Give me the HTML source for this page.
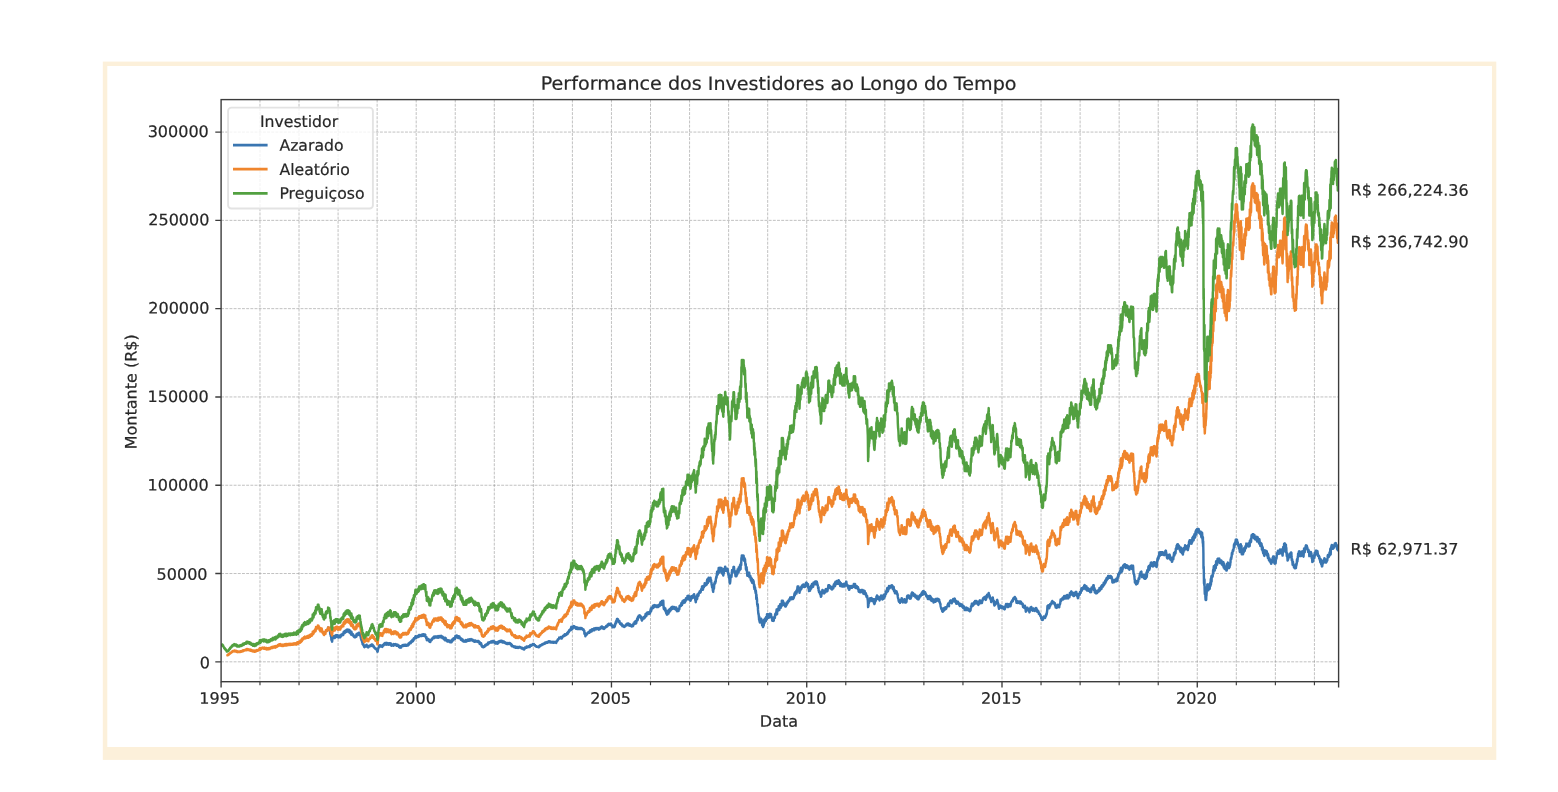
<!DOCTYPE html>
<html lang="pt-BR"><head><meta charset="utf-8"><title>Performance dos Investidores ao Longo do Tempo</title>
<style>
html,body{margin:0;padding:0;background:#ffffff;}
body{width:1558px;height:792px;position:relative;overflow:hidden;}
svg{position:absolute;left:0;top:0;}
text{font-family:"DejaVu Sans", "Liberation Sans", sans-serif;fill:#262626;stroke:#262626;stroke-width:0.2px;paint-order:stroke;}
</style></head><body>
<svg width="1558" height="792" viewBox="0 0 1558 792">
<rect x="102.8" y="61.6" width="1393.5" height="698.3" fill="#fcf0da"/>
<rect x="107.3" y="66" width="1384.65" height="681" fill="#ffffff"/>
<path d="M259.97,99.6V681.7M299.03,99.6V681.7M338.08,99.6V681.7M377.14,99.6V681.7M416.19,99.6V681.7M455.24,99.6V681.7M494.30,99.6V681.7M533.35,99.6V681.7M572.41,99.6V681.7M611.46,99.6V681.7M650.51,99.6V681.7M689.57,99.6V681.7M728.62,99.6V681.7M767.68,99.6V681.7M806.73,99.6V681.7M845.78,99.6V681.7M884.84,99.6V681.7M923.89,99.6V681.7M962.95,99.6V681.7M1002.00,99.6V681.7M1041.05,99.6V681.7M1080.11,99.6V681.7M1119.16,99.6V681.7M1158.22,99.6V681.7M1197.27,99.6V681.7M1236.32,99.6V681.7M1275.38,99.6V681.7M1314.43,99.6V681.7M221.1,661.82H1338.6M221.1,573.53H1338.6M221.1,485.24H1338.6M221.1,396.95H1338.6M221.1,308.65H1338.6M221.1,220.36H1338.6M221.1,132.07H1338.6" fill="none" stroke="#808080" stroke-width="0.79" stroke-dasharray="2.92 1.26" stroke-opacity="0.62"/>
<clipPath id="c"><rect x="221.1" y="99.6" width="1117.50" height="582.10"/></clipPath>
<g clip-path="url(#c)" fill="none" stroke-width="2.45" stroke-linejoin="round" stroke-linecap="butt">
<path d="M327.7,629.3L327.8,629.5L328.0,628.8L328.1,627.5L328.3,628.5L328.5,628.9L328.6,628.9L328.8,629.4L328.9,629.7L329.1,628.2L329.2,628.6L329.4,629.5L329.6,629.7L329.7,629.9L329.9,630.1L330.0,630.6L330.2,633.2L330.4,634.7L330.5,633.5L330.7,634.6L330.8,636.1L331.0,636.7L331.1,636.4L331.3,638.1L331.4,639.9L331.6,640.4L331.8,640.5L331.9,641.1L332.1,641.7L332.2,640.8L332.4,638.9L332.6,638.4L332.7,636.5L332.9,638.5L333.0,638.3L333.2,638.1L333.3,636.4L333.5,636.2L333.6,637.1L333.8,637.7L334.0,637.4L334.1,637.6L334.3,636.5L334.4,635.9L334.6,636.1L334.8,638.1L334.9,637.5L335.1,637.3L335.2,636.0L335.4,635.5L335.5,635.5L335.7,635.4L335.9,636.4L336.0,636.1L336.2,636.3L336.3,635.1L336.5,636.9L336.6,635.7L336.8,636.1L337.0,635.5L337.1,635.9L337.3,635.2L337.4,635.4L337.6,635.9L337.8,635.8L337.9,637.1L338.1,637.4L338.2,637.4L338.4,635.7L338.5,635.5L338.7,636.1L338.9,637.4L339.0,635.7L339.2,635.9L339.3,636.0L339.5,637.1L339.6,636.7L339.8,635.8L339.9,635.9L340.1,636.8L340.3,637.3L340.4,635.2L340.6,635.7L340.7,636.0L340.9,635.9L341.1,634.8L341.2,636.0L341.4,635.7L341.5,635.1L341.7,635.5L341.8,634.5L342.0,634.4L342.1,634.5L342.3,634.0L342.5,634.2L342.6,633.8L342.8,633.9L342.9,634.1L343.1,634.5L343.3,634.9L343.4,633.6L343.6,632.1L343.7,633.6L343.9,632.1L344.0,633.0L344.2,632.1L344.4,631.3L344.5,632.2L344.7,633.0L344.8,632.3L345.0,632.7L345.1,632.4L345.3,632.3L345.5,631.1L345.6,630.4L345.8,631.0L345.9,630.9L346.1,630.9L346.2,631.4L346.4,631.9L346.6,630.2L346.7,629.8L346.9,631.8L347.0,631.4L347.2,631.4L347.4,629.7L347.5,630.9L347.7,630.4L347.8,630.5L348.0,629.7L348.1,630.4L348.3,629.7L348.4,629.7L348.6,630.8L348.8,630.5L348.9,631.5L349.1,631.0L349.2,632.5L349.4,630.0L349.6,630.3L349.7,630.8L349.9,632.9L350.0,632.5L350.2,632.2L350.3,632.6L350.5,632.3L350.6,633.0L350.8,632.6L351.0,634.5L351.1,633.7L351.3,633.9L351.4,631.6L351.6,633.3L351.8,633.2L351.9,634.9L352.1,633.4L352.2,633.9L352.4,633.9L352.5,633.9L352.7,634.4L352.9,635.3L353.0,634.1L353.2,635.3L353.3,636.2L353.5,636.0L353.6,635.6L353.8,635.7L354.0,636.6L354.1,637.0L354.3,637.1L354.4,636.0L354.6,636.2L354.8,636.6L354.9,635.9L355.1,635.8L355.2,636.6L355.4,637.3L355.5,636.9L355.7,636.0L355.9,635.4L356.0,636.4L356.2,635.2L356.3,636.8L356.5,636.2L356.6,634.0L356.8,634.4L356.9,634.6L357.1,635.2L357.3,634.6L357.4,634.0L357.6,633.4L357.7,634.9L357.9,634.8L358.1,634.9L358.2,634.3L358.4,633.5L358.5,633.3L358.7,632.9L358.8,634.8L359.0,634.1L359.1,633.1L359.3,633.0L359.5,634.0L359.6,633.9L359.8,632.8L359.9,634.3L360.1,634.7L360.3,635.4L360.4,636.0L360.6,636.7L360.7,636.9L360.9,638.1L361.0,638.7L361.2,638.6L361.4,640.0L361.5,639.6L361.7,639.9L361.8,640.9L362.0,641.7L362.1,641.3L362.3,642.5L362.5,643.0L362.6,644.2L362.8,644.4L362.9,643.3L363.1,643.6L363.2,644.4L363.4,645.1L363.6,645.6L363.7,645.4L363.9,645.9L364.0,646.3L364.2,647.0L364.4,647.1L364.5,646.1L364.7,646.9L364.8,647.0L365.0,646.3L365.1,646.0L365.3,645.8L365.4,645.4L365.6,645.9L365.8,646.6L365.9,645.8L366.1,645.9L366.2,645.7L366.4,645.5L366.6,644.8L366.7,645.7L366.9,645.8L367.0,646.1L367.2,645.6L367.3,646.4L367.5,645.9L367.6,646.6L367.8,647.2L368.0,646.5L368.1,646.4L368.3,646.9L368.4,647.4L368.6,646.8L368.8,646.0L368.9,646.3L369.1,646.3L369.2,646.0L369.4,645.8L369.5,646.0L369.7,645.9L369.9,646.2L370.0,645.9L370.2,645.8L370.3,645.2L370.5,645.9L370.6,645.9L370.8,645.4L371.0,645.3L371.1,645.9L371.3,645.0L371.4,645.4L371.6,644.5L371.8,645.5L371.9,645.5L372.1,645.9L372.2,645.3L372.4,644.6L372.5,645.2L372.7,646.3L372.9,646.0L373.0,645.3L373.2,645.7L373.3,646.3L373.5,646.1L373.6,646.5L373.8,646.6L373.9,646.3L374.1,647.5L374.3,647.2L374.4,647.9L374.6,647.8L374.7,648.0L374.9,648.2L375.1,648.0L375.2,648.1L375.4,648.5L375.5,649.1L375.7,648.9L375.8,649.0L376.0,648.6L376.2,649.1L376.3,649.2L376.5,649.4L376.6,649.8L376.8,649.8L376.9,649.9L377.1,650.6L377.3,651.3L377.4,651.6L377.6,651.7L377.7,651.3L377.9,650.0L378.0,649.5L378.2,648.6L378.4,648.3L378.5,647.4L378.7,647.4L378.8,647.4L379.0,646.8L379.1,646.4L379.3,645.4L379.5,645.3L379.6,645.6L379.8,645.9L379.9,645.9L380.1,645.5L380.2,645.7L380.4,645.5L380.6,646.4L380.7,645.4L380.9,646.6L381.0,646.1L381.2,645.9L381.4,646.3L381.5,646.0L381.7,645.6L381.8,645.6L382.0,646.1L382.1,646.0L382.3,646.6L382.4,646.9L382.6,645.5L382.8,645.6L382.9,645.0L383.1,645.2L383.2,644.8L383.4,645.1L383.6,645.4L383.7,644.7L383.9,644.2L384.0,643.7L384.2,643.7L384.3,644.5L384.5,644.1L384.7,644.4L384.8,643.2L385.0,643.8L385.1,642.9L385.3,643.8L385.4,644.0L385.6,643.2L385.8,643.7L385.9,643.9L386.1,643.0L386.2,644.7L386.4,644.7L386.5,643.2L386.7,642.9L386.9,643.8L387.0,644.0L387.2,644.2L387.3,643.3L387.5,643.9L387.6,644.5L387.8,644.0L388.0,643.7L388.1,643.1L388.3,643.8L388.4,644.1L388.6,643.5L388.8,644.7L388.9,644.1L389.1,644.7L389.2,644.3L389.4,643.7L389.5,643.3L389.7,643.8L389.9,643.8L390.0,643.3L390.2,643.2L390.3,643.8L390.5,644.3L390.6,644.5L390.8,643.5L390.9,644.3L391.1,645.4L391.3,645.3L391.4,645.8L391.6,645.5L391.7,645.3L391.9,645.4L392.1,644.6L392.2,645.6L392.4,645.5L392.5,645.5L392.7,644.9L392.8,644.5L393.0,644.9L393.2,645.1L393.3,644.6L393.5,645.4L393.6,645.6L393.8,644.7L393.9,644.1L394.1,644.7L394.3,645.1L394.4,644.3L394.6,644.1L394.7,644.1L394.9,644.3L395.1,644.7L395.2,644.4L395.4,644.7L395.5,644.1L395.7,644.2L395.8,644.2L396.0,645.0L396.1,645.0L396.3,645.2L396.5,645.8L396.6,644.8L396.8,644.6L396.9,644.8L397.1,644.9L397.2,644.8L397.4,645.2L397.6,645.3L397.7,644.7L397.9,645.7L398.0,645.1L398.2,645.3L398.4,645.8L398.5,646.0L398.7,646.4L398.8,646.1L399.0,647.0L399.1,646.0L399.3,645.9L399.4,647.0L399.6,647.0L399.8,647.6L399.9,647.4L400.1,646.7L400.2,646.3L400.4,647.3L400.6,647.6L400.7,646.9L400.9,646.8L401.0,646.9L401.2,647.5L401.3,646.0L401.5,646.2L401.7,645.9L401.8,645.9L402.0,645.5L402.1,645.6L402.3,646.0L402.4,646.0L402.6,646.1L402.8,645.9L402.9,646.0L403.1,645.0L403.2,645.6L403.4,645.3L403.6,645.9L403.7,645.6L403.9,645.0L404.0,645.0L404.2,645.1L404.3,645.5L404.5,645.7L404.6,645.0L404.8,644.9L405.0,645.7L405.1,645.5L405.3,645.1L405.4,644.9L405.6,645.3L405.8,645.3L405.9,645.5L406.1,645.8L406.2,645.0L406.4,645.5L406.5,645.7L406.7,645.8L406.9,645.2L407.0,645.4L407.2,645.1L407.3,644.8L407.5,644.6L407.6,645.5L407.8,645.2L407.9,645.5L408.1,645.2L408.3,644.6L408.4,644.2L408.6,643.4L408.7,644.5L408.9,644.7L409.1,643.7L409.2,643.1L409.4,643.2L409.5,643.5L409.7,643.2L409.8,642.4L410.0,643.4L410.2,642.7L410.3,642.6L410.5,642.4L410.6,643.2L410.8,643.1L410.9,643.0L411.1,642.3L411.3,642.0L411.4,640.9L411.6,641.7L411.7,641.9L411.9,641.9L412.1,641.7L412.2,641.7L412.4,639.9L412.5,639.7L412.7,640.0L412.8,640.8L413.0,641.2L413.1,641.2L413.3,639.2L413.5,639.7L413.6,640.0L413.8,639.7L413.9,638.2L414.1,638.1L414.2,638.7L414.4,638.9L414.6,638.7L414.7,638.7L414.9,638.0L415.0,638.1L415.2,637.1L415.4,636.4L415.5,636.2L415.7,637.0L415.8,637.2L416.0,636.8L416.1,636.5L416.3,637.0L416.4,636.7L416.6,637.7L416.8,637.1L416.9,637.3L417.1,637.2L417.2,636.8L417.4,636.3L417.6,636.1L417.7,637.1L417.9,637.0L418.0,636.6L418.2,636.9L418.3,636.7L418.5,635.8L418.7,636.1L418.8,636.8L419.0,635.4L419.1,635.1L419.3,636.1L419.4,635.9L419.6,635.2L419.8,635.8L419.9,635.1L420.1,636.0L420.2,635.8L420.4,635.9L420.6,635.3L420.7,635.8L420.9,635.8L421.0,636.1L421.2,634.9L421.3,635.6L421.5,634.7L421.6,634.9L421.8,636.0L422.0,635.7L422.1,635.6L422.3,634.5L422.4,634.7L422.6,635.6L422.8,635.5L422.9,635.4L423.1,635.8L423.2,634.7L423.4,635.2L423.5,634.2L423.7,634.2L423.9,634.2L424.0,634.5L424.2,635.4L424.3,636.0L424.5,634.9L424.6,635.6L424.8,635.4L424.9,636.1L425.1,635.2L425.3,634.6L425.4,635.5L425.6,636.6L425.7,636.9L425.9,637.2L426.1,637.6L426.2,638.4L426.4,637.0L426.5,638.7L426.7,638.7L426.8,640.2L427.0,639.7L427.2,639.2L427.3,640.1L427.5,638.8L427.6,640.0L427.8,639.7L427.9,640.1L428.1,638.9L428.3,639.0L428.4,640.1L428.6,640.7L428.7,640.7L428.9,639.5L429.1,640.1L429.2,639.9L429.4,641.7L429.5,641.1L429.7,640.5L429.8,640.1L430.0,641.5L430.1,641.9L430.3,641.9L430.5,640.9L430.6,640.1L430.8,639.7L430.9,639.8L431.1,640.3L431.2,640.0L431.4,640.3L431.6,640.1L431.7,639.9L431.9,639.5L432.0,639.0L432.2,638.5L432.4,638.2L432.5,638.6L432.7,638.2L432.8,637.9L433.0,637.8L433.1,638.0L433.3,637.2L433.4,638.0L433.6,637.6L433.8,638.3L433.9,638.0L434.1,637.4L434.2,636.5L434.4,636.6L434.6,637.5L434.7,637.5L434.9,637.5L435.0,637.1L435.2,636.4L435.3,636.4L435.5,636.7L435.7,637.5L435.8,637.3L436.0,636.5L436.1,637.5L436.3,637.6L436.4,637.5L436.6,636.8L436.8,637.1L436.9,637.2L437.1,636.4L437.2,637.1L437.4,637.6L437.6,636.6L437.7,636.6L437.9,637.7L438.0,637.7L438.2,637.4L438.3,636.1L438.5,637.6L438.6,636.3L438.8,637.2L439.0,636.7L439.1,636.3L439.3,636.0L439.4,636.1L439.6,636.6L439.8,636.3L439.9,636.5L440.1,637.2L440.2,636.6L440.4,636.3L440.5,635.9L440.7,636.6L440.9,636.4L441.0,636.3L441.2,635.9L441.3,635.9L441.5,636.1L441.6,636.0L441.8,637.0L442.0,637.8L442.1,637.6L442.3,637.4L442.4,637.4L442.6,638.3L442.7,637.1L442.9,636.9L443.1,637.1L443.2,637.1L443.4,637.7L443.5,638.0L443.7,638.0L443.8,637.8L444.0,638.1L444.2,639.5L444.3,638.7L444.5,637.9L444.6,638.1L444.8,637.8L444.9,638.6L445.1,639.5L445.3,640.4L445.4,639.7L445.6,638.0L445.7,638.3L445.9,639.9L446.1,639.8L446.2,640.1L446.4,640.0L446.5,640.5L446.7,640.6L446.8,639.7L447.0,640.3L447.1,641.1L447.3,641.6L447.5,641.2L447.6,641.3L447.8,640.9L447.9,641.2L448.1,641.1L448.2,640.2L448.4,640.6L448.6,641.1L448.7,641.5L448.9,641.1L449.0,640.6L449.2,640.6L449.4,640.9L449.5,640.7L449.7,641.0L449.8,640.4L450.0,641.2L450.1,642.3L450.3,641.1L450.5,641.1L450.6,641.4L450.8,641.1L450.9,642.0L451.1,641.5L451.2,642.2L451.4,642.0L451.6,642.1L451.7,641.7L451.9,640.8L452.0,640.8L452.2,639.4L452.3,639.6L452.5,639.2L452.7,640.3L452.8,640.6L453.0,640.0L453.1,639.9L453.3,638.5L453.4,638.6L453.6,639.2L453.8,639.2L453.9,639.1L454.1,639.5L454.2,638.0L454.4,638.0L454.6,638.1L454.7,637.8L454.9,638.9L455.0,638.4L455.2,638.4L455.3,636.6L455.5,635.9L455.6,636.0L455.8,636.0L456.0,636.5L456.1,636.4L456.3,637.0L456.4,636.6L456.6,636.8L456.8,635.5L456.9,636.3L457.1,636.0L457.2,637.5L457.4,636.8L457.5,636.6L457.7,636.2L457.9,637.0L458.0,636.2L458.2,638.0L458.3,637.2L458.5,636.3L458.6,637.9L458.8,637.4L459.0,637.2L459.1,636.7L459.3,637.5L459.4,636.4L459.6,637.1L459.7,637.5L459.9,638.1L460.1,637.9L460.2,638.6L460.4,638.4L460.5,638.5L460.7,638.7L460.9,639.8L461.0,639.1L461.2,638.9L461.3,638.5L461.5,638.7L461.6,639.0L461.8,639.3L461.9,639.4L462.1,640.5L462.3,640.2L462.4,639.2L462.6,640.8L462.7,640.6L462.9,640.3L463.1,640.1L463.2,640.4L463.4,641.6L463.5,641.0L463.7,640.6L463.8,640.7L464.0,640.9L464.1,641.3L464.3,641.6L464.5,641.2L464.6,641.3L464.8,641.1L464.9,641.3L465.1,641.0L465.2,640.6L465.4,641.6L465.6,641.5L465.7,641.6L465.9,641.3L466.0,640.1L466.2,641.0L466.4,641.6L466.5,640.5L466.7,640.8L466.8,640.0L467.0,640.0L467.1,640.5L467.3,640.8L467.5,640.3L467.6,639.8L467.8,640.3L467.9,640.5L468.1,640.5L468.2,640.8L468.4,639.6L468.6,639.5L468.7,640.3L468.9,640.8L469.0,640.5L469.2,639.4L469.4,639.4L469.5,639.9L469.7,639.3L469.8,640.0L470.0,640.6L470.1,640.5L470.3,640.5L470.4,640.3L470.6,639.4L470.8,639.9L470.9,640.1L471.1,639.4L471.2,639.1L471.4,639.4L471.6,639.9L471.7,640.0L471.9,639.5L472.0,639.6L472.2,639.7L472.3,640.3L472.5,640.0L472.6,640.6L472.8,640.0L473.0,640.5L473.1,640.9L473.3,640.7L473.4,640.1L473.6,641.0L473.8,640.9L473.9,641.4L474.1,641.6L474.2,640.5L474.4,641.5L474.5,641.2L474.7,641.4L474.9,641.3L475.0,641.8L475.2,641.4L475.3,640.5L475.5,641.2L475.6,641.2L475.8,641.6L476.0,641.6L476.1,641.6L476.3,641.6L476.4,641.5L476.6,641.4L476.7,641.5L476.9,641.1L477.1,641.7L477.2,641.7L477.4,641.2L477.5,641.0L477.7,641.6L477.9,641.6L478.0,642.0L478.2,641.5L478.3,641.6L478.5,641.0L478.6,642.1L478.8,641.3L478.9,641.6L479.1,642.3L479.3,642.5L479.4,642.6L479.6,643.8L479.7,642.1L479.9,642.7L480.1,643.1L480.2,643.4L480.4,644.2L480.5,643.7L480.7,644.2L480.8,643.7L481.0,643.8L481.1,643.1L481.3,644.4L481.5,644.4L481.6,645.7L481.8,646.2L481.9,646.2L482.1,645.9L482.2,646.9L482.4,646.4L482.6,646.6L482.7,646.3L482.9,647.1L483.0,646.7L483.2,646.4L483.4,646.8L483.5,647.2L483.7,646.9L483.8,646.4L484.0,646.3L484.1,646.6L484.3,646.8L484.5,646.4L484.6,645.9L484.8,646.5L484.9,646.0L485.1,645.7L485.2,645.0L485.4,644.9L485.6,645.3L485.7,645.5L485.9,645.4L486.0,645.3L486.2,645.5L486.4,645.0L486.5,644.5L486.7,645.0L486.8,644.5L487.0,644.5L487.1,644.3L487.3,643.6L487.4,643.6L487.6,644.2L487.8,644.5L487.9,643.9L488.1,643.0L488.2,642.5L488.4,642.9L488.6,643.7L488.7,643.3L488.9,642.8L489.0,643.4L489.2,642.8L489.3,642.8L489.5,643.1L489.6,642.3L489.8,642.3L490.0,642.6L490.1,642.3L490.3,642.6L490.4,642.2L490.6,642.1L490.8,642.3L490.9,641.5L491.1,641.5L491.2,641.6L491.4,641.8L491.5,642.1L491.7,642.0L491.9,642.6L492.0,642.0L492.2,641.5L492.3,641.1L492.5,642.0L492.6,642.2L492.8,641.6L493.0,641.2L493.1,641.0L493.3,642.3L493.4,641.4L493.6,641.4L493.8,641.1L493.9,642.3L494.1,642.5L494.2,641.8L494.4,641.7L494.5,642.4L494.7,642.9L494.9,642.0L495.0,642.0L495.2,642.5L495.3,642.6L495.5,643.5L495.6,642.4L495.8,642.0L495.9,642.3L496.1,643.6L496.3,643.4L496.4,642.8L496.6,642.8L496.7,642.7L496.9,642.9L497.1,642.7L497.2,643.5L497.4,643.6L497.5,643.1L497.7,643.6L497.8,642.1L498.0,642.7L498.1,643.4L498.3,642.9L498.5,641.5L498.6,641.8L498.8,642.4L498.9,642.2L499.1,641.7L499.3,641.3L499.4,641.8L499.6,641.1L499.7,641.3L499.9,641.7L500.0,642.1L500.2,641.8L500.4,641.6L500.5,641.2L500.7,640.7L500.8,640.7L501.0,641.7L501.1,641.6L501.3,641.1L501.5,641.5L501.6,640.8L501.8,641.4L501.9,641.7L502.1,640.9L502.2,641.6L502.4,642.5L502.6,641.4L502.7,641.6L502.9,641.4L503.0,641.8L503.2,642.0L503.4,642.4L503.5,642.0L503.7,641.5L503.8,642.2L504.0,641.7L504.1,642.2L504.3,642.7L504.4,642.3L504.6,642.4L504.8,642.3L504.9,642.2L505.1,642.6L505.2,642.4L505.4,643.3L505.6,642.6L505.7,643.1L505.9,642.9L506.0,643.4L506.2,643.0L506.3,643.2L506.5,643.8L506.6,643.5L506.8,643.6L507.0,644.0L507.1,643.0L507.3,643.0L507.4,643.9L507.6,643.5L507.8,644.0L507.9,643.7L508.1,643.3L508.2,643.5L508.4,643.8L508.5,643.4L508.7,643.2L508.9,643.5L509.0,643.0L509.2,643.8L509.3,643.2L509.5,643.9L509.6,643.1L509.8,643.0L510.0,643.6L510.1,643.4L510.3,643.3L510.4,643.7L510.6,644.3L510.8,644.5L510.9,644.6L511.1,644.6L511.2,644.9L511.4,645.7L511.5,645.2L511.7,644.6L511.9,645.3L512.0,646.3L512.2,646.1L512.3,646.0L512.5,645.8L512.6,646.0L512.8,646.1L513.0,646.0L513.1,646.4L513.3,646.2L513.4,646.5L513.6,646.2L513.7,646.2L513.9,646.4L514.0,647.2L514.2,646.5L514.4,646.7L514.5,646.6L514.7,646.7L514.8,647.0L515.0,646.9L515.1,646.4L515.3,647.3L515.5,647.8L515.6,647.7L515.8,647.3L515.9,647.6L516.1,647.4L516.3,647.8L516.4,647.7L516.6,647.4L516.7,647.1L516.9,647.5L517.0,647.0L517.2,647.3L517.4,647.1L517.5,647.2L517.7,647.2L517.8,647.9L518.0,647.5L518.1,647.3L518.3,647.4L518.5,647.9L518.6,647.6L518.8,647.4L518.9,647.2L519.1,646.9L519.2,647.2L519.4,647.1L519.6,647.0L519.7,647.4L519.9,647.6L520.0,647.6L520.2,647.1L520.4,647.3L520.5,647.4L520.7,647.5L520.8,647.3L521.0,647.5L521.1,647.6L521.3,647.9L521.5,648.1L521.6,648.6L521.8,648.5L521.9,647.9L522.1,647.8L522.2,648.1L522.4,648.4L522.5,648.1L522.7,648.3L522.9,648.9L523.0,649.0L523.2,649.1L523.3,648.6L523.5,648.8L523.6,648.6L523.8,649.1L524.0,649.1L524.1,649.6L524.3,648.9L524.4,648.8L524.6,648.8L524.8,648.2L524.9,647.5L525.1,647.7L525.2,647.5L525.4,647.8L525.5,647.7L525.7,647.2L525.9,647.6L526.0,647.4L526.2,647.5L526.3,647.8L526.5,647.6L526.6,646.5L526.8,647.4L527.0,647.1L527.1,647.1L527.3,646.8L527.4,647.0L527.6,646.8L527.8,647.2L527.9,647.1L528.1,646.8L528.2,646.6L528.4,646.5L528.5,646.5L528.7,647.1L528.9,646.8L529.0,646.8L529.2,647.0L529.3,646.1L529.5,646.0L529.6,646.5L529.8,647.1L530.0,646.2L530.1,645.6L530.3,645.0L530.4,646.1L530.6,646.0L530.7,645.4L530.9,645.6L531.0,645.8L531.2,645.6L531.4,645.6L531.5,645.5L531.7,645.3L531.8,645.5L532.0,645.3L532.2,644.6L532.3,644.8L532.5,645.1L532.6,644.7L532.8,644.3L532.9,644.0L533.1,644.2L533.3,644.5L533.4,644.3L533.6,644.6L533.7,644.2L533.9,644.1L534.0,644.5L534.2,644.7L534.4,645.3L534.5,645.1L534.7,645.6L534.8,644.9L535.0,644.9L535.1,645.5L535.3,645.8L535.5,645.7L535.6,646.2L535.8,646.2L535.9,646.3L536.1,646.2L536.2,646.2L536.4,646.7L536.6,646.3L536.7,646.4L536.9,646.6L537.0,646.8L537.2,646.7L537.4,646.7L537.5,646.9L537.7,647.0L537.8,646.9L538.0,647.0L538.1,647.0L538.3,647.2L538.5,647.0L538.6,646.7L538.8,646.3L538.9,646.9L539.1,647.1L539.2,646.7L539.4,646.3L539.5,646.3L539.7,645.6L539.9,646.2L540.0,645.8L540.2,646.0L540.3,645.6L540.5,645.9L540.7,645.5L540.8,645.2L541.0,645.1L541.1,645.2L541.3,645.0L541.4,644.8L541.6,645.1L541.8,645.1L541.9,644.8L542.1,645.0L542.2,644.2L542.4,644.0L542.5,643.9L542.7,644.0L542.9,644.2L543.0,644.1L543.2,644.2L543.3,644.0L543.5,644.3L543.6,643.9L543.8,643.5L544.0,643.5L544.1,643.4L544.3,643.8L544.4,643.2L544.6,643.4L544.8,642.7L544.9,643.2L545.1,642.8L545.2,643.3L545.4,643.4L545.5,643.2L545.7,642.5L545.9,642.4L546.0,642.5L546.2,642.5L546.3,642.4L546.5,642.6L546.6,642.3L546.8,642.5L547.0,642.3L547.1,641.9L547.3,642.3L547.4,642.3L547.6,642.7L547.7,642.0L547.9,642.4L548.0,641.9L548.2,641.7L548.4,641.6L548.5,642.3L548.7,642.0L548.8,641.2L549.0,641.5L549.2,642.1L549.3,641.9L549.5,642.1L549.6,641.5L549.8,641.8L549.9,641.8L550.1,642.3L550.3,641.6L550.4,642.0L550.6,642.5L550.7,642.5L550.9,642.4L551.0,641.6L551.2,642.2L551.4,642.3L551.5,642.6L551.7,641.9L551.8,642.2L552.0,642.0L552.1,642.0L552.3,642.1L552.5,642.0L552.6,642.3L552.8,642.4L552.9,642.0L553.1,642.7L553.2,642.4L553.4,641.8L553.6,641.9L553.7,642.2L553.9,642.4L554.0,642.6L554.2,642.2L554.4,642.1L554.5,642.0L554.7,642.2L554.8,642.3L555.0,642.5L555.1,642.1L555.3,642.6L555.5,642.4L555.6,642.0L555.8,641.9L555.9,642.7L556.1,642.9L556.2,642.9L556.4,642.3L556.5,641.2L556.7,641.2L556.9,641.0L557.0,641.2L557.2,641.1L557.3,640.4L557.5,639.9L557.7,640.5L557.8,639.5L558.0,640.0L558.1,639.8L558.3,638.9L558.4,639.1L558.6,639.1L558.8,638.8L558.9,638.9L559.1,638.7L559.2,637.6L559.4,638.2L559.5,638.4L559.7,638.2L559.9,637.9L560.0,637.8L560.2,638.1L560.3,637.9L560.5,637.8L560.6,638.1L560.8,637.1L561.0,638.3L561.1,637.7L561.3,637.4L561.4,637.6L561.6,637.9L561.8,638.5L561.9,638.0L562.1,637.5L562.2,637.2L562.4,637.5L562.5,636.4L562.7,636.4L562.9,636.1L563.0,635.9L563.2,635.8L563.3,636.4L563.5,636.2L563.6,635.6L563.8,635.3L564.0,635.9L564.1,635.7L564.3,636.0L564.4,636.0L564.6,634.5L564.7,634.3L564.9,634.3L565.1,634.8L565.2,634.7L565.4,635.4L565.5,635.1L565.7,634.9L565.8,634.8L566.0,635.1L566.2,634.8L566.3,634.0L566.5,634.3L566.6,634.5L566.8,634.4L566.9,633.9L567.1,633.0L567.3,633.2L567.4,633.4L567.6,634.0L567.7,632.4L567.9,632.4L568.0,632.6L568.2,631.7L568.4,631.8L568.5,632.0L568.7,632.4L568.8,631.8L569.0,631.6L569.1,630.2L569.3,631.2L569.5,630.6L569.6,630.2L569.8,630.6L569.9,630.5L570.1,629.5L570.2,629.9L570.4,629.2L570.6,629.7L570.7,630.2L570.9,630.1L571.0,628.2L571.2,627.3L571.4,626.8L571.5,627.4L571.7,627.5L571.8,627.4L572.0,629.2L572.1,628.6L572.3,628.6L572.5,628.5L572.6,628.7L572.8,628.0L572.9,627.7L573.1,627.3L573.2,627.5L573.4,626.1L573.6,626.5L573.7,627.2L573.9,627.6L574.0,627.6L574.2,626.1L574.3,626.1L574.5,627.0L574.7,627.4L574.8,627.3L575.0,627.7L575.1,627.8L575.3,627.5L575.4,627.5L575.6,628.3L575.8,628.6L575.9,627.2L576.1,628.5L576.2,628.6L576.4,628.0L576.5,628.1L576.7,628.0L576.9,627.6L577.0,628.3L577.2,629.0L577.3,629.1L577.5,629.1L577.6,627.8L577.8,628.0L578.0,627.9L578.1,628.9L578.3,628.5L578.4,628.5L578.6,628.4L578.8,629.0L578.9,628.5L579.1,628.8L579.2,628.5L579.4,629.1L579.5,628.8L579.7,628.0L579.9,628.3L580.0,628.7L580.2,628.2L580.3,628.1L580.5,628.6L580.6,629.1L580.8,628.6L581.0,628.8L581.1,627.9L581.3,628.5L581.4,628.7L581.6,628.5L581.7,628.2L581.9,628.8L582.1,628.5L582.2,628.8L582.4,629.4L582.5,629.5L582.7,629.2L582.8,629.0L583.0,629.8L583.2,630.0L583.3,630.1L583.5,629.4L583.6,629.8L583.8,630.1L584.0,630.9L584.1,630.9L584.3,630.8L584.4,633.8L584.6,633.2L584.7,632.7L584.9,633.6L585.0,633.1L585.2,633.8L585.4,636.3L585.5,635.6L585.7,635.2L585.8,635.1L586.0,635.0L586.1,634.8L586.3,634.7L586.5,634.8L586.6,634.7L586.8,634.2L586.9,633.5L587.1,633.3L587.2,633.5L587.4,633.6L587.6,633.5L587.7,633.0L587.9,632.4L588.0,632.4L588.2,632.9L588.4,633.0L588.5,632.2L588.7,632.3L588.8,632.4L589.0,632.2L589.1,632.2L589.3,631.8L589.5,632.7L589.6,631.5L589.8,630.8L589.9,630.5L590.1,630.9L590.2,631.4L590.4,631.7L590.6,631.5L590.7,630.4L590.9,630.3L591.0,630.0L591.2,631.1L591.3,630.5L591.5,631.6L591.7,630.9L591.8,630.9L592.0,629.2L592.1,629.2L592.3,629.1L592.5,629.1L592.6,630.4L592.8,630.5L592.9,630.1L593.1,629.7L593.2,630.3L593.4,629.7L593.5,630.2L593.7,629.6L593.9,628.6L594.0,629.8L594.2,630.0L594.3,630.3L594.5,629.6L594.6,628.4L594.8,628.3L595.0,629.0L595.1,628.6L595.3,629.3L595.4,629.0L595.6,629.3L595.8,628.7L595.9,628.7L596.1,628.1L596.2,628.3L596.4,628.6L596.5,628.7L596.7,629.1L596.9,628.2L597.0,628.0L597.2,628.8L597.3,628.9L597.5,628.7L597.6,629.0L597.8,628.9L598.0,628.7L598.1,628.0L598.3,628.4L598.4,628.8L598.6,628.8L598.7,629.2L598.9,629.7L599.1,629.0L599.2,629.2L599.4,629.2L599.5,629.3L599.7,628.8L599.8,629.0L600.0,628.7L600.2,628.2L600.3,627.6L600.5,627.9L600.6,628.4L600.8,628.0L601.0,627.2L601.1,627.6L601.3,627.3L601.4,627.5L601.6,626.5L601.7,626.5L601.9,626.5L602.0,626.5L602.2,627.8L602.4,627.8L602.5,628.4L602.7,626.9L602.8,627.3L603.0,627.8L603.1,627.2L603.3,628.1L603.5,627.9L603.6,627.7L603.8,628.8L603.9,628.9L604.1,628.9L604.2,628.2L604.4,627.7L604.6,628.4L604.7,627.7L604.9,627.9L605.0,627.4L605.2,627.0L605.4,627.5L605.5,627.4L605.7,627.3L605.8,626.6L606.0,626.2L606.1,625.9L606.3,627.0L606.5,626.9L606.6,626.8L606.8,626.1L606.9,626.0L607.1,626.5L607.2,626.3L607.4,625.1L607.6,626.1L607.7,624.5L607.9,624.3L608.0,625.0L608.2,625.0L608.3,624.9L608.5,624.2L608.7,623.8L608.8,624.2L609.0,624.6L609.1,623.9L609.3,624.0L609.5,624.0L609.6,624.8L609.8,625.0L609.9,624.3L610.1,623.6L610.2,623.6L610.4,624.3L610.5,624.7L610.7,624.2L610.9,623.7L611.0,624.6L611.2,624.1L611.3,624.3L611.5,625.1L611.6,625.7L611.8,625.1L612.0,625.8L612.1,625.6L612.3,625.4L612.4,626.1L612.6,627.2L612.8,626.9L612.9,627.0L613.1,626.4L613.2,627.0L613.4,626.9L613.5,626.6L613.7,626.0L613.9,626.5L614.0,627.2L614.2,626.4L614.3,625.5L614.5,625.8L614.6,626.7L614.8,626.7L615.0,624.9L615.1,624.0L615.3,624.8L615.4,624.0L615.6,623.3L615.7,622.2L615.9,622.5L616.1,623.3L616.2,621.5L616.4,620.6L616.5,621.0L616.7,621.9L616.9,620.7L617.0,618.9L617.2,620.2L617.3,619.9L617.5,620.2L617.6,618.9L617.8,619.5L618.0,619.4L618.1,619.9L618.3,620.4L618.4,620.8L618.6,621.0L618.7,621.2L618.9,622.1L619.0,621.6L619.2,621.0L619.4,621.0L619.5,621.4L619.7,622.8L619.8,623.4L620.0,623.5L620.1,623.9L620.3,624.0L620.5,623.2L620.6,623.7L620.8,623.5L620.9,623.8L621.1,623.7L621.2,624.0L621.4,624.9L621.6,624.6L621.7,623.8L621.9,624.5L622.0,624.9L622.2,625.2L622.4,626.2L622.5,625.5L622.7,625.1L622.8,625.9L623.0,625.8L623.1,625.4L623.3,626.0L623.5,625.7L623.6,625.8L623.8,626.1L623.9,625.9L624.1,626.1L624.2,627.0L624.4,626.9L624.6,626.5L624.7,625.9L624.9,626.4L625.0,625.7L625.2,626.1L625.4,626.1L625.5,626.2L625.7,625.9L625.8,625.0L626.0,624.7L626.1,625.3L626.3,624.4L626.5,624.0L626.6,624.1L626.8,625.0L626.9,624.6L627.1,624.1L627.2,624.1L627.4,623.8L627.5,623.6L627.7,624.3L627.9,624.4L628.0,624.7L628.2,625.2L628.3,624.1L628.5,623.5L628.6,625.4L628.8,624.9L629.0,624.5L629.1,624.5L629.3,624.3L629.4,624.5L629.6,625.2L629.8,625.7L629.9,624.2L630.1,625.4L630.2,625.8L630.4,625.3L630.5,624.6L630.7,625.8L630.9,625.9L631.0,625.8L631.2,625.3L631.3,625.5L631.5,626.4L631.6,626.4L631.8,625.7L632.0,625.3L632.1,625.3L632.3,625.7L632.4,625.2L632.6,624.9L632.7,626.2L632.9,625.3L633.1,625.6L633.2,625.8L633.4,625.0L633.5,623.6L633.7,624.5L633.9,623.4L634.0,623.3L634.2,623.3L634.3,623.6L634.5,622.7L634.6,622.0L634.8,622.7L635.0,623.5L635.1,623.7L635.3,623.1L635.4,621.3L635.6,622.1L635.7,622.3L635.9,621.7L636.0,622.9L636.2,623.4L636.4,622.0L636.5,621.2L636.7,621.1L636.8,620.6L637.0,619.2L637.1,619.2L637.3,618.4L637.5,619.1L637.6,620.2L637.8,619.4L637.9,617.3L638.1,617.0L638.2,616.7L638.4,617.3L638.6,617.3L638.7,615.8L638.9,616.1L639.0,616.8L639.2,616.4L639.4,615.8L639.5,615.5L639.7,615.4L639.8,616.6L640.0,617.0L640.1,615.7L640.3,617.0L640.5,617.6L640.6,617.2L640.8,617.3L640.9,616.5L641.1,618.3L641.2,618.0L641.4,618.9L641.6,619.2L641.7,620.0L641.9,620.2L642.0,620.5L642.2,619.1L642.4,618.4L642.5,618.0L642.7,619.1L642.8,619.1L643.0,618.5L643.1,618.9L643.3,618.4L643.5,618.5L643.6,617.7L643.8,616.9L643.9,617.6L644.1,618.4L644.2,618.5L644.4,617.7L644.5,617.0L644.7,616.3L644.9,616.2L645.0,616.9L645.2,617.3L645.3,615.5L645.5,614.9L645.6,613.9L645.8,615.6L646.0,614.4L646.1,615.3L646.3,616.1L646.4,615.0L646.6,614.2L646.8,613.7L646.9,612.7L647.1,613.5L647.2,613.2L647.4,614.2L647.5,613.9L647.7,613.8L647.9,614.1L648.0,612.5L648.2,612.8L648.3,612.3L648.5,612.5L648.6,612.3L648.8,612.8L649.0,614.0L649.1,613.0L649.3,612.9L649.4,613.5L649.6,612.8L649.8,613.5L649.9,612.8L650.1,612.7L650.2,611.2L650.4,612.5L650.5,609.8L650.7,609.6L650.9,608.4L651.0,608.3L651.2,610.9L651.3,610.5L651.5,608.6L651.6,607.7L651.8,609.0L652.0,608.8L652.1,607.6L652.3,607.3L652.4,608.6L652.6,606.5L652.7,607.5L652.9,606.7L653.0,605.7L653.2,607.0L653.4,607.9L653.5,606.5L653.7,606.8L653.8,606.2L654.0,606.3L654.1,605.2L654.3,605.0L654.5,606.1L654.6,606.5L654.8,606.6L654.9,605.8L655.1,605.4L655.2,605.7L655.4,606.1L655.6,606.2L655.7,605.9L655.9,606.0L656.0,606.3L656.2,605.4L656.4,605.8L656.5,606.4L656.7,607.0L656.8,606.2L657.0,607.0L657.1,606.4L657.3,606.4L657.5,605.5L657.6,606.9L657.8,606.0L657.9,605.6L658.1,607.0L658.2,606.5L658.4,606.3L658.6,605.0L658.7,605.7L658.9,604.8L659.0,605.3L659.2,606.2L659.4,606.1L659.5,605.1L659.7,604.3L659.8,604.6L660.0,604.9L660.1,605.6L660.3,602.5L660.5,602.8L660.6,603.8L660.8,602.0L660.9,604.4L661.1,604.1L661.2,603.3L661.4,603.4L661.5,604.7L661.7,603.9L661.9,603.4L662.0,601.0L662.2,603.0L662.3,602.3L662.5,601.1L662.6,602.3L662.8,602.7L663.0,601.5L663.1,600.8L663.3,600.8L663.4,603.9L663.6,607.0L663.8,608.6L663.9,609.1L664.1,608.0L664.2,607.5L664.4,608.1L664.5,608.4L664.7,609.2L664.9,610.0L665.0,610.5L665.2,608.8L665.3,608.5L665.5,609.8L665.6,610.8L665.8,610.1L666.0,612.4L666.1,612.5L666.3,613.4L666.4,611.9L666.6,611.9L666.8,613.4L666.9,614.7L667.1,614.6L667.2,613.9L667.4,614.4L667.5,612.6L667.7,612.8L667.9,612.4L668.0,610.8L668.2,610.5L668.3,612.2L668.5,613.5L668.6,612.6L668.8,611.1L669.0,610.4L669.1,610.3L669.3,609.7L669.4,610.3L669.6,611.8L669.7,609.1L669.9,609.3L670.0,609.7L670.2,609.5L670.4,609.7L670.5,608.5L670.7,610.5L670.8,608.7L671.0,607.9L671.1,608.4L671.3,608.3L671.5,607.8L671.6,607.1L671.8,607.0L671.9,607.4L672.1,607.2L672.3,609.0L672.4,607.0L672.6,608.9L672.7,607.0L672.9,608.3L673.0,608.4L673.2,608.5L673.4,608.1L673.5,607.9L673.7,607.0L673.8,607.0L674.0,607.0L674.1,608.0L674.3,608.3L674.5,608.4L674.6,608.9L674.8,608.2L674.9,608.4L675.1,608.0L675.2,607.5L675.4,608.0L675.6,608.8L675.7,608.3L675.9,609.7L676.0,608.7L676.2,607.5L676.4,610.2L676.5,610.4L676.7,609.2L676.8,609.9L677.0,608.8L677.1,611.3L677.3,610.1L677.5,610.7L677.6,609.8L677.8,610.4L677.9,610.8L678.1,610.5L678.2,610.5L678.4,611.1L678.5,611.1L678.7,608.8L678.9,609.0L679.0,609.2L679.2,608.5L679.3,609.5L679.5,607.4L679.6,605.9L679.8,606.4L680.0,605.9L680.1,605.6L680.3,606.3L680.4,605.8L680.6,605.6L680.8,604.9L680.9,606.1L681.1,604.4L681.2,604.2L681.4,603.1L681.5,603.9L681.7,604.6L681.9,605.1L682.0,604.1L682.2,603.8L682.3,602.3L682.5,601.3L682.6,602.4L682.8,602.7L683.0,603.1L683.1,602.8L683.3,601.7L683.4,600.5L683.6,601.0L683.8,603.0L683.9,602.0L684.1,601.0L684.2,601.6L684.4,600.3L684.5,600.6L684.7,600.0L684.9,600.3L685.0,602.5L685.2,600.0L685.3,600.4L685.5,599.8L685.6,601.1L685.8,599.7L686.0,598.2L686.1,598.4L686.3,599.3L686.4,598.6L686.6,599.5L686.7,599.2L686.9,599.5L687.0,598.6L687.2,597.5L687.4,597.3L687.5,595.9L687.7,596.8L687.8,598.2L688.0,597.1L688.1,595.9L688.3,598.0L688.5,597.9L688.6,596.1L688.8,595.9L688.9,596.3L689.1,598.8L689.3,599.7L689.4,597.9L689.6,598.5L689.7,599.5L689.9,599.0L690.0,597.9L690.2,599.2L690.4,600.8L690.5,600.8L690.7,599.6L690.8,600.1L691.0,599.0L691.1,598.5L691.3,596.2L691.5,598.3L691.6,598.0L691.8,598.4L691.9,598.3L692.1,597.4L692.2,596.6L692.4,597.5L692.6,597.1L692.7,597.9L692.9,595.4L693.0,595.5L693.2,597.5L693.4,596.9L693.5,595.8L693.7,594.7L693.8,595.9L694.0,595.0L694.1,594.2L694.3,595.6L694.5,595.8L694.6,597.0L694.8,597.2L694.9,597.3L695.1,598.2L695.2,599.3L695.4,600.5L695.5,599.8L695.7,602.2L695.9,601.7L696.0,599.6L696.2,600.1L696.3,598.4L696.5,598.1L696.7,597.9L696.8,598.3L697.0,595.8L697.1,599.1L697.3,597.8L697.4,594.6L697.6,595.5L697.8,595.5L697.9,596.2L698.1,595.5L698.2,595.7L698.4,595.0L698.5,595.7L698.7,593.6L698.9,592.9L699.0,593.0L699.2,593.1L699.3,593.0L699.5,592.0L699.6,591.6L699.8,591.3L700.0,592.1L700.1,592.7L700.3,591.0L700.4,591.0L700.6,592.2L700.8,591.0L700.9,590.7L701.1,589.5L701.2,589.2L701.4,589.0L701.5,589.4L701.7,589.5L701.9,588.8L702.0,586.6L702.2,588.8L702.3,588.4L702.5,587.8L702.6,588.2L702.8,589.8L703.0,587.0L703.1,589.2L703.3,585.9L703.4,587.1L703.6,586.0L703.7,586.6L703.9,587.2L704.0,585.9L704.2,586.4L704.4,586.2L704.5,586.1L704.7,583.2L704.8,584.4L705.0,584.0L705.2,585.8L705.3,584.1L705.5,583.7L705.6,583.8L705.8,584.9L705.9,585.2L706.1,584.7L706.3,583.5L706.4,583.8L706.6,583.9L706.7,584.6L706.9,581.7L707.0,580.5L707.2,579.7L707.4,579.2L707.5,582.2L707.7,582.2L707.8,583.1L708.0,579.4L708.1,582.4L708.3,578.6L708.5,578.4L708.6,577.8L708.8,580.4L708.9,580.3L709.1,581.2L709.2,579.6L709.4,578.3L709.6,579.7L709.7,578.5L709.9,579.2L710.0,578.7L710.2,577.7L710.4,577.7L710.5,577.7L710.7,580.1L710.8,581.5L711.0,580.6L711.1,580.2L711.3,581.9L711.5,582.8L711.6,584.4L711.8,585.3L711.9,585.4L712.1,587.5L712.2,585.1L712.4,585.0L712.5,587.1L712.7,588.4L712.9,590.9L713.0,589.5L713.2,591.9L713.3,590.2L713.5,589.5L713.7,588.8L713.8,589.1L714.0,588.2L714.1,586.1L714.3,583.5L714.4,584.3L714.6,583.9L714.8,582.5L714.9,581.9L715.1,583.5L715.2,583.0L715.4,582.7L715.5,580.9L715.7,581.9L715.9,578.7L716.0,578.9L716.2,577.1L716.3,578.1L716.5,577.6L716.6,577.1L716.8,574.7L717.0,574.1L717.1,571.7L717.3,572.2L717.4,573.8L717.6,574.4L717.8,574.5L717.9,572.5L718.1,571.4L718.2,573.4L718.4,571.4L718.5,570.4L718.7,567.9L718.9,570.4L719.0,570.2L719.2,569.8L719.3,572.5L719.5,570.2L719.6,569.8L719.8,568.9L720.0,567.7L720.1,567.7L720.3,569.3L720.4,568.8L720.6,570.3L720.7,569.8L720.9,571.2L721.0,570.0L721.2,568.9L721.4,569.1L721.5,567.9L721.7,572.0L721.8,572.2L722.0,573.2L722.2,573.0L722.3,573.8L722.5,572.3L722.6,573.0L722.8,573.1L722.9,573.4L723.1,574.8L723.3,575.5L723.4,573.5L723.6,573.8L723.7,573.9L723.9,569.0L724.0,568.7L724.2,568.7L724.4,569.7L724.5,570.9L724.7,568.9L724.8,568.6L725.0,570.1L725.1,566.8L725.3,566.8L725.5,568.7L725.6,567.9L725.8,568.7L725.9,568.9L726.1,569.5L726.2,571.1L726.4,570.0L726.6,570.2L726.7,569.8L726.9,570.6L727.0,570.5L727.2,571.3L727.4,571.3L727.5,568.7L727.7,570.5L727.8,569.9L728.0,572.2L728.1,573.4L728.3,574.2L728.5,575.2L728.6,573.5L728.8,577.0L728.9,577.7L729.1,575.6L729.2,577.0L729.4,579.4L729.6,580.4L729.7,581.6L729.9,583.5L730.0,583.3L730.2,581.8L730.3,581.2L730.5,577.2L730.7,575.8L730.8,575.6L731.0,575.8L731.1,576.7L731.3,575.1L731.4,577.1L731.6,575.8L731.8,573.2L731.9,572.5L732.1,570.1L732.2,572.0L732.4,570.7L732.5,571.8L732.7,570.0L732.9,569.6L733.0,571.3L733.2,569.2L733.3,569.5L733.5,566.9L733.6,566.9L733.8,568.5L734.0,566.9L734.1,568.0L734.3,570.5L734.4,572.2L734.6,571.9L734.8,572.7L734.9,573.4L735.1,573.7L735.2,571.4L735.4,574.5L735.5,576.3L735.7,574.2L735.9,574.6L736.0,571.5L736.2,576.3L736.3,576.3L736.5,574.4L736.6,576.0L736.8,572.9L737.0,572.7L737.1,573.2L737.3,574.4L737.4,572.1L737.6,571.4L737.7,569.2L737.9,570.0L738.1,571.6L738.2,572.4L738.4,572.3L738.5,572.5L738.7,570.9L738.8,567.2L739.0,568.6L739.2,569.7L739.3,569.2L739.5,570.4L739.6,568.2L739.8,567.8L739.9,565.9L740.1,564.9L740.3,566.4L740.4,567.2L740.6,569.2L740.7,565.7L740.9,563.2L741.0,562.8L741.2,565.1L741.4,558.0L741.5,559.3L741.7,558.0L741.8,555.6L742.0,558.6L742.1,559.4L742.3,558.0L742.5,555.6L742.6,559.1L742.8,557.1L742.9,557.0L743.1,555.6L743.2,559.2L743.4,557.9L743.6,555.6L743.7,559.7L743.9,557.3L744.0,560.6L744.2,558.3L744.4,558.2L744.5,558.2L744.7,558.8L744.8,559.9L745.0,559.1L745.1,560.5L745.3,563.6L745.5,565.3L745.6,563.7L745.8,564.8L745.9,569.2L746.1,567.3L746.2,567.2L746.4,570.3L746.6,567.1L746.7,569.2L746.9,569.7L747.0,572.1L747.2,573.0L747.3,575.8L747.5,572.6L747.7,574.8L747.8,575.0L748.0,574.3L748.1,575.5L748.3,575.8L748.5,574.9L748.6,572.6L748.8,572.6L748.9,573.5L749.1,574.4L749.2,572.8L749.4,577.1L749.5,575.0L749.7,575.4L749.9,577.0L750.0,575.9L750.2,576.8L750.3,577.6L750.5,576.2L750.6,578.5L750.8,580.1L751.0,578.0L751.1,578.9L751.3,579.6L751.4,581.5L751.6,580.3L751.8,578.4L751.9,580.2L752.1,580.9L752.2,582.9L752.4,579.7L752.5,580.0L752.7,581.3L752.9,582.4L753.0,579.9L753.2,582.2L753.3,580.8L753.5,581.3L753.6,581.1L753.8,584.4L754.0,584.5L754.1,587.2L754.3,584.8L754.4,588.9L754.6,586.3L754.7,586.9L754.9,589.2L755.1,587.7L755.2,589.3L755.4,591.6L755.5,592.0L755.7,593.2L755.8,590.5L756.0,592.1L756.2,596.0L756.3,598.9L756.5,594.8L756.6,597.8L756.8,597.5L757.0,599.6L757.1,602.9L757.3,604.8L757.4,603.9L757.6,606.3L757.7,604.2L757.9,606.2L758.0,609.9L758.2,612.0L758.4,614.1L758.5,613.5L758.7,614.9L758.8,616.1L759.0,618.1L759.1,620.0L759.3,616.6L759.5,620.7L759.6,621.8L759.8,621.9L759.9,622.4L760.1,618.7L760.2,620.4L760.4,620.1L760.6,619.3L760.7,620.8L760.9,622.4L761.0,620.2L761.2,618.7L761.4,619.6L761.5,623.0L761.7,620.6L761.8,620.5L762.0,622.0L762.1,625.3L762.3,625.2L762.5,625.3L762.6,625.3L762.8,625.5L762.9,626.7L763.1,627.0L763.2,623.7L763.4,620.6L763.6,624.3L763.7,625.8L763.9,620.0L764.0,621.0L764.2,623.6L764.3,623.3L764.5,622.8L764.7,620.2L764.8,618.7L765.0,620.8L765.1,620.0L765.3,620.4L765.5,619.3L765.6,620.9L765.8,621.1L765.9,618.1L766.1,617.1L766.2,618.1L766.4,618.9L766.5,619.5L766.7,618.6L766.9,619.2L767.0,614.3L767.2,614.3L767.3,614.3L767.5,615.9L767.6,614.3L767.8,614.3L768.0,614.2L768.1,614.6L768.3,616.8L768.4,617.5L768.6,614.9L768.8,615.4L768.9,617.7L769.1,617.0L769.2,617.1L769.4,615.1L769.5,614.4L769.7,613.8L769.9,613.7L770.0,614.7L770.2,614.4L770.3,616.4L770.5,614.5L770.6,615.2L770.8,614.4L771.0,614.0L771.1,615.1L771.3,616.6L771.4,617.8L771.6,617.1L771.7,616.9L771.9,618.6L772.1,619.0L772.2,620.7L772.4,620.0L772.5,620.1L772.7,619.1L772.8,618.5L773.0,619.5L773.2,620.9L773.3,621.0L773.5,618.8L773.6,620.7L773.8,620.4L774.0,617.3L774.1,617.8L774.3,617.9L774.4,617.8L774.6,617.4L774.7,617.4L774.9,617.9L775.0,615.5L775.2,614.0L775.4,613.8L775.5,614.2L775.7,615.2L775.8,614.2L776.0,612.6L776.1,614.7L776.3,614.3L776.5,611.2L776.6,609.5L776.8,611.4L776.9,611.0L777.1,614.3L777.2,611.6L777.4,611.3L777.6,609.0L777.7,609.4L777.9,610.0L778.0,610.7L778.2,608.7L778.4,609.5L778.5,609.6L778.7,606.2L778.8,606.6L779.0,608.0L779.1,609.3L779.3,610.1L779.5,606.5L779.6,606.0L779.8,606.7L779.9,606.3L780.1,604.3L780.2,606.1L780.4,606.8L780.6,607.8L780.7,607.9L780.9,605.2L781.0,606.4L781.2,606.5L781.4,606.2L781.5,604.9L781.7,604.8L781.8,600.8L782.0,601.8L782.1,601.8L782.3,603.2L782.5,605.4L782.6,602.8L782.8,600.7L782.9,600.8L783.1,601.4L783.2,601.8L783.4,602.9L783.5,603.9L783.7,603.7L783.9,603.5L784.0,603.4L784.2,603.3L784.3,605.0L784.5,605.1L784.6,604.8L784.8,604.6L785.0,605.8L785.1,606.4L785.3,605.3L785.4,605.0L785.6,606.6L785.8,606.4L785.9,604.8L786.1,604.3L786.2,604.8L786.4,604.7L786.5,605.2L786.7,602.4L786.9,603.7L787.0,603.5L787.2,603.8L787.3,603.3L787.5,603.1L787.6,601.6L787.8,601.2L788.0,602.5L788.1,601.7L788.3,601.3L788.4,600.6L788.6,600.8L788.7,600.4L788.9,601.0L789.1,600.5L789.2,601.0L789.4,599.6L789.5,599.1L789.7,599.4L789.9,599.1L790.0,599.1L790.2,597.5L790.3,599.3L790.5,598.8L790.6,599.4L790.8,599.0L791.0,598.1L791.1,598.5L791.3,597.8L791.4,599.3L791.6,597.8L791.7,597.3L791.9,597.3L792.0,598.5L792.2,599.0L792.4,598.2L792.5,597.5L792.7,598.6L792.8,598.3L793.0,599.1L793.1,598.8L793.3,598.6L793.5,597.2L793.6,598.3L793.8,596.9L793.9,597.4L794.1,595.8L794.2,595.6L794.4,594.3L794.6,593.2L794.7,593.3L794.9,595.3L795.0,593.8L795.2,593.6L795.4,592.0L795.5,592.2L795.7,593.0L795.8,593.5L796.0,592.7L796.1,591.2L796.3,591.8L796.5,593.6L796.6,591.6L796.8,592.2L796.9,589.9L797.1,589.9L797.2,589.7L797.4,587.9L797.6,586.4L797.7,587.3L797.9,587.4L798.0,587.2L798.2,586.4L798.4,586.4L798.5,588.5L798.7,589.0L798.8,590.0L799.0,588.6L799.1,588.9L799.3,591.4L799.5,592.8L799.6,592.1L799.8,590.4L799.9,589.7L800.1,588.0L800.2,589.6L800.4,590.3L800.5,589.7L800.7,587.9L800.9,587.4L801.0,587.3L801.2,586.8L801.3,586.7L801.5,586.7L801.6,588.7L801.8,586.5L802.0,585.6L802.1,586.8L802.3,586.9L802.4,585.6L802.6,585.2L802.8,584.8L802.9,585.6L803.1,585.4L803.2,585.5L803.4,584.4L803.5,585.3L803.7,586.0L803.9,586.1L804.0,586.9L804.2,585.9L804.3,586.6L804.5,587.0L804.6,585.1L804.8,586.0L805.0,585.2L805.1,586.7L805.3,586.4L805.4,586.4L805.6,585.4L805.8,585.7L805.9,583.0L806.1,583.7L806.2,583.4L806.4,582.6L806.5,583.2L806.7,583.0L806.9,584.0L807.0,583.1L807.2,584.6L807.3,584.2L807.5,585.7L807.6,584.6L807.8,584.5L808.0,584.1L808.1,587.2L808.3,587.6L808.4,587.0L808.6,589.0L808.7,587.1L808.9,587.8L809.0,591.1L809.2,590.5L809.4,589.5L809.5,590.7L809.7,590.5L809.8,590.6L810.0,590.7L810.1,590.1L810.3,589.6L810.5,586.9L810.6,588.7L810.8,586.8L810.9,585.8L811.1,585.7L811.2,588.7L811.4,587.1L811.6,587.0L811.7,586.3L811.9,584.7L812.0,584.0L812.2,585.5L812.4,587.1L812.5,586.0L812.7,586.2L812.8,585.4L813.0,584.2L813.1,586.8L813.3,585.0L813.5,583.7L813.6,582.6L813.8,583.8L813.9,584.0L814.1,583.8L814.2,583.7L814.4,584.4L814.6,583.1L814.7,583.9L814.9,582.2L815.0,583.7L815.2,581.5L815.4,581.5L815.5,583.8L815.7,584.2L815.8,582.7L816.0,582.1L816.1,582.2L816.3,581.4L816.5,582.6L816.6,581.5L816.8,581.7L816.9,582.9L817.1,583.8L817.2,582.9L817.4,584.3L817.5,585.4L817.7,585.0L817.9,586.3L818.0,586.6L818.2,588.6L818.3,587.2L818.5,587.0L818.6,590.4L818.8,590.8L819.0,592.1L819.1,591.5L819.3,592.0L819.4,591.1L819.6,591.4L819.8,593.5L819.9,593.7L820.1,593.5L820.2,594.2L820.4,594.6L820.5,594.4L820.7,594.6L820.9,596.8L821.0,595.3L821.2,596.2L821.3,596.1L821.5,593.3L821.6,592.2L821.8,592.3L822.0,593.4L822.1,593.2L822.3,590.7L822.4,589.9L822.6,590.0L822.8,591.2L822.9,592.5L823.1,593.1L823.2,591.9L823.4,591.0L823.5,591.5L823.7,592.1L823.9,592.5L824.0,593.5L824.2,593.5L824.3,591.8L824.5,591.0L824.6,590.4L824.8,590.8L825.0,590.6L825.1,592.5L825.3,592.4L825.4,592.1L825.6,589.9L825.7,589.2L825.9,589.1L826.0,589.7L826.2,590.2L826.4,589.9L826.5,590.4L826.7,590.1L826.8,589.3L827.0,590.4L827.1,590.5L827.3,591.2L827.5,591.0L827.6,590.4L827.8,588.3L827.9,588.2L828.1,588.2L828.3,586.0L828.4,585.2L828.6,585.2L828.7,585.2L828.9,585.5L829.0,586.1L829.2,585.2L829.4,587.2L829.5,587.3L829.7,587.1L829.8,586.8L830.0,587.2L830.1,588.2L830.3,588.1L830.5,586.5L830.6,586.8L830.8,586.6L830.9,587.8L831.1,588.1L831.2,588.2L831.4,588.8L831.6,589.3L831.7,588.5L831.9,589.6L832.0,589.2L832.2,589.4L832.4,587.6L832.5,587.2L832.7,587.1L832.8,586.9L833.0,587.5L833.1,587.3L833.3,588.4L833.5,585.8L833.6,586.0L833.8,584.6L833.9,586.3L834.1,585.3L834.2,585.8L834.4,583.9L834.5,583.5L834.7,585.1L834.9,585.0L835.0,586.3L835.2,582.4L835.3,583.0L835.5,581.7L835.6,582.7L835.8,582.3L836.0,584.3L836.1,583.0L836.3,582.6L836.4,581.4L836.6,583.7L836.8,582.6L836.9,581.0L837.1,582.4L837.2,583.4L837.4,581.8L837.5,583.1L837.7,583.3L837.9,581.0L838.0,583.0L838.2,582.2L838.3,583.8L838.5,581.5L838.6,580.3L838.8,580.3L839.0,580.9L839.1,583.6L839.3,582.2L839.4,581.7L839.6,583.5L839.8,581.9L839.9,584.0L840.1,585.6L840.2,586.0L840.4,585.5L840.5,584.8L840.7,584.4L840.9,585.2L841.0,583.2L841.2,586.0L841.3,585.8L841.5,584.4L841.6,584.3L841.8,584.9L842.0,584.3L842.1,585.9L842.3,586.5L842.4,585.1L842.6,585.0L842.7,584.4L842.9,585.5L843.0,586.5L843.2,586.5L843.4,586.2L843.5,584.7L843.7,583.9L843.8,586.3L844.0,585.2L844.1,583.7L844.3,583.8L844.5,585.4L844.6,586.5L844.8,584.8L844.9,584.3L845.1,584.7L845.3,585.0L845.4,583.5L845.6,583.5L845.7,583.8L845.9,584.7L846.0,583.0L846.2,581.8L846.4,581.8L846.5,583.6L846.7,583.9L846.8,584.0L847.0,585.7L847.1,584.8L847.3,586.2L847.5,585.1L847.6,585.2L847.8,585.5L847.9,586.5L848.1,587.1L848.2,586.4L848.4,588.6L848.6,588.4L848.7,588.8L848.9,587.6L849.0,589.1L849.2,589.8L849.4,589.5L849.5,587.8L849.7,586.8L849.8,587.5L850.0,586.1L850.1,586.9L850.3,587.6L850.5,587.8L850.6,588.0L850.8,587.7L850.9,586.6L851.1,587.6L851.2,586.0L851.4,586.5L851.5,587.7L851.7,587.2L851.9,587.6L852.0,587.8L852.2,586.6L852.3,586.5L852.5,586.0L852.7,585.7L852.8,585.8L853.0,586.7L853.1,586.4L853.3,586.2L853.4,585.6L853.6,586.0L853.8,584.0L853.9,586.6L854.1,586.8L854.2,587.0L854.4,585.0L854.5,585.9L854.7,584.6L854.9,584.7L855.0,584.0L855.2,584.4L855.3,586.0L855.5,587.8L855.6,587.9L855.8,587.0L856.0,586.3L856.1,586.8L856.3,588.0L856.4,586.9L856.6,586.5L856.8,587.1L856.9,586.2L857.1,587.2L857.2,588.0L857.4,587.3L857.5,588.0L857.7,587.0L857.9,589.2L858.0,587.2L858.2,588.8L858.3,588.8L858.5,589.2L858.6,591.2L858.8,591.6L859.0,589.6L859.1,589.5L859.3,591.0L859.4,591.1L859.6,590.8L859.7,590.3L859.9,590.7L860.0,592.3L860.2,592.1L860.4,591.5L860.5,591.2L860.7,590.6L860.8,592.3L861.0,592.2L861.2,590.2L861.3,589.9L861.5,590.0L861.6,591.4L861.8,590.6L861.9,591.6L862.1,591.4L862.3,591.7L862.4,591.2L862.6,589.9L862.7,591.7L862.9,591.1L863.0,592.0L863.2,592.9L863.4,593.6L863.5,593.1L863.7,592.1L863.8,593.7L864.0,593.9L864.1,590.8L864.3,590.8L864.5,590.8L864.6,590.9L864.8,592.9L864.9,591.9L865.1,594.2L865.2,594.2L865.4,593.1L865.6,593.8L865.7,594.2L865.9,593.2L866.0,594.6L866.2,595.8L866.4,595.5L866.5,596.9L866.7,596.0L866.8,596.5L867.0,595.7L867.1,596.0L867.3,597.4L867.5,598.1L867.6,599.0L867.8,600.1L867.9,601.8L868.1,607.1L868.2,606.2L868.4,606.1L868.5,604.1L868.7,602.9L868.9,603.2L869.0,602.0L869.2,602.4L869.3,601.8L869.5,601.6L869.7,600.5L869.8,600.2L870.0,598.7L870.1,598.3L870.3,599.4L870.4,598.3L870.6,598.9L870.8,599.0L870.9,598.8L871.1,600.3L871.2,599.5L871.4,598.6L871.5,597.9L871.7,600.8L871.9,600.5L872.0,601.0L872.2,600.2L872.3,600.8L872.5,601.0L872.6,599.2L872.8,600.0L873.0,600.0L873.1,599.9L873.3,599.2L873.4,600.0L873.6,601.2L873.8,602.2L873.9,602.7L874.1,603.2L874.2,603.8L874.4,603.7L874.5,604.1L874.7,603.2L874.9,602.3L875.0,602.2L875.2,599.1L875.3,600.3L875.5,601.1L875.6,601.0L875.8,600.7L876.0,600.5L876.1,599.2L876.3,598.9L876.4,596.7L876.6,596.6L876.7,596.4L876.9,597.1L877.0,595.4L877.2,597.5L877.4,597.9L877.5,597.4L877.7,596.2L877.8,597.9L878.0,598.8L878.2,598.0L878.3,597.4L878.5,598.9L878.6,598.8L878.8,599.0L878.9,599.0L879.1,598.8L879.3,599.5L879.4,600.0L879.6,600.4L879.7,598.5L879.9,598.5L880.0,598.3L880.2,596.7L880.4,598.6L880.5,597.5L880.7,597.1L880.8,597.7L881.0,597.1L881.1,595.5L881.3,595.9L881.5,595.7L881.6,596.9L881.8,595.8L881.9,597.2L882.1,597.0L882.2,598.3L882.4,599.5L882.6,599.3L882.7,598.8L882.9,598.9L883.0,596.9L883.2,597.2L883.4,598.9L883.5,597.9L883.7,596.5L883.8,594.7L884.0,595.3L884.1,596.8L884.3,597.9L884.5,597.6L884.6,596.2L884.8,595.6L884.9,596.1L885.1,596.1L885.2,594.8L885.4,594.3L885.6,592.7L885.7,591.5L885.9,593.4L886.0,593.8L886.2,591.2L886.3,591.8L886.5,591.9L886.7,590.9L886.8,592.3L887.0,589.9L887.1,589.0L887.3,587.9L887.4,590.7L887.6,589.3L887.8,590.6L887.9,591.4L888.1,589.1L888.2,587.8L888.4,589.9L888.5,588.8L888.7,587.9L888.9,587.1L889.0,586.0L889.2,586.9L889.3,587.1L889.5,588.2L889.6,587.7L889.8,586.2L890.0,587.1L890.1,587.4L890.3,587.6L890.4,586.8L890.6,586.1L890.8,586.0L890.9,585.7L891.1,586.3L891.2,587.0L891.4,586.1L891.5,587.2L891.7,587.4L891.9,585.3L892.0,587.1L892.2,586.4L892.3,585.8L892.5,586.8L892.6,587.8L892.8,589.0L893.0,588.6L893.1,587.8L893.3,589.5L893.4,588.5L893.6,587.8L893.7,587.0L893.9,590.0L894.1,591.3L894.2,590.5L894.4,589.7L894.5,590.0L894.7,591.3L894.8,591.8L895.0,593.3L895.2,593.3L895.3,591.9L895.5,592.0L895.6,591.7L895.8,591.5L895.9,593.1L896.1,593.3L896.3,591.5L896.4,592.6L896.6,591.5L896.7,592.6L896.9,592.3L897.0,593.5L897.2,594.2L897.4,594.6L897.5,594.0L897.7,595.3L897.8,596.7L898.0,597.7L898.1,598.2L898.3,598.6L898.5,599.5L898.6,600.4L898.8,601.3L898.9,601.5L899.1,601.8L899.2,601.5L899.4,601.3L899.6,600.3L899.7,601.5L899.9,602.3L900.0,602.9L900.2,602.5L900.4,601.6L900.5,600.9L900.7,600.9L900.8,601.1L901.0,601.4L901.1,601.4L901.3,600.5L901.5,598.8L901.6,598.3L901.8,598.3L901.9,599.6L902.1,600.3L902.2,600.6L902.4,600.1L902.6,601.1L902.7,601.6L902.9,602.0L903.0,602.4L903.2,601.4L903.3,600.5L903.5,600.2L903.7,601.1L903.8,601.7L904.0,601.9L904.1,600.4L904.3,599.3L904.5,600.0L904.6,599.3L904.8,599.9L904.9,601.6L905.1,602.5L905.2,601.7L905.4,601.2L905.5,601.9L905.7,601.9L905.9,601.5L906.0,601.5L906.2,602.4L906.3,602.1L906.5,601.6L906.6,599.7L906.8,599.0L907.0,598.7L907.1,596.1L907.3,596.1L907.4,595.7L907.6,596.7L907.8,596.6L907.9,595.8L908.1,595.8L908.2,595.8L908.4,597.5L908.5,595.6L908.7,595.6L908.9,596.4L909.0,595.8L909.2,597.2L909.3,596.8L909.5,598.1L909.6,598.4L909.8,598.3L910.0,598.7L910.1,598.1L910.3,598.1L910.4,597.6L910.6,597.4L910.7,598.5L910.9,597.3L911.1,597.5L911.2,596.8L911.4,594.5L911.5,593.6L911.7,593.1L911.8,593.0L912.0,592.4L912.2,593.2L912.3,593.3L912.5,593.8L912.6,593.3L912.8,594.2L913.0,592.9L913.1,593.1L913.3,594.1L913.4,594.3L913.6,595.8L913.7,595.8L913.9,595.0L914.0,594.5L914.2,596.0L914.4,596.1L914.5,595.9L914.7,596.0L914.8,594.5L915.0,595.8L915.1,596.3L915.3,596.6L915.5,597.0L915.6,597.3L915.8,597.0L915.9,597.0L916.1,596.8L916.2,596.8L916.4,597.9L916.6,597.1L916.7,595.8L916.9,596.7L917.0,597.8L917.2,598.9L917.4,597.7L917.5,597.3L917.7,596.8L917.8,599.1L918.0,599.3L918.1,599.1L918.3,598.9L918.5,598.6L918.6,599.4L918.8,596.9L918.9,596.4L919.1,596.1L919.2,598.3L919.4,596.8L919.6,597.2L919.7,596.7L919.9,595.2L920.0,596.7L920.2,595.8L920.3,596.6L920.5,595.9L920.7,596.2L920.8,595.4L921.0,594.2L921.1,594.1L921.3,594.5L921.5,594.8L921.6,594.9L921.8,592.7L921.9,593.9L922.1,592.3L922.2,592.2L922.4,593.1L922.5,594.8L922.7,592.1L922.9,591.2L923.0,591.3L923.2,591.2L923.3,593.1L923.5,593.8L923.6,594.0L923.8,591.3L924.0,591.4L924.1,592.2L924.3,594.0L924.4,592.8L924.6,594.0L924.8,593.2L924.9,593.0L925.1,592.2L925.2,592.5L925.4,593.5L925.5,593.8L925.7,593.5L925.9,594.3L926.0,594.7L926.2,595.3L926.3,596.4L926.5,596.1L926.6,595.8L926.8,595.4L927.0,595.9L927.1,596.3L927.3,596.1L927.4,597.5L927.6,597.7L927.7,598.6L927.9,599.1L928.1,598.7L928.2,599.1L928.4,596.3L928.5,596.5L928.7,598.2L928.8,599.0L929.0,597.8L929.2,596.4L929.3,596.0L929.5,596.0L929.6,597.5L929.8,598.3L930.0,597.5L930.1,596.0L930.3,596.8L930.4,596.9L930.6,596.6L930.7,598.3L930.9,600.5L931.0,599.6L931.2,597.7L931.4,598.7L931.5,598.5L931.7,599.6L931.8,599.8L932.0,601.0L932.1,600.5L932.3,600.6L932.5,599.0L932.6,599.2L932.8,599.0L932.9,601.2L933.1,599.7L933.2,600.3L933.4,600.6L933.6,602.5L933.7,602.2L933.9,601.9L934.0,601.8L934.2,601.7L934.4,601.6L934.5,600.9L934.7,600.4L934.8,599.4L935.0,599.4L935.1,599.8L935.3,599.8L935.5,601.8L935.6,601.6L935.8,600.8L935.9,599.1L936.1,599.6L936.2,599.0L936.4,600.7L936.6,600.9L936.7,599.6L936.9,599.7L937.0,600.6L937.2,600.6L937.4,598.7L937.5,598.7L937.7,598.7L937.8,599.3L938.0,600.6L938.1,599.7L938.3,598.9L938.5,598.9L938.6,599.6L938.8,601.0L938.9,600.3L939.1,600.0L939.2,599.6L939.4,602.1L939.5,602.1L939.7,602.3L939.9,602.3L940.0,603.7L940.2,603.5L940.3,603.6L940.5,604.5L940.6,605.9L940.8,606.8L941.0,607.4L941.1,607.9L941.3,608.5L941.4,609.1L941.6,608.0L941.8,609.1L941.9,609.8L942.1,610.7L942.2,611.0L942.4,610.5L942.5,610.6L942.7,611.8L942.9,610.4L943.0,610.4L943.2,610.6L943.3,610.2L943.5,611.1L943.6,610.7L943.8,609.8L944.0,608.5L944.1,608.1L944.3,609.1L944.4,608.9L944.6,609.9L944.7,607.8L944.9,608.6L945.1,607.6L945.2,608.5L945.4,608.0L945.5,607.3L945.7,607.4L945.9,609.0L946.0,608.8L946.2,608.8L946.3,608.3L946.5,607.7L946.6,607.0L946.8,606.9L947.0,606.7L947.1,606.6L947.3,606.1L947.4,606.0L947.6,605.6L947.7,604.8L947.9,604.5L948.0,604.8L948.2,603.5L948.4,604.6L948.5,605.9L948.7,604.5L948.8,605.5L949.0,606.3L949.1,604.0L949.3,603.0L949.5,603.1L949.6,602.1L949.8,602.1L949.9,602.7L950.1,601.0L950.2,600.8L950.4,601.1L950.6,600.5L950.7,600.6L950.9,600.7L951.0,600.6L951.2,600.4L951.4,600.4L951.5,601.8L951.7,602.3L951.8,603.3L952.0,602.5L952.1,601.4L952.3,602.1L952.5,600.6L952.6,601.8L952.8,600.7L952.9,601.0L953.1,600.6L953.2,599.1L953.4,599.4L953.6,599.0L953.7,601.3L953.9,601.2L954.0,601.2L954.2,598.6L954.4,598.6L954.5,598.6L954.7,599.9L954.8,598.6L955.0,600.0L955.1,600.5L955.3,602.0L955.5,602.1L955.6,601.2L955.8,600.6L955.9,600.8L956.1,602.1L956.2,603.7L956.4,603.8L956.5,603.8L956.7,602.4L956.9,602.8L957.0,602.5L957.2,603.2L957.3,602.4L957.5,603.5L957.6,603.1L957.8,602.4L958.0,601.6L958.1,603.5L958.3,603.7L958.4,603.8L958.6,603.2L958.8,603.4L958.9,604.3L959.1,604.6L959.2,603.7L959.4,605.4L959.5,604.7L959.7,605.9L959.9,603.7L960.0,604.6L960.2,605.9L960.3,605.4L960.5,604.2L960.6,604.2L960.8,604.5L961.0,604.6L961.1,605.2L961.3,605.7L961.4,604.5L961.6,605.4L961.7,605.3L961.9,606.5L962.1,605.8L962.2,604.6L962.4,605.3L962.5,606.0L962.7,605.6L962.9,606.5L963.0,607.8L963.2,607.7L963.3,607.0L963.5,606.6L963.6,606.1L963.8,607.9L964.0,608.0L964.1,606.7L964.3,607.7L964.4,608.6L964.6,609.4L964.7,610.0L964.9,608.4L965.0,608.5L965.2,609.5L965.4,609.4L965.5,609.0L965.7,608.5L965.8,608.1L966.0,607.7L966.1,608.8L966.3,610.0L966.5,608.7L966.6,607.6L966.8,609.2L966.9,608.9L967.1,609.0L967.2,609.8L967.4,609.9L967.6,609.8L967.7,609.5L967.9,609.3L968.0,608.5L968.2,609.5L968.4,609.1L968.5,609.4L968.7,610.0L968.8,610.4L969.0,609.8L969.1,610.8L969.3,610.4L969.5,610.5L969.6,610.9L969.8,611.2L969.9,610.7L970.1,609.7L970.2,610.1L970.4,610.5L970.6,610.0L970.7,608.4L970.9,607.5L971.0,606.6L971.2,607.6L971.4,606.7L971.5,605.6L971.7,605.0L971.8,603.8L972.0,605.1L972.1,604.9L972.3,603.8L972.5,605.3L972.6,605.8L972.8,605.6L972.9,605.5L973.1,604.2L973.2,605.3L973.4,605.0L973.5,604.9L973.7,603.2L973.9,604.4L974.0,603.5L974.2,602.9L974.3,602.0L974.5,602.9L974.6,604.1L974.8,603.5L975.0,601.9L975.1,600.9L975.3,602.8L975.4,602.9L975.6,601.8L975.8,603.0L975.9,602.7L976.1,601.4L976.2,600.9L976.4,601.9L976.5,601.9L976.7,601.3L976.9,601.9L977.0,602.3L977.2,601.9L977.3,602.4L977.5,604.0L977.6,602.8L977.8,602.8L978.0,602.0L978.1,602.3L978.3,604.6L978.4,604.9L978.6,604.4L978.8,604.0L978.9,602.7L979.1,603.1L979.2,601.8L979.4,602.9L979.5,601.8L979.7,600.5L979.9,601.7L980.0,600.5L980.2,602.4L980.3,603.2L980.5,602.6L980.6,602.8L980.8,602.1L981.0,602.1L981.1,603.0L981.3,600.9L981.4,602.3L981.6,600.7L981.7,603.0L981.9,603.0L982.0,602.3L982.2,601.8L982.4,600.6L982.5,600.6L982.7,599.9L982.8,599.7L983.0,598.5L983.1,598.3L983.3,598.6L983.5,598.0L983.6,598.2L983.8,599.2L983.9,597.6L984.1,597.7L984.3,597.2L984.4,599.1L984.6,597.5L984.7,598.6L984.9,597.8L985.0,597.3L985.2,597.3L985.4,597.0L985.5,596.4L985.7,599.3L985.8,599.9L986.0,599.2L986.1,598.8L986.3,598.6L986.5,598.0L986.6,596.3L986.8,597.4L986.9,596.1L987.1,594.7L987.2,596.0L987.4,595.2L987.6,594.5L987.7,594.6L987.9,595.3L988.0,594.4L988.2,595.6L988.4,593.8L988.5,594.0L988.7,592.9L988.8,594.0L989.0,594.9L989.1,596.0L989.3,595.7L989.5,597.6L989.6,595.3L989.8,597.4L989.9,598.4L990.1,597.7L990.2,597.3L990.4,598.2L990.5,599.0L990.7,599.2L990.9,600.0L991.0,600.3L991.2,602.1L991.3,601.7L991.5,600.3L991.6,599.1L991.8,600.7L992.0,599.9L992.1,600.2L992.3,599.6L992.4,599.0L992.6,598.2L992.8,597.5L992.9,599.6L993.1,599.1L993.2,599.8L993.4,601.3L993.5,601.2L993.7,601.1L993.9,600.9L994.0,603.9L994.2,604.4L994.3,605.2L994.5,605.5L994.6,605.0L994.8,605.2L995.0,604.6L995.1,604.3L995.3,604.0L995.4,604.0L995.6,604.3L995.8,602.3L995.9,602.9L996.1,602.6L996.2,601.9L996.4,602.2L996.5,603.1L996.7,601.5L996.9,600.9L997.0,600.1L997.2,599.9L997.3,600.4L997.5,600.8L997.6,601.6L997.8,603.1L998.0,603.2L998.1,603.6L998.3,603.5L998.4,605.5L998.6,607.2L998.7,607.2L998.9,607.9L999.0,608.8L999.2,607.7L999.4,607.2L999.5,606.6L999.7,607.5L999.8,607.3L1000.0,606.6L1000.1,605.9L1000.3,605.8L1000.5,606.1L1000.6,605.6L1000.8,605.7L1000.9,607.2L1001.1,607.7L1001.3,607.5L1001.4,606.1L1001.6,606.1L1001.7,607.7L1001.9,608.1L1002.0,607.1L1002.2,606.4L1002.4,606.4L1002.5,606.4L1002.7,607.9L1002.8,606.9L1003.0,608.0L1003.1,608.3L1003.3,606.9L1003.5,608.5L1003.6,608.0L1003.8,607.3L1003.9,608.3L1004.1,609.1L1004.2,609.2L1004.4,608.9L1004.6,608.6L1004.7,609.4L1004.9,608.9L1005.0,608.2L1005.2,607.6L1005.4,606.4L1005.5,605.8L1005.7,605.0L1005.8,605.8L1006.0,604.6L1006.1,603.9L1006.3,604.5L1006.5,604.4L1006.6,605.1L1006.8,604.2L1006.9,605.5L1007.1,604.5L1007.2,604.5L1007.4,603.9L1007.5,606.4L1007.7,607.1L1007.9,606.0L1008.0,607.1L1008.2,606.9L1008.3,607.0L1008.5,606.4L1008.6,606.5L1008.8,606.0L1009.0,605.9L1009.1,605.5L1009.3,604.0L1009.4,604.4L1009.6,604.7L1009.8,604.5L1009.9,604.2L1010.1,605.8L1010.2,606.2L1010.4,606.2L1010.5,606.2L1010.7,605.0L1010.9,604.6L1011.0,603.8L1011.2,602.8L1011.3,601.8L1011.5,602.1L1011.6,601.9L1011.8,601.9L1012.0,601.3L1012.1,600.6L1012.3,600.3L1012.4,600.4L1012.6,601.0L1012.8,601.1L1012.9,599.8L1013.1,599.4L1013.2,599.0L1013.4,598.3L1013.5,599.3L1013.7,598.7L1013.9,598.4L1014.0,597.7L1014.2,598.8L1014.3,597.9L1014.5,597.6L1014.6,597.6L1014.8,597.0L1015.0,597.3L1015.1,597.6L1015.3,599.2L1015.4,598.6L1015.6,598.2L1015.7,599.0L1015.9,599.2L1016.0,598.6L1016.2,600.8L1016.4,601.5L1016.5,602.8L1016.7,602.2L1016.8,601.4L1017.0,600.8L1017.2,602.9L1017.3,602.4L1017.5,602.4L1017.6,602.9L1017.8,602.6L1017.9,601.9L1018.1,602.5L1018.3,602.0L1018.4,602.3L1018.6,601.4L1018.7,601.7L1018.9,602.9L1019.0,602.9L1019.2,603.0L1019.4,603.0L1019.5,603.2L1019.7,602.0L1019.8,601.4L1020.0,602.4L1020.1,603.5L1020.3,602.0L1020.5,603.2L1020.6,602.2L1020.8,601.6L1020.9,601.8L1021.1,602.3L1021.2,602.6L1021.4,603.4L1021.6,603.9L1021.7,604.0L1021.9,603.2L1022.0,603.7L1022.2,603.8L1022.4,604.5L1022.5,604.5L1022.7,603.7L1022.8,606.0L1023.0,606.0L1023.1,607.1L1023.3,606.7L1023.5,606.8L1023.6,606.1L1023.8,607.5L1023.9,605.6L1024.1,607.8L1024.2,607.1L1024.4,606.5L1024.5,606.8L1024.7,606.2L1024.9,605.7L1025.0,606.6L1025.2,606.8L1025.3,608.5L1025.5,609.1L1025.7,610.5L1025.8,611.7L1026.0,611.3L1026.1,610.1L1026.3,610.2L1026.4,609.6L1026.6,609.3L1026.8,608.4L1026.9,608.9L1027.1,607.7L1027.2,608.7L1027.4,607.8L1027.5,608.3L1027.7,609.4L1027.9,609.0L1028.0,609.7L1028.2,608.7L1028.3,609.7L1028.5,609.8L1028.7,611.0L1028.8,610.4L1029.0,610.3L1029.1,610.0L1029.3,611.6L1029.4,612.4L1029.6,611.8L1029.8,610.7L1029.9,609.1L1030.1,608.5L1030.2,609.3L1030.4,608.5L1030.5,607.8L1030.7,607.3L1030.8,607.9L1031.0,608.1L1031.2,607.4L1031.3,607.0L1031.5,608.1L1031.6,608.8L1031.8,608.3L1032.0,608.8L1032.1,610.3L1032.3,610.1L1032.4,610.4L1032.6,610.6L1032.7,610.8L1032.9,608.7L1033.0,608.6L1033.2,608.9L1033.4,609.5L1033.5,608.5L1033.7,609.1L1033.8,608.9L1034.0,609.1L1034.2,609.1L1034.3,608.8L1034.5,610.4L1034.6,610.0L1034.8,611.0L1034.9,610.7L1035.1,609.0L1035.3,609.3L1035.4,609.1L1035.6,609.2L1035.7,608.8L1035.9,608.8L1036.0,607.9L1036.2,608.5L1036.4,608.5L1036.5,608.3L1036.7,610.0L1036.8,610.2L1037.0,610.6L1037.2,609.9L1037.3,611.9L1037.5,610.9L1037.6,610.4L1037.8,611.0L1037.9,611.5L1038.1,611.9L1038.2,611.3L1038.4,611.2L1038.6,612.5L1038.7,613.0L1038.9,614.0L1039.0,614.0L1039.2,613.3L1039.3,613.6L1039.5,613.7L1039.7,614.3L1039.8,613.9L1040.0,614.8L1040.1,614.9L1040.3,615.9L1040.5,616.4L1040.6,616.2L1040.8,615.6L1040.9,616.1L1041.1,616.7L1041.2,618.5L1041.4,618.5L1041.5,618.3L1041.7,618.3L1041.9,619.2L1042.0,619.9L1042.2,619.4L1042.3,619.5L1042.5,619.8L1042.7,620.0L1042.8,619.8L1043.0,619.7L1043.1,618.5L1043.3,618.2L1043.4,618.1L1043.6,617.0L1043.8,616.4L1043.9,617.1L1044.1,617.1L1044.2,617.7L1044.4,617.4L1044.5,617.5L1044.7,617.2L1044.9,617.0L1045.0,618.0L1045.2,616.8L1045.3,617.7L1045.5,616.2L1045.7,616.2L1045.8,616.1L1046.0,614.4L1046.1,615.6L1046.3,614.8L1046.4,614.0L1046.6,614.5L1046.8,613.4L1046.9,612.8L1047.1,611.0L1047.2,610.9L1047.4,607.0L1047.5,606.0L1047.7,607.1L1047.8,607.5L1048.0,607.0L1048.2,606.9L1048.3,605.3L1048.5,606.6L1048.6,606.5L1048.8,606.6L1049.0,607.5L1049.1,607.1L1049.3,608.2L1049.4,607.5L1049.6,606.6L1049.7,606.8L1049.9,606.4L1050.1,606.3L1050.2,604.1L1050.4,604.8L1050.5,604.3L1050.7,604.0L1050.8,603.7L1051.0,603.5L1051.2,603.5L1051.3,604.4L1051.5,603.0L1051.6,602.2L1051.8,602.0L1051.9,602.9L1052.1,602.3L1052.3,601.0L1052.4,602.5L1052.6,601.7L1052.7,602.6L1052.9,602.4L1053.0,602.0L1053.2,603.1L1053.4,602.8L1053.5,602.6L1053.7,603.1L1053.8,602.2L1054.0,602.7L1054.2,603.4L1054.3,603.3L1054.5,604.2L1054.6,603.4L1054.8,603.8L1054.9,603.3L1055.1,604.1L1055.2,605.9L1055.4,604.9L1055.6,606.9L1055.7,607.6L1055.9,606.6L1056.0,607.6L1056.2,607.2L1056.3,607.6L1056.5,606.7L1056.7,607.9L1056.8,607.2L1057.0,607.6L1057.1,606.1L1057.3,605.2L1057.5,605.4L1057.6,605.3L1057.8,604.9L1057.9,605.3L1058.1,606.1L1058.2,605.6L1058.4,605.5L1058.6,606.1L1058.7,606.7L1058.9,605.3L1059.0,607.0L1059.2,607.3L1059.3,606.3L1059.5,604.6L1059.7,604.6L1059.8,604.6L1060.0,604.2L1060.1,603.5L1060.3,602.9L1060.4,601.5L1060.6,599.5L1060.8,600.6L1060.9,600.8L1061.1,600.9L1061.2,599.2L1061.4,599.2L1061.5,599.9L1061.7,599.4L1061.9,598.7L1062.0,598.8L1062.2,599.3L1062.3,599.6L1062.5,598.5L1062.7,597.7L1062.8,597.9L1063.0,597.5L1063.1,598.9L1063.3,599.4L1063.4,598.6L1063.6,598.2L1063.8,599.0L1063.9,597.6L1064.1,596.7L1064.2,596.0L1064.4,596.9L1064.5,596.3L1064.7,597.6L1064.8,597.8L1065.0,598.3L1065.2,596.5L1065.3,596.9L1065.5,597.5L1065.6,598.5L1065.8,597.6L1066.0,598.5L1066.1,595.8L1066.3,595.5L1066.4,597.0L1066.6,597.5L1066.7,596.5L1066.9,595.8L1067.1,596.0L1067.2,594.9L1067.4,596.0L1067.5,596.0L1067.7,598.3L1067.8,598.2L1068.0,597.8L1068.2,598.4L1068.3,596.8L1068.5,597.6L1068.6,595.8L1068.8,595.6L1069.0,595.8L1069.1,595.7L1069.3,596.5L1069.4,597.2L1069.6,596.1L1069.7,594.8L1069.9,593.0L1070.0,593.9L1070.2,593.6L1070.4,595.0L1070.5,593.2L1070.7,593.9L1070.8,592.8L1071.0,592.9L1071.2,591.5L1071.3,593.4L1071.5,591.6L1071.6,592.3L1071.8,593.8L1071.9,594.6L1072.1,593.5L1072.2,592.5L1072.4,592.5L1072.6,593.8L1072.7,594.3L1072.9,592.8L1073.0,593.5L1073.2,594.8L1073.3,596.0L1073.5,594.8L1073.7,594.4L1073.8,593.9L1074.0,595.0L1074.1,595.1L1074.3,595.9L1074.5,594.4L1074.6,594.6L1074.8,593.1L1074.9,594.4L1075.1,594.7L1075.2,593.6L1075.4,592.7L1075.6,591.9L1075.7,591.9L1075.9,593.8L1076.0,592.8L1076.2,593.9L1076.3,592.0L1076.5,593.8L1076.7,595.2L1076.8,595.2L1077.0,593.7L1077.1,593.9L1077.3,596.6L1077.5,595.2L1077.6,596.7L1077.8,598.2L1077.9,598.2L1078.1,598.2L1078.2,597.2L1078.4,596.8L1078.5,596.3L1078.7,593.9L1078.9,594.6L1079.0,595.1L1079.2,595.0L1079.3,594.6L1079.5,594.0L1079.7,594.7L1079.8,593.7L1080.0,591.9L1080.1,592.4L1080.3,592.6L1080.4,593.1L1080.6,593.0L1080.8,592.4L1080.9,591.7L1081.1,590.9L1081.2,590.6L1081.4,588.3L1081.5,590.7L1081.7,590.9L1081.8,589.4L1082.0,590.4L1082.2,589.1L1082.3,589.3L1082.5,588.4L1082.6,588.7L1082.8,588.5L1083.0,588.9L1083.1,588.4L1083.3,588.3L1083.4,587.0L1083.6,586.8L1083.7,588.5L1083.9,587.8L1084.1,586.3L1084.2,586.0L1084.4,585.3L1084.5,586.1L1084.7,585.7L1084.8,585.1L1085.0,585.6L1085.2,585.6L1085.3,588.3L1085.5,589.3L1085.6,586.0L1085.8,589.0L1086.0,589.3L1086.1,589.4L1086.3,588.3L1086.4,586.3L1086.6,588.5L1086.7,588.6L1086.9,588.3L1087.0,590.5L1087.2,590.5L1087.4,590.4L1087.5,588.3L1087.7,587.8L1087.8,590.5L1088.0,590.2L1088.2,590.7L1088.3,589.9L1088.5,590.6L1088.6,588.8L1088.8,588.8L1088.9,589.0L1089.1,589.8L1089.2,589.5L1089.4,591.2L1089.6,590.5L1089.7,590.2L1089.9,590.5L1090.0,591.7L1090.2,592.1L1090.3,591.0L1090.5,591.2L1090.7,590.3L1090.8,589.5L1091.0,591.7L1091.1,592.1L1091.3,590.0L1091.5,588.5L1091.6,587.4L1091.8,587.8L1091.9,587.9L1092.1,589.3L1092.2,587.9L1092.4,588.0L1092.6,586.8L1092.7,587.1L1092.9,587.1L1093.0,587.7L1093.2,587.1L1093.3,585.3L1093.5,585.3L1093.7,585.3L1093.8,588.1L1094.0,590.2L1094.1,589.5L1094.3,588.2L1094.5,588.2L1094.6,589.5L1094.8,592.3L1094.9,591.2L1095.1,590.0L1095.2,592.8L1095.4,592.1L1095.5,591.7L1095.7,590.8L1095.9,592.4L1096.0,592.5L1096.2,593.4L1096.3,591.9L1096.5,592.3L1096.7,592.8L1096.8,592.6L1097.0,592.4L1097.1,593.1L1097.3,591.2L1097.4,592.3L1097.6,591.6L1097.8,590.6L1097.9,591.9L1098.1,590.9L1098.2,590.4L1098.4,590.8L1098.5,591.2L1098.7,589.8L1098.8,590.3L1099.0,590.4L1099.2,590.4L1099.3,591.2L1099.5,587.9L1099.6,588.9L1099.8,590.5L1100.0,590.3L1100.1,589.7L1100.3,588.3L1100.4,587.7L1100.6,588.7L1100.7,588.2L1100.9,588.6L1101.1,586.7L1101.2,586.3L1101.4,586.6L1101.5,589.0L1101.7,586.8L1101.8,586.4L1102.0,585.2L1102.2,585.3L1102.3,586.3L1102.5,586.4L1102.6,586.0L1102.8,584.9L1103.0,584.7L1103.1,586.5L1103.3,585.3L1103.4,584.2L1103.6,584.3L1103.7,582.8L1103.9,585.1L1104.0,584.3L1104.2,582.4L1104.4,582.5L1104.5,584.4L1104.7,582.2L1104.8,582.5L1105.0,582.1L1105.2,580.8L1105.3,580.5L1105.5,580.2L1105.6,582.7L1105.8,580.8L1105.9,581.1L1106.1,579.3L1106.2,580.9L1106.4,580.0L1106.6,579.2L1106.7,577.9L1106.9,580.0L1107.0,577.7L1107.2,578.0L1107.4,579.3L1107.5,577.5L1107.7,577.5L1107.8,577.3L1108.0,578.8L1108.1,576.0L1108.3,576.1L1108.5,576.4L1108.6,577.3L1108.8,576.0L1108.9,576.0L1109.1,576.8L1109.2,577.1L1109.4,577.1L1109.6,577.8L1109.7,577.2L1109.9,577.8L1110.0,576.6L1110.2,576.0L1110.3,576.0L1110.5,576.2L1110.7,577.4L1110.8,576.9L1111.0,576.1L1111.1,578.2L1111.3,578.1L1111.5,577.4L1111.6,576.9L1111.8,578.6L1111.9,578.0L1112.1,578.7L1112.2,579.1L1112.4,582.5L1112.5,582.5L1112.7,580.3L1112.9,581.0L1113.0,581.0L1113.2,582.4L1113.3,581.5L1113.5,582.0L1113.7,582.0L1113.8,581.1L1114.0,582.2L1114.1,580.2L1114.3,581.4L1114.4,581.3L1114.6,580.4L1114.8,581.0L1114.9,581.1L1115.1,579.8L1115.2,579.9L1115.4,580.4L1115.5,580.1L1115.7,581.4L1115.9,581.4L1116.0,581.5L1116.2,581.4L1116.3,578.7L1116.5,580.1L1116.6,579.4L1116.8,580.6L1117.0,579.6L1117.1,578.9L1117.3,579.8L1117.4,580.9L1117.6,578.9L1117.7,576.7L1117.9,577.5L1118.1,577.1L1118.2,574.5L1118.4,575.0L1118.5,576.3L1118.7,573.8L1118.8,574.1L1119.0,574.9L1119.2,574.3L1119.3,572.4L1119.5,572.4L1119.6,572.6L1119.8,573.3L1120.0,571.3L1120.1,570.9L1120.3,570.9L1120.4,571.4L1120.6,570.5L1120.7,568.1L1120.9,567.9L1121.0,568.0L1121.2,567.7L1121.4,572.2L1121.5,571.9L1121.7,570.3L1121.8,571.1L1122.0,571.4L1122.2,570.6L1122.3,569.6L1122.5,569.4L1122.6,569.3L1122.8,567.0L1122.9,566.5L1123.1,567.3L1123.2,565.6L1123.4,566.0L1123.6,567.1L1123.7,566.3L1123.9,566.6L1124.0,566.6L1124.2,564.7L1124.4,564.4L1124.5,564.8L1124.7,565.9L1124.8,564.5L1125.0,564.4L1125.1,565.6L1125.3,565.7L1125.5,565.9L1125.6,567.8L1125.8,568.0L1125.9,567.8L1126.1,565.9L1126.2,566.3L1126.4,566.8L1126.6,566.2L1126.7,565.3L1126.9,566.6L1127.0,566.9L1127.2,565.4L1127.3,566.9L1127.5,567.0L1127.7,568.1L1127.8,566.7L1128.0,568.3L1128.1,568.4L1128.3,568.4L1128.5,566.8L1128.6,567.1L1128.8,566.5L1128.9,566.6L1129.1,567.5L1129.2,568.8L1129.4,569.7L1129.5,569.7L1129.7,568.0L1129.9,568.9L1130.0,567.8L1130.2,566.7L1130.3,567.0L1130.5,568.1L1130.7,566.9L1130.8,566.4L1131.0,565.6L1131.1,565.6L1131.3,566.0L1131.4,566.0L1131.6,565.6L1131.8,566.6L1131.9,568.9L1132.1,566.7L1132.2,565.7L1132.4,566.2L1132.5,566.5L1132.7,566.1L1132.9,565.9L1133.0,565.7L1133.2,567.5L1133.3,570.3L1133.5,572.3L1133.6,573.9L1133.8,573.9L1134.0,574.1L1134.1,574.1L1134.3,576.3L1134.4,576.9L1134.6,579.3L1134.8,579.6L1134.9,582.4L1135.1,582.0L1135.2,582.0L1135.4,580.6L1135.5,580.6L1135.7,580.9L1135.8,583.1L1136.0,584.0L1136.2,584.4L1136.3,584.4L1136.5,582.4L1136.6,583.0L1136.8,583.4L1137.0,582.6L1137.1,582.8L1137.3,583.8L1137.4,583.0L1137.6,582.6L1137.7,580.7L1137.9,582.8L1138.0,580.8L1138.2,581.6L1138.4,579.9L1138.5,579.9L1138.7,578.1L1138.8,578.1L1139.0,578.6L1139.2,578.8L1139.3,578.9L1139.5,577.5L1139.6,575.6L1139.8,575.1L1139.9,573.6L1140.1,573.5L1140.3,574.1L1140.4,574.4L1140.6,573.2L1140.7,572.1L1140.9,573.0L1141.0,572.6L1141.2,571.9L1141.4,571.5L1141.5,574.7L1141.7,575.0L1141.8,574.9L1142.0,574.6L1142.1,577.1L1142.3,576.5L1142.5,576.0L1142.6,575.7L1142.8,575.0L1142.9,576.0L1143.1,575.0L1143.2,576.0L1143.4,575.8L1143.6,576.1L1143.7,576.0L1143.9,576.2L1144.0,578.3L1144.2,576.8L1144.3,574.7L1144.5,576.7L1144.7,578.4L1144.8,578.7L1145.0,576.7L1145.1,578.8L1145.3,578.8L1145.5,577.4L1145.6,576.6L1145.8,577.7L1145.9,578.3L1146.1,578.0L1146.2,575.9L1146.4,574.4L1146.5,572.6L1146.7,577.0L1146.9,575.7L1147.0,574.4L1147.2,570.2L1147.3,571.2L1147.5,572.5L1147.7,571.5L1147.8,570.3L1148.0,571.9L1148.1,570.5L1148.3,569.1L1148.4,566.8L1148.6,567.3L1148.8,569.4L1148.9,566.0L1149.1,568.3L1149.2,567.0L1149.4,569.8L1149.5,569.1L1149.7,568.5L1149.9,567.0L1150.0,565.6L1150.2,565.9L1150.3,564.9L1150.5,566.5L1150.6,564.8L1150.8,562.8L1151.0,563.7L1151.1,564.3L1151.3,564.2L1151.4,563.0L1151.6,563.4L1151.8,562.6L1151.9,563.2L1152.1,564.5L1152.2,565.4L1152.4,563.8L1152.5,565.9L1152.7,566.3L1152.8,565.2L1153.0,566.5L1153.2,566.3L1153.3,565.5L1153.5,565.8L1153.6,563.8L1153.8,562.2L1154.0,565.3L1154.1,563.8L1154.3,563.8L1154.4,563.9L1154.6,563.6L1154.7,562.2L1154.9,563.3L1155.0,565.5L1155.2,563.5L1155.4,563.6L1155.5,564.4L1155.7,564.7L1155.8,563.0L1156.0,562.9L1156.2,563.4L1156.3,566.5L1156.5,567.0L1156.6,567.0L1156.8,565.2L1156.9,564.1L1157.1,562.3L1157.3,560.4L1157.4,559.5L1157.6,558.5L1157.7,558.2L1157.9,560.0L1158.0,558.3L1158.2,557.3L1158.4,556.9L1158.5,558.8L1158.7,557.8L1158.8,555.4L1159.0,554.9L1159.2,555.3L1159.3,552.5L1159.5,553.8L1159.6,556.2L1159.8,554.7L1159.9,555.2L1160.1,553.5L1160.2,553.7L1160.4,552.2L1160.6,553.7L1160.7,554.0L1160.9,554.9L1161.0,554.1L1161.2,552.2L1161.3,552.2L1161.5,552.2L1161.7,553.8L1161.8,554.0L1162.0,554.4L1162.1,554.3L1162.3,554.6L1162.5,552.6L1162.6,552.2L1162.8,553.9L1162.9,553.3L1163.1,553.3L1163.2,553.8L1163.4,552.9L1163.5,553.0L1163.7,553.8L1163.9,555.1L1164.0,554.9L1164.2,555.1L1164.3,553.9L1164.5,555.0L1164.7,552.7L1164.8,552.4L1165.0,553.0L1165.1,553.5L1165.3,551.8L1165.4,550.9L1165.6,553.7L1165.8,553.0L1165.9,550.6L1166.1,552.8L1166.2,552.7L1166.4,553.2L1166.5,555.0L1166.7,555.8L1166.9,557.2L1167.0,557.5L1167.2,558.1L1167.3,557.9L1167.5,556.4L1167.7,558.6L1167.8,557.5L1168.0,557.6L1168.1,555.7L1168.3,556.6L1168.4,554.9L1168.6,557.8L1168.8,555.8L1168.9,556.1L1169.1,554.8L1169.2,555.9L1169.4,555.0L1169.5,556.0L1169.7,554.8L1169.8,555.9L1170.0,555.8L1170.2,557.6L1170.3,559.6L1170.5,557.7L1170.6,559.8L1170.8,558.5L1171.0,559.0L1171.1,558.8L1171.3,559.1L1171.4,558.9L1171.6,560.1L1171.7,560.6L1171.9,561.7L1172.0,561.8L1172.2,561.8L1172.4,558.5L1172.5,557.5L1172.7,558.0L1172.8,559.8L1173.0,558.4L1173.2,558.0L1173.3,559.3L1173.5,556.8L1173.6,556.1L1173.8,555.3L1173.9,553.9L1174.1,552.8L1174.3,553.8L1174.4,555.6L1174.6,554.4L1174.7,552.9L1174.9,552.4L1175.0,551.9L1175.2,552.7L1175.4,552.8L1175.5,553.5L1175.7,550.5L1175.8,548.7L1176.0,548.6L1176.2,547.9L1176.3,548.6L1176.5,549.1L1176.6,545.8L1176.8,549.1L1176.9,548.1L1177.1,548.6L1177.2,544.6L1177.4,546.4L1177.6,546.2L1177.7,544.3L1177.9,544.3L1178.0,546.1L1178.2,546.5L1178.3,547.9L1178.5,547.7L1178.7,548.1L1178.8,547.1L1179.0,545.6L1179.1,546.9L1179.3,546.7L1179.5,549.2L1179.6,549.5L1179.8,547.7L1179.9,547.9L1180.1,548.1L1180.2,548.5L1180.4,551.7L1180.5,547.7L1180.7,552.0L1180.9,548.2L1181.0,547.6L1181.2,548.7L1181.3,552.2L1181.5,552.2L1181.7,550.7L1181.8,550.5L1182.0,551.9L1182.1,553.3L1182.3,552.1L1182.4,552.9L1182.6,553.0L1182.8,552.7L1182.9,554.6L1183.1,551.3L1183.2,551.6L1183.4,552.3L1183.5,548.8L1183.7,547.9L1183.9,550.3L1184.0,550.1L1184.2,550.5L1184.3,550.2L1184.5,548.3L1184.7,549.4L1184.8,548.4L1185.0,549.5L1185.1,545.2L1185.3,545.8L1185.4,546.7L1185.6,548.0L1185.8,547.6L1185.9,547.1L1186.1,547.1L1186.2,546.4L1186.4,546.4L1186.5,546.5L1186.7,546.2L1186.8,549.1L1187.0,549.0L1187.2,548.0L1187.3,547.0L1187.5,548.6L1187.6,549.4L1187.8,550.1L1188.0,545.5L1188.1,549.2L1188.3,547.3L1188.4,544.9L1188.6,545.0L1188.7,547.0L1188.9,544.4L1189.0,542.1L1189.2,543.7L1189.4,542.0L1189.5,540.4L1189.7,543.9L1189.8,540.4L1190.0,541.2L1190.2,540.4L1190.3,541.0L1190.5,541.5L1190.6,543.2L1190.8,542.9L1190.9,540.8L1191.1,542.9L1191.3,543.5L1191.4,541.8L1191.6,543.7L1191.7,540.1L1191.9,541.2L1192.0,540.2L1192.2,542.3L1192.4,537.7L1192.5,539.5L1192.7,540.7L1192.8,540.9L1193.0,538.6L1193.2,536.5L1193.3,537.6L1193.5,539.2L1193.6,540.4L1193.8,538.6L1193.9,538.2L1194.1,535.5L1194.2,536.7L1194.4,534.2L1194.6,534.3L1194.7,538.0L1194.9,534.8L1195.0,537.4L1195.2,537.2L1195.3,535.5L1195.5,531.9L1195.7,533.5L1195.8,531.7L1196.0,530.3L1196.1,531.7L1196.3,534.5L1196.5,533.0L1196.6,532.8L1196.8,531.2L1196.9,529.2L1197.1,530.1L1197.2,530.0L1197.4,530.4L1197.5,529.8L1197.7,530.1L1197.9,532.1L1198.0,529.0L1198.2,531.0L1198.3,529.6L1198.5,529.3L1198.7,529.0L1198.8,530.5L1199.0,530.2L1199.1,531.2L1199.3,533.0L1199.4,531.9L1199.6,531.8L1199.8,532.8L1199.9,531.5L1200.1,533.6L1200.2,533.2L1200.4,534.2L1200.5,532.7L1200.7,531.8L1200.9,533.9L1201.0,533.3L1201.2,534.5L1201.3,536.9L1201.5,537.2L1201.7,536.1L1201.8,534.4L1202.0,533.9L1202.1,532.7L1202.3,536.0L1202.4,538.2L1202.6,539.5L1202.8,543.2L1202.9,537.1L1203.1,546.5L1203.2,541.3L1203.4,553.0L1203.5,568.5L1203.7,566.6L1203.8,571.5L1204.0,583.5L1204.2,581.7L1204.3,585.2L1204.5,579.4L1204.6,588.6L1204.8,593.9L1205.0,593.1L1205.1,594.5L1205.3,593.2L1205.4,597.0L1205.6,599.9L1205.7,599.9L1205.9,599.9L1206.1,599.9L1206.2,599.5L1206.4,592.0L1206.5,595.8L1206.7,591.6L1206.8,587.3L1207.0,589.9L1207.2,587.4L1207.3,584.5L1207.5,584.5L1207.6,585.4L1207.8,584.6L1207.9,587.7L1208.1,588.8L1208.3,590.3L1208.4,588.9L1208.6,588.1L1208.7,584.5L1208.9,585.0L1209.0,588.9L1209.2,587.4L1209.4,588.8L1209.5,585.9L1209.7,588.9L1209.8,585.4L1210.0,586.8L1210.2,583.0L1210.3,583.4L1210.5,585.9L1210.6,582.4L1210.8,579.1L1210.9,584.7L1211.1,581.6L1211.2,578.5L1211.4,576.2L1211.6,581.5L1211.7,575.7L1211.9,575.5L1212.0,577.5L1212.2,576.8L1212.3,575.8L1212.5,576.8L1212.7,576.3L1212.8,574.0L1213.0,573.5L1213.1,570.1L1213.3,573.6L1213.5,570.9L1213.6,568.3L1213.8,566.3L1213.9,570.6L1214.1,567.0L1214.2,567.5L1214.4,567.6L1214.6,567.2L1214.7,570.6L1214.9,566.0L1215.0,567.5L1215.2,564.9L1215.3,564.8L1215.5,568.2L1215.7,567.1L1215.8,568.2L1216.0,564.4L1216.1,561.2L1216.3,563.8L1216.4,562.7L1216.6,561.8L1216.8,560.9L1216.9,563.7L1217.1,564.7L1217.2,561.7L1217.4,562.2L1217.5,559.0L1217.7,562.0L1217.9,558.8L1218.0,561.4L1218.2,558.8L1218.3,558.9L1218.5,562.3L1218.7,561.8L1218.8,562.0L1219.0,561.7L1219.1,558.8L1219.3,560.7L1219.4,558.8L1219.6,560.5L1219.8,561.9L1219.9,563.1L1220.1,561.3L1220.2,561.3L1220.4,560.8L1220.5,563.1L1220.7,562.1L1220.8,562.8L1221.0,561.3L1221.2,560.4L1221.3,560.5L1221.5,563.0L1221.6,561.0L1221.8,564.4L1222.0,564.4L1222.1,564.7L1222.3,562.6L1222.4,561.6L1222.6,562.6L1222.7,562.2L1222.9,565.6L1223.1,565.5L1223.2,563.8L1223.4,562.3L1223.5,562.8L1223.7,567.4L1223.8,565.4L1224.0,563.8L1224.2,564.9L1224.3,565.9L1224.5,565.8L1224.6,568.7L1224.8,566.2L1225.0,566.3L1225.1,568.3L1225.3,568.3L1225.4,567.6L1225.6,569.6L1225.7,568.9L1225.9,569.3L1226.0,568.7L1226.2,567.6L1226.4,567.8L1226.5,570.6L1226.7,570.6L1226.8,569.1L1227.0,563.9L1227.2,566.2L1227.3,566.9L1227.5,566.7L1227.6,565.2L1227.8,563.1L1227.9,562.6L1228.1,564.5L1228.2,565.4L1228.4,564.6L1228.6,565.0L1228.7,565.4L1228.9,568.2L1229.0,568.1L1229.2,567.0L1229.3,566.5L1229.5,567.3L1229.7,566.7L1229.8,564.4L1230.0,563.4L1230.1,565.5L1230.3,563.0L1230.5,562.4L1230.6,559.5L1230.8,559.1L1230.9,558.5L1231.1,557.4L1231.2,559.0L1231.4,557.5L1231.6,556.9L1231.7,555.3L1231.9,552.9L1232.0,554.4L1232.2,553.7L1232.3,554.4L1232.5,552.3L1232.7,551.0L1232.8,550.6L1233.0,549.9L1233.1,550.0L1233.3,550.7L1233.5,549.4L1233.6,548.7L1233.8,547.7L1233.9,545.7L1234.1,544.2L1234.2,545.2L1234.4,547.2L1234.5,544.8L1234.7,544.7L1234.9,542.9L1235.0,542.5L1235.2,543.3L1235.3,544.6L1235.5,543.2L1235.7,539.8L1235.8,541.3L1236.0,541.6L1236.1,539.8L1236.3,539.8L1236.4,541.8L1236.6,541.6L1236.8,540.4L1236.9,539.8L1237.1,540.3L1237.2,543.8L1237.4,543.3L1237.5,541.8L1237.7,543.1L1237.8,543.6L1238.0,543.5L1238.2,544.5L1238.3,545.8L1238.5,544.6L1238.6,546.8L1238.8,546.4L1239.0,548.5L1239.1,548.5L1239.3,548.6L1239.4,549.2L1239.6,549.0L1239.7,551.0L1239.9,551.9L1240.1,551.9L1240.2,550.6L1240.4,549.3L1240.5,545.3L1240.7,545.2L1240.8,544.3L1241.0,545.8L1241.2,545.8L1241.3,545.8L1241.5,545.9L1241.6,551.8L1241.8,554.3L1242.0,552.9L1242.1,552.8L1242.3,549.2L1242.4,549.9L1242.6,549.5L1242.7,552.1L1242.9,552.1L1243.0,554.3L1243.2,552.4L1243.4,552.9L1243.5,552.2L1243.7,552.5L1243.8,550.3L1244.0,550.2L1244.2,550.8L1244.3,548.0L1244.5,547.7L1244.6,549.1L1244.8,550.8L1244.9,549.3L1245.1,548.8L1245.2,549.1L1245.4,546.3L1245.6,547.2L1245.7,546.8L1245.9,547.0L1246.0,548.0L1246.2,546.0L1246.3,543.6L1246.5,544.1L1246.7,545.4L1246.8,546.2L1247.0,544.0L1247.1,545.1L1247.3,543.9L1247.5,543.6L1247.6,543.6L1247.8,543.6L1247.9,544.7L1248.1,544.7L1248.2,546.0L1248.4,544.6L1248.6,544.6L1248.7,546.6L1248.9,545.2L1249.0,543.3L1249.2,543.7L1249.3,544.8L1249.5,546.2L1249.7,546.0L1249.8,541.1L1250.0,542.7L1250.1,541.5L1250.3,542.8L1250.5,541.0L1250.6,539.3L1250.8,539.2L1250.9,542.0L1251.1,541.5L1251.2,538.8L1251.4,538.0L1251.5,535.8L1251.7,535.0L1251.9,536.7L1252.0,535.2L1252.2,534.7L1252.3,535.3L1252.5,535.5L1252.7,534.2L1252.8,534.7L1253.0,534.9L1253.1,534.2L1253.3,537.3L1253.4,536.8L1253.6,537.7L1253.8,537.2L1253.9,537.7L1254.1,538.1L1254.2,535.8L1254.4,534.9L1254.5,535.5L1254.7,538.3L1254.8,539.2L1255.0,538.0L1255.2,537.4L1255.3,538.5L1255.5,539.5L1255.6,537.9L1255.8,538.2L1256.0,537.6L1256.1,537.0L1256.3,537.8L1256.4,538.0L1256.6,536.8L1256.7,538.1L1256.9,539.8L1257.1,541.5L1257.2,541.2L1257.4,540.5L1257.5,537.2L1257.7,537.2L1257.8,541.2L1258.0,539.2L1258.2,541.2L1258.3,538.6L1258.5,541.0L1258.6,542.0L1258.8,541.6L1259.0,541.7L1259.1,543.6L1259.3,540.9L1259.4,539.3L1259.6,540.8L1259.7,542.1L1259.9,543.3L1260.0,543.5L1260.2,544.5L1260.4,546.1L1260.5,543.3L1260.7,543.7L1260.8,543.0L1261.0,545.4L1261.2,545.4L1261.3,545.4L1261.5,543.6L1261.6,545.4L1261.8,545.2L1261.9,549.5L1262.1,548.3L1262.2,546.3L1262.4,547.0L1262.6,550.9L1262.7,547.4L1262.9,549.4L1263.0,552.0L1263.2,553.4L1263.3,550.7L1263.5,551.1L1263.7,550.0L1263.8,551.3L1264.0,552.4L1264.1,555.4L1264.3,555.9L1264.5,555.0L1264.6,554.0L1264.8,553.1L1264.9,553.9L1265.1,550.4L1265.2,551.6L1265.4,554.1L1265.6,553.4L1265.7,552.2L1265.9,550.9L1266.0,552.4L1266.2,552.3L1266.3,552.5L1266.5,550.9L1266.7,551.5L1266.8,552.1L1267.0,553.1L1267.1,555.5L1267.3,553.7L1267.5,554.6L1267.6,553.5L1267.8,553.6L1267.9,558.0L1268.1,555.6L1268.2,554.8L1268.4,556.4L1268.5,557.7L1268.7,557.7L1268.9,559.9L1269.0,560.1L1269.2,558.8L1269.3,559.0L1269.5,558.4L1269.7,561.5L1269.8,561.4L1270.0,561.5L1270.1,560.6L1270.3,560.0L1270.4,559.6L1270.6,562.5L1270.8,562.5L1270.9,563.0L1271.1,563.8L1271.2,563.8L1271.4,563.8L1271.5,561.8L1271.7,561.6L1271.9,560.7L1272.0,561.9L1272.2,560.9L1272.3,561.6L1272.5,560.5L1272.6,558.1L1272.8,558.8L1273.0,558.6L1273.1,556.5L1273.3,558.0L1273.4,557.1L1273.6,559.7L1273.7,558.6L1273.9,556.5L1274.1,558.5L1274.2,559.8L1274.4,562.9L1274.5,563.4L1274.7,563.6L1274.8,561.0L1275.0,562.3L1275.2,561.9L1275.3,562.1L1275.5,563.0L1275.6,563.4L1275.8,560.7L1276.0,559.0L1276.1,557.9L1276.3,557.6L1276.4,558.8L1276.6,557.6L1276.7,556.2L1276.9,554.1L1277.0,553.6L1277.2,553.0L1277.4,552.5L1277.5,553.8L1277.7,551.8L1277.8,551.8L1278.0,550.8L1278.2,553.0L1278.3,553.5L1278.5,553.0L1278.6,553.6L1278.8,552.5L1278.9,554.0L1279.1,552.0L1279.2,550.7L1279.4,551.1L1279.6,552.5L1279.7,553.0L1279.9,552.1L1280.0,549.6L1280.2,550.6L1280.4,550.8L1280.5,551.0L1280.7,550.1L1280.8,549.6L1281.0,553.4L1281.1,549.9L1281.3,549.9L1281.5,549.6L1281.6,551.7L1281.8,552.8L1281.9,553.8L1282.1,552.7L1282.2,553.0L1282.4,554.8L1282.6,555.6L1282.7,554.0L1282.9,552.0L1283.0,549.9L1283.2,547.1L1283.3,549.0L1283.5,550.6L1283.7,550.6L1283.8,549.3L1284.0,548.0L1284.1,543.7L1284.3,545.0L1284.5,544.4L1284.6,543.6L1284.8,543.4L1284.9,547.2L1285.1,545.1L1285.2,546.5L1285.4,550.6L1285.5,551.9L1285.7,545.1L1285.9,544.6L1286.0,548.6L1286.2,549.4L1286.3,547.7L1286.5,552.8L1286.7,554.6L1286.8,556.3L1287.0,553.1L1287.1,553.6L1287.3,555.2L1287.4,557.4L1287.6,560.6L1287.8,559.2L1287.9,558.9L1288.1,559.7L1288.2,558.9L1288.4,558.5L1288.5,557.3L1288.7,557.8L1288.9,556.8L1289.0,555.6L1289.2,556.2L1289.3,555.9L1289.5,555.2L1289.6,555.3L1289.8,553.8L1290.0,555.6L1290.1,554.4L1290.3,554.6L1290.4,557.0L1290.6,554.9L1290.8,552.6L1290.9,552.5L1291.1,553.3L1291.2,552.5L1291.4,552.9L1291.5,556.7L1291.7,559.0L1291.8,560.3L1292.0,559.5L1292.2,559.4L1292.3,561.5L1292.5,562.7L1292.6,564.7L1292.8,564.4L1293.0,561.8L1293.1,563.4L1293.3,563.6L1293.4,564.8L1293.6,565.9L1293.7,565.1L1293.9,565.8L1294.0,567.3L1294.2,567.6L1294.4,567.2L1294.5,565.7L1294.7,565.5L1294.8,568.3L1295.0,567.7L1295.2,565.4L1295.3,567.6L1295.5,568.0L1295.6,568.1L1295.8,567.0L1295.9,568.1L1296.1,566.0L1296.2,564.0L1296.4,565.2L1296.6,564.0L1296.7,563.9L1296.9,561.2L1297.0,559.3L1297.2,560.8L1297.4,561.5L1297.5,560.0L1297.7,559.1L1297.8,556.5L1298.0,557.6L1298.1,553.8L1298.3,555.2L1298.5,554.5L1298.6,554.2L1298.8,552.6L1298.9,551.6L1299.1,551.9L1299.2,551.4L1299.4,552.3L1299.6,551.4L1299.7,551.4L1299.9,554.0L1300.0,555.9L1300.2,553.4L1300.3,552.9L1300.5,555.4L1300.7,556.0L1300.8,556.0L1301.0,553.5L1301.1,552.2L1301.3,556.0L1301.5,555.8L1301.6,554.8L1301.8,554.9L1301.9,552.7L1302.1,551.6L1302.2,551.4L1302.4,553.3L1302.5,554.3L1302.7,554.2L1302.9,551.9L1303.0,552.9L1303.2,552.8L1303.3,554.1L1303.5,556.7L1303.7,554.1L1303.8,552.3L1304.0,550.1L1304.1,548.4L1304.3,548.4L1304.4,549.8L1304.6,550.6L1304.8,552.3L1304.9,550.2L1305.1,548.6L1305.2,548.5L1305.4,549.0L1305.5,547.5L1305.7,546.0L1305.9,545.6L1306.0,545.4L1306.2,545.7L1306.3,545.4L1306.5,546.5L1306.6,547.1L1306.8,545.6L1307.0,547.8L1307.1,546.9L1307.3,547.5L1307.4,548.7L1307.6,549.6L1307.8,549.4L1307.9,550.7L1308.1,550.5L1308.2,552.1L1308.4,549.6L1308.5,551.2L1308.7,550.2L1308.8,552.5L1309.0,552.6L1309.2,552.9L1309.3,556.1L1309.5,555.8L1309.6,556.1L1309.8,553.6L1310.0,555.6L1310.1,556.1L1310.3,556.1L1310.4,552.9L1310.6,552.0L1310.7,552.0L1310.9,552.0L1311.0,552.4L1311.2,553.2L1311.4,553.3L1311.5,554.8L1311.7,556.5L1311.8,558.2L1312.0,558.7L1312.2,558.6L1312.3,562.0L1312.5,561.8L1312.6,560.5L1312.8,559.8L1312.9,559.8L1313.1,561.4L1313.3,559.9L1313.4,556.6L1313.6,558.5L1313.7,557.3L1313.9,555.8L1314.0,555.3L1314.2,557.7L1314.4,557.9L1314.5,556.7L1314.7,552.9L1314.8,553.4L1315.0,555.3L1315.1,555.5L1315.3,554.4L1315.5,553.4L1315.6,550.7L1315.8,553.3L1315.9,554.5L1316.1,552.6L1316.2,552.3L1316.4,550.7L1316.6,550.7L1316.7,553.5L1316.9,552.5L1317.0,554.3L1317.2,552.0L1317.3,552.8L1317.5,551.3L1317.7,553.4L1317.8,553.6L1318.0,555.1L1318.1,556.0L1318.3,555.3L1318.5,556.4L1318.6,555.8L1318.8,555.6L1318.9,556.3L1319.1,556.8L1319.2,558.7L1319.4,556.8L1319.5,557.7L1319.7,558.4L1319.9,558.8L1320.0,560.6L1320.2,559.8L1320.3,562.1L1320.5,560.9L1320.7,561.5L1320.8,559.5L1321.0,559.5L1321.1,563.6L1321.3,564.4L1321.4,563.0L1321.6,562.1L1321.8,564.5L1321.9,566.4L1322.1,565.7L1322.2,566.4L1322.4,564.9L1322.5,563.2L1322.7,563.4L1322.9,562.0L1323.0,560.8L1323.2,561.2L1323.3,563.1L1323.5,562.7L1323.7,561.1L1323.8,560.9L1324.0,559.5L1324.1,559.6L1324.3,558.9L1324.4,558.2L1324.6,558.5L1324.8,560.4L1324.9,560.5L1325.1,560.2L1325.2,562.1L1325.4,562.2L1325.5,561.8L1325.7,560.4L1325.8,562.5L1326.0,562.7L1326.2,560.7L1326.3,560.2L1326.5,559.5L1326.6,562.0L1326.8,559.7L1327.0,559.7L1327.1,560.8L1327.3,560.4L1327.4,558.8L1327.6,557.9L1327.7,555.8L1327.9,555.1L1328.0,556.9L1328.2,556.7L1328.4,556.9L1328.5,555.7L1328.7,557.0L1328.8,556.4L1329.0,556.6L1329.2,556.1L1329.3,555.4L1329.5,552.5L1329.6,554.0L1329.8,555.1L1329.9,553.1L1330.1,552.9L1330.3,548.9L1330.4,550.7L1330.6,552.4L1330.7,554.5L1330.9,548.3L1331.0,547.5L1331.2,548.2L1331.4,546.9L1331.5,545.7L1331.7,545.6L1331.8,544.9L1332.0,547.6L1332.2,545.3L1332.3,548.7L1332.5,547.9L1332.6,545.2L1332.8,547.9L1332.9,546.6L1333.1,548.8L1333.2,546.4L1333.4,545.5L1333.6,547.4L1333.7,547.9L1333.9,547.7L1334.0,546.8L1334.2,547.1L1334.3,545.8L1334.5,546.0L1334.7,545.4L1334.8,543.6L1335.0,545.3L1335.1,543.4L1335.3,544.0L1335.5,545.4L1335.6,546.0L1335.8,544.4L1335.9,543.1L1336.1,545.3L1336.2,546.2L1336.4,545.9L1336.5,545.2L1336.7,545.8L1336.9,545.2L1337.0,548.2L1337.2,549.2L1337.3,547.9L1337.5,546.9L1337.7,549.0L1337.8,550.3L1338.0,550.3L1338.1,549.0L1338.3,549.8L1338.4,549.9L1338.6,550.1" stroke="#3a76b1"/>
<path d="M226.9,654.9L227.1,655.3L227.2,655.1L227.4,655.1L227.6,654.9L227.7,655.0L227.9,655.1L228.0,654.6L228.2,654.9L228.3,654.6L228.5,654.8L228.7,654.7L228.8,654.1L229.0,654.0L229.1,654.1L229.3,654.2L229.4,653.6L229.6,653.7L229.8,653.4L229.9,653.7L230.1,653.5L230.2,652.9L230.4,653.2L230.5,652.8L230.7,652.9L230.9,652.6L231.0,652.7L231.2,652.8L231.3,652.4L231.5,652.1L231.7,651.9L231.8,651.8L232.0,652.1L232.1,651.5L232.3,652.0L232.4,652.0L232.6,651.6L232.8,651.4L232.9,651.1L233.1,651.3L233.2,651.4L233.4,651.2L233.5,651.1L233.7,651.2L233.8,651.0L234.0,651.1L234.2,650.9L234.3,650.5L234.5,651.0L234.6,651.1L234.8,651.4L234.9,651.1L235.1,651.0L235.3,651.0L235.4,650.9L235.6,651.2L235.7,651.1L235.9,651.2L236.1,650.8L236.2,651.5L236.4,651.0L236.5,651.4L236.7,651.9L236.8,651.9L237.0,651.9L237.2,652.1L237.3,651.2L237.5,651.6L237.6,651.8L237.8,652.0L237.9,651.5L238.1,651.9L238.3,652.0L238.4,651.8L238.6,651.7L238.7,652.0L238.9,651.7L239.1,651.7L239.2,652.0L239.4,651.7L239.5,652.1L239.7,651.5L239.8,651.5L240.0,651.5L240.2,651.3L240.3,651.5L240.5,651.5L240.6,651.9L240.8,651.2L240.9,651.5L241.1,651.2L241.2,651.8L241.4,651.3L241.6,651.5L241.7,651.2L241.9,651.2L242.0,651.6L242.2,651.1L242.3,651.0L242.5,650.6L242.7,650.7L242.8,650.8L243.0,651.2L243.1,650.4L243.3,650.8L243.4,650.3L243.6,650.3L243.8,650.9L243.9,650.9L244.1,650.4L244.2,650.4L244.4,650.1L244.6,650.0L244.7,650.4L244.9,650.1L245.0,650.1L245.2,650.1L245.3,650.0L245.5,649.9L245.7,650.2L245.8,650.3L246.0,649.5L246.1,649.7L246.3,650.3L246.4,650.3L246.6,649.1L246.8,649.3L246.9,649.7L247.1,649.7L247.2,650.0L247.4,649.4L247.6,649.4L247.7,649.1L247.9,649.6L248.0,649.2L248.2,649.3L248.3,649.4L248.5,649.5L248.7,650.0L248.8,649.4L249.0,649.8L249.1,649.4L249.3,649.8L249.4,649.7L249.6,650.4L249.8,649.9L249.9,649.8L250.1,650.2L250.2,650.3L250.4,650.3L250.5,649.6L250.7,649.7L250.8,650.2L251.0,650.8L251.2,650.5L251.3,650.1L251.5,650.6L251.6,651.0L251.8,650.7L251.9,650.5L252.1,650.5L252.3,651.0L252.4,650.5L252.6,651.2L252.7,651.1L252.9,651.6L253.1,651.4L253.2,650.7L253.4,650.5L253.5,651.0L253.7,651.4L253.8,651.4L254.0,651.5L254.2,651.3L254.3,650.8L254.5,651.1L254.6,651.8L254.8,651.6L254.9,650.9L255.1,650.9L255.3,650.5L255.4,650.8L255.6,651.0L255.7,650.7L255.9,650.8L256.1,651.4L256.2,650.7L256.4,650.9L256.5,650.3L256.7,650.1L256.8,650.5L257.0,650.4L257.1,650.8L257.3,650.4L257.5,650.7L257.6,650.5L257.8,650.6L257.9,649.9L258.1,650.3L258.2,650.2L258.4,650.0L258.6,649.5L258.7,650.1L258.9,650.2L259.0,649.8L259.2,649.5L259.4,649.5L259.5,649.5L259.7,648.8L259.8,648.1L260.0,648.9L260.1,648.9L260.3,648.8L260.4,649.7L260.6,649.5L260.8,648.8L260.9,648.0L261.1,648.7L261.2,649.0L261.4,648.8L261.6,648.2L261.7,648.3L261.9,648.1L262.0,648.5L262.2,648.3L262.3,647.8L262.5,647.9L262.7,648.1L262.8,648.1L263.0,648.2L263.1,647.6L263.3,648.1L263.4,648.2L263.6,648.4L263.8,648.8L263.9,648.3L264.1,647.7L264.2,648.0L264.4,648.2L264.6,647.6L264.7,648.4L264.9,648.4L265.0,648.2L265.2,648.0L265.3,648.7L265.5,649.0L265.6,648.7L265.8,648.2L266.0,648.4L266.1,648.5L266.3,648.0L266.4,648.4L266.6,648.6L266.8,649.4L266.9,649.0L267.1,648.9L267.2,648.6L267.4,648.4L267.5,648.6L267.7,649.0L267.9,648.8L268.0,649.4L268.2,648.7L268.3,648.3L268.5,648.1L268.6,648.5L268.8,649.0L268.9,649.2L269.1,648.5L269.3,648.4L269.4,648.1L269.6,648.2L269.7,648.6L269.9,648.9L270.1,648.6L270.2,648.2L270.4,648.3L270.5,648.0L270.7,647.5L270.8,648.0L271.0,648.2L271.2,648.2L271.3,647.6L271.5,648.2L271.6,647.9L271.8,647.1L271.9,647.5L272.1,647.8L272.3,647.7L272.4,647.6L272.6,648.1L272.7,647.6L272.9,646.9L273.1,646.6L273.2,646.7L273.4,647.5L273.5,646.7L273.7,647.4L273.8,647.4L274.0,647.0L274.1,647.6L274.3,647.1L274.5,646.9L274.6,646.9L274.8,646.9L274.9,646.2L275.1,646.2L275.2,646.9L275.4,647.3L275.6,647.6L275.7,646.4L275.9,645.9L276.0,646.3L276.2,647.0L276.4,646.5L276.5,646.9L276.7,646.8L276.8,646.7L277.0,646.0L277.1,646.4L277.3,646.0L277.5,646.4L277.6,646.2L277.8,646.3L277.9,645.0L278.1,645.0L278.2,645.0L278.4,645.3L278.6,645.1L278.7,645.8L278.9,645.8L279.0,645.6L279.2,644.2L279.3,644.2L279.5,645.1L279.7,645.2L279.8,645.5L280.0,645.5L280.1,644.2L280.3,644.0L280.4,644.5L280.6,645.3L280.8,645.3L280.9,645.1L281.1,645.5L281.2,645.1L281.4,645.9L281.6,645.4L281.7,644.8L281.9,644.8L282.0,645.3L282.2,645.1L282.3,644.6L282.5,645.5L282.6,645.0L282.8,645.4L283.0,646.0L283.1,645.0L283.3,645.1L283.4,644.9L283.6,644.7L283.8,645.2L283.9,645.7L284.1,645.5L284.2,645.1L284.4,645.4L284.5,644.5L284.7,644.2L284.9,644.9L285.0,645.5L285.2,645.4L285.3,644.4L285.5,645.5L285.6,645.2L285.8,645.0L286.0,644.0L286.1,644.8L286.3,644.7L286.4,645.6L286.6,644.7L286.7,644.7L286.9,644.2L287.1,644.3L287.2,644.1L287.4,645.3L287.5,644.8L287.7,644.6L287.8,644.8L288.0,644.2L288.2,644.1L288.3,644.5L288.5,645.0L288.6,644.8L288.8,644.5L288.9,643.9L289.1,644.2L289.3,644.6L289.4,644.4L289.6,644.9L289.7,644.8L289.9,643.8L290.1,644.3L290.2,644.5L290.4,644.6L290.5,644.9L290.7,644.7L290.8,644.7L291.0,643.9L291.1,644.5L291.3,644.4L291.5,644.3L291.6,644.5L291.8,644.4L291.9,644.6L292.1,643.8L292.2,644.0L292.4,644.5L292.6,644.4L292.7,644.7L292.9,643.7L293.0,644.2L293.2,644.1L293.4,644.1L293.5,643.6L293.7,644.6L293.8,644.7L294.0,644.6L294.1,643.3L294.3,643.8L294.5,644.2L294.6,644.2L294.8,644.3L294.9,643.9L295.1,644.1L295.2,644.3L295.4,643.7L295.6,644.2L295.7,643.2L295.9,643.6L296.0,644.2L296.2,644.7L296.4,643.9L296.5,643.7L296.7,643.7L296.8,643.6L297.0,643.8L297.1,643.6L297.3,642.2L297.4,643.1L297.6,643.3L297.8,644.0L297.9,644.1L298.1,643.1L298.2,642.0L298.4,642.4L298.6,642.6L298.7,642.9L298.9,641.7L299.0,643.1L299.2,642.2L299.3,642.3L299.5,641.4L299.6,641.9L299.8,641.5L300.0,642.3L300.1,642.7L300.3,641.7L300.4,641.3L300.6,640.6L300.8,640.5L300.9,641.6L301.1,642.0L301.2,640.8L301.4,640.9L301.5,639.5L301.7,640.6L301.9,641.1L302.0,640.6L302.2,640.1L302.3,638.4L302.5,638.7L302.6,639.6L302.8,638.9L303.0,639.4L303.1,638.6L303.3,638.7L303.4,639.4L303.6,638.9L303.7,637.7L303.9,637.3L304.1,638.0L304.2,637.3L304.4,638.2L304.5,638.2L304.7,638.1L304.9,637.6L305.0,636.6L305.2,637.6L305.3,637.8L305.5,636.9L305.6,637.1L305.8,637.5L305.9,638.4L306.1,638.1L306.3,637.3L306.4,636.8L306.6,636.9L306.7,637.2L306.9,637.7L307.1,636.9L307.2,637.2L307.4,636.0L307.5,637.8L307.7,636.8L307.8,636.8L308.0,636.9L308.1,636.4L308.3,636.2L308.5,637.7L308.6,637.1L308.8,636.3L308.9,636.6L309.1,635.5L309.2,636.3L309.4,636.9L309.6,635.6L309.7,635.0L309.9,635.3L310.0,636.9L310.2,636.0L310.4,635.0L310.5,635.0L310.7,634.6L310.8,635.7L311.0,634.7L311.1,634.5L311.3,635.0L311.5,634.3L311.6,634.9L311.8,634.8L311.9,635.7L312.1,634.2L312.2,634.5L312.4,634.9L312.6,633.6L312.7,631.8L312.9,632.2L313.0,631.9L313.2,633.8L313.4,633.6L313.5,633.7L313.7,632.5L313.8,632.5L314.0,630.8L314.1,631.9L314.3,632.2L314.4,631.2L314.6,630.9L314.8,630.2L314.9,630.4L315.1,630.6L315.2,629.3L315.4,629.9L315.6,631.2L315.7,629.8L315.9,629.6L316.0,627.1L316.2,629.5L316.3,628.5L316.5,627.4L316.6,628.3L316.8,628.8L317.0,628.4L317.1,627.4L317.3,627.0L317.4,626.9L317.6,627.2L317.8,625.6L317.9,627.7L318.1,628.3L318.2,628.2L318.4,627.1L318.5,625.6L318.7,626.7L318.9,626.9L319.0,628.1L319.2,627.1L319.3,628.8L319.5,629.0L319.6,630.1L319.8,629.1L320.0,630.6L320.1,630.2L320.3,631.4L320.4,628.9L320.6,629.1L320.7,628.2L320.9,629.5L321.1,629.2L321.2,629.1L321.4,629.1L321.5,628.4L321.7,628.4L321.9,630.2L322.0,629.9L322.2,631.0L322.3,632.4L322.5,631.7L322.6,631.7L322.8,631.8L322.9,633.4L323.1,632.9L323.3,633.3L323.4,632.0L323.6,633.6L323.7,634.7L323.9,634.2L324.1,635.0L324.2,634.4L324.4,633.8L324.5,633.8L324.7,633.5L324.8,633.9L325.0,632.3L325.1,633.1L325.3,633.6L325.5,633.8L325.6,631.5L325.8,630.5L325.9,631.8L326.1,631.2L326.2,629.9L326.4,631.0L326.6,630.4L326.7,631.1L326.9,629.8L327.0,629.6L327.2,630.1L327.4,630.9L327.5,629.7L327.7,629.3L327.8,629.5L328.0,628.8L328.1,627.4L328.3,628.4L328.5,628.8L328.6,628.6L328.8,629.0L328.9,629.3L329.1,627.7L329.2,628.0L329.4,628.6L329.6,628.2L329.7,627.8L329.9,627.4L330.0,627.4L330.2,629.7L330.4,630.9L330.5,629.0L330.7,629.8L330.8,631.1L331.0,631.3L331.1,630.5L331.3,632.1L331.4,634.0L331.6,634.2L331.8,634.0L331.9,634.7L332.1,635.4L332.2,634.2L332.4,631.7L332.6,631.1L332.7,628.6L332.9,631.1L333.0,630.9L333.2,630.7L333.3,628.5L333.5,628.2L333.6,629.4L333.8,630.2L334.0,629.7L334.1,630.0L334.3,628.6L334.4,627.8L334.6,628.0L334.8,630.6L334.9,629.9L335.1,629.6L335.2,628.0L335.4,627.2L335.5,627.2L335.7,627.1L335.9,628.4L336.0,628.1L336.2,628.3L336.3,626.7L336.5,629.0L336.6,627.5L336.8,628.0L337.0,627.3L337.1,627.7L337.3,626.8L337.4,627.1L337.6,627.8L337.8,627.6L337.9,629.4L338.1,629.7L338.2,629.6L338.4,627.5L338.5,627.2L338.7,628.0L338.9,629.6L339.0,627.4L339.2,627.7L339.3,627.9L339.5,629.3L339.6,628.8L339.8,627.6L339.9,627.7L340.1,628.9L340.3,629.5L340.4,626.8L340.6,627.5L340.7,627.8L340.9,627.6L341.1,626.2L341.2,627.8L341.4,627.4L341.5,626.7L341.7,627.1L341.8,625.8L342.0,625.6L342.1,625.8L342.3,625.2L342.5,625.4L342.6,624.8L342.8,625.0L342.9,625.3L343.1,625.7L343.3,626.3L343.4,624.7L343.6,622.6L343.7,624.6L343.9,622.7L344.0,623.8L344.2,622.6L344.4,621.5L344.5,622.7L344.7,623.8L344.8,622.9L345.0,623.4L345.1,623.0L345.3,622.9L345.5,621.3L345.6,620.3L345.8,621.1L345.9,621.0L346.1,620.9L346.2,621.6L346.4,622.3L346.6,620.0L346.7,619.5L346.9,622.2L347.0,621.7L347.2,621.7L347.4,619.4L347.5,621.0L347.7,620.3L347.8,620.4L348.0,619.4L348.1,620.3L348.3,619.4L348.4,619.4L348.6,620.8L348.8,620.4L348.9,621.7L349.1,621.0L349.2,623.0L349.4,619.8L349.6,620.2L349.7,620.8L349.9,623.6L350.0,623.0L350.2,622.6L350.3,623.1L350.5,622.8L350.6,623.7L350.8,623.2L351.0,625.7L351.1,624.6L351.3,624.9L351.4,621.9L351.6,624.0L351.8,624.0L351.9,626.1L352.1,624.2L352.2,624.9L352.4,624.9L352.5,624.8L352.7,625.5L352.9,626.6L353.0,625.0L353.2,626.7L353.3,627.9L353.5,627.6L353.6,627.0L353.8,627.2L354.0,628.4L354.1,628.9L354.3,629.1L354.4,627.6L354.6,627.9L354.8,628.4L354.9,627.5L355.1,627.4L355.2,628.4L355.4,629.3L355.5,628.7L355.7,627.5L355.9,626.8L356.0,628.1L356.2,626.5L356.3,628.6L356.5,627.9L356.6,624.9L356.8,625.4L356.9,625.7L357.1,626.5L357.3,625.8L357.4,624.9L357.6,624.0L357.7,626.1L357.9,626.0L358.1,626.1L358.2,625.3L358.4,624.3L358.5,624.0L358.7,623.5L358.8,625.9L359.0,625.0L359.1,623.7L359.3,623.6L359.5,624.8L359.6,624.8L359.8,623.3L359.9,625.2L360.1,625.8L360.3,626.7L360.4,627.6L360.6,628.4L360.7,628.7L360.9,630.3L361.0,631.1L361.2,631.0L361.4,632.9L361.5,632.3L361.7,632.8L361.8,634.0L362.0,635.0L362.1,634.5L362.3,636.1L362.5,636.9L362.6,638.4L362.8,638.6L362.9,637.2L363.1,637.7L363.2,638.7L363.4,639.6L363.6,640.3L363.7,639.9L363.9,640.6L364.0,641.1L364.2,641.9L364.4,642.1L364.5,640.7L364.7,641.8L364.8,641.8L365.0,640.8L365.1,640.4L365.3,640.1L365.4,639.4L365.6,640.0L365.8,641.0L365.9,639.9L366.1,639.9L366.2,639.5L366.4,639.2L366.6,638.2L366.7,639.4L366.9,639.5L367.0,639.9L367.2,639.2L367.3,640.1L367.5,639.4L367.6,640.4L367.8,641.1L368.0,640.1L368.1,640.0L368.3,640.6L368.4,641.3L368.6,640.4L368.8,639.2L368.9,639.4L369.1,639.4L369.2,638.9L369.4,638.5L369.5,638.7L369.7,638.5L369.9,639.0L370.0,638.4L370.2,638.2L370.3,637.2L370.5,638.2L370.6,638.1L370.8,637.3L371.0,637.0L371.1,637.8L371.3,636.4L371.4,637.0L371.6,635.6L371.8,636.9L371.9,636.9L372.1,637.4L372.2,636.5L372.4,635.2L372.5,636.1L372.7,637.7L372.9,637.2L373.0,635.9L373.2,636.4L373.3,637.3L373.5,636.8L373.6,637.5L373.8,637.6L373.9,637.0L374.1,638.9L374.3,638.3L374.4,639.2L374.6,639.0L374.7,639.2L374.9,639.5L375.1,639.0L375.2,639.2L375.4,639.9L375.5,640.8L375.7,640.3L375.8,640.4L376.0,639.6L376.2,640.4L376.3,640.5L376.5,640.8L376.6,641.3L376.8,641.3L376.9,641.4L377.1,642.6L377.3,643.7L377.4,644.1L377.6,644.3L377.7,643.6L377.9,641.3L378.0,640.3L378.2,638.9L378.4,638.4L378.5,636.8L378.7,636.7L378.8,636.8L379.0,635.7L379.1,635.0L379.3,633.3L379.5,633.1L379.6,633.6L379.8,634.2L379.9,634.2L380.1,633.5L380.2,633.8L380.4,633.5L380.6,635.1L380.7,633.3L380.9,635.5L381.0,634.5L381.2,634.2L381.4,634.9L381.5,634.4L381.7,633.7L381.8,633.7L382.0,634.5L382.1,634.4L382.3,635.5L382.4,635.9L382.6,633.5L382.8,633.7L382.9,632.7L383.1,633.0L383.2,632.4L383.4,632.9L383.6,633.4L383.7,632.2L383.9,631.2L384.0,630.5L384.2,630.5L384.3,631.8L384.5,631.1L384.7,631.6L384.8,629.5L385.0,630.7L385.1,629.0L385.3,630.6L385.4,631.0L385.6,629.7L385.8,630.4L385.9,630.9L386.1,629.3L386.2,632.2L386.4,632.2L386.5,629.7L386.7,629.1L386.9,630.6L387.0,631.0L387.2,631.4L387.3,629.8L387.5,630.8L387.6,631.9L387.8,631.1L388.0,630.5L388.1,629.5L388.3,630.7L388.4,631.2L388.6,630.2L388.8,632.3L388.9,631.2L389.1,632.3L389.2,631.7L389.4,630.5L389.5,630.0L389.7,630.7L389.9,630.7L390.0,629.9L390.2,629.8L390.3,630.8L390.5,631.6L390.6,632.0L390.8,630.3L390.9,631.7L391.1,633.6L391.3,633.4L391.4,634.2L391.6,633.8L391.7,633.4L391.9,633.5L392.1,632.3L392.2,633.9L392.4,633.7L392.5,633.8L392.7,632.7L392.8,632.1L393.0,632.8L393.2,633.1L393.3,632.3L393.5,633.6L393.6,634.0L393.8,632.4L393.9,631.4L394.1,632.5L394.3,633.2L394.4,631.7L394.6,631.4L394.7,631.4L394.9,631.8L395.1,632.4L395.2,632.0L395.4,632.5L395.5,631.5L395.7,631.7L395.8,631.6L396.0,633.0L396.1,633.0L396.3,633.3L396.5,634.4L396.6,632.7L396.8,632.4L396.9,632.7L397.1,632.9L397.2,632.7L397.4,633.4L397.6,633.5L397.7,632.6L397.9,634.3L398.0,633.2L398.2,633.6L398.4,634.4L398.5,634.8L398.7,635.5L398.8,635.0L399.0,636.5L399.1,634.8L399.3,634.6L399.4,636.5L399.6,636.6L399.8,637.5L399.9,637.2L400.1,636.0L400.2,635.3L400.4,637.0L400.6,637.5L400.7,636.3L400.9,636.1L401.0,636.3L401.2,637.3L401.3,634.8L401.5,635.1L401.7,634.6L401.8,634.6L402.0,634.0L402.1,634.1L402.3,634.8L402.4,634.8L402.6,635.0L402.8,634.6L402.9,634.9L403.1,633.1L403.2,634.1L403.4,633.6L403.6,634.6L403.7,634.2L403.9,633.0L404.0,633.1L404.2,633.4L404.3,633.9L404.5,634.4L404.6,633.1L404.8,633.0L405.0,634.3L405.1,634.0L405.3,633.4L405.4,632.9L405.6,633.6L405.8,633.6L405.9,634.0L406.1,634.4L406.2,633.1L406.4,634.0L406.5,634.3L406.7,634.4L406.9,633.4L407.0,633.8L407.2,633.3L407.3,632.7L407.5,632.5L407.6,633.9L407.8,633.5L407.9,634.0L408.1,633.5L408.3,632.4L408.4,631.7L408.6,630.4L408.7,632.2L408.9,632.6L409.1,630.8L409.2,629.9L409.4,630.0L409.5,630.5L409.7,630.0L409.8,628.6L410.0,630.4L410.2,629.1L410.3,629.1L410.5,628.7L410.6,630.0L410.8,629.8L410.9,629.6L411.1,628.5L411.3,628.1L411.4,626.0L411.6,627.4L411.7,627.9L411.9,627.9L412.1,627.4L412.2,627.4L412.4,624.4L412.5,624.0L412.7,624.5L412.8,625.9L413.0,626.5L413.1,626.6L413.3,623.1L413.5,624.1L413.6,624.6L413.8,624.1L413.9,621.5L414.1,621.4L414.2,622.3L414.4,622.6L414.6,622.3L414.7,622.3L414.9,621.2L415.0,621.3L415.2,619.6L415.4,618.5L415.5,618.1L415.7,619.4L415.8,619.8L416.0,619.1L416.1,618.7L416.3,619.4L416.4,618.9L416.6,620.6L416.8,619.6L416.9,620.0L417.1,619.8L417.2,619.1L417.4,618.2L417.6,617.9L417.7,619.6L417.9,619.5L418.0,618.8L418.2,619.3L418.3,619.0L418.5,617.4L418.7,618.0L418.8,619.0L419.0,616.7L419.1,616.2L419.3,617.9L419.4,617.5L419.6,616.3L419.8,617.3L419.9,616.2L420.1,617.8L420.2,617.3L420.4,617.6L420.6,616.5L420.7,617.3L420.9,617.4L421.0,617.8L421.2,615.8L421.3,617.1L421.5,615.6L421.6,615.8L421.8,617.7L422.0,617.2L422.1,617.0L422.3,615.2L422.4,615.5L422.6,617.0L422.8,616.8L422.9,616.7L423.1,617.4L423.2,615.5L423.4,616.3L423.5,614.7L423.7,614.7L423.9,614.7L424.0,615.2L424.2,616.8L424.3,617.8L424.5,615.9L424.6,617.0L424.8,616.7L424.9,617.9L425.1,616.4L425.3,615.4L425.4,616.9L425.6,618.7L425.7,619.3L425.9,619.7L426.1,620.5L426.2,621.8L426.4,619.3L426.5,622.3L426.7,622.3L426.8,624.9L427.0,624.0L427.2,623.1L427.3,624.7L427.5,622.4L427.6,624.6L427.8,624.0L427.9,624.6L428.1,622.6L428.3,622.8L428.4,624.8L428.6,625.8L428.7,625.8L428.9,623.6L429.1,624.7L429.2,624.4L429.4,627.4L429.5,626.5L429.7,625.4L429.8,624.7L430.0,627.1L430.1,627.7L430.3,627.7L430.5,626.0L430.6,624.6L430.8,624.1L430.9,624.3L431.1,625.0L431.2,624.5L431.4,625.0L431.6,624.7L431.7,624.3L431.9,623.7L432.0,622.8L432.2,622.0L432.4,621.4L432.5,622.2L432.7,621.4L432.8,620.9L433.0,620.7L433.1,621.1L433.3,619.8L433.4,621.2L433.6,620.5L433.8,621.6L433.9,621.0L434.1,620.0L434.2,618.6L434.4,618.7L434.6,620.3L434.7,620.2L434.9,620.2L435.0,619.7L435.2,618.4L435.3,618.4L435.5,618.8L435.7,620.3L435.8,620.0L436.0,618.6L436.1,620.3L436.3,620.4L436.4,620.3L436.6,619.0L436.8,619.6L436.9,619.7L437.1,618.4L437.2,619.5L437.4,620.5L437.6,618.8L437.7,618.6L437.9,620.7L438.0,620.7L438.2,620.0L438.3,617.8L438.5,620.4L438.6,618.2L438.8,619.7L439.0,618.9L439.1,618.2L439.3,617.7L439.4,618.0L439.6,618.8L439.8,618.1L439.9,618.5L440.1,619.7L440.2,618.7L440.4,618.2L440.5,617.5L440.7,618.7L440.9,618.3L441.0,618.2L441.2,617.5L441.3,617.5L441.5,617.9L441.6,617.7L441.8,619.4L442.0,620.7L442.1,620.4L442.3,620.0L442.4,620.0L442.6,621.7L442.7,619.6L442.9,619.2L443.1,619.6L443.2,619.6L443.4,620.6L443.5,621.1L443.7,621.0L443.8,620.8L444.0,621.4L444.2,623.7L444.3,622.3L444.5,620.9L444.6,621.4L444.8,620.8L444.9,622.1L445.1,623.7L445.3,625.1L445.4,624.1L445.6,621.1L445.7,621.6L445.9,624.3L446.1,624.2L446.2,624.7L446.4,624.4L446.5,625.3L446.7,625.6L446.8,624.0L447.0,625.1L447.1,626.4L447.3,627.2L447.5,626.6L447.6,626.7L447.8,626.0L447.9,626.6L448.1,626.4L448.2,624.9L448.4,625.6L448.6,626.4L448.7,627.1L448.9,626.4L449.0,625.6L449.2,625.6L449.4,626.1L449.5,625.8L449.7,626.2L449.8,625.2L450.0,626.7L450.1,628.4L450.3,626.4L450.5,626.5L450.6,626.9L450.8,626.5L450.9,628.0L451.1,627.1L451.2,628.3L451.4,628.0L451.6,628.0L451.7,627.4L451.9,625.9L452.0,625.9L452.2,623.5L452.3,623.8L452.5,623.2L452.7,625.0L452.8,625.6L453.0,624.5L453.1,624.3L453.3,622.0L453.4,622.1L453.6,623.2L453.8,623.1L453.9,623.0L454.1,623.6L454.2,621.2L454.4,621.1L454.6,621.2L454.7,620.8L454.9,622.6L455.0,621.8L455.2,621.8L455.3,618.7L455.5,617.5L455.6,617.7L455.8,617.6L456.0,618.4L456.1,618.4L456.3,619.4L456.4,618.7L456.6,619.1L456.8,616.9L456.9,618.2L457.1,617.7L457.2,620.1L457.4,619.0L457.5,618.6L457.7,618.1L457.9,619.4L458.0,618.0L458.2,621.0L458.3,619.7L458.5,618.2L458.6,621.0L458.8,620.1L459.0,619.7L459.1,618.8L459.3,620.2L459.4,618.4L459.6,619.5L459.7,620.2L459.9,621.2L460.1,620.8L460.2,622.1L460.4,621.8L460.5,621.9L460.7,622.4L460.9,624.1L461.0,623.0L461.2,622.6L461.3,621.9L461.5,622.2L461.6,622.8L461.8,623.3L461.9,623.4L462.1,625.3L462.3,624.9L462.4,623.1L462.6,625.9L462.7,625.6L462.9,625.1L463.1,624.6L463.2,625.2L463.4,627.2L463.5,626.3L463.7,625.5L463.8,625.7L464.0,626.1L464.1,626.7L464.3,627.2L464.5,626.5L464.6,626.7L464.8,626.4L464.9,626.7L465.1,626.3L465.2,625.5L465.4,627.2L465.6,627.0L465.7,627.2L465.9,626.7L466.0,624.6L466.2,626.1L466.4,627.2L466.5,625.4L466.7,625.9L466.8,624.4L467.0,624.5L467.1,625.3L467.3,625.9L467.5,625.0L467.6,624.2L467.8,625.0L467.9,625.3L468.1,625.4L468.2,625.9L468.4,623.9L468.6,623.7L468.7,625.0L468.9,625.8L469.0,625.4L469.2,623.5L469.4,623.4L469.5,624.4L469.7,623.3L469.8,624.5L470.0,625.5L470.1,625.4L470.3,625.3L470.4,625.0L470.6,623.4L470.8,624.4L470.9,624.6L471.1,623.4L471.2,622.9L471.4,623.4L471.6,624.3L471.7,624.5L471.9,623.7L472.0,623.8L472.2,624.0L472.3,624.9L472.5,624.6L472.6,625.5L472.8,624.6L473.0,625.4L473.1,626.1L473.3,625.7L473.4,624.7L473.6,626.1L473.8,626.0L473.9,626.9L474.1,627.2L474.2,625.4L474.4,627.0L474.5,626.5L474.7,626.9L474.9,626.7L475.0,627.6L475.2,626.9L475.3,625.3L475.5,626.5L475.6,626.5L475.8,627.2L476.0,627.2L476.1,627.2L476.3,627.2L476.4,627.0L476.6,626.9L476.7,627.0L476.9,626.3L477.1,627.4L477.2,627.4L477.4,626.6L477.5,626.2L477.7,627.3L477.9,627.1L478.0,627.8L478.2,627.0L478.3,627.1L478.5,626.2L478.6,628.0L478.8,626.6L478.9,627.2L479.1,628.4L479.3,628.8L479.4,629.0L479.6,631.0L479.7,628.0L479.9,629.2L480.1,629.8L480.2,630.4L480.4,631.6L480.5,630.8L480.7,631.6L480.8,630.8L481.0,630.9L481.1,629.8L481.3,631.9L481.5,632.0L481.6,634.2L481.8,635.0L481.9,635.0L482.1,634.6L482.2,636.3L482.4,635.4L482.6,635.8L482.7,635.2L482.9,636.6L483.0,635.9L483.2,635.4L483.4,636.0L483.5,636.8L483.7,636.2L483.8,635.4L484.0,635.2L484.1,635.8L484.3,636.1L484.5,635.5L484.6,634.5L484.8,635.7L484.9,634.8L485.1,634.2L485.2,633.1L485.4,632.8L485.6,633.5L485.7,633.8L485.9,633.6L486.0,633.5L486.2,633.8L486.4,633.0L486.5,632.2L486.7,632.9L486.8,632.1L487.0,632.1L487.1,631.9L487.3,630.7L487.4,630.7L487.6,631.7L487.8,632.1L487.9,631.1L488.1,629.7L488.2,628.8L488.4,629.5L488.6,630.8L488.7,630.0L488.9,629.2L489.0,630.3L489.2,629.2L489.3,629.2L489.5,629.8L489.6,628.5L489.8,628.5L490.0,628.8L490.1,628.5L490.3,628.9L490.4,628.3L490.6,628.0L490.8,628.4L490.9,627.0L491.1,627.1L491.2,627.3L491.4,627.6L491.5,628.1L491.7,627.8L491.9,629.0L492.0,627.9L492.2,627.1L492.3,626.4L492.5,627.9L492.6,628.3L492.8,627.1L493.0,626.5L493.1,626.2L493.3,628.3L493.4,626.9L493.6,626.9L493.8,626.4L493.9,628.4L494.1,628.6L494.2,627.5L494.4,627.3L494.5,628.6L494.7,629.4L494.9,627.8L495.0,627.9L495.2,628.6L495.3,628.8L495.5,630.5L495.6,628.6L495.8,627.8L495.9,628.4L496.1,630.6L496.3,630.2L496.4,629.2L496.6,629.2L496.7,629.1L496.9,629.4L497.1,629.1L497.2,630.5L497.4,630.6L497.5,629.8L497.7,630.6L497.8,628.0L498.0,629.1L498.1,630.3L498.3,629.5L498.5,626.9L498.6,627.6L498.8,628.6L498.9,628.2L499.1,627.3L499.3,626.7L499.4,627.5L499.6,626.3L499.7,626.6L499.9,627.4L500.0,628.0L500.2,627.5L500.4,627.2L500.5,626.6L500.7,625.7L500.8,625.7L501.0,627.4L501.1,627.3L501.3,626.3L501.5,627.0L501.6,625.8L501.8,626.8L501.9,627.4L502.1,625.9L502.2,627.2L502.4,628.7L502.6,626.9L502.7,627.1L502.9,626.8L503.0,627.5L503.2,627.9L503.4,628.5L503.5,627.8L503.7,627.1L503.8,628.2L504.0,627.3L504.1,628.2L504.3,629.1L504.4,628.4L504.6,628.5L504.8,628.5L504.9,628.2L505.1,628.8L505.2,628.5L505.4,630.0L505.6,629.0L505.7,629.7L505.9,629.4L506.0,630.3L506.2,629.5L506.3,630.0L506.5,630.9L506.6,630.4L506.8,630.7L507.0,631.3L507.1,629.5L507.3,629.5L507.4,631.0L507.6,630.4L507.8,631.3L507.9,630.8L508.1,630.1L508.2,630.4L508.4,631.0L508.5,630.3L508.7,630.0L508.9,630.4L509.0,629.7L509.2,630.9L509.3,629.9L509.5,631.1L509.6,629.7L509.8,629.5L510.0,630.6L510.1,630.3L510.3,630.1L510.4,630.8L510.6,631.9L510.8,632.1L510.9,632.3L511.1,632.4L511.2,632.9L511.4,634.2L511.5,633.3L511.7,632.4L511.9,633.5L512.0,635.2L512.2,634.8L512.3,634.8L512.5,634.4L512.6,634.7L512.8,635.0L513.0,634.6L513.1,635.4L513.3,635.1L513.4,635.6L513.6,635.0L513.7,635.1L513.9,635.4L514.0,636.7L514.2,635.6L514.4,636.0L514.5,635.7L514.7,635.9L514.8,636.4L515.0,636.3L515.1,635.3L515.3,637.0L515.5,637.8L515.6,637.7L515.8,637.0L515.9,637.5L516.1,637.2L516.3,637.9L516.4,637.6L516.6,637.2L516.7,636.6L516.9,637.3L517.0,636.5L517.2,636.9L517.4,636.7L517.5,636.8L517.7,636.8L517.8,638.0L518.0,637.2L518.1,636.9L518.3,637.2L518.5,637.9L518.6,637.4L518.8,637.1L518.9,636.7L519.1,636.2L519.2,636.9L519.4,636.6L519.6,636.4L519.7,637.0L519.9,637.5L520.0,637.5L520.2,636.6L520.4,636.9L520.5,637.1L520.7,637.3L520.8,636.9L521.0,637.2L521.1,637.4L521.3,638.0L521.5,638.3L521.6,639.1L521.8,638.9L521.9,638.0L522.1,637.8L522.2,638.4L522.4,638.8L522.5,638.4L522.7,638.7L522.9,639.6L523.0,639.8L523.2,640.0L523.3,639.2L523.5,639.5L523.6,639.2L523.8,640.0L524.0,640.0L524.1,640.8L524.3,639.7L524.4,639.6L524.6,639.5L524.8,638.4L524.9,637.4L525.1,637.6L525.2,637.4L525.4,637.7L525.5,637.6L525.7,636.8L525.9,637.4L526.0,637.1L526.2,637.2L526.3,637.8L526.5,637.4L526.6,635.6L526.8,637.1L527.0,636.5L527.1,636.6L527.3,636.0L527.4,636.4L527.6,636.1L527.8,636.8L527.9,636.5L528.1,636.0L528.2,635.8L528.4,635.5L528.5,635.5L528.7,636.5L528.9,636.0L529.0,636.1L529.2,636.3L529.3,634.9L529.5,634.8L529.6,635.5L529.8,636.6L530.0,635.1L530.1,634.1L530.3,633.1L530.4,634.9L530.6,634.8L530.7,633.7L530.9,634.0L531.0,634.4L531.2,634.0L531.4,634.1L531.5,633.8L531.7,633.4L531.8,633.8L532.0,633.4L532.2,632.4L532.3,632.7L532.5,633.1L532.6,632.4L532.8,631.8L532.9,631.3L533.1,631.6L533.3,632.1L533.4,631.8L533.6,632.3L533.7,631.7L533.9,631.4L534.0,632.0L534.2,632.5L534.4,633.5L534.5,633.2L534.7,633.9L534.8,632.8L535.0,632.9L535.1,633.8L535.3,634.3L535.5,634.1L535.6,635.1L535.8,635.1L535.9,635.2L536.1,635.1L536.2,635.1L536.4,636.0L536.6,635.1L536.7,635.3L536.9,635.8L537.0,636.1L537.2,635.9L537.4,635.9L537.5,636.3L537.7,636.5L537.8,636.3L538.0,636.5L538.1,636.4L538.3,636.8L538.5,636.3L538.6,635.9L538.8,635.2L538.9,636.2L539.1,636.6L539.2,635.9L539.4,635.2L539.5,635.2L539.7,634.0L539.9,635.0L540.0,634.4L540.2,634.7L540.3,634.0L540.5,634.6L540.7,633.9L540.8,633.4L541.0,633.1L541.1,633.3L541.3,633.0L541.4,632.7L541.6,633.2L541.8,633.1L541.9,632.6L542.1,633.0L542.2,631.6L542.4,631.3L542.5,631.1L542.7,631.2L542.9,631.6L543.0,631.4L543.2,631.5L543.3,631.2L543.5,631.8L543.6,631.1L543.8,630.4L544.0,630.4L544.1,630.2L544.3,630.9L544.4,629.9L544.6,630.2L544.8,629.1L544.9,629.9L545.1,629.2L545.2,630.1L545.4,630.3L545.5,629.9L545.7,628.8L545.9,628.4L546.0,628.6L546.2,628.7L546.3,628.5L546.5,628.8L546.6,628.3L546.8,628.7L547.0,628.3L547.1,627.7L547.3,628.3L547.4,628.3L547.6,629.0L547.7,627.8L547.9,628.5L548.0,627.7L548.2,627.3L548.4,627.2L548.5,628.4L548.7,627.9L548.8,626.5L549.0,627.0L549.2,628.0L549.3,627.7L549.5,628.0L549.6,627.0L549.8,627.4L549.9,627.4L550.1,628.3L550.3,627.1L550.4,627.8L550.6,628.6L550.7,628.7L550.9,628.5L551.0,627.2L551.2,628.1L551.4,628.3L551.5,628.9L551.7,627.7L551.8,628.1L552.0,627.7L552.1,627.8L552.3,628.0L552.5,627.8L552.6,628.3L552.8,628.5L552.9,627.8L553.1,629.1L553.2,628.5L553.4,627.5L553.6,627.6L553.7,628.2L553.9,628.5L554.0,628.8L554.2,628.2L554.4,628.0L554.5,627.8L554.7,628.1L554.8,628.3L555.0,628.7L555.1,628.0L555.3,628.9L555.5,628.5L555.6,627.8L555.8,627.6L555.9,629.0L556.1,629.3L556.2,629.4L556.4,628.3L556.5,626.4L556.7,626.5L556.9,626.2L557.0,626.4L557.2,626.2L557.3,625.1L557.5,624.2L557.7,625.2L557.8,623.5L558.0,624.4L558.1,624.0L558.3,622.5L558.4,622.9L558.6,622.9L558.8,622.4L558.9,622.5L559.1,622.2L559.2,620.3L559.4,621.3L559.5,621.6L559.7,621.3L559.9,620.7L560.0,620.6L560.2,621.1L560.3,620.7L560.5,620.6L560.6,621.1L560.8,619.5L561.0,621.5L561.1,620.5L561.3,620.0L561.4,620.3L561.6,620.7L561.8,621.8L561.9,620.9L562.1,620.2L562.2,619.6L562.4,620.0L562.5,618.1L562.7,618.1L562.9,617.7L563.0,617.3L563.2,617.2L563.3,618.1L563.5,617.9L563.6,616.8L563.8,616.3L564.0,617.3L564.1,616.9L564.3,617.5L564.4,617.5L564.6,614.8L564.7,614.6L564.9,614.6L565.1,615.5L565.2,615.2L565.4,616.5L565.5,615.9L565.7,615.6L565.8,615.4L566.0,616.0L566.2,615.4L566.3,614.1L566.5,614.6L566.6,614.8L566.8,614.7L566.9,613.9L567.1,612.4L567.3,612.6L567.4,613.0L567.6,614.1L567.7,611.3L567.9,611.3L568.0,611.6L568.2,610.1L568.4,610.2L568.5,610.6L568.7,611.3L568.8,610.2L569.0,610.0L569.1,607.6L569.3,609.2L569.5,608.2L569.6,607.6L569.8,608.2L569.9,608.1L570.1,606.2L570.2,607.0L570.4,605.8L570.6,606.8L570.7,607.6L570.9,607.3L571.0,604.1L571.2,602.5L571.4,601.7L571.5,602.7L571.7,602.9L571.8,602.8L572.0,605.8L572.1,604.8L572.3,604.8L572.5,604.6L572.6,605.0L572.8,603.8L572.9,603.3L573.1,602.5L573.2,602.9L573.4,600.5L573.6,601.2L573.7,602.4L573.9,603.1L574.0,603.0L574.2,600.5L574.3,600.5L574.5,602.0L574.7,602.7L574.8,602.6L575.0,603.3L575.1,603.4L575.3,603.0L575.4,602.9L575.6,604.2L575.8,604.8L575.9,602.4L576.1,604.5L576.2,604.8L576.4,603.8L576.5,603.9L576.7,603.8L576.9,603.0L577.0,604.2L577.2,605.5L577.3,605.6L577.5,605.6L577.6,603.5L577.8,603.8L578.0,603.5L578.1,605.3L578.3,604.6L578.4,604.6L578.6,604.4L578.8,605.5L578.9,604.6L579.1,605.0L579.2,604.7L579.4,605.6L579.5,605.2L579.7,603.8L579.9,604.2L580.0,604.9L580.2,604.1L580.3,604.0L580.5,604.7L580.6,605.6L580.8,604.9L581.0,605.1L581.1,603.6L581.3,604.5L581.4,605.0L581.6,604.6L581.7,604.1L581.9,605.1L582.1,604.6L582.2,605.0L582.4,606.0L582.5,606.3L582.7,605.7L582.8,605.4L583.0,606.8L583.2,607.2L583.3,607.4L583.5,606.1L583.6,606.9L583.8,607.3L584.0,608.7L584.1,608.7L584.3,608.5L584.4,613.6L584.6,612.7L584.7,611.7L584.9,613.4L585.0,612.6L585.2,613.6L585.4,618.1L585.5,616.8L585.7,616.1L585.8,615.9L586.0,615.7L586.1,615.4L586.3,615.2L586.5,615.4L586.6,615.3L586.8,614.4L586.9,613.2L587.1,612.8L587.2,613.1L587.4,613.3L587.6,613.2L587.7,612.2L587.9,611.2L588.0,611.3L588.2,612.2L588.4,612.3L588.5,610.9L588.7,611.1L588.8,611.3L589.0,610.9L589.1,611.0L589.3,610.2L589.5,611.7L589.6,609.8L589.8,608.6L589.9,608.1L590.1,608.6L590.2,609.6L590.4,610.1L590.6,609.8L590.7,607.8L590.9,607.7L591.0,607.2L591.2,609.1L591.3,608.1L591.5,610.0L591.7,608.7L591.8,608.6L592.0,605.8L592.1,605.7L592.3,605.6L592.5,605.6L592.6,607.9L592.8,608.0L592.9,607.4L593.1,606.6L593.2,607.6L593.4,606.6L593.5,607.4L593.7,606.5L593.9,604.7L594.0,606.8L594.2,607.2L594.3,607.6L594.5,606.5L594.6,604.4L594.8,604.2L595.0,605.5L595.1,604.8L595.3,605.9L595.4,605.4L595.6,606.0L595.8,605.0L595.9,605.0L596.1,603.9L596.2,604.2L596.4,604.7L596.5,604.8L596.7,605.6L596.9,604.1L597.0,603.7L597.2,605.0L597.3,605.2L597.5,605.0L597.6,605.4L597.8,605.3L598.0,604.9L598.1,603.7L598.3,604.4L598.4,605.1L598.6,605.0L598.7,605.8L598.9,606.6L599.1,605.4L599.2,605.9L599.4,605.8L599.5,605.9L599.7,605.0L599.8,605.4L600.0,604.9L600.2,604.1L600.3,603.0L600.5,603.6L600.6,604.3L600.8,603.7L601.0,602.3L601.1,603.0L601.3,602.5L601.4,602.9L601.6,601.1L601.7,601.1L601.9,601.1L602.0,601.1L602.2,603.4L602.4,603.3L602.5,604.4L602.7,601.9L602.8,602.6L603.0,603.3L603.1,602.3L603.3,603.9L603.5,603.5L603.6,603.1L603.8,605.0L603.9,605.2L604.1,605.3L604.2,604.0L604.4,603.2L604.6,604.3L604.7,603.2L604.9,603.6L605.0,602.6L605.2,602.0L605.4,602.9L605.5,602.6L605.7,602.5L605.8,601.3L606.0,600.5L606.1,600.0L606.3,602.0L606.5,601.7L606.6,601.6L606.8,600.4L606.9,600.2L607.1,601.1L607.2,600.8L607.4,598.7L607.6,600.4L607.7,597.6L607.9,597.3L608.0,598.6L608.2,598.5L608.3,598.4L608.5,597.2L608.7,596.5L608.8,597.2L609.0,597.8L609.1,596.6L609.3,596.9L609.5,596.9L609.6,598.1L609.8,598.5L609.9,597.4L610.1,596.1L610.2,596.2L610.4,597.4L610.5,598.0L610.7,597.1L610.9,596.3L611.0,597.9L611.2,597.0L611.3,597.3L611.5,598.6L611.6,599.7L611.8,598.6L612.0,599.9L612.1,599.6L612.3,599.1L612.4,600.4L612.6,602.4L612.8,601.8L612.9,602.0L613.1,600.9L613.2,602.0L613.4,601.7L613.5,601.3L613.7,600.2L613.9,601.1L614.0,602.3L614.2,600.9L614.3,599.4L614.5,599.8L614.6,601.5L614.8,601.4L615.0,598.3L615.1,596.9L615.3,598.2L615.4,596.8L615.6,595.6L615.7,593.6L615.9,594.2L616.1,595.6L616.2,592.5L616.4,591.0L616.5,591.6L616.7,593.2L616.9,591.2L617.0,588.0L617.2,590.3L617.3,589.7L617.5,590.3L617.6,588.0L617.8,589.0L618.0,588.9L618.1,589.8L618.3,590.5L618.4,591.2L618.6,591.7L618.7,591.9L618.9,593.5L619.0,592.6L619.2,591.7L619.4,591.7L619.5,592.4L619.7,594.7L619.8,595.7L620.0,595.9L620.1,596.7L620.3,596.7L620.5,595.5L620.6,596.3L620.8,595.8L620.9,596.4L621.1,596.3L621.2,596.9L621.4,598.3L621.6,597.9L621.7,596.4L621.9,597.6L622.0,598.4L622.2,598.9L622.4,600.5L622.5,599.4L622.7,598.6L622.8,600.0L623.0,599.9L623.1,599.2L623.3,600.1L623.5,599.8L623.6,599.9L623.8,600.3L623.9,600.0L624.1,600.4L624.2,602.0L624.4,601.8L624.6,601.1L624.7,600.0L624.9,601.0L625.0,599.6L625.2,600.4L625.4,600.4L625.5,600.5L625.7,600.0L625.8,598.5L626.0,597.9L626.1,598.9L626.3,597.4L626.5,596.7L626.6,596.9L626.8,598.4L626.9,597.9L627.1,597.0L627.2,596.9L627.4,596.5L627.5,596.2L627.7,597.2L627.9,597.4L628.0,598.0L628.2,598.8L628.3,596.9L628.5,595.9L628.6,599.1L628.8,598.3L629.0,597.6L629.1,597.6L629.3,597.3L629.4,597.5L629.6,598.8L629.8,599.8L629.9,597.1L630.1,599.2L630.2,599.9L630.4,599.0L630.5,597.8L630.7,599.8L630.9,600.0L631.0,599.8L631.2,599.1L631.3,599.4L631.5,600.9L631.6,600.9L631.8,599.6L632.0,599.0L632.1,599.1L632.3,599.6L632.4,598.8L632.6,598.3L632.7,600.6L632.9,599.1L633.1,599.5L633.2,599.8L633.4,598.5L633.5,596.1L633.7,597.5L633.9,595.7L634.0,595.5L634.2,595.5L634.3,596.1L634.5,594.6L634.6,593.4L634.8,594.5L635.0,595.9L635.1,596.3L635.3,595.2L635.4,592.0L635.6,593.5L635.7,593.8L635.9,592.8L636.0,594.9L636.2,595.7L636.4,593.2L636.5,592.0L636.7,591.7L636.8,590.9L637.0,588.6L637.1,588.5L637.3,587.2L637.5,588.3L637.6,590.1L637.8,588.8L637.9,585.2L638.1,584.6L638.2,584.1L638.4,585.3L638.6,585.2L638.7,582.7L638.9,583.2L639.0,584.3L639.2,583.7L639.4,582.6L639.5,582.1L639.7,581.9L639.8,583.9L640.0,584.8L640.1,582.4L640.3,584.7L640.5,585.7L640.6,585.0L640.8,585.2L640.9,583.9L641.1,587.0L641.2,586.4L641.4,588.0L641.6,588.4L641.7,589.9L641.9,590.3L642.0,590.7L642.2,588.4L642.4,587.0L642.5,586.3L642.7,588.3L642.8,588.4L643.0,587.3L643.1,587.9L643.3,587.1L643.5,587.3L643.6,585.9L643.8,584.5L643.9,585.8L644.1,587.1L644.2,587.3L644.4,585.8L644.5,584.7L644.7,583.4L644.9,583.3L645.0,584.6L645.2,585.3L645.3,582.1L645.5,581.0L645.6,579.3L645.8,582.3L646.0,580.1L646.1,581.7L646.3,583.2L646.4,581.2L646.6,579.9L646.8,579.1L646.9,577.3L647.1,578.6L647.2,578.1L647.4,579.9L647.5,579.4L647.7,579.1L647.9,579.6L648.0,576.9L648.2,577.5L648.3,576.6L648.5,576.9L648.6,576.6L648.8,577.5L649.0,579.6L649.1,577.8L649.3,577.7L649.4,578.6L649.6,577.5L649.8,578.6L649.9,577.5L650.1,577.3L650.2,574.6L650.4,576.9L650.5,572.2L650.7,571.9L650.9,569.9L651.0,569.7L651.2,574.1L651.3,573.4L651.5,570.3L651.6,568.7L651.8,570.9L652.0,570.6L652.1,568.6L652.3,568.0L652.4,570.2L652.6,566.7L652.7,568.4L652.9,567.0L653.0,565.2L653.2,567.4L653.4,569.0L653.5,566.6L653.7,567.1L653.8,566.1L654.0,566.2L654.1,564.4L654.3,564.0L654.5,565.9L654.6,566.5L654.8,566.7L654.9,565.4L655.1,564.6L655.2,565.1L655.4,565.9L655.6,566.1L655.7,565.5L655.9,565.7L656.0,566.3L656.2,564.7L656.4,565.3L656.5,566.4L656.7,567.4L656.8,566.0L657.0,567.5L657.1,566.3L657.3,566.3L657.5,564.8L657.6,567.2L657.8,565.6L657.9,565.1L658.1,567.4L658.2,566.5L658.4,566.2L658.6,564.0L658.7,565.2L658.9,563.6L659.0,564.5L659.2,566.0L659.4,565.9L659.5,564.2L659.7,562.8L659.8,563.3L660.0,563.9L660.1,565.0L660.3,559.8L660.5,560.1L660.6,561.9L660.8,558.8L660.9,562.9L661.1,562.4L661.2,561.0L661.4,561.3L661.5,563.5L661.7,562.1L661.9,561.1L662.0,557.0L662.2,560.5L662.3,559.3L662.5,557.4L662.6,559.3L662.8,560.0L663.0,557.9L663.1,556.7L663.3,556.7L663.4,562.0L663.6,567.5L663.8,570.1L663.9,571.0L664.1,569.1L664.2,568.2L664.4,569.3L664.5,569.9L664.7,571.3L664.9,572.5L665.0,573.4L665.2,570.5L665.3,569.9L665.5,572.2L665.6,573.9L665.8,572.7L666.0,576.8L666.1,576.9L666.3,578.4L666.4,575.8L666.6,575.8L666.8,578.4L666.9,580.7L667.1,580.5L667.2,579.3L667.4,580.2L667.5,577.0L667.7,577.5L667.9,576.7L668.0,573.9L668.2,573.5L668.3,576.4L668.5,578.7L668.6,577.1L668.8,574.5L669.0,573.3L669.1,573.1L669.3,572.0L669.4,573.1L669.6,575.6L669.7,571.0L669.9,571.3L670.0,572.0L670.2,571.7L670.4,572.1L670.5,569.9L670.7,573.3L670.8,570.4L671.0,569.0L671.1,569.7L671.3,569.6L671.5,568.8L671.6,567.6L671.8,567.4L671.9,568.1L672.1,567.8L672.3,570.9L672.4,567.4L672.6,570.6L672.7,567.4L672.9,569.6L673.0,569.8L673.2,570.0L673.4,569.3L673.5,569.0L673.7,567.4L673.8,567.4L674.0,567.4L674.1,569.0L674.3,569.5L674.5,569.8L674.6,570.6L674.8,569.4L674.9,569.7L675.1,569.2L675.2,568.3L675.4,569.2L675.6,570.5L675.7,569.6L675.9,572.1L676.0,570.2L676.2,568.2L676.4,572.9L676.5,573.1L676.7,571.1L676.8,572.3L677.0,570.4L677.1,574.8L677.3,572.8L677.5,573.7L677.6,572.1L677.8,573.2L677.9,573.8L678.1,573.5L678.2,573.4L678.4,574.4L678.5,574.4L678.7,570.5L678.9,570.8L679.0,571.1L679.2,569.9L679.3,571.7L679.5,568.1L679.6,565.5L679.8,566.3L680.0,565.5L680.1,565.0L680.3,566.1L680.4,565.3L680.6,564.9L680.8,563.7L680.9,565.9L681.1,563.0L681.2,562.6L681.4,560.7L681.5,562.0L681.7,563.2L681.9,564.0L682.0,562.4L682.2,561.9L682.3,559.3L682.5,557.5L682.6,559.5L682.8,559.9L683.0,560.6L683.1,560.1L683.3,558.2L683.4,556.1L683.6,556.9L683.8,560.5L683.9,558.8L684.1,557.0L684.2,558.0L684.4,555.8L684.5,556.4L684.7,555.3L684.9,555.7L685.0,559.6L685.2,555.3L685.3,555.9L685.5,555.0L685.6,557.1L685.8,554.8L686.0,552.2L686.1,552.5L686.3,554.0L686.4,552.9L686.6,554.3L686.7,554.0L686.9,554.4L687.0,552.9L687.2,551.0L687.4,550.6L687.5,548.1L687.7,549.8L687.8,552.1L688.0,550.2L688.1,548.3L688.3,551.8L688.5,551.6L688.6,548.6L688.8,548.1L688.9,548.8L689.1,553.2L689.3,554.8L689.4,551.7L689.6,552.7L689.7,554.4L689.9,553.5L690.0,551.6L690.2,554.0L690.4,556.7L690.5,556.7L690.7,554.5L690.8,555.5L691.0,553.5L691.1,552.6L691.3,548.8L691.5,552.4L691.6,551.9L691.8,552.6L691.9,552.3L692.1,550.8L692.2,549.5L692.4,550.9L692.6,550.3L692.7,551.6L692.9,547.4L693.0,547.5L693.2,551.0L693.4,549.9L693.5,548.0L693.7,546.0L693.8,548.2L694.0,546.6L694.1,545.3L694.3,547.6L694.5,548.0L694.6,550.1L694.8,550.4L694.9,550.6L695.1,552.1L695.2,554.0L695.4,556.0L695.5,555.0L695.7,559.0L695.9,558.2L696.0,554.5L696.2,555.4L696.3,552.5L696.5,552.0L696.7,551.6L696.8,552.3L697.0,548.0L697.1,553.8L697.3,551.5L697.4,546.0L697.6,547.4L697.8,547.4L697.9,548.8L698.1,547.5L698.2,547.8L698.4,546.6L698.5,547.9L698.7,544.1L698.9,542.9L699.0,543.2L699.2,543.3L699.3,543.1L699.5,541.5L699.6,540.8L699.8,540.3L700.0,541.6L700.1,542.7L700.3,539.7L700.4,539.6L700.6,541.8L700.8,539.6L700.9,539.2L701.1,537.1L701.2,536.7L701.4,536.3L701.5,536.9L701.7,537.0L701.9,536.0L702.0,532.1L702.2,535.9L702.3,535.2L702.5,534.2L702.6,534.9L702.8,537.6L703.0,532.9L703.1,536.6L703.3,530.9L703.4,533.0L703.6,531.1L703.7,532.1L703.9,533.2L704.0,530.9L704.2,531.7L704.4,531.4L704.5,531.2L704.7,526.2L704.8,528.4L705.0,527.7L705.2,530.6L705.3,527.9L705.5,527.1L705.6,527.3L705.8,529.1L705.9,529.7L706.1,528.8L706.3,526.7L706.4,527.2L706.6,527.4L706.7,528.6L706.9,523.6L707.0,521.6L707.2,520.2L707.4,519.3L707.5,524.5L707.7,524.5L707.8,526.1L708.0,519.6L708.1,524.8L708.3,518.4L708.5,517.9L708.6,517.0L708.8,521.5L708.9,521.3L709.1,522.8L709.2,520.0L709.4,517.8L709.6,520.2L709.7,518.1L709.9,519.3L710.0,518.5L710.2,516.8L710.4,516.7L710.5,516.7L710.7,520.9L710.8,523.2L711.0,521.7L711.1,521.0L711.3,524.0L711.5,525.4L711.6,528.3L711.8,529.9L711.9,530.0L712.1,533.7L712.2,529.4L712.4,529.3L712.5,533.0L712.7,535.1L712.9,539.4L713.0,537.0L713.2,541.3L713.3,538.2L713.5,537.0L713.7,535.9L713.8,536.3L714.0,534.8L714.1,531.3L714.3,526.6L714.4,528.0L714.6,527.4L714.8,525.0L714.9,523.9L715.1,526.8L715.2,525.9L715.4,525.3L715.5,522.1L715.7,523.9L715.9,518.5L716.0,518.8L716.2,515.6L716.3,517.4L716.5,516.5L716.6,515.8L716.8,511.5L717.0,510.4L717.1,506.4L717.3,507.2L717.4,509.9L717.6,510.9L717.8,511.3L717.9,507.6L718.1,505.9L718.2,509.3L718.4,505.9L718.5,504.1L718.7,499.8L718.9,504.1L719.0,503.8L719.2,503.1L719.3,507.6L719.5,503.7L719.6,503.1L719.8,501.4L720.0,499.4L720.1,499.4L720.3,502.1L720.4,501.3L720.6,503.9L720.7,503.1L720.9,505.5L721.0,503.4L721.2,501.5L721.4,501.8L721.5,499.8L721.7,506.7L721.8,507.2L722.0,508.8L722.2,508.6L722.3,509.9L722.5,507.4L722.6,508.6L722.8,508.7L722.9,509.2L723.1,511.7L723.3,512.8L723.4,509.5L723.6,509.9L723.7,510.1L723.9,501.6L724.0,501.2L724.2,501.1L724.4,502.9L724.5,504.9L724.7,501.4L724.8,501.0L725.0,503.6L725.1,497.9L725.3,497.8L725.5,501.1L725.6,499.7L725.8,501.1L725.9,501.5L726.1,502.6L726.2,505.3L726.4,503.3L726.6,503.7L726.7,503.0L726.9,504.4L727.0,504.3L727.2,505.6L727.4,505.6L727.5,501.1L727.7,504.2L727.8,503.2L728.0,507.2L728.1,509.2L728.3,510.7L728.5,512.3L728.6,509.4L728.8,515.5L728.9,516.6L729.1,513.0L729.2,515.4L729.4,519.6L729.6,521.4L729.7,523.4L729.9,526.7L730.0,526.4L730.2,523.6L730.3,522.7L730.5,515.7L730.7,513.4L730.8,513.1L731.0,513.3L731.1,514.9L731.3,512.1L731.4,515.6L731.6,513.3L731.8,508.9L731.9,507.6L732.1,503.6L732.2,506.8L732.4,504.6L732.5,506.5L732.7,503.4L732.9,502.7L733.0,505.6L733.2,501.9L733.3,502.5L733.5,498.0L733.6,498.0L733.8,500.7L734.0,498.0L734.1,499.9L734.3,504.2L734.4,507.1L734.6,506.7L734.8,508.0L734.9,509.2L735.1,509.7L735.2,505.6L735.4,511.2L735.5,514.2L735.7,510.5L735.9,511.2L736.0,505.8L736.2,514.1L736.3,514.2L736.5,510.9L736.6,513.6L736.8,508.4L737.0,507.9L737.1,508.9L737.3,510.9L737.4,506.9L737.6,505.7L737.7,501.9L737.9,503.3L738.1,506.0L738.2,507.4L738.4,507.3L738.5,507.6L738.7,504.9L738.8,498.5L739.0,501.0L739.2,502.8L739.3,502.0L739.5,503.9L739.6,500.2L739.8,499.6L739.9,496.2L740.1,494.5L740.3,497.1L740.4,498.5L740.6,501.8L740.7,495.9L740.9,491.6L741.0,490.8L741.2,494.8L741.4,482.5L741.5,484.8L741.7,482.6L741.8,478.4L742.0,483.7L742.1,485.1L742.3,482.5L742.5,478.4L742.6,484.5L742.8,481.0L742.9,480.8L743.1,478.3L743.2,484.6L743.4,482.3L743.6,478.3L743.7,485.4L743.9,481.2L744.0,486.8L744.2,482.8L744.4,482.7L744.5,482.8L744.7,483.6L744.8,485.6L745.0,484.2L745.1,486.6L745.3,492.0L745.5,494.9L745.6,492.0L745.8,493.9L745.9,501.6L746.1,498.2L746.2,497.9L746.4,503.4L746.6,497.8L746.7,501.4L746.9,502.2L747.0,506.4L747.2,507.9L747.3,512.8L747.5,507.2L747.7,511.0L747.8,511.4L748.0,510.1L748.1,512.2L748.3,512.7L748.5,511.1L748.6,507.2L748.8,507.1L748.9,508.6L749.1,510.1L749.2,507.3L749.4,514.9L749.5,511.1L749.7,511.8L749.9,514.6L750.0,512.6L750.2,514.1L750.3,515.6L750.5,513.1L750.6,517.1L750.8,519.8L751.0,516.2L751.1,517.7L751.3,518.9L751.4,522.1L751.6,520.1L751.8,516.7L751.9,520.0L752.1,521.1L752.2,524.5L752.4,519.0L752.5,519.5L752.7,521.7L752.9,523.6L753.0,519.3L753.2,523.2L753.3,520.7L753.5,521.6L753.6,521.2L753.8,527.0L754.0,527.1L754.1,531.8L754.3,527.7L754.4,534.8L754.6,530.2L754.7,531.3L754.9,535.3L755.1,532.6L755.2,535.3L755.4,539.3L755.5,540.0L755.7,542.1L755.8,537.3L756.0,540.2L756.2,547.0L756.3,552.0L756.5,544.9L756.6,549.8L756.8,548.9L757.0,552.3L757.1,557.8L757.3,560.7L757.4,558.8L757.6,562.7L757.7,558.7L757.9,562.0L758.0,568.2L758.2,571.7L758.4,575.3L758.5,573.9L758.7,576.0L758.8,578.0L759.0,581.5L759.1,584.7L759.3,578.0L759.5,585.4L759.6,587.3L759.8,586.9L759.9,587.3L760.1,579.5L760.2,581.8L760.4,580.5L760.6,578.1L760.7,580.3L760.9,582.7L761.0,577.5L761.2,573.5L761.4,574.5L761.5,580.7L761.7,574.7L761.8,573.5L762.0,575.9L762.1,582.2L762.3,581.1L762.5,580.7L762.6,579.8L762.8,579.8L762.9,582.6L763.1,583.4L763.2,575.9L763.4,569.0L763.6,577.4L763.7,580.9L763.9,568.0L764.0,570.3L764.2,576.1L764.3,575.6L764.5,574.7L764.7,568.9L764.8,565.6L765.0,570.4L765.1,568.6L765.3,569.8L765.5,567.4L765.6,570.9L765.8,571.5L765.9,564.9L766.1,562.7L766.2,565.1L766.4,567.0L766.5,568.5L766.7,566.4L766.9,567.9L767.0,557.2L767.2,557.3L767.3,557.4L767.5,560.9L767.6,557.5L767.8,557.6L768.0,557.7L768.1,558.7L768.3,563.6L768.4,565.1L768.6,559.6L768.8,560.8L768.9,565.8L769.1,564.5L769.2,564.8L769.4,560.4L769.5,559.0L769.7,557.9L769.9,557.7L770.0,560.1L770.2,559.5L770.3,563.9L770.5,559.9L770.6,561.4L770.8,559.8L771.0,559.1L771.1,561.4L771.3,564.7L771.4,567.2L771.6,565.8L771.7,565.3L771.9,569.0L772.1,569.8L772.2,573.6L772.4,572.2L772.5,572.2L772.7,570.1L772.8,568.8L773.0,571.0L773.2,574.0L773.3,574.2L773.5,569.5L773.6,573.5L773.8,572.9L774.0,566.2L774.1,567.4L774.3,567.6L774.4,567.4L774.6,566.4L774.7,566.5L774.9,567.6L775.0,562.5L775.2,559.1L775.4,558.8L775.5,559.6L775.7,561.7L775.8,559.6L776.0,556.2L776.1,560.7L776.3,559.8L776.5,553.1L776.6,549.6L776.8,553.5L776.9,552.8L777.1,559.8L777.2,554.1L777.4,553.5L777.6,548.3L777.7,549.2L777.9,550.6L778.0,552.1L778.2,547.8L778.4,549.6L778.5,549.7L778.7,542.5L778.8,543.4L779.0,546.3L779.1,549.1L779.3,550.9L779.5,543.2L779.6,542.0L779.8,543.5L779.9,542.6L780.1,538.3L780.2,542.1L780.4,543.7L780.6,545.8L780.7,546.1L780.9,540.2L781.0,542.9L781.2,543.0L781.4,542.4L781.5,539.5L781.7,539.3L781.8,530.7L782.0,532.9L782.1,532.9L782.3,536.0L782.5,540.6L782.6,535.2L782.8,530.6L782.9,530.9L783.1,532.1L783.2,532.9L783.4,535.4L783.5,537.5L783.7,537.1L783.9,536.7L784.0,536.4L784.2,536.2L784.3,539.8L784.5,540.0L784.6,539.4L784.8,538.9L785.0,541.6L785.1,542.8L785.3,540.5L785.4,539.9L785.6,543.2L785.8,542.8L785.9,539.3L786.1,538.3L786.2,539.5L786.4,539.2L786.5,540.2L786.7,534.3L786.9,537.1L787.0,536.5L787.2,537.3L787.3,536.2L787.5,535.8L787.6,532.6L787.8,531.7L788.0,534.5L788.1,532.7L788.3,531.9L788.4,530.3L788.6,530.9L788.7,529.9L788.9,531.2L789.1,530.1L789.2,531.2L789.4,528.1L789.5,527.1L789.7,527.8L789.9,527.2L790.0,527.2L790.2,523.6L790.3,527.5L790.5,526.5L790.6,527.8L790.8,526.9L791.0,525.0L791.1,525.9L791.3,524.4L791.4,527.6L791.6,524.3L791.7,523.3L791.9,523.3L792.0,526.0L792.2,527.0L792.4,525.1L792.5,523.7L792.7,526.1L792.8,525.3L793.0,527.1L793.1,526.5L793.3,526.0L793.5,523.0L793.6,525.4L793.8,522.3L793.9,523.6L794.1,519.9L794.2,519.7L794.4,516.8L794.6,514.5L794.7,514.6L794.9,518.9L795.0,515.8L795.2,515.3L795.4,511.9L795.5,512.3L795.7,514.0L795.8,515.0L796.0,513.3L796.1,510.2L796.3,511.5L796.5,515.4L796.6,511.0L796.8,512.4L796.9,507.3L797.1,507.4L797.2,506.9L797.4,503.1L797.6,499.8L797.7,501.7L797.9,502.0L798.0,501.6L798.2,499.8L798.4,499.8L798.5,504.4L798.7,505.5L798.8,507.5L799.0,504.6L799.1,505.1L799.3,510.5L799.5,513.5L799.6,512.0L799.8,508.4L799.9,506.9L800.1,503.3L800.2,506.7L800.4,508.2L800.5,507.0L800.7,503.1L800.9,501.9L801.0,501.9L801.2,500.8L801.3,500.5L801.5,500.4L801.6,504.7L801.8,500.0L802.0,498.1L802.1,500.6L802.3,500.8L802.4,498.1L802.6,497.2L802.8,496.4L802.9,498.2L803.1,497.8L803.2,497.8L803.4,495.4L803.5,497.4L803.7,499.1L803.9,499.3L804.0,500.8L804.2,498.6L804.3,500.3L804.5,501.1L804.6,496.9L804.8,499.0L805.0,497.2L805.1,500.4L805.3,499.8L805.4,499.8L805.6,497.6L805.8,498.4L805.9,492.6L806.1,494.0L806.2,493.4L806.4,491.7L806.5,493.0L806.7,492.5L806.9,494.7L807.0,492.8L807.2,495.9L807.3,495.2L807.5,498.4L807.6,496.0L807.8,495.7L808.0,495.0L808.1,501.6L808.3,502.3L808.4,501.1L808.6,505.3L808.7,501.3L808.9,502.7L809.0,509.9L809.2,508.6L809.4,506.5L809.5,509.0L809.7,508.6L809.8,508.8L810.0,509.1L810.1,507.7L810.3,506.7L810.5,500.9L810.6,504.7L810.8,500.6L810.9,498.5L811.1,498.2L811.2,504.8L811.4,501.4L811.6,501.2L811.7,499.6L811.9,496.2L812.0,494.6L812.2,497.8L812.4,501.3L812.5,498.8L812.7,499.4L812.8,497.6L813.0,495.2L813.1,500.7L813.3,496.8L813.5,494.1L813.6,491.7L813.8,494.2L813.9,494.6L814.1,494.1L814.2,494.0L814.4,495.5L814.6,492.7L814.7,494.3L814.9,490.9L815.0,493.9L815.2,489.1L815.4,489.1L815.5,494.2L815.7,495.1L815.8,491.8L816.0,490.5L816.1,490.8L816.3,489.1L816.5,491.7L816.6,489.1L816.8,489.6L816.9,492.2L817.1,494.3L817.2,492.2L817.4,495.3L817.5,497.7L817.7,496.7L817.9,499.6L818.0,500.3L818.2,504.5L818.3,501.4L818.5,501.1L818.6,508.3L818.8,509.1L819.0,512.0L819.1,510.7L819.3,511.8L819.4,509.9L819.6,510.4L819.8,514.9L819.9,515.4L820.1,515.0L820.2,516.5L820.4,517.4L820.5,517.0L820.7,517.4L820.9,522.2L821.0,518.9L821.2,520.9L821.3,520.6L821.5,514.6L821.6,512.1L821.8,512.4L822.0,514.9L822.1,514.3L822.3,509.0L822.4,507.2L822.6,507.5L822.8,510.1L822.9,513.0L823.1,514.2L823.2,511.6L823.4,509.6L823.5,510.8L823.7,512.1L823.9,512.9L824.0,514.9L824.2,514.9L824.3,511.4L824.5,509.7L824.6,508.3L824.8,509.2L825.0,508.9L825.1,512.9L825.3,512.6L825.4,512.0L825.6,507.2L825.7,505.8L825.9,505.5L826.0,506.8L826.2,508.0L826.4,507.3L826.5,508.4L826.7,507.7L826.8,506.0L827.0,508.3L827.1,508.5L827.3,510.2L827.5,509.7L827.6,508.4L827.8,503.8L827.9,503.6L828.1,503.6L828.3,498.9L828.4,497.2L828.6,497.1L828.7,497.1L828.9,497.9L829.0,499.2L829.2,497.1L829.4,501.5L829.5,501.6L829.7,501.4L829.8,500.6L830.0,501.5L830.1,503.5L830.3,503.5L830.5,500.0L830.6,500.6L830.8,500.1L830.9,502.6L831.1,503.4L831.2,503.6L831.4,504.8L831.6,505.9L831.7,504.2L831.9,506.7L832.0,505.8L832.2,506.1L832.4,502.2L832.5,501.4L832.7,501.3L832.8,500.9L833.0,502.1L833.1,501.6L833.3,504.0L833.5,498.5L833.6,498.8L833.8,495.9L833.9,499.5L834.1,497.4L834.2,498.4L834.4,494.3L834.5,493.6L834.7,496.9L834.9,496.7L835.0,499.4L835.2,491.1L835.3,492.4L835.5,489.6L835.6,491.7L835.8,490.9L836.0,495.1L836.1,492.4L836.3,491.5L836.4,489.0L836.6,493.9L836.8,491.6L836.9,488.2L837.1,491.0L837.2,493.4L837.4,489.9L837.5,492.7L837.7,493.0L837.9,488.1L838.0,492.4L838.2,490.6L838.3,494.1L838.5,489.2L838.6,486.5L838.8,486.5L839.0,487.9L839.1,493.6L839.3,490.7L839.4,489.7L839.6,493.5L839.8,490.0L839.9,494.4L840.1,498.0L840.2,498.8L840.4,497.7L840.5,496.3L840.7,495.4L840.9,497.2L841.0,492.9L841.2,498.8L841.3,498.4L841.5,495.3L841.6,495.1L841.8,496.5L842.0,495.1L842.1,498.5L842.3,499.9L842.4,496.9L842.6,496.7L842.7,495.4L842.9,497.9L843.0,499.8L843.2,499.9L843.4,499.2L843.5,496.1L843.7,494.2L843.8,499.4L844.0,497.1L844.1,493.8L844.3,494.0L844.5,497.6L844.6,499.9L844.8,496.1L844.9,495.2L845.1,496.1L845.3,496.7L845.4,493.4L845.6,493.3L845.7,494.0L845.9,495.9L846.0,492.5L846.2,489.8L846.4,489.8L846.5,493.7L846.7,494.3L846.8,494.6L847.0,498.2L847.1,496.1L847.3,499.2L847.5,496.9L847.6,497.0L847.8,497.6L847.9,499.9L848.1,501.2L848.2,499.6L848.4,504.4L848.6,503.9L848.7,504.8L848.9,502.3L849.0,505.4L849.2,507.0L849.4,506.3L849.5,502.6L849.7,500.5L849.8,501.9L850.0,498.9L850.1,500.6L850.3,502.2L850.5,502.6L850.6,503.0L850.8,502.5L850.9,500.1L851.1,502.4L851.2,498.9L851.4,499.9L851.5,502.5L851.7,501.3L851.9,502.3L852.0,502.7L852.2,500.1L852.3,499.9L852.5,498.9L852.7,498.1L852.8,498.3L853.0,500.2L853.1,499.7L853.3,499.2L853.4,497.9L853.6,498.7L853.8,494.5L853.9,500.1L854.1,500.5L854.2,501.1L854.4,496.8L854.5,498.5L854.7,495.7L854.9,496.1L855.0,494.5L855.2,495.2L855.3,498.7L855.5,502.7L855.6,502.8L855.8,500.9L856.0,499.5L856.1,500.5L856.3,503.2L856.4,500.7L856.6,499.8L856.8,501.1L856.9,499.3L857.1,501.4L857.2,503.0L857.4,501.6L857.5,503.1L857.7,500.9L857.9,505.6L858.0,501.4L858.2,504.7L858.3,504.8L858.5,505.6L858.6,509.9L858.8,510.8L859.0,506.5L859.1,506.2L859.3,509.4L859.4,509.8L859.6,509.1L859.7,507.9L859.9,508.8L860.0,512.3L860.2,511.9L860.4,510.7L860.5,509.9L860.7,508.8L860.8,512.3L861.0,512.2L861.2,507.9L861.3,507.1L861.5,507.4L861.6,510.4L861.8,508.7L861.9,510.9L862.1,510.4L862.3,511.1L862.4,509.9L862.6,507.1L862.7,511.1L862.9,509.6L863.0,511.8L863.2,513.6L863.4,515.1L863.5,514.0L863.7,512.0L863.8,515.3L864.0,515.7L864.1,509.1L864.3,509.1L864.5,509.0L864.6,509.3L864.8,513.6L864.9,511.4L865.1,516.5L865.2,516.3L865.4,514.0L865.6,515.5L865.7,516.4L865.9,514.1L866.0,517.2L866.2,519.7L866.4,519.2L866.5,522.3L866.7,520.3L866.8,521.3L867.0,519.7L867.1,520.1L867.3,523.2L867.5,524.7L867.6,526.6L867.8,529.0L867.9,532.8L868.1,544.1L868.2,542.3L868.4,541.9L868.5,537.6L868.7,535.2L868.9,535.8L869.0,533.1L869.2,534.0L869.3,532.8L869.5,532.3L869.7,529.8L869.8,529.2L870.0,526.0L870.1,525.1L870.3,527.5L870.4,525.2L870.6,526.5L870.8,526.8L870.9,526.2L871.1,529.6L871.2,527.7L871.4,525.8L871.5,524.3L871.7,530.6L871.9,529.9L872.0,530.9L872.2,529.2L872.3,530.6L872.5,530.9L872.6,527.1L872.8,528.7L873.0,528.9L873.1,528.7L873.3,527.1L873.4,528.9L873.6,531.5L873.8,533.5L873.9,534.7L874.1,535.8L874.2,537.0L874.4,536.8L874.5,537.7L874.7,535.7L874.9,533.7L875.0,533.6L875.2,526.9L875.3,529.5L875.5,531.3L875.6,531.0L875.8,530.4L876.0,529.9L876.1,527.0L876.3,526.5L876.4,521.8L876.6,521.6L876.7,521.0L876.9,522.6L877.0,518.9L877.2,523.4L877.4,524.2L877.5,523.1L877.7,520.6L877.8,524.4L878.0,526.3L878.2,524.6L878.3,523.1L878.5,526.5L878.6,526.2L878.8,526.6L878.9,526.6L879.1,526.3L879.3,527.8L879.4,528.8L879.6,529.7L879.7,525.5L879.9,525.6L880.0,525.1L880.2,521.7L880.4,525.8L880.5,523.5L880.7,522.7L880.8,523.9L881.0,522.6L881.1,519.2L881.3,519.9L881.5,519.5L881.6,522.0L881.8,519.7L881.9,522.9L882.1,522.5L882.2,525.2L882.4,527.6L882.6,527.4L882.7,526.2L882.9,526.5L883.0,522.2L883.2,522.7L883.4,526.4L883.5,524.2L883.7,521.2L883.8,517.4L884.0,518.7L884.1,522.0L884.3,524.2L884.5,523.8L884.6,520.6L884.8,519.3L884.9,520.4L885.1,520.5L885.2,517.7L885.4,516.5L885.6,513.0L885.7,510.5L885.9,514.5L886.0,515.5L886.2,509.9L886.3,511.1L886.5,511.3L886.7,509.2L886.8,512.1L887.0,506.9L887.1,505.1L887.3,502.8L887.4,508.8L887.6,505.8L887.8,508.6L887.9,510.3L888.1,505.4L888.2,502.5L888.4,507.0L888.5,504.7L888.7,502.6L888.9,501.1L889.0,498.6L889.2,500.5L889.3,501.1L889.5,503.4L889.6,502.4L889.8,499.2L890.0,501.1L890.1,501.6L890.3,502.1L890.4,500.5L890.6,499.0L890.8,498.8L890.9,498.1L891.1,499.3L891.2,500.9L891.4,499.0L891.5,501.2L891.7,501.6L891.9,497.1L892.0,501.1L892.2,499.4L892.3,498.3L892.5,500.3L892.6,502.5L892.8,505.1L893.0,504.3L893.1,502.6L893.3,506.1L893.4,504.0L893.6,502.4L893.7,500.7L893.9,507.2L894.1,510.0L894.2,508.4L894.4,506.7L894.5,507.3L894.7,510.1L894.8,511.1L895.0,514.3L895.2,514.3L895.3,511.4L895.5,511.5L895.6,510.9L895.8,510.5L895.9,514.0L896.1,514.3L896.3,510.4L896.4,512.8L896.6,510.4L896.7,512.9L896.9,512.1L897.0,514.9L897.2,516.3L897.4,517.2L897.5,515.9L897.7,518.7L897.8,521.7L898.0,523.9L898.1,524.9L898.3,525.8L898.5,527.6L898.6,529.6L898.8,531.6L898.9,531.9L899.1,532.6L899.2,531.9L899.4,531.6L899.6,529.4L899.7,531.9L899.9,533.7L900.0,535.1L900.2,534.1L900.4,532.1L900.5,530.6L900.7,530.7L900.8,531.2L901.0,531.7L901.1,531.8L901.3,529.7L901.5,526.2L901.6,525.1L901.8,525.1L901.9,528.0L902.1,529.5L902.2,530.0L902.4,529.0L902.6,531.2L902.7,532.3L902.9,533.0L903.0,533.8L903.2,531.7L903.3,529.8L903.5,529.3L903.7,531.0L903.8,532.5L904.0,532.8L904.1,529.6L904.3,527.3L904.5,528.8L904.6,527.3L904.8,528.6L904.9,532.1L905.1,534.2L905.2,532.3L905.4,531.4L905.5,532.8L905.7,532.7L905.9,532.0L906.0,532.0L906.2,534.0L906.3,533.4L906.5,532.2L906.6,528.1L906.8,526.5L907.0,525.9L907.1,520.3L907.3,520.4L907.4,519.6L907.6,521.7L907.8,521.4L907.9,519.7L908.1,519.8L908.2,519.6L908.4,523.4L908.5,519.2L908.7,519.3L908.9,521.0L909.0,519.8L909.2,522.8L909.3,521.8L909.5,524.6L909.6,525.2L909.8,525.0L910.0,526.0L910.1,524.6L910.3,524.5L910.4,523.6L910.6,523.1L910.7,525.6L910.9,522.9L911.1,523.3L911.2,521.7L911.4,517.0L911.5,515.0L911.7,513.8L911.8,513.6L912.0,512.5L912.2,514.2L912.3,514.3L912.5,515.3L912.6,514.4L912.8,516.2L913.0,513.5L913.1,513.8L913.3,516.0L913.4,516.5L913.6,519.6L913.7,519.7L913.9,517.9L914.0,516.9L914.2,520.0L914.4,520.4L914.5,519.9L914.7,520.1L914.8,516.9L915.0,519.7L915.1,520.8L915.3,521.5L915.5,522.3L915.6,522.9L915.8,522.4L915.9,522.1L916.1,521.8L916.2,521.8L916.4,524.2L916.6,522.4L916.7,519.7L916.9,521.7L917.0,523.9L917.2,526.3L917.4,523.8L917.5,522.9L917.7,521.8L917.8,526.7L918.0,527.3L918.1,526.7L918.3,526.3L918.5,525.8L918.6,527.4L918.8,522.0L918.9,520.9L919.1,520.4L919.2,525.1L919.4,521.9L919.6,522.8L919.7,521.7L919.9,518.4L920.0,521.6L920.2,519.6L920.3,521.5L920.5,520.0L920.7,520.6L920.8,518.8L921.0,516.2L921.1,516.0L921.3,517.0L921.5,517.5L921.6,517.6L921.8,513.0L921.9,515.6L922.1,512.1L922.2,511.8L922.4,513.8L922.5,517.5L922.7,511.6L922.9,509.8L923.0,510.0L923.2,509.8L923.3,513.7L923.5,515.4L923.6,515.7L923.8,510.0L924.0,510.2L924.1,512.0L924.3,515.7L924.4,513.2L924.6,515.7L924.8,514.2L924.9,513.7L925.1,511.9L925.2,512.5L925.4,514.6L925.5,515.3L925.7,514.6L925.9,516.3L926.0,517.3L926.2,518.6L926.3,521.0L926.5,520.2L926.6,519.5L926.8,518.7L927.0,519.9L927.1,520.6L927.3,520.3L927.4,523.3L927.6,523.7L927.7,525.6L927.9,526.8L928.1,525.9L928.2,526.8L928.4,520.6L928.5,521.1L928.7,524.9L928.8,526.6L929.0,523.8L929.2,521.0L929.3,520.1L929.5,520.1L929.6,523.3L929.8,525.0L930.0,523.3L930.1,520.1L930.3,521.8L930.4,522.0L930.6,521.4L930.7,525.0L930.9,529.6L931.0,527.8L931.2,523.7L931.4,525.9L931.5,525.5L931.7,527.8L931.8,528.1L932.0,530.8L932.1,529.6L932.3,530.0L932.5,526.6L932.6,526.9L932.8,526.6L932.9,531.3L933.1,528.0L933.2,529.3L933.4,529.9L933.6,534.0L933.7,533.4L933.9,532.8L934.0,532.5L934.2,532.3L934.4,532.0L934.5,530.6L934.7,529.6L934.8,527.4L935.0,527.4L935.1,528.2L935.3,528.2L935.5,532.4L935.6,532.2L935.8,530.5L935.9,526.8L936.1,527.8L936.2,526.6L936.4,530.2L936.6,530.7L936.7,527.8L936.9,528.0L937.0,529.9L937.2,529.9L937.4,525.9L937.5,525.9L937.7,525.9L937.8,527.1L938.0,529.9L938.1,527.9L938.3,526.4L938.5,526.3L938.6,527.8L938.8,530.8L938.9,529.4L939.1,528.8L939.2,527.8L939.4,533.1L939.5,533.1L939.7,533.6L939.9,533.6L940.0,536.6L940.2,536.3L940.3,536.5L940.5,538.3L940.6,541.4L940.8,543.2L941.0,544.5L941.1,545.7L941.3,546.9L941.4,548.2L941.6,545.8L941.8,548.4L941.9,549.6L942.1,551.7L942.2,552.4L942.4,551.3L942.5,551.5L942.7,554.0L942.9,551.1L943.0,551.0L943.2,551.5L943.3,550.7L943.5,552.5L943.6,551.6L943.8,549.8L944.0,547.0L944.1,546.0L944.3,548.2L944.4,547.7L944.6,550.0L944.7,545.5L944.9,547.1L945.1,545.1L945.2,546.9L945.4,545.9L945.5,544.3L945.7,544.5L945.9,547.9L946.0,547.5L946.2,547.5L946.3,546.6L946.5,545.2L946.6,543.8L946.8,543.4L947.0,543.0L947.1,542.8L947.3,541.7L947.4,541.5L947.6,540.7L947.7,539.1L947.9,538.3L948.0,538.9L948.2,536.1L948.4,538.5L948.5,541.3L948.7,538.3L948.8,540.4L949.0,542.2L949.1,537.3L949.3,535.1L949.5,535.3L949.6,533.1L949.8,533.2L949.9,534.4L950.1,530.8L950.2,530.3L950.4,531.0L950.6,529.6L950.7,530.0L950.9,530.0L951.0,529.8L951.2,529.4L951.4,529.4L951.5,532.5L951.7,533.7L951.8,535.8L952.0,534.1L952.1,531.7L952.3,533.1L952.5,530.0L952.6,532.4L952.8,530.2L952.9,530.7L953.1,529.9L953.2,526.7L953.4,527.4L953.6,526.5L953.7,531.5L953.9,531.2L954.0,531.2L954.2,525.6L954.4,525.6L954.5,525.6L954.7,528.3L954.8,525.6L955.0,528.7L955.1,529.8L955.3,532.9L955.5,533.2L955.6,531.1L955.8,530.0L955.9,530.4L956.1,533.0L956.2,536.6L956.4,536.8L956.5,536.8L956.7,533.7L956.9,534.6L957.0,533.9L957.2,535.5L957.3,533.7L957.5,536.0L957.6,535.3L957.8,533.7L958.0,532.0L958.1,536.2L958.3,536.6L958.4,536.8L958.6,535.5L958.8,535.9L958.9,537.8L959.1,538.5L959.2,536.5L959.4,540.1L959.5,538.7L959.7,541.3L959.9,536.6L960.0,538.5L960.2,541.3L960.3,540.3L960.5,537.6L960.6,537.6L960.8,538.2L961.0,538.4L961.1,539.9L961.3,540.9L961.4,538.4L961.6,540.2L961.7,540.0L961.9,542.5L962.1,541.1L962.2,538.5L962.4,540.0L962.5,541.6L962.7,540.6L962.9,542.6L963.0,545.4L963.2,545.3L963.3,543.6L963.5,542.8L963.6,541.7L963.8,545.5L964.0,545.9L964.1,543.0L964.3,545.1L964.4,547.0L964.6,548.9L964.7,550.0L964.9,546.8L965.0,546.8L965.2,549.0L965.4,548.9L965.5,548.0L965.7,546.9L965.8,546.0L966.0,545.1L966.1,547.6L966.3,550.2L966.5,547.4L966.6,545.0L966.8,548.3L966.9,547.8L967.1,548.1L967.2,549.7L967.4,549.9L967.6,549.6L967.7,549.0L967.9,548.5L968.0,547.0L968.2,549.0L968.4,548.2L968.5,548.8L968.7,550.0L968.8,551.0L969.0,549.6L969.1,551.9L969.3,550.9L969.5,551.2L969.6,552.1L969.8,552.7L969.9,551.6L970.1,549.5L970.2,550.3L970.4,551.2L970.6,550.1L970.7,546.6L970.9,544.8L971.0,542.9L971.2,544.9L971.4,543.0L971.5,540.6L971.7,539.2L971.8,536.8L972.0,539.5L972.1,539.0L972.3,536.8L972.5,540.0L972.6,540.9L972.8,540.6L972.9,540.4L973.1,537.7L973.2,540.0L973.4,539.4L973.5,539.1L973.7,535.4L973.9,538.0L974.0,536.1L974.2,534.7L974.3,532.8L974.5,534.9L974.6,537.4L974.8,536.1L975.0,532.5L975.1,530.5L975.3,534.6L975.4,534.9L975.6,532.5L975.8,535.1L975.9,534.3L976.1,531.5L976.2,530.5L976.4,532.6L976.5,532.7L976.7,531.3L976.9,532.6L977.0,533.5L977.2,532.5L977.3,533.6L977.5,537.1L977.6,534.6L977.8,534.6L978.0,532.8L978.1,533.4L978.3,538.5L978.4,539.1L978.6,538.0L978.8,537.2L978.9,534.4L979.1,535.1L979.2,532.4L979.4,534.8L979.5,532.4L979.7,529.6L979.9,532.2L980.0,529.6L980.2,533.8L980.3,535.5L980.5,534.1L980.6,534.5L980.8,533.1L981.0,533.2L981.1,535.0L981.3,530.4L981.4,533.5L981.6,530.1L981.7,535.0L981.9,535.0L982.0,533.6L982.2,532.5L982.4,529.8L982.5,529.9L982.7,528.4L982.8,528.0L983.0,525.4L983.1,524.9L983.3,525.6L983.5,524.1L983.6,524.7L983.8,526.8L983.9,523.4L984.1,523.5L984.3,522.6L984.4,526.6L984.6,523.2L984.7,525.4L984.9,523.9L985.0,522.6L985.2,522.6L985.4,522.2L985.5,520.8L985.7,527.1L985.8,528.3L986.0,526.7L986.1,526.0L986.3,525.5L986.5,524.1L986.6,520.5L986.8,522.9L986.9,520.1L987.1,517.2L987.2,520.0L987.4,518.2L987.6,516.7L987.7,516.8L987.9,518.3L988.0,516.4L988.2,519.1L988.4,515.2L988.5,515.5L988.7,513.1L988.8,515.7L989.0,517.6L989.1,520.0L989.3,519.2L989.5,523.4L989.6,518.4L989.8,522.9L989.9,525.1L990.1,523.6L990.2,522.6L990.4,524.7L990.5,526.3L990.7,526.8L990.9,528.5L991.0,529.2L991.2,533.1L991.3,532.2L991.5,529.2L991.6,526.5L991.8,530.0L992.0,528.3L992.1,528.9L992.3,527.7L992.4,526.2L992.6,524.7L992.8,523.1L992.9,527.7L993.1,526.6L993.2,528.0L993.4,531.3L993.5,531.0L993.7,530.8L993.9,530.4L994.0,536.8L994.2,538.1L994.3,539.8L994.5,540.3L994.6,539.3L994.8,539.6L995.0,538.4L995.1,537.7L995.3,537.2L995.4,537.2L995.6,537.8L995.8,533.5L995.9,534.7L996.1,534.1L996.2,532.6L996.4,533.3L996.5,535.1L996.7,531.7L996.9,530.4L997.0,528.7L997.2,528.3L997.3,529.2L997.5,530.3L997.6,531.9L997.8,535.1L998.0,535.3L998.1,536.4L998.3,536.1L998.4,540.4L998.6,543.9L998.7,544.1L998.9,545.5L999.0,547.4L999.2,545.1L999.4,544.1L999.5,542.7L999.7,544.7L999.8,544.2L1000.0,542.7L1000.1,541.2L1000.3,540.9L1000.5,541.7L1000.6,540.6L1000.8,540.7L1000.9,544.0L1001.1,545.0L1001.3,544.8L1001.4,541.7L1001.6,541.5L1001.7,545.1L1001.9,546.0L1002.0,543.7L1002.2,542.3L1002.4,542.3L1002.5,542.3L1002.7,545.6L1002.8,543.3L1003.0,545.6L1003.1,546.4L1003.3,543.3L1003.5,546.9L1003.6,545.8L1003.8,544.3L1003.9,546.3L1004.1,548.1L1004.2,548.4L1004.4,547.6L1004.6,547.1L1004.7,548.7L1004.9,547.7L1005.0,546.1L1005.2,544.8L1005.4,542.2L1005.5,540.9L1005.7,539.2L1005.8,541.0L1006.0,538.5L1006.1,536.8L1006.3,538.2L1006.5,537.9L1006.6,539.4L1006.8,537.5L1006.9,540.2L1007.1,538.0L1007.2,538.2L1007.4,536.8L1007.5,542.3L1007.7,543.8L1007.9,541.4L1008.0,543.8L1008.2,543.4L1008.3,543.6L1008.5,542.2L1008.6,542.4L1008.8,541.4L1009.0,541.1L1009.1,540.4L1009.3,537.1L1009.4,538.0L1009.6,538.5L1009.8,538.1L1009.9,537.5L1010.1,540.9L1010.2,541.7L1010.4,541.8L1010.5,541.8L1010.7,539.1L1010.9,538.5L1011.0,536.6L1011.2,534.4L1011.3,532.3L1011.5,533.0L1011.6,532.5L1011.8,532.6L1012.0,531.2L1012.1,529.8L1012.3,529.0L1012.4,529.2L1012.6,530.6L1012.8,530.8L1012.9,528.1L1013.1,527.1L1013.2,526.2L1013.4,524.7L1013.5,526.9L1013.7,525.7L1013.9,525.0L1014.0,523.6L1014.2,525.8L1014.3,523.8L1014.5,523.3L1014.6,523.2L1014.8,521.9L1015.0,522.6L1015.1,523.3L1015.3,526.7L1015.4,525.5L1015.6,524.6L1015.7,526.3L1015.9,526.7L1016.0,525.4L1016.2,530.1L1016.4,531.7L1016.5,534.4L1016.7,533.1L1016.8,531.4L1017.0,530.2L1017.2,534.6L1017.3,533.6L1017.5,533.7L1017.6,534.7L1017.8,534.1L1017.9,532.6L1018.1,533.9L1018.3,532.7L1018.4,533.4L1018.6,531.4L1018.7,532.2L1018.9,534.6L1019.0,534.7L1019.2,534.9L1019.4,535.0L1019.5,535.3L1019.7,532.8L1019.8,531.5L1020.0,533.6L1020.1,536.0L1020.3,532.6L1020.5,535.3L1020.6,533.2L1020.8,531.9L1020.9,532.4L1021.1,533.3L1021.2,534.0L1021.4,535.7L1021.6,536.8L1021.7,537.0L1021.9,535.3L1022.0,536.3L1022.2,536.5L1022.4,538.1L1022.5,538.2L1022.7,536.4L1022.8,541.5L1023.0,541.4L1023.1,543.8L1023.3,542.8L1023.5,543.1L1023.6,541.5L1023.8,544.7L1023.9,540.6L1024.1,545.2L1024.2,543.7L1024.4,542.4L1024.5,543.0L1024.7,541.7L1024.9,540.8L1025.0,542.6L1025.2,543.2L1025.3,546.7L1025.5,548.0L1025.7,551.0L1025.8,553.6L1026.0,552.8L1026.1,550.3L1026.3,550.4L1026.4,549.0L1026.6,548.5L1026.8,546.6L1026.9,547.5L1027.1,545.1L1027.2,547.1L1027.4,545.2L1027.5,546.2L1027.7,548.6L1027.9,547.9L1028.0,549.3L1028.2,547.1L1028.3,549.2L1028.5,549.5L1028.7,552.2L1028.8,550.8L1029.0,550.6L1029.1,549.9L1029.3,553.4L1029.4,555.1L1029.6,553.9L1029.8,551.5L1029.9,548.0L1030.1,546.7L1030.2,548.5L1030.4,546.7L1030.5,545.1L1030.7,544.1L1030.8,545.5L1031.0,545.8L1031.2,544.4L1031.3,543.5L1031.5,545.9L1031.6,547.4L1031.8,546.4L1032.0,547.4L1032.1,550.6L1032.3,550.3L1032.4,550.8L1032.6,551.2L1032.7,551.7L1032.9,547.2L1033.0,546.9L1033.2,547.5L1033.4,549.0L1033.5,546.7L1033.7,548.1L1033.8,547.6L1034.0,548.1L1034.2,548.0L1034.3,547.5L1034.5,550.8L1034.6,550.0L1034.8,552.1L1034.9,551.5L1035.1,547.9L1035.3,548.5L1035.4,548.1L1035.6,548.1L1035.7,547.2L1035.9,547.4L1036.0,545.4L1036.2,546.7L1036.4,546.7L1036.5,546.4L1036.7,549.9L1036.8,550.4L1037.0,551.3L1037.2,549.7L1037.3,554.0L1037.5,551.9L1037.6,550.8L1037.8,552.1L1037.9,553.2L1038.1,554.1L1038.2,552.7L1038.4,552.5L1038.6,555.2L1038.7,556.3L1038.9,558.5L1039.0,558.6L1039.2,557.2L1039.3,557.7L1039.5,557.9L1039.7,559.2L1039.8,558.4L1040.0,560.4L1040.1,560.6L1040.3,562.6L1040.5,563.7L1040.6,563.4L1040.8,562.0L1040.9,563.1L1041.1,564.5L1041.2,568.2L1041.4,568.3L1041.5,567.8L1041.7,567.8L1041.9,569.9L1042.0,571.4L1042.2,570.2L1042.3,570.4L1042.5,571.0L1042.7,571.6L1042.8,571.1L1043.0,570.9L1043.1,568.4L1043.3,567.6L1043.4,567.4L1043.6,565.0L1043.8,563.9L1043.9,565.3L1044.1,565.4L1044.2,566.6L1044.4,566.0L1044.5,566.1L1044.7,565.4L1044.9,564.9L1045.0,567.1L1045.2,564.6L1045.3,566.5L1045.5,563.3L1045.7,563.4L1045.8,563.2L1046.0,559.5L1046.1,562.0L1046.3,560.2L1046.4,558.7L1046.6,559.5L1046.8,557.3L1046.9,556.0L1047.1,552.1L1047.2,552.0L1047.4,543.4L1047.5,541.3L1047.7,543.6L1047.8,544.5L1048.0,543.4L1048.2,543.1L1048.3,539.8L1048.5,542.6L1048.6,542.3L1048.8,542.5L1049.0,544.6L1049.1,543.7L1049.3,546.0L1049.4,544.4L1049.6,542.6L1049.7,543.1L1049.9,542.2L1050.1,541.9L1050.2,537.1L1050.4,538.7L1050.5,537.6L1050.7,537.1L1050.8,536.4L1051.0,535.9L1051.2,536.0L1051.3,537.8L1051.5,534.8L1051.6,533.0L1051.8,532.6L1051.9,534.5L1052.1,533.3L1052.3,530.6L1052.4,533.8L1052.6,532.0L1052.7,534.0L1052.9,533.4L1053.0,532.7L1053.2,535.0L1053.4,534.3L1053.5,534.0L1053.7,534.9L1053.8,533.2L1054.0,534.2L1054.2,535.6L1054.3,535.5L1054.5,537.4L1054.6,535.7L1054.8,536.6L1054.9,535.5L1055.1,537.3L1055.2,541.1L1055.4,538.9L1055.6,543.1L1055.7,544.8L1055.9,542.5L1056.0,544.8L1056.2,543.8L1056.3,544.6L1056.5,542.8L1056.7,545.4L1056.8,544.0L1057.0,544.8L1057.1,541.4L1057.3,539.5L1057.5,540.0L1057.6,539.7L1057.8,538.9L1057.9,539.7L1058.1,541.4L1058.2,540.5L1058.4,540.3L1058.6,541.6L1058.7,542.8L1058.9,539.8L1059.0,543.4L1059.2,544.0L1059.3,541.9L1059.5,538.2L1059.7,538.1L1059.8,538.4L1060.0,537.4L1060.1,536.0L1060.3,534.5L1060.4,531.6L1060.6,527.1L1060.8,529.5L1060.9,530.1L1061.1,530.1L1061.2,526.6L1061.4,526.6L1061.5,528.0L1061.7,527.1L1061.9,525.6L1062.0,525.7L1062.2,526.9L1062.3,527.5L1062.5,525.2L1062.7,523.4L1062.8,523.8L1063.0,522.9L1063.1,525.9L1063.3,526.9L1063.4,525.3L1063.6,524.3L1063.8,526.0L1063.9,523.1L1064.1,521.1L1064.2,519.7L1064.4,521.7L1064.5,520.4L1064.7,523.2L1064.8,523.5L1065.0,524.7L1065.2,520.6L1065.3,521.6L1065.5,522.9L1065.6,525.1L1065.8,523.2L1066.0,525.1L1066.1,519.1L1066.3,518.5L1066.4,521.9L1066.6,522.9L1066.7,520.7L1066.9,519.3L1067.1,519.6L1067.2,517.3L1067.4,519.7L1067.5,519.7L1067.7,524.7L1067.8,524.4L1068.0,523.5L1068.2,524.7L1068.3,521.3L1068.5,523.2L1068.6,519.1L1068.8,518.9L1069.0,519.2L1069.1,519.0L1069.3,520.8L1069.4,522.2L1069.6,519.9L1069.7,517.1L1069.9,513.1L1070.0,515.1L1070.2,514.4L1070.4,517.5L1070.5,513.6L1070.7,515.1L1070.8,512.8L1071.0,512.9L1071.2,509.8L1071.3,514.0L1071.5,510.2L1071.6,511.6L1071.8,514.9L1071.9,516.6L1072.1,514.2L1072.2,512.0L1072.4,512.0L1072.6,514.8L1072.7,515.9L1072.9,512.8L1073.0,514.2L1073.2,517.0L1073.3,519.6L1073.5,517.1L1073.7,516.2L1073.8,515.0L1074.0,517.4L1074.1,517.7L1074.3,519.3L1074.5,516.2L1074.6,516.7L1074.8,513.4L1074.9,516.1L1075.1,516.8L1075.2,514.4L1075.4,512.5L1075.6,510.9L1075.7,510.9L1075.9,514.8L1076.0,512.7L1076.2,515.0L1076.3,510.9L1076.5,514.8L1076.7,517.9L1076.8,518.0L1077.0,514.6L1077.1,515.0L1077.3,521.0L1077.5,517.8L1077.6,521.1L1077.8,524.4L1077.9,524.4L1078.1,524.4L1078.2,522.1L1078.4,521.2L1078.5,520.4L1078.7,515.1L1078.9,516.6L1079.0,517.8L1079.2,517.4L1079.3,516.6L1079.5,515.2L1079.7,516.8L1079.8,514.7L1080.0,510.6L1080.1,511.8L1080.3,512.3L1080.4,513.2L1080.6,513.1L1080.8,511.8L1080.9,510.4L1081.1,508.6L1081.2,507.9L1081.4,502.9L1081.5,508.1L1081.7,508.5L1081.8,505.3L1082.0,507.5L1082.2,504.8L1082.3,505.1L1082.5,503.2L1082.6,503.9L1082.8,503.4L1083.0,504.3L1083.1,503.1L1083.3,503.0L1083.4,500.1L1083.6,499.6L1083.7,503.4L1083.9,501.8L1084.1,498.6L1084.2,498.0L1084.4,496.4L1084.5,498.3L1084.7,497.4L1084.8,496.1L1085.0,497.2L1085.2,497.1L1085.3,503.0L1085.5,505.2L1085.6,498.0L1085.8,504.4L1086.0,505.0L1086.1,505.3L1086.3,503.0L1086.4,498.6L1086.6,503.5L1086.7,503.6L1086.9,503.0L1087.0,507.6L1087.2,507.6L1087.4,507.5L1087.5,503.0L1087.7,501.9L1087.8,507.6L1088.0,507.1L1088.2,508.1L1088.3,506.5L1088.5,508.0L1088.6,503.9L1088.8,503.9L1088.9,504.3L1089.1,506.1L1089.2,505.5L1089.4,509.1L1089.6,507.8L1089.7,507.1L1089.9,507.7L1090.0,510.3L1090.2,511.2L1090.3,508.6L1090.5,509.1L1090.7,507.2L1090.8,505.4L1091.0,510.2L1091.1,511.2L1091.3,506.7L1091.5,503.4L1091.6,501.0L1091.8,501.7L1091.9,502.0L1092.1,505.2L1092.2,502.0L1092.4,502.4L1092.6,499.6L1092.7,500.4L1092.9,500.4L1093.0,501.6L1093.2,500.4L1093.3,496.4L1093.5,496.4L1093.7,496.4L1093.8,502.4L1094.0,507.0L1094.1,505.5L1094.3,502.8L1094.5,502.8L1094.6,505.6L1094.8,511.6L1094.9,509.2L1095.1,506.7L1095.2,512.6L1095.4,511.1L1095.5,510.2L1095.7,508.2L1095.9,511.9L1096.0,512.1L1096.2,514.0L1096.3,510.7L1096.5,511.5L1096.7,512.6L1096.8,512.3L1097.0,511.7L1097.1,513.3L1097.3,509.2L1097.4,511.5L1097.6,510.1L1097.8,507.9L1097.9,510.7L1098.1,508.6L1098.2,507.4L1098.4,508.3L1098.5,509.3L1098.7,506.1L1098.8,507.3L1099.0,507.5L1099.2,507.5L1099.3,509.2L1099.5,502.0L1099.6,504.2L1099.8,507.7L1100.0,507.3L1100.1,505.8L1100.3,502.9L1100.4,501.6L1100.6,503.7L1100.7,502.7L1100.9,503.6L1101.1,499.4L1101.2,498.6L1101.4,499.3L1101.5,504.4L1101.7,499.8L1101.8,498.8L1102.0,496.2L1102.2,496.5L1102.3,498.6L1102.5,498.8L1102.6,497.8L1102.8,495.6L1103.0,495.2L1103.1,499.0L1103.3,496.5L1103.4,494.0L1103.6,494.3L1103.7,490.9L1103.9,495.9L1104.0,494.2L1104.2,490.1L1104.4,490.3L1104.5,494.4L1104.7,489.8L1104.8,490.3L1105.0,489.6L1105.2,486.7L1105.3,486.0L1105.5,485.4L1105.6,490.8L1105.8,486.6L1105.9,487.3L1106.1,483.5L1106.2,486.9L1106.4,484.9L1106.6,483.2L1106.7,480.4L1106.9,485.1L1107.0,480.0L1107.2,480.5L1107.4,483.4L1107.5,479.6L1107.7,479.5L1107.8,479.1L1108.0,482.4L1108.1,476.3L1108.3,476.4L1108.5,477.1L1108.6,479.1L1108.8,476.3L1108.9,476.3L1109.1,478.0L1109.2,478.6L1109.4,478.6L1109.6,480.2L1109.7,478.8L1109.9,480.2L1110.0,477.5L1110.2,476.3L1110.3,476.3L1110.5,476.6L1110.7,479.4L1110.8,478.1L1111.0,476.4L1111.1,481.1L1111.3,480.8L1111.5,479.2L1111.6,478.1L1111.8,481.9L1111.9,480.5L1112.1,482.1L1112.2,483.1L1112.4,490.3L1112.5,490.2L1112.7,485.6L1112.9,487.1L1113.0,487.1L1113.2,490.0L1113.3,488.2L1113.5,489.2L1113.7,489.2L1113.8,487.2L1114.0,489.7L1114.1,485.4L1114.3,487.8L1114.4,487.7L1114.6,485.7L1114.8,487.1L1114.9,487.3L1115.1,484.5L1115.2,484.6L1115.4,485.8L1115.5,485.1L1115.7,487.9L1115.9,488.0L1116.0,488.1L1116.2,488.0L1116.3,482.1L1116.5,485.1L1116.6,483.7L1116.8,486.2L1117.0,484.0L1117.1,482.4L1117.3,484.4L1117.4,486.9L1117.6,482.6L1117.7,477.7L1117.9,479.5L1118.1,478.6L1118.2,473.0L1118.4,474.1L1118.5,476.9L1118.7,471.5L1118.8,472.2L1119.0,473.9L1119.2,472.6L1119.3,468.4L1119.5,468.5L1119.6,468.8L1119.8,470.5L1120.0,466.1L1120.1,465.1L1120.3,465.1L1120.4,466.2L1120.6,464.4L1120.7,459.1L1120.9,458.6L1121.0,458.9L1121.2,458.2L1121.4,468.1L1121.5,467.4L1121.7,463.9L1121.8,465.7L1122.0,466.2L1122.2,464.6L1122.3,462.4L1122.5,461.9L1122.6,461.8L1122.8,456.8L1122.9,455.7L1123.1,457.3L1123.2,453.7L1123.4,454.6L1123.6,457.0L1123.7,455.3L1123.9,455.9L1124.0,455.9L1124.2,451.9L1124.4,451.1L1124.5,452.1L1124.7,454.4L1124.8,451.3L1125.0,451.1L1125.1,453.7L1125.3,454.0L1125.5,454.4L1125.6,458.4L1125.8,458.8L1125.9,458.5L1126.1,454.3L1126.2,455.3L1126.4,456.3L1126.6,455.0L1126.7,453.1L1126.9,456.0L1127.0,456.4L1127.2,453.4L1127.3,456.6L1127.5,456.6L1127.7,459.2L1127.8,456.0L1128.0,459.5L1128.1,459.8L1128.3,459.7L1128.5,456.2L1128.6,457.0L1128.8,455.6L1128.9,455.8L1129.1,457.9L1129.2,460.7L1129.4,462.6L1129.5,462.7L1129.7,458.9L1129.9,460.8L1130.0,458.4L1130.2,456.0L1130.3,456.7L1130.5,459.1L1130.7,456.4L1130.8,455.5L1131.0,453.7L1131.1,453.6L1131.3,454.6L1131.4,454.5L1131.6,453.8L1131.8,455.8L1131.9,460.7L1132.1,456.0L1132.2,453.8L1132.4,455.1L1132.5,455.6L1132.7,454.8L1132.9,454.3L1133.0,453.9L1133.2,457.7L1133.3,463.9L1133.5,468.1L1133.6,471.7L1133.8,471.6L1134.0,472.1L1134.1,472.1L1134.3,476.9L1134.4,478.2L1134.6,483.4L1134.8,484.0L1134.9,489.9L1135.1,489.1L1135.2,489.2L1135.4,486.1L1135.5,486.2L1135.7,486.8L1135.8,491.4L1136.0,493.6L1136.2,494.4L1136.3,494.4L1136.5,489.9L1136.6,491.2L1136.8,492.2L1137.0,490.4L1137.1,491.0L1137.3,493.1L1137.4,491.4L1137.6,490.4L1137.7,486.2L1137.9,490.8L1138.0,486.6L1138.2,488.2L1138.4,484.7L1138.5,484.6L1138.7,480.7L1138.8,480.7L1139.0,481.8L1139.2,482.1L1139.3,482.4L1139.5,479.3L1139.6,475.3L1139.8,474.3L1139.9,471.0L1140.1,470.8L1140.3,472.1L1140.4,472.7L1140.6,470.1L1140.7,467.6L1140.9,469.7L1141.0,468.9L1141.2,467.3L1141.4,466.4L1141.5,473.4L1141.7,474.0L1141.8,473.7L1142.0,473.1L1142.1,478.6L1142.3,477.3L1142.5,476.2L1142.6,475.5L1142.8,474.0L1142.9,476.2L1143.1,473.9L1143.2,476.2L1143.4,475.7L1143.6,476.3L1143.7,476.2L1143.9,476.6L1144.0,481.1L1144.2,477.9L1144.3,473.3L1144.5,477.7L1144.7,481.3L1144.8,481.9L1145.0,477.6L1145.1,482.1L1145.3,482.2L1145.5,479.1L1145.6,477.5L1145.8,479.9L1145.9,481.1L1146.1,480.4L1146.2,476.0L1146.4,472.6L1146.5,468.9L1146.7,478.2L1146.9,475.4L1147.0,472.7L1147.2,463.6L1147.3,465.7L1147.5,468.5L1147.7,466.5L1147.8,463.8L1148.0,467.3L1148.1,464.2L1148.3,461.2L1148.4,456.2L1148.6,457.2L1148.8,461.8L1148.9,454.4L1149.1,459.5L1149.2,456.7L1149.4,462.7L1149.5,461.2L1149.7,459.9L1149.9,456.6L1150.0,453.7L1150.2,454.2L1150.3,452.0L1150.5,455.5L1150.6,452.0L1150.8,447.6L1151.0,449.4L1151.1,450.8L1151.3,450.5L1151.4,447.9L1151.6,448.9L1151.8,447.2L1151.9,448.4L1152.1,451.3L1152.2,453.1L1152.4,449.8L1152.5,454.3L1152.7,455.1L1152.8,452.7L1153.0,455.6L1153.2,455.1L1153.3,453.4L1153.5,454.0L1153.6,449.7L1153.8,446.2L1154.0,452.9L1154.1,449.6L1154.3,449.6L1154.4,449.9L1154.6,449.3L1154.7,446.1L1154.9,448.5L1155.0,453.4L1155.2,449.1L1155.4,449.3L1155.5,450.9L1155.7,451.6L1155.8,448.0L1156.0,447.8L1156.2,448.8L1156.3,455.4L1156.5,456.5L1156.6,456.5L1156.8,452.7L1156.9,450.3L1157.1,446.5L1157.3,442.3L1157.4,440.3L1157.6,438.2L1157.7,437.6L1157.9,441.6L1158.0,437.8L1158.2,435.6L1158.4,434.7L1158.5,438.9L1158.7,436.7L1158.8,431.5L1159.0,430.4L1159.2,431.3L1159.3,425.3L1159.5,428.0L1159.6,433.2L1159.8,430.1L1159.9,431.0L1160.1,427.4L1160.2,427.9L1160.4,424.6L1160.6,427.9L1160.7,428.3L1160.9,430.5L1161.0,428.6L1161.2,424.6L1161.3,424.6L1161.5,424.6L1161.7,427.9L1161.8,428.5L1162.0,429.3L1162.1,429.1L1162.3,429.8L1162.5,425.4L1162.6,424.6L1162.8,428.2L1162.9,426.9L1163.1,426.9L1163.2,427.9L1163.4,426.1L1163.5,426.4L1163.7,428.0L1163.9,430.9L1164.0,430.3L1164.2,430.9L1164.3,428.2L1164.5,430.5L1164.7,425.7L1164.8,424.9L1165.0,426.2L1165.1,427.4L1165.3,423.6L1165.4,421.7L1165.6,427.7L1165.8,426.3L1165.9,421.0L1166.1,425.9L1166.2,425.7L1166.4,426.7L1166.5,430.5L1166.7,432.3L1166.9,435.3L1167.0,435.9L1167.2,437.2L1167.3,436.8L1167.5,433.7L1167.7,438.5L1167.8,435.9L1168.0,436.2L1168.1,432.0L1168.3,434.0L1168.4,430.4L1168.6,436.6L1168.8,432.3L1168.9,433.0L1169.1,430.1L1169.2,432.5L1169.4,430.7L1169.5,432.8L1169.7,430.1L1169.8,432.5L1170.0,432.3L1170.2,436.2L1170.3,440.6L1170.5,436.5L1170.6,440.9L1170.8,438.3L1171.0,439.3L1171.1,438.7L1171.3,439.5L1171.4,438.9L1171.6,441.6L1171.7,442.8L1171.9,445.0L1172.0,445.2L1172.2,445.2L1172.4,438.2L1172.5,435.9L1172.7,437.1L1172.8,440.9L1173.0,438.0L1173.2,437.0L1173.3,439.8L1173.5,434.4L1173.6,433.0L1173.8,431.1L1173.9,428.1L1174.1,425.8L1174.3,427.9L1174.4,431.8L1174.6,429.2L1174.7,425.9L1174.9,424.9L1175.0,423.8L1175.2,425.6L1175.4,425.7L1175.5,427.3L1175.7,420.8L1175.8,416.9L1176.0,416.6L1176.2,415.2L1176.3,416.7L1176.5,417.8L1176.6,410.6L1176.8,417.7L1176.9,415.7L1177.1,416.7L1177.2,408.1L1177.4,411.8L1177.6,411.5L1177.7,407.3L1177.9,407.3L1178.0,411.4L1178.2,412.2L1178.3,415.1L1178.5,414.8L1178.7,415.6L1178.8,413.3L1179.0,410.1L1179.1,413.0L1179.3,412.6L1179.5,418.0L1179.6,418.7L1179.8,414.7L1179.9,415.1L1180.1,415.6L1180.2,416.4L1180.4,423.3L1180.5,414.7L1180.7,424.1L1180.9,415.8L1181.0,414.5L1181.2,416.8L1181.3,424.5L1181.5,424.4L1181.7,421.1L1181.8,420.9L1182.0,423.8L1182.1,426.8L1182.3,424.3L1182.4,425.9L1182.6,426.3L1182.8,425.5L1182.9,429.7L1183.1,422.6L1183.2,423.2L1183.4,424.8L1183.5,417.1L1183.7,415.1L1183.9,420.3L1184.0,419.9L1184.2,420.8L1184.3,420.1L1184.5,415.9L1184.7,418.3L1184.8,416.2L1185.0,418.5L1185.1,409.3L1185.3,410.6L1185.4,412.5L1185.6,415.2L1185.8,414.6L1185.9,413.4L1186.1,413.4L1186.2,411.9L1186.4,411.9L1186.5,412.1L1186.7,411.5L1186.8,417.7L1187.0,417.4L1187.2,415.3L1187.3,413.1L1187.5,416.5L1187.6,418.3L1187.8,419.8L1188.0,409.9L1188.1,418.0L1188.3,413.7L1188.4,408.6L1188.6,408.7L1188.7,413.2L1188.9,407.4L1189.0,402.5L1189.2,406.0L1189.4,402.3L1189.5,398.9L1189.7,406.4L1189.8,398.9L1190.0,400.5L1190.2,398.9L1190.3,400.2L1190.5,401.3L1190.6,404.8L1190.8,404.2L1190.9,399.6L1191.1,404.2L1191.3,405.5L1191.4,401.8L1191.6,405.9L1191.7,398.1L1191.9,400.5L1192.0,398.5L1192.2,402.9L1192.4,393.1L1192.5,396.9L1192.7,399.5L1192.8,399.9L1193.0,394.9L1193.2,390.4L1193.3,392.9L1193.5,396.4L1193.6,398.8L1193.8,395.0L1193.9,394.1L1194.1,388.2L1194.2,390.8L1194.4,385.5L1194.6,385.7L1194.7,393.6L1194.9,386.7L1195.0,392.4L1195.2,392.0L1195.3,388.2L1195.5,380.4L1195.7,384.0L1195.8,379.9L1196.0,376.9L1196.1,380.1L1196.3,385.9L1196.5,382.9L1196.6,382.3L1196.8,378.9L1196.9,374.5L1197.1,376.6L1197.2,376.3L1197.4,377.1L1197.5,375.8L1197.7,376.6L1197.9,380.9L1198.0,374.1L1198.2,378.4L1198.3,375.3L1198.5,374.8L1198.7,374.1L1198.8,374.6L1199.0,375.3L1199.1,377.4L1199.3,380.0L1199.4,380.1L1199.6,381.0L1199.8,382.9L1199.9,382.6L1200.1,385.2L1200.2,385.8L1200.4,387.2L1200.5,386.1L1200.7,385.5L1200.9,387.5L1201.0,387.0L1201.2,388.2L1201.3,390.6L1201.5,391.7L1201.7,391.6L1201.8,391.5L1202.0,393.6L1202.1,394.3L1202.3,399.1L1202.4,402.9L1202.6,402.2L1202.8,401.8L1202.9,393.8L1203.1,400.8L1203.2,393.7L1203.4,402.8L1203.5,416.8L1203.7,413.1L1203.8,416.4L1204.0,427.0L1204.2,421.7L1204.3,425.0L1204.5,416.9L1204.6,427.9L1204.8,433.4L1205.0,429.3L1205.1,427.5L1205.3,422.2L1205.4,424.3L1205.6,425.6L1205.7,422.7L1205.9,420.2L1206.1,418.5L1206.2,416.8L1206.4,404.8L1206.5,409.4L1206.7,402.0L1206.8,394.2L1207.0,396.9L1207.2,392.4L1207.3,387.2L1207.5,386.4L1207.6,386.9L1207.8,385.0L1207.9,388.0L1208.1,388.5L1208.3,389.3L1208.4,388.7L1208.6,386.0L1208.7,372.2L1208.9,374.0L1209.0,388.7L1209.2,383.3L1209.4,388.6L1209.5,377.7L1209.7,388.8L1209.8,375.5L1210.0,380.8L1210.2,366.6L1210.3,368.3L1210.5,377.7L1210.6,364.4L1210.8,352.2L1210.9,373.2L1211.1,361.3L1211.2,349.8L1211.4,341.3L1211.6,361.0L1211.7,339.3L1211.9,338.8L1212.0,346.0L1212.2,343.4L1212.3,339.9L1212.5,343.4L1212.7,341.5L1212.8,333.2L1213.0,331.2L1213.1,318.4L1213.3,331.3L1213.5,321.4L1213.6,311.7L1213.8,304.2L1213.9,320.4L1214.1,306.9L1214.2,308.5L1214.4,309.0L1214.6,307.4L1214.7,320.3L1214.9,302.8L1215.0,308.6L1215.2,298.8L1215.3,298.3L1215.5,311.2L1215.7,307.3L1215.8,311.2L1216.0,296.9L1216.1,285.2L1216.3,294.8L1216.4,290.7L1216.6,287.1L1216.8,283.8L1216.9,294.2L1217.1,298.1L1217.2,286.9L1217.4,288.6L1217.5,276.9L1217.7,288.1L1217.9,275.9L1218.0,285.7L1218.2,275.9L1218.3,276.3L1218.5,289.2L1218.7,287.3L1218.8,287.9L1219.0,286.7L1219.1,275.9L1219.3,283.2L1219.4,275.9L1219.6,282.3L1219.8,287.5L1219.9,291.9L1220.1,285.4L1220.2,285.4L1220.4,283.4L1220.5,292.1L1220.7,288.3L1220.8,291.1L1221.0,285.3L1221.2,281.9L1221.3,282.5L1221.5,291.6L1221.6,284.2L1221.8,296.9L1222.0,296.9L1222.1,298.0L1222.3,290.1L1222.4,286.6L1222.6,290.2L1222.7,288.6L1222.9,301.5L1223.1,301.1L1223.2,294.5L1223.4,289.0L1223.5,290.8L1223.7,308.0L1223.8,300.7L1224.0,294.5L1224.2,298.8L1224.3,302.3L1224.5,302.2L1224.6,313.0L1224.8,303.7L1225.0,304.1L1225.1,311.5L1225.3,311.4L1225.4,308.9L1225.6,316.2L1225.7,313.7L1225.9,315.3L1226.0,313.0L1226.2,308.8L1226.4,309.5L1226.5,320.2L1226.7,320.2L1226.8,314.6L1227.0,295.0L1227.2,303.8L1227.3,306.1L1227.5,305.6L1227.6,300.0L1227.8,291.8L1227.9,290.0L1228.1,297.2L1228.2,300.7L1228.4,297.7L1228.6,299.0L1228.7,300.7L1228.9,311.1L1229.0,310.8L1229.2,306.7L1229.3,304.9L1229.5,307.6L1229.7,305.4L1229.8,296.8L1230.0,293.1L1230.1,301.0L1230.3,291.7L1230.5,289.4L1230.6,278.6L1230.8,276.9L1230.9,274.8L1231.1,270.5L1231.2,276.8L1231.4,271.0L1231.6,268.8L1231.7,262.7L1231.9,253.6L1232.0,259.3L1232.2,256.8L1232.3,259.3L1232.5,251.3L1232.7,246.5L1232.8,245.3L1233.0,242.6L1233.1,242.8L1233.3,245.6L1233.5,240.5L1233.6,238.0L1233.8,234.2L1233.9,226.7L1234.1,221.3L1234.2,224.9L1234.4,232.4L1234.5,223.3L1234.7,223.1L1234.9,216.3L1235.0,214.6L1235.2,217.7L1235.3,222.5L1235.5,217.5L1235.7,204.5L1235.8,210.3L1236.0,211.3L1236.1,204.5L1236.3,204.5L1236.4,212.0L1236.6,211.3L1236.8,206.7L1236.9,204.5L1237.1,206.6L1237.2,219.7L1237.4,217.6L1237.5,211.9L1237.7,217.1L1237.8,218.9L1238.0,218.5L1238.2,222.0L1238.3,227.0L1238.5,222.7L1238.6,230.8L1238.8,229.4L1239.0,237.3L1239.1,237.2L1239.3,237.5L1239.4,239.8L1239.6,239.1L1239.7,246.6L1239.9,249.9L1240.1,249.9L1240.2,245.1L1240.4,240.3L1240.5,225.2L1240.7,224.9L1240.8,221.3L1241.0,227.2L1241.2,227.0L1241.3,227.2L1241.5,227.2L1241.6,249.6L1241.8,258.9L1242.0,253.5L1242.1,253.2L1242.3,239.7L1242.4,242.2L1242.6,240.7L1242.7,250.6L1242.9,250.6L1243.0,259.0L1243.2,251.5L1243.4,253.4L1243.5,250.9L1243.7,252.1L1243.8,243.8L1244.0,243.4L1244.2,245.9L1244.3,235.4L1244.5,233.9L1244.6,239.3L1244.8,245.5L1244.9,240.0L1245.1,238.0L1245.2,239.4L1245.4,228.7L1245.6,232.3L1245.7,230.5L1245.9,231.6L1246.0,235.4L1246.2,227.7L1246.3,218.7L1246.5,220.6L1246.7,225.5L1246.8,228.3L1247.0,220.1L1247.1,224.4L1247.3,219.6L1247.5,218.5L1247.6,218.5L1247.8,218.5L1247.9,222.7L1248.1,222.7L1248.2,227.8L1248.4,222.6L1248.6,222.3L1248.7,229.9L1248.9,224.7L1249.0,217.6L1249.2,219.1L1249.3,223.0L1249.5,228.5L1249.7,227.7L1249.8,209.4L1250.0,215.3L1250.1,210.8L1250.3,215.7L1250.5,209.0L1250.6,202.4L1250.8,202.2L1250.9,212.7L1251.1,210.9L1251.2,200.8L1251.4,197.8L1251.5,189.2L1251.7,186.3L1251.9,192.8L1252.0,187.0L1252.2,185.1L1252.3,187.4L1252.5,188.4L1252.7,183.5L1252.8,185.2L1253.0,186.0L1253.1,183.5L1253.3,195.0L1253.4,193.1L1253.6,196.6L1253.8,194.6L1253.9,196.3L1254.1,198.0L1254.2,189.2L1254.4,185.9L1254.5,188.3L1254.7,198.6L1254.8,202.0L1255.0,197.5L1255.2,195.5L1255.3,199.4L1255.5,203.1L1255.6,197.2L1255.8,198.5L1256.0,196.0L1256.1,193.9L1256.3,196.6L1256.4,197.6L1256.6,193.1L1256.7,198.0L1256.9,204.2L1257.1,210.5L1257.2,209.4L1257.4,206.8L1257.5,194.5L1257.7,194.6L1257.8,209.6L1258.0,202.1L1258.2,209.6L1258.3,199.8L1258.5,208.7L1258.6,212.6L1258.8,210.9L1259.0,211.3L1259.1,218.5L1259.3,208.3L1259.4,202.3L1259.6,208.0L1259.7,213.1L1259.9,217.3L1260.0,217.9L1260.2,221.7L1260.4,227.9L1260.5,217.4L1260.7,218.9L1260.8,216.2L1261.0,225.4L1261.2,225.1L1261.3,225.2L1261.5,218.4L1261.6,225.2L1261.8,224.4L1261.9,240.6L1262.1,236.2L1262.2,228.6L1262.4,231.4L1262.6,245.8L1262.7,232.7L1262.9,240.3L1263.0,250.1L1263.2,255.3L1263.3,245.1L1263.5,246.6L1263.7,242.5L1263.8,247.2L1264.0,251.3L1264.1,262.6L1264.3,264.5L1264.5,261.2L1264.6,257.6L1264.8,254.3L1264.9,257.1L1265.1,244.0L1265.2,248.3L1265.4,257.9L1265.6,255.3L1265.7,250.7L1265.9,245.8L1266.0,251.4L1266.2,251.1L1266.3,251.9L1266.5,245.9L1266.7,248.1L1266.8,250.2L1267.0,254.0L1267.1,263.0L1267.3,256.4L1267.5,259.7L1267.6,255.4L1267.8,256.1L1267.9,272.6L1268.1,263.3L1268.2,260.3L1268.4,266.2L1268.5,271.1L1268.7,271.2L1268.9,279.4L1269.0,280.1L1269.2,275.5L1269.3,276.3L1269.5,273.9L1269.7,285.7L1269.8,285.1L1270.0,285.6L1270.1,282.0L1270.3,279.9L1270.4,278.5L1270.6,289.1L1270.8,289.4L1270.9,291.0L1271.1,294.2L1271.2,294.3L1271.4,294.3L1271.5,286.6L1271.7,286.0L1271.9,282.6L1272.0,286.9L1272.2,283.2L1272.3,285.7L1272.5,281.8L1272.6,272.7L1272.8,275.5L1273.0,274.8L1273.1,266.7L1273.3,272.4L1273.4,269.2L1273.6,278.6L1273.7,274.7L1273.9,266.7L1274.1,274.1L1274.2,279.2L1274.4,290.8L1274.5,292.4L1274.7,293.2L1274.8,283.4L1275.0,288.4L1275.2,287.1L1275.3,287.5L1275.5,291.0L1275.6,292.5L1275.8,282.5L1276.0,276.3L1276.1,272.1L1276.3,270.8L1276.4,275.2L1276.6,270.9L1276.7,265.6L1276.9,257.7L1277.0,255.8L1277.2,253.5L1277.4,251.6L1277.5,256.4L1277.7,249.1L1277.8,248.9L1278.0,245.1L1278.2,253.6L1278.3,255.3L1278.5,253.7L1278.6,255.9L1278.8,251.5L1278.9,257.3L1279.1,249.7L1279.2,244.8L1279.4,246.4L1279.6,251.4L1279.7,253.3L1279.9,250.2L1280.0,240.8L1280.2,244.3L1280.4,245.3L1280.5,245.9L1280.7,242.5L1280.8,240.8L1281.0,254.9L1281.1,242.0L1281.3,242.0L1281.5,240.9L1281.6,248.5L1281.8,252.6L1281.9,256.6L1282.1,252.3L1282.2,253.4L1282.4,260.2L1282.6,263.4L1282.7,257.2L1282.9,249.6L1283.0,241.7L1283.2,231.5L1283.3,238.5L1283.5,244.6L1283.7,244.4L1283.8,239.8L1284.0,234.6L1284.1,218.4L1284.3,223.4L1284.5,221.2L1284.6,218.2L1284.8,217.5L1284.9,231.9L1285.1,223.9L1285.2,229.2L1285.4,244.3L1285.5,249.3L1285.7,223.9L1285.9,221.8L1286.0,236.9L1286.2,239.8L1286.3,233.6L1286.5,252.5L1286.7,259.3L1286.8,265.9L1287.0,253.6L1287.1,255.6L1287.3,261.8L1287.4,270.1L1287.6,282.1L1287.8,276.6L1287.9,275.6L1288.1,278.6L1288.2,275.6L1288.4,274.1L1288.5,269.5L1288.7,271.4L1288.9,267.5L1289.0,263.0L1289.2,265.6L1289.3,264.4L1289.5,261.7L1289.6,262.0L1289.8,256.2L1290.0,263.1L1290.1,258.7L1290.3,259.3L1290.4,268.5L1290.6,260.4L1290.8,251.9L1290.9,251.5L1291.1,254.6L1291.2,251.5L1291.4,253.0L1291.5,267.1L1291.7,275.9L1291.8,280.8L1292.0,277.6L1292.2,277.2L1292.3,285.1L1292.5,289.8L1292.6,297.2L1292.8,296.0L1293.0,286.5L1293.1,292.5L1293.3,293.2L1293.4,297.6L1293.6,301.8L1293.7,298.9L1293.9,301.2L1294.0,307.1L1294.2,308.3L1294.4,306.5L1294.5,301.1L1294.7,300.3L1294.8,310.7L1295.0,308.4L1295.2,299.7L1295.3,308.3L1295.5,309.5L1295.6,310.2L1295.8,305.7L1295.9,309.9L1296.1,302.0L1296.2,294.5L1296.4,299.1L1296.6,294.8L1296.7,294.3L1296.9,284.0L1297.0,277.1L1297.2,282.7L1297.4,285.1L1297.5,279.6L1297.7,276.1L1297.8,266.4L1298.0,270.4L1298.1,256.2L1298.3,261.6L1298.5,258.9L1298.6,257.6L1298.8,251.7L1298.9,247.9L1299.1,249.1L1299.2,247.3L1299.4,250.5L1299.6,247.1L1299.7,247.1L1299.9,257.1L1300.0,264.1L1300.2,254.8L1300.3,253.0L1300.5,262.1L1300.7,264.7L1300.8,264.6L1301.0,255.0L1301.1,250.1L1301.3,264.7L1301.5,263.6L1301.6,260.1L1301.8,260.5L1301.9,252.2L1302.1,248.1L1302.2,247.1L1302.4,254.4L1302.5,258.2L1302.7,257.9L1302.9,248.9L1303.0,252.7L1303.2,252.6L1303.3,257.3L1303.5,267.0L1303.7,257.3L1303.8,250.6L1304.0,242.5L1304.1,236.0L1304.3,235.8L1304.4,241.1L1304.6,244.0L1304.8,250.6L1304.9,242.9L1305.1,236.6L1305.2,236.4L1305.4,238.2L1305.5,232.4L1305.7,226.7L1305.9,225.3L1306.0,224.6L1306.2,225.7L1306.3,224.6L1306.5,228.6L1306.6,231.0L1306.8,225.3L1307.0,233.6L1307.1,230.1L1307.3,232.4L1307.4,236.9L1307.6,240.3L1307.8,239.5L1307.9,244.5L1308.1,243.9L1308.2,249.7L1308.4,240.2L1308.5,246.4L1308.7,242.8L1308.8,251.3L1309.0,251.6L1309.2,252.6L1309.3,264.9L1309.5,263.5L1309.6,264.9L1309.8,255.3L1310.0,263.0L1310.1,264.9L1310.3,264.9L1310.4,252.6L1310.6,249.5L1310.7,249.5L1310.9,249.5L1311.0,250.8L1311.2,253.9L1311.4,254.2L1311.5,260.0L1311.7,266.2L1311.8,272.6L1312.0,274.4L1312.2,274.3L1312.3,286.7L1312.5,286.1L1312.6,281.4L1312.8,278.8L1312.9,278.5L1313.1,284.8L1313.3,279.1L1313.4,266.5L1313.6,273.6L1313.7,269.2L1313.9,263.7L1314.0,261.7L1314.2,270.8L1314.4,271.5L1314.5,267.1L1314.7,252.8L1314.8,254.4L1315.0,261.6L1315.1,262.4L1315.3,258.2L1315.5,254.7L1315.6,244.4L1315.8,254.0L1315.9,258.8L1316.1,251.7L1316.2,250.5L1316.4,244.4L1316.6,244.4L1316.7,254.8L1316.9,251.3L1317.0,258.1L1317.2,249.5L1317.3,252.4L1317.5,246.5L1317.7,254.6L1317.8,255.4L1318.0,260.8L1318.1,264.4L1318.3,261.8L1318.5,265.7L1318.6,263.4L1318.8,262.6L1318.9,265.4L1319.1,267.1L1319.2,274.4L1319.4,267.2L1319.5,270.6L1319.7,273.4L1319.9,274.8L1320.0,281.6L1320.2,278.6L1320.3,287.0L1320.5,282.7L1320.7,285.0L1320.8,277.4L1321.0,277.3L1321.1,292.8L1321.3,295.9L1321.4,290.5L1321.6,287.0L1321.8,296.1L1321.9,303.2L1322.1,300.6L1322.2,303.2L1322.4,297.5L1322.5,291.4L1322.7,292.1L1322.9,286.7L1323.0,282.4L1323.2,283.8L1323.3,290.9L1323.5,289.4L1323.7,283.6L1323.8,282.8L1324.0,277.3L1324.1,277.8L1324.3,275.0L1324.4,272.5L1324.6,273.7L1324.8,280.6L1324.9,281.1L1325.1,280.0L1325.2,287.0L1325.4,287.4L1325.5,286.1L1325.7,280.8L1325.8,288.7L1326.0,289.6L1326.2,281.8L1326.3,280.1L1326.5,277.2L1326.6,286.7L1326.8,278.2L1327.0,278.2L1327.1,282.3L1327.3,280.7L1327.4,274.7L1327.6,271.5L1327.7,263.3L1327.9,261.0L1328.0,267.4L1328.2,266.7L1328.4,267.6L1328.5,263.0L1328.7,267.8L1328.8,265.5L1329.0,266.4L1329.2,264.4L1329.3,261.9L1329.5,251.2L1329.6,256.7L1329.8,260.8L1329.9,253.2L1330.1,252.5L1330.3,237.5L1330.4,244.4L1330.6,250.6L1330.7,258.6L1330.9,235.3L1331.0,232.4L1331.2,234.8L1331.4,230.0L1331.5,225.5L1331.7,224.9L1331.8,222.5L1332.0,232.5L1332.2,224.0L1332.3,236.6L1332.5,233.7L1332.6,223.4L1332.8,233.5L1332.9,228.7L1333.1,237.0L1333.2,228.2L1333.4,224.7L1333.6,231.7L1333.7,233.6L1333.9,232.8L1334.0,229.3L1334.2,230.8L1334.3,225.8L1334.5,226.5L1334.7,224.4L1334.8,217.5L1335.0,223.7L1335.1,216.7L1335.3,218.8L1335.5,224.2L1335.6,226.4L1335.8,220.5L1335.9,215.6L1336.1,223.9L1336.2,227.2L1336.4,226.2L1336.5,223.4L1336.7,225.9L1336.9,223.5L1337.0,234.9L1337.2,238.4L1337.3,233.4L1337.5,229.7L1337.7,237.8L1337.8,242.7L1338.0,242.7L1338.1,237.6L1338.3,240.7L1338.4,241.2L1338.6,241.8" stroke="#ef852d"/>
<path d="M221.1,644.4L221.3,644.5L221.4,644.6L221.6,645.1L221.7,645.1L221.9,645.4L222.0,645.2L222.2,644.4L222.4,645.6L222.5,645.7L222.7,645.4L222.8,645.2L223.0,645.3L223.2,646.6L223.3,646.6L223.5,646.4L223.6,646.5L223.8,647.0L223.9,647.1L224.1,647.4L224.2,648.1L224.4,648.5L224.6,648.7L224.7,648.2L224.9,648.5L225.0,648.4L225.2,649.4L225.3,649.4L225.5,649.4L225.7,649.3L225.8,650.0L226.0,650.1L226.1,650.5L226.3,650.7L226.4,650.6L226.6,650.9L226.8,651.5L226.9,651.0L227.1,651.5L227.2,651.3L227.4,651.2L227.6,651.0L227.7,651.1L227.9,651.2L228.0,650.5L228.2,650.9L228.3,650.5L228.5,650.7L228.7,650.6L228.8,649.7L229.0,649.4L229.1,649.7L229.3,649.8L229.4,648.9L229.6,649.0L229.8,648.5L229.9,649.0L230.1,648.7L230.2,647.7L230.4,648.3L230.5,647.6L230.7,647.8L230.9,647.2L231.0,647.4L231.2,647.5L231.3,647.0L231.5,646.5L231.7,646.1L231.8,646.0L232.0,646.5L232.1,645.5L232.3,646.4L232.4,646.3L232.6,645.8L232.8,645.4L232.9,645.0L233.1,645.2L233.2,645.5L233.4,645.1L233.5,644.9L233.7,645.1L233.8,644.8L234.0,645.0L234.2,644.6L234.3,644.1L234.5,644.9L234.6,645.0L234.8,645.4L234.9,645.0L235.1,644.7L235.3,644.9L235.4,644.6L235.6,645.1L235.7,645.0L235.9,645.2L236.1,644.5L236.2,645.6L236.4,644.8L236.5,645.3L236.7,646.2L236.8,646.2L237.0,646.2L237.2,646.5L237.3,645.2L237.5,645.7L237.6,646.0L237.8,646.4L237.9,645.6L238.1,646.1L238.3,646.3L238.4,646.1L238.6,645.9L238.7,646.4L238.9,645.9L239.1,645.9L239.2,646.3L239.4,645.8L239.5,646.5L239.7,645.6L239.8,645.6L240.0,645.6L240.2,645.2L240.3,645.5L240.5,645.6L240.6,646.1L240.8,645.2L240.9,645.6L241.1,645.0L241.2,646.0L241.4,645.2L241.6,645.5L241.7,645.1L241.9,645.1L242.0,645.7L242.2,645.0L242.3,644.7L242.5,644.2L242.7,644.3L242.8,644.5L243.0,645.1L243.1,643.8L243.3,644.4L243.4,643.6L243.6,643.7L243.8,644.7L243.9,644.7L244.1,643.8L244.2,643.8L244.4,643.4L244.6,643.2L244.7,643.8L244.9,643.4L245.0,643.4L245.2,643.3L245.3,643.2L245.5,643.0L245.7,643.5L245.8,643.7L246.0,642.5L246.1,642.7L246.3,643.6L246.4,643.7L246.6,641.7L246.8,642.1L246.9,642.8L247.1,642.7L247.2,643.2L247.4,642.3L247.6,642.2L247.7,641.7L247.9,642.5L248.0,642.0L248.2,642.1L248.3,642.3L248.5,642.4L248.7,643.2L248.8,642.2L249.0,642.8L249.1,642.2L249.3,642.9L249.4,642.8L249.6,643.9L249.8,643.1L249.9,642.9L250.1,643.5L250.2,643.7L250.4,643.7L250.5,642.6L250.7,642.8L250.8,643.6L251.0,644.4L251.2,644.1L251.3,643.4L251.5,644.1L251.6,644.7L251.8,644.4L251.9,643.9L252.1,643.9L252.3,644.8L252.4,644.0L252.6,645.1L252.7,644.9L252.9,645.7L253.1,645.4L253.2,644.3L253.4,644.0L253.5,644.7L253.7,645.3L253.8,645.5L254.0,645.5L254.2,645.2L254.3,644.5L254.5,644.9L254.6,646.1L254.8,645.8L254.9,644.5L255.1,644.6L255.3,644.1L255.4,644.5L255.6,644.8L255.7,644.4L255.9,644.5L256.1,645.5L256.2,644.3L256.4,644.5L256.5,643.7L256.7,643.3L256.8,644.0L257.0,643.8L257.1,644.4L257.3,643.8L257.5,644.3L257.6,644.0L257.8,644.2L257.9,643.0L258.1,643.7L258.2,643.5L258.4,643.2L258.6,642.4L258.7,643.4L258.9,643.5L259.0,642.9L259.2,642.4L259.4,642.5L259.5,642.3L259.7,641.4L259.8,640.2L260.0,641.5L260.1,641.5L260.3,641.4L260.4,642.7L260.6,642.4L260.8,641.3L260.9,640.1L261.1,641.1L261.2,641.7L261.4,641.2L261.6,640.4L261.7,640.5L261.9,640.3L262.0,640.9L262.2,640.5L262.3,639.7L262.5,639.9L262.7,640.2L262.8,640.2L263.0,640.3L263.1,639.5L263.3,640.1L263.4,640.4L263.6,640.6L263.8,641.4L263.9,640.6L264.1,639.6L264.2,640.1L264.4,640.4L264.6,639.5L264.7,640.7L264.9,640.7L265.0,640.4L265.2,640.0L265.3,641.1L265.5,641.6L265.6,641.1L265.8,640.5L266.0,640.6L266.1,640.9L266.3,640.0L266.4,640.6L266.6,641.0L266.8,642.2L266.9,641.6L267.1,641.5L267.2,641.1L267.4,640.6L267.5,641.0L267.7,641.6L267.9,641.2L268.0,642.2L268.2,641.2L268.3,640.6L268.5,640.3L268.6,640.9L268.8,641.7L268.9,642.0L269.1,640.8L269.3,640.6L269.4,640.2L269.6,640.4L269.7,641.1L269.9,641.4L270.1,640.9L270.2,640.4L270.4,640.5L270.5,640.1L270.7,639.3L270.8,640.1L271.0,640.4L271.2,640.4L271.3,639.4L271.5,640.5L271.6,639.9L271.8,638.7L271.9,639.2L272.1,639.7L272.3,639.6L272.4,639.4L272.6,640.2L272.7,639.5L272.9,638.3L273.1,637.8L273.2,638.0L273.4,639.3L273.5,638.0L273.7,639.1L273.8,639.1L274.0,638.5L274.1,639.4L274.3,638.6L274.5,638.4L274.6,638.3L274.8,638.3L274.9,637.2L275.1,637.2L275.2,638.3L275.4,639.0L275.6,639.4L275.7,637.5L275.9,636.7L276.0,637.4L276.2,638.5L276.4,637.7L276.5,638.4L276.7,638.2L276.8,638.1L277.0,636.9L277.1,637.6L277.3,637.0L277.5,637.5L277.6,637.3L277.8,637.4L277.9,635.4L278.1,635.4L278.2,635.3L278.4,635.9L278.6,635.6L278.7,636.6L278.9,636.6L279.0,636.3L279.2,634.0L279.3,634.1L279.5,635.5L279.7,635.6L279.8,636.1L280.0,636.1L280.1,634.1L280.3,633.8L280.4,634.6L280.6,635.8L280.8,635.8L280.9,635.5L281.1,636.1L281.2,635.6L281.4,636.7L281.6,636.0L281.7,635.0L281.9,635.0L282.0,635.8L282.2,635.5L282.3,634.7L282.5,636.1L282.6,635.3L282.8,636.0L283.0,636.9L283.1,635.3L283.3,635.5L283.4,635.1L283.6,634.8L283.8,635.6L283.9,636.4L284.1,636.1L284.2,635.5L284.4,636.0L284.5,634.6L284.7,634.0L284.9,635.2L285.0,636.0L285.2,635.9L285.3,634.3L285.5,636.1L285.6,635.6L285.8,635.3L286.0,633.7L286.1,635.0L286.3,634.9L286.4,636.3L286.6,634.9L286.7,634.9L286.9,634.1L287.1,634.3L287.2,633.9L287.4,635.8L287.5,635.1L287.7,634.6L287.8,635.0L288.0,634.1L288.2,633.9L288.3,634.6L288.5,635.3L288.6,635.0L288.8,634.5L288.9,633.6L289.1,634.0L289.3,634.6L289.4,634.4L289.6,635.1L289.7,635.0L289.9,633.4L290.1,634.2L290.2,634.5L290.4,634.7L290.5,635.2L290.7,634.9L290.8,634.8L291.0,633.6L291.1,634.6L291.3,634.4L291.5,634.2L291.6,634.6L291.8,634.3L291.9,634.7L292.1,633.5L292.2,633.7L292.4,634.5L292.6,634.3L292.7,634.9L292.9,633.3L293.0,634.1L293.2,634.0L293.4,633.9L293.5,633.1L293.7,634.6L293.8,634.8L294.0,634.7L294.1,632.6L294.3,633.5L294.5,634.1L294.6,634.1L294.8,634.3L294.9,633.6L295.1,634.0L295.2,634.3L295.4,633.2L295.6,634.0L295.7,632.6L295.9,633.2L296.0,634.0L296.2,634.8L296.4,633.6L296.5,633.4L296.7,633.2L296.8,633.2L297.0,633.5L297.1,633.2L297.3,631.0L297.4,632.3L297.6,632.6L297.8,633.7L297.9,634.0L298.1,632.4L298.2,630.6L298.4,631.2L298.6,631.6L298.7,632.1L298.9,630.2L299.0,632.4L299.2,631.0L299.3,631.1L299.5,629.7L299.6,630.5L299.8,629.9L300.0,631.1L300.1,631.7L300.3,630.2L300.4,629.5L300.6,628.5L300.8,628.3L300.9,630.0L301.1,630.6L301.2,628.8L301.4,628.9L301.5,626.6L301.7,628.5L301.9,629.2L302.0,628.4L302.2,627.6L302.3,625.0L302.5,625.4L302.6,626.8L302.8,625.6L303.0,626.5L303.1,625.3L303.3,625.4L303.4,626.5L303.6,625.8L303.7,623.9L303.9,623.1L304.1,624.4L304.2,623.2L304.4,624.6L304.5,624.6L304.7,624.4L304.9,623.6L305.0,622.1L305.2,623.6L305.3,624.0L305.5,622.5L305.6,622.9L305.8,623.5L305.9,624.9L306.1,624.4L306.3,623.1L306.4,622.4L306.6,622.6L306.7,623.0L306.9,623.8L307.1,622.5L307.2,623.1L307.4,621.2L307.5,624.0L307.7,622.5L307.8,622.5L308.0,622.5L308.1,621.7L308.3,621.5L308.5,623.9L308.6,622.9L308.8,621.7L308.9,622.2L309.1,620.3L309.2,621.6L309.4,622.5L309.6,620.6L309.7,619.5L309.9,620.0L310.0,622.5L310.2,621.1L310.4,619.6L310.5,619.5L310.7,619.0L310.8,620.7L311.0,619.1L311.1,618.9L311.3,619.6L311.5,618.4L311.6,619.4L311.8,619.2L311.9,620.6L312.1,618.3L312.2,618.9L312.4,619.4L312.6,617.4L312.7,614.6L312.9,615.2L313.0,614.8L313.2,617.6L313.4,617.5L313.5,617.5L313.7,615.6L313.8,615.6L314.0,612.9L314.1,614.7L314.3,615.2L314.4,613.6L314.6,613.1L314.8,612.0L314.9,612.3L315.1,612.7L315.2,610.6L315.4,611.6L315.6,613.6L315.7,611.4L315.9,611.2L316.0,607.2L316.2,610.9L316.3,609.4L316.5,607.7L316.6,609.0L316.8,609.8L317.0,609.1L317.1,607.6L317.3,607.0L317.4,606.9L317.6,607.3L317.8,604.8L317.9,608.0L318.1,609.0L318.2,608.9L318.4,607.2L318.5,604.8L318.7,606.5L318.9,606.8L319.0,608.7L319.2,607.2L319.3,609.8L319.5,610.1L319.6,611.9L319.8,610.4L320.0,612.7L320.1,612.1L320.3,613.9L320.4,610.0L320.6,610.3L320.7,608.9L320.9,610.9L321.1,610.4L321.2,610.3L321.4,610.3L321.5,609.2L321.7,609.2L321.9,612.1L322.0,611.5L322.2,613.3L322.3,615.4L322.5,614.4L322.6,614.4L322.8,614.5L322.9,617.1L323.1,616.3L323.3,616.9L323.4,614.8L323.6,617.3L323.7,619.1L323.9,618.4L324.1,619.5L324.2,618.7L324.4,617.6L324.5,617.7L324.7,617.3L324.8,617.8L325.0,615.3L325.1,616.6L325.3,617.3L325.5,617.7L325.6,614.0L325.8,612.5L325.9,614.6L326.1,613.7L326.2,611.6L326.4,613.2L326.6,612.3L326.7,613.5L326.9,611.3L327.0,611.1L327.2,611.9L327.4,613.1L327.5,611.3L327.7,610.6L327.8,610.9L328.0,609.7L328.1,607.6L328.3,609.2L328.5,609.8L328.6,609.5L328.8,610.2L328.9,610.6L329.1,608.1L329.2,608.6L329.4,610.1L329.6,610.5L329.7,610.7L329.9,611.0L330.0,611.8L330.2,616.0L330.4,618.4L330.5,616.6L330.7,618.3L330.8,620.8L331.0,621.6L331.1,621.1L331.3,623.8L331.4,626.7L331.6,627.5L331.8,627.8L331.9,628.8L332.1,629.6L332.2,628.2L332.4,625.1L332.6,624.4L332.7,621.3L332.9,624.4L333.0,624.1L333.2,623.9L333.3,621.1L333.5,620.8L333.6,622.3L333.8,623.2L334.0,622.7L334.1,623.1L334.3,621.4L334.4,620.3L334.6,620.7L334.8,623.9L334.9,622.9L335.1,622.5L335.2,620.6L335.4,619.6L335.5,619.7L335.7,619.6L335.9,621.1L336.0,620.7L336.2,621.0L336.3,619.1L336.5,621.9L336.6,620.0L336.8,620.7L337.0,619.8L337.1,620.3L337.3,619.2L337.4,619.5L337.6,620.4L337.8,620.2L337.9,622.3L338.1,622.7L338.2,622.7L338.4,620.1L338.5,619.8L338.7,620.7L338.9,622.7L339.0,620.0L339.2,620.3L339.3,620.6L339.5,622.3L339.6,621.6L339.8,620.2L339.9,620.3L340.1,621.8L340.3,622.5L340.4,619.2L340.6,620.1L340.7,620.4L340.9,620.3L341.1,618.6L341.2,620.5L341.4,620.0L341.5,619.1L341.7,619.7L341.8,618.1L342.0,617.9L342.1,618.1L342.3,617.4L342.5,617.6L342.6,616.9L342.8,617.2L342.9,617.5L343.1,618.0L343.3,618.7L343.4,616.8L343.6,614.2L343.7,616.7L343.9,614.3L344.0,615.7L344.2,614.2L344.4,613.0L344.5,614.4L344.7,615.7L344.8,614.6L345.0,615.2L345.1,614.8L345.3,614.6L345.5,612.7L345.6,611.5L345.8,612.5L345.9,612.3L346.1,612.3L346.2,613.1L346.4,613.9L346.6,611.2L346.7,610.6L346.9,613.8L347.0,613.2L347.2,613.2L347.4,610.5L347.5,612.4L347.7,611.5L347.8,611.7L348.0,610.5L348.1,611.6L348.3,610.5L348.4,610.5L348.6,612.2L348.8,611.7L348.9,613.2L349.1,612.5L349.2,614.8L349.4,611.0L349.6,611.4L349.7,612.1L349.9,615.6L350.0,614.8L350.2,614.4L350.3,615.0L350.5,614.6L350.6,615.7L350.8,615.1L351.0,618.2L351.1,616.8L351.3,617.2L351.4,613.5L351.6,616.1L351.8,616.1L351.9,618.7L352.1,616.3L352.2,617.2L352.4,617.2L352.5,617.1L352.7,617.9L352.9,619.3L353.0,617.4L353.2,619.4L353.3,620.8L353.5,620.5L353.6,619.8L353.8,620.1L354.0,621.5L354.1,622.1L354.3,622.3L354.4,620.5L354.6,620.9L354.8,621.4L354.9,620.4L355.1,620.2L355.2,621.5L355.4,622.6L355.5,621.9L355.7,620.4L355.9,619.6L356.0,621.1L356.2,619.2L356.3,621.7L356.5,620.9L356.6,617.3L356.8,617.9L356.9,618.3L357.1,619.2L357.3,618.3L357.4,617.3L357.6,616.3L357.7,618.7L357.9,618.6L358.1,618.7L358.2,617.9L358.4,616.6L358.5,616.2L358.7,615.6L358.8,618.5L359.0,617.5L359.1,616.0L359.3,615.8L359.5,617.4L359.6,617.3L359.8,615.6L359.9,618.0L360.1,618.7L360.3,619.8L360.4,620.9L360.6,621.9L360.7,622.3L360.9,624.2L361.0,625.2L361.2,625.1L361.4,627.4L361.5,626.7L361.7,627.3L361.8,628.8L362.0,630.1L362.1,629.5L362.3,631.4L362.5,632.3L362.6,634.1L362.8,634.4L362.9,632.8L363.1,633.3L363.2,634.6L363.4,635.6L363.6,636.5L363.7,636.0L363.9,636.7L364.0,637.2L364.2,638.1L364.4,638.3L364.5,636.5L364.7,637.7L364.8,637.7L365.0,636.4L365.1,635.7L365.3,635.3L365.4,634.4L365.6,635.0L365.8,636.2L365.9,634.7L366.1,634.6L366.2,634.1L366.4,633.6L366.6,632.3L366.7,633.6L366.9,633.6L367.0,634.1L367.2,633.1L367.3,634.2L367.5,633.2L367.6,634.3L367.8,635.2L368.0,633.7L368.1,633.5L368.3,634.2L368.4,635.0L368.6,633.6L368.8,632.0L368.9,632.2L369.1,632.1L369.2,631.2L369.4,630.6L369.5,630.8L369.7,630.4L369.9,631.0L370.0,630.1L370.2,629.7L370.3,628.2L370.5,629.4L370.6,629.1L370.8,627.9L371.0,627.4L371.1,628.4L371.3,626.2L371.4,626.9L371.6,624.8L371.8,626.5L371.9,626.4L372.1,627.0L372.2,625.7L372.4,624.1L372.5,625.4L372.7,627.9L372.9,627.3L373.0,625.6L373.2,626.5L373.3,627.9L373.5,627.3L373.6,628.3L373.8,628.6L373.9,627.9L374.1,630.6L374.3,629.9L374.4,631.3L374.6,631.2L374.7,631.5L374.9,632.1L375.1,631.6L375.2,631.9L375.4,632.9L375.5,634.2L375.7,633.7L375.8,633.9L376.0,632.9L376.2,634.1L376.3,634.3L376.5,634.8L376.6,635.5L376.8,635.6L376.9,635.8L377.1,637.4L377.3,639.0L377.4,639.6L377.6,639.9L377.7,639.0L377.9,636.1L378.0,634.8L378.2,632.9L378.4,632.1L378.5,630.0L378.7,629.8L378.8,629.9L379.0,628.5L379.1,627.4L379.3,625.1L379.5,624.8L379.6,625.3L379.8,626.0L379.9,625.8L380.1,624.9L380.2,625.1L380.4,624.6L380.6,626.6L380.7,624.2L380.9,626.9L381.0,625.5L381.2,625.0L381.4,625.9L381.5,625.0L381.7,624.0L381.8,623.9L382.0,624.8L382.1,624.5L382.3,626.0L382.4,626.4L382.6,623.1L382.8,623.1L382.9,621.7L383.1,621.9L383.2,621.0L383.4,621.6L383.6,622.1L383.7,620.4L383.9,618.9L384.0,617.7L384.2,617.5L384.3,619.2L384.5,618.2L384.7,618.7L384.8,615.6L385.0,617.1L385.1,614.5L385.3,616.7L385.4,617.1L385.6,615.1L385.8,616.0L385.9,616.5L386.1,614.0L386.2,618.1L386.4,618.0L386.5,614.1L386.7,613.1L386.9,615.2L387.0,615.7L387.2,616.0L387.3,613.5L387.5,614.9L387.6,616.3L387.8,615.0L388.0,614.0L388.1,612.1L388.3,613.8L388.4,614.4L388.6,612.7L388.8,615.9L388.9,614.0L389.1,615.5L389.2,614.4L389.4,612.4L389.5,611.3L389.7,612.3L389.9,612.2L390.0,610.7L390.2,610.2L390.3,611.9L390.5,613.0L390.6,613.7L390.8,610.9L390.9,613.1L391.1,616.2L391.3,615.8L391.4,617.2L391.6,616.4L391.7,615.8L391.9,616.0L392.1,614.0L392.2,616.6L392.4,616.3L392.5,616.5L392.7,614.6L392.8,613.6L393.0,614.7L393.2,615.2L393.3,613.9L393.5,615.9L393.6,616.5L393.8,614.0L393.9,612.3L394.1,614.1L394.3,615.2L394.4,612.8L394.6,612.3L394.7,612.3L394.9,612.9L395.1,613.8L395.2,613.2L395.4,614.0L395.5,612.3L395.7,612.6L395.8,612.5L396.0,614.7L396.1,614.6L396.3,615.1L396.5,616.9L396.6,614.1L396.8,613.7L396.9,614.1L397.1,614.4L397.2,614.0L397.4,615.2L397.6,615.4L397.7,613.9L397.9,616.6L398.0,614.9L398.2,615.4L398.4,616.7L398.5,617.4L398.7,618.5L398.8,617.8L399.0,620.1L399.1,617.3L399.3,617.0L399.4,620.2L399.6,620.2L399.8,621.7L399.9,621.3L400.1,619.2L400.2,618.0L400.4,620.9L400.6,621.7L400.7,619.7L400.9,619.4L401.0,619.8L401.2,621.4L401.3,617.3L401.5,617.7L401.7,616.9L401.8,617.0L402.0,616.0L402.1,616.0L402.3,617.3L402.4,617.2L402.6,617.6L402.8,616.8L402.9,617.4L403.1,614.4L403.2,616.1L403.4,615.3L403.6,617.0L403.7,616.2L403.9,614.3L404.0,614.5L404.2,614.9L404.3,615.8L404.5,616.5L404.6,614.4L404.8,614.2L405.0,616.4L405.1,615.9L405.3,614.8L405.4,614.1L405.6,615.3L405.8,615.3L405.9,616.0L406.1,616.6L406.2,614.4L406.4,615.9L406.5,616.4L406.7,616.5L406.9,614.9L407.0,615.6L407.2,614.7L407.3,613.7L407.5,613.5L407.6,615.7L407.8,615.0L407.9,615.9L408.1,615.1L408.3,613.3L408.4,612.2L408.6,609.9L408.7,613.0L408.9,613.6L409.1,610.7L409.2,609.2L409.4,609.3L409.5,610.2L409.7,609.2L409.8,607.1L410.0,610.0L410.2,607.9L410.3,607.8L410.5,607.2L410.6,609.3L410.8,609.0L410.9,608.7L411.1,606.8L411.3,606.1L411.4,602.7L411.6,605.1L411.7,605.8L411.9,605.8L412.1,605.0L412.2,605.0L412.4,600.0L412.5,599.4L412.7,600.2L412.8,602.6L413.0,603.6L413.1,603.8L413.3,598.0L413.5,599.6L413.6,600.4L413.8,599.6L413.9,595.4L414.1,595.0L414.2,596.6L414.4,597.2L414.6,596.6L414.7,596.5L414.9,594.9L415.0,595.0L415.2,592.1L415.4,590.2L415.5,589.7L415.7,591.8L415.8,592.5L416.0,591.3L416.1,590.6L416.3,591.9L416.4,591.0L416.6,593.9L416.8,592.2L416.9,592.8L417.1,592.4L417.2,591.3L417.4,589.8L417.6,589.3L417.7,592.2L417.9,592.0L418.0,590.9L418.2,591.7L418.3,591.1L418.5,588.6L418.7,589.5L418.8,591.2L419.0,587.4L419.1,586.5L419.3,589.3L419.4,588.8L419.6,586.7L419.8,588.4L419.9,586.6L420.1,589.2L420.2,588.4L420.4,588.8L420.6,587.1L420.7,588.4L420.9,588.6L421.0,589.2L421.2,585.8L421.3,588.0L421.5,585.5L421.6,585.9L421.8,589.0L422.0,588.2L422.1,587.9L422.3,584.9L422.4,585.5L422.6,587.8L422.8,587.5L422.9,587.4L423.1,588.5L423.2,585.4L423.4,586.7L423.5,584.1L423.7,584.1L423.9,584.1L424.0,584.9L424.2,587.5L424.3,589.1L424.5,586.0L424.6,587.9L424.8,587.4L424.9,589.3L425.1,586.9L425.3,585.2L425.4,587.6L425.6,590.7L425.7,591.6L425.9,592.4L426.1,593.6L426.2,595.9L426.4,591.7L426.5,596.6L426.7,596.6L426.8,600.8L427.0,599.5L427.2,598.0L427.3,600.6L427.5,596.8L427.6,600.4L427.8,599.5L427.9,600.5L428.1,597.1L428.3,597.5L428.4,600.7L428.6,602.4L428.7,602.4L428.9,598.8L429.1,600.5L429.2,600.1L429.4,605.1L429.5,603.5L429.7,601.7L429.8,600.5L430.0,604.6L430.1,605.6L430.3,605.6L430.5,602.8L430.6,600.5L430.8,599.5L430.9,599.9L431.1,601.1L431.2,600.2L431.4,601.1L431.6,600.5L431.7,600.0L431.9,598.9L432.0,597.4L432.2,596.1L432.4,595.1L432.5,596.5L432.7,595.2L432.8,594.4L433.0,594.0L433.1,594.7L433.3,592.5L433.4,594.8L433.6,593.7L433.8,595.5L433.9,594.5L434.1,592.9L434.2,590.5L434.4,590.6L434.6,593.3L434.7,593.2L434.9,593.1L435.0,592.3L435.2,590.2L435.3,590.2L435.5,590.9L435.7,593.3L435.8,592.8L436.0,590.6L436.1,593.3L436.3,593.5L436.4,593.3L436.6,591.1L436.8,592.2L436.9,592.4L437.1,590.2L437.2,592.0L437.4,593.6L437.6,590.8L437.7,590.6L437.9,593.9L438.0,593.9L438.2,592.8L438.3,589.2L438.5,593.5L438.6,589.9L438.8,592.4L439.0,590.9L439.1,589.9L439.3,589.0L439.4,589.5L439.6,590.8L439.8,589.7L439.9,590.3L440.1,592.3L440.2,590.7L440.4,589.9L440.5,588.6L440.7,590.8L440.9,590.1L441.0,589.8L441.2,588.6L441.3,588.6L441.5,589.4L441.6,589.0L441.8,591.8L442.0,593.9L442.1,593.6L442.3,592.9L442.4,592.9L442.6,595.6L442.7,592.1L442.9,591.6L443.1,592.2L443.2,592.2L443.4,593.9L443.5,594.6L443.7,594.5L443.8,594.2L444.0,595.1L444.2,598.9L444.3,596.6L444.5,594.3L444.6,595.1L444.8,594.2L444.9,596.3L445.1,598.9L445.3,601.3L445.4,599.6L445.6,594.7L445.7,595.5L445.9,599.9L446.1,599.8L446.2,600.6L446.4,600.1L446.5,601.5L446.7,602.0L446.8,599.5L447.0,601.2L447.1,603.4L447.3,604.8L447.5,603.7L447.6,603.9L447.8,602.8L447.9,603.8L448.1,603.5L448.2,601.0L448.4,602.1L448.6,603.5L448.7,604.6L448.9,603.5L449.0,602.0L449.2,602.0L449.4,602.9L449.5,602.4L449.7,603.0L449.8,601.4L450.0,603.8L450.1,606.7L450.3,603.3L450.5,603.5L450.6,604.2L450.8,603.5L450.9,606.0L451.1,604.5L451.2,606.6L451.4,606.0L451.6,606.1L451.7,605.1L451.9,602.6L452.0,602.6L452.2,598.6L452.3,599.2L452.5,598.1L452.7,601.1L452.8,602.1L453.0,600.3L453.1,600.0L453.3,596.1L453.4,596.4L453.6,598.1L453.8,597.9L453.9,597.8L454.1,598.7L454.2,594.8L454.4,594.7L454.6,594.8L454.7,594.1L454.9,597.2L455.0,595.9L455.2,595.9L455.3,590.6L455.5,588.7L455.6,589.1L455.8,588.9L456.0,590.3L456.1,590.1L456.3,591.8L456.4,590.7L456.6,591.4L456.8,587.7L456.9,590.0L457.1,589.1L457.2,593.1L457.4,591.2L457.5,590.6L457.7,589.7L457.9,591.9L458.0,589.5L458.2,594.6L458.3,592.4L458.5,589.8L458.6,594.4L458.8,593.0L459.0,592.3L459.1,590.9L459.3,593.1L459.4,590.1L459.6,592.1L459.7,593.2L459.9,594.9L460.1,594.2L460.2,596.4L460.4,595.8L460.5,596.0L460.7,596.7L460.9,599.6L461.0,597.7L461.2,597.1L461.3,596.0L461.5,596.5L461.6,597.5L461.8,598.4L461.9,598.5L462.1,601.7L462.3,601.0L462.4,598.0L462.6,602.5L462.7,602.1L462.9,601.2L463.1,600.5L463.2,601.5L463.4,604.8L463.5,603.2L463.7,602.0L463.8,602.3L464.0,602.9L464.1,603.9L464.3,604.8L464.5,603.6L464.6,603.8L464.8,603.3L464.9,603.9L465.1,603.2L465.2,601.9L465.4,604.8L465.6,604.5L465.7,604.8L465.9,603.9L466.0,600.5L466.2,603.0L466.4,604.8L466.5,601.7L466.7,602.6L466.8,600.1L467.0,600.2L467.1,601.5L467.3,602.5L467.5,601.1L467.6,599.7L467.8,601.2L467.9,601.6L468.1,601.8L468.2,602.5L468.4,599.2L468.6,598.9L468.7,601.1L468.9,602.5L469.0,601.8L469.2,598.6L469.4,598.5L469.5,600.0L469.7,598.4L469.8,600.3L470.0,601.9L470.1,601.7L470.3,601.6L470.4,601.2L470.6,598.5L470.8,600.0L470.9,600.5L471.1,598.5L471.2,597.7L471.4,598.5L471.6,600.0L471.7,600.3L471.9,598.9L472.0,599.1L472.2,599.5L472.3,601.0L472.5,600.4L472.6,602.0L472.8,600.4L473.0,601.7L473.1,602.9L473.3,602.2L473.4,600.6L473.6,603.0L473.8,602.7L473.9,604.2L474.1,604.8L474.2,601.7L474.4,604.4L474.5,603.7L474.7,604.2L474.9,603.9L475.0,605.4L475.2,604.2L475.3,601.7L475.5,603.5L475.6,603.6L475.8,604.7L476.0,604.7L476.1,604.7L476.3,604.8L476.4,604.5L476.6,604.3L476.7,604.3L476.9,603.3L477.1,605.1L477.2,605.0L477.4,603.8L477.5,603.1L477.7,604.9L477.9,604.6L478.0,605.8L478.2,604.4L478.3,604.6L478.5,603.1L478.6,606.0L478.8,603.8L478.9,604.7L479.1,606.8L479.3,607.4L479.4,607.7L479.6,611.0L479.7,606.1L479.9,608.0L480.1,608.9L480.2,609.9L480.4,612.0L480.5,610.7L480.7,612.0L480.8,610.6L481.0,610.9L481.1,609.0L481.3,612.5L481.5,612.7L481.6,616.3L481.8,617.6L481.9,617.6L482.1,616.9L482.2,619.8L482.4,618.2L482.6,619.0L482.7,617.9L482.9,620.3L483.0,619.1L483.2,618.3L483.4,619.3L483.5,620.5L483.7,619.6L483.8,618.2L484.0,617.9L484.1,619.0L484.3,619.4L484.5,618.4L484.6,616.7L484.8,618.7L484.9,617.2L485.1,616.2L485.2,614.5L485.4,614.0L485.6,615.2L485.7,615.6L485.9,615.3L486.0,615.2L486.2,615.6L486.4,614.2L486.5,612.9L486.7,614.2L486.8,612.9L487.0,612.9L487.1,612.4L487.3,610.5L487.4,610.5L487.6,612.1L487.8,612.8L487.9,611.2L488.1,608.8L488.2,607.3L488.4,608.5L488.6,610.7L488.7,609.4L488.9,608.1L489.0,609.8L489.2,608.1L489.3,608.0L489.5,609.1L489.6,606.8L489.8,606.8L490.0,607.5L490.1,606.8L490.3,607.5L490.4,606.6L490.6,606.1L490.8,606.7L490.9,604.4L491.1,604.5L491.2,604.8L491.4,605.4L491.5,606.3L491.7,605.7L491.9,607.7L492.0,605.8L492.2,604.5L492.3,603.4L492.5,605.9L492.6,606.6L492.8,604.6L493.0,603.6L493.1,603.1L493.3,606.6L493.4,604.2L493.6,604.3L493.8,603.4L493.9,606.8L494.1,607.1L494.2,605.3L494.4,604.9L494.5,607.0L494.7,608.3L494.9,605.7L495.0,605.9L495.2,607.1L495.3,607.5L495.5,610.2L495.6,607.0L495.8,605.8L495.9,606.7L496.1,610.4L496.3,609.7L496.4,608.0L496.6,608.0L496.7,607.9L496.9,608.4L497.1,607.9L497.2,610.2L497.4,610.4L497.5,609.1L497.7,610.3L497.8,606.1L498.0,607.9L498.1,609.8L498.3,608.5L498.5,604.3L498.6,605.4L498.8,607.0L498.9,606.4L499.1,604.9L499.3,603.9L499.4,605.3L499.6,603.2L499.7,603.8L499.9,605.1L500.0,606.0L500.2,605.2L500.4,604.7L500.5,603.7L500.7,602.2L500.8,602.2L501.0,605.1L501.1,604.9L501.3,603.3L501.5,604.4L501.6,602.4L501.8,604.1L501.9,605.1L502.1,602.7L502.2,604.7L502.4,607.2L502.6,604.2L502.7,604.6L502.9,604.1L503.0,605.3L503.2,605.9L503.4,607.0L503.5,605.8L503.7,604.5L503.8,606.3L504.0,604.9L504.1,606.5L504.3,607.9L504.4,606.7L504.6,606.9L504.8,606.8L504.9,606.4L505.1,607.5L505.2,607.0L505.4,609.4L505.6,607.7L505.7,608.8L505.9,608.3L506.0,609.9L506.2,608.6L506.3,609.4L506.5,610.9L506.6,610.0L506.8,610.5L507.0,611.5L507.1,608.5L507.3,608.5L507.4,611.1L507.6,610.0L507.8,611.5L507.9,610.7L508.1,609.5L508.2,610.1L508.4,611.0L508.5,609.9L508.7,609.3L508.9,610.0L509.0,608.8L509.2,610.9L509.3,609.2L509.5,611.2L509.6,608.9L509.8,608.6L510.0,610.5L510.1,609.9L510.3,609.6L510.4,610.8L510.6,612.4L510.8,612.9L510.9,613.2L511.1,613.2L511.2,614.1L511.4,616.4L511.5,614.8L511.7,613.3L511.9,615.1L512.0,617.9L512.2,617.3L512.3,617.3L512.5,616.6L512.6,617.1L512.8,617.5L513.0,617.0L513.1,618.3L513.3,617.7L513.4,618.6L513.6,617.7L513.7,617.8L513.9,618.3L514.0,620.5L514.2,618.6L514.4,619.2L514.5,618.8L514.7,619.2L514.8,619.9L515.0,619.8L515.1,618.1L515.3,620.8L515.5,622.2L515.6,622.0L515.8,620.9L515.9,621.8L516.1,621.2L516.3,622.3L516.4,621.8L516.6,621.2L516.7,620.3L516.9,621.5L517.0,620.0L517.2,620.8L517.4,620.3L517.5,620.6L517.7,620.5L517.8,622.6L518.0,621.3L518.1,620.8L518.3,621.2L518.5,622.4L518.6,621.6L518.8,621.0L518.9,620.4L519.1,619.6L519.2,620.7L519.4,620.2L519.6,619.8L519.7,621.0L519.9,621.7L520.0,621.7L520.2,620.2L520.4,620.8L520.5,621.0L520.7,621.4L520.8,620.7L521.0,621.3L521.1,621.6L521.3,622.5L521.5,623.0L521.6,624.4L521.8,624.1L521.9,622.6L522.1,622.1L522.2,623.2L522.4,623.8L522.5,623.1L522.7,623.7L522.9,625.2L523.0,625.5L523.2,625.9L523.3,624.6L523.5,625.1L523.6,624.6L523.8,625.9L524.0,625.8L524.1,627.2L524.3,625.4L524.4,625.1L524.6,625.0L524.8,623.3L524.9,621.5L525.1,621.9L525.2,621.5L525.4,622.1L525.5,622.0L525.7,620.6L525.9,621.6L526.0,621.1L526.2,621.3L526.3,622.2L526.5,621.6L526.6,618.6L526.8,621.0L527.0,620.2L527.1,620.2L527.3,619.3L527.4,620.0L527.6,619.4L527.8,620.5L527.9,620.1L528.1,619.3L528.2,618.9L528.4,618.5L528.5,618.5L528.7,620.1L528.9,619.3L529.0,619.5L529.2,619.8L529.3,617.5L529.5,617.2L529.6,618.5L529.8,620.2L530.0,617.8L530.1,616.1L530.3,614.4L530.4,617.4L530.6,617.2L530.7,615.5L530.9,616.0L531.0,616.6L531.2,615.9L531.4,616.1L531.5,615.6L531.7,615.0L531.8,615.6L532.0,615.0L532.2,613.3L532.3,613.8L532.5,614.5L532.6,613.3L532.8,612.4L532.9,611.6L533.1,612.0L533.3,612.8L533.4,612.4L533.6,613.1L533.7,612.1L533.9,611.7L534.0,612.7L534.2,613.5L534.4,615.1L534.5,614.7L534.7,615.9L534.8,613.9L535.0,614.1L535.1,615.7L535.3,616.5L535.5,616.2L535.6,617.7L535.8,617.7L535.9,618.0L536.1,617.8L536.2,617.8L536.4,619.2L536.6,617.8L536.7,618.1L536.9,618.9L537.0,619.4L537.2,619.1L537.4,619.1L537.5,619.8L537.7,620.1L537.8,619.7L538.0,620.0L538.1,620.0L538.3,620.6L538.5,619.8L538.6,619.0L538.8,618.0L538.9,619.5L539.1,620.3L539.2,619.1L539.4,618.0L539.5,618.0L539.7,616.0L539.9,617.6L540.0,616.6L540.2,617.1L540.3,616.0L540.5,616.9L540.7,615.8L540.8,614.9L541.0,614.5L541.1,614.8L541.3,614.2L541.4,613.8L541.6,614.7L541.8,614.4L541.9,613.7L542.1,614.3L542.2,612.0L542.4,611.5L542.5,611.2L542.7,611.5L542.9,612.0L543.0,611.6L543.2,611.9L543.3,611.4L543.5,612.4L543.6,611.2L543.8,610.0L544.0,610.0L544.1,609.6L544.3,610.8L544.4,609.2L544.6,609.7L544.8,607.9L544.9,609.2L545.1,608.1L545.2,609.5L545.4,609.9L545.5,609.2L545.7,607.3L545.9,606.8L546.0,607.2L546.2,607.3L546.3,606.9L546.5,607.5L546.6,606.6L546.8,607.3L547.0,606.6L547.1,605.6L547.3,606.5L547.4,606.5L547.6,607.8L547.7,605.7L547.9,606.9L548.0,605.5L548.2,604.9L548.4,604.8L548.5,606.7L548.7,605.9L548.8,603.6L549.0,604.4L549.2,606.1L549.3,605.6L549.5,606.2L549.6,604.4L549.8,605.2L549.9,605.1L550.1,606.6L550.3,604.5L550.4,605.8L550.6,607.1L550.7,607.2L550.9,607.0L551.0,604.8L551.2,606.3L551.4,606.6L551.5,607.6L551.7,605.6L551.8,606.3L552.0,605.6L552.1,605.7L552.3,606.1L552.5,605.8L552.6,606.6L552.8,606.9L552.9,605.7L553.1,607.9L553.2,606.9L553.4,605.3L553.6,605.5L553.7,606.5L553.9,606.9L554.0,607.4L554.2,606.4L554.4,606.1L554.5,605.8L554.7,606.3L554.8,606.5L555.0,607.2L555.1,606.1L555.3,607.5L555.5,606.9L555.6,605.8L555.8,605.4L555.9,607.8L556.1,608.3L556.2,608.4L556.4,606.5L556.5,603.4L556.7,603.7L556.9,603.1L557.0,603.5L557.2,603.2L557.3,601.2L557.5,599.8L557.7,601.5L557.8,598.7L558.0,600.2L558.1,599.5L558.3,597.0L558.4,597.6L558.6,597.6L558.8,596.8L558.9,597.0L559.1,596.5L559.2,593.3L559.4,595.0L559.5,595.6L559.7,595.1L559.9,594.1L560.0,593.8L560.2,594.8L560.3,594.0L560.5,593.9L560.6,594.7L560.8,592.0L561.0,595.4L561.1,593.7L561.3,592.9L561.4,593.3L561.6,594.1L561.8,595.8L561.9,594.4L562.1,593.2L562.2,592.2L562.4,592.9L562.5,589.8L562.7,589.8L562.9,589.1L563.0,588.4L563.2,588.3L563.3,589.9L563.5,589.5L563.6,587.6L563.8,586.8L564.0,588.5L564.1,587.9L564.3,588.9L564.4,588.7L564.6,584.4L564.7,584.0L564.9,584.0L565.1,585.4L565.2,585.0L565.4,587.2L565.5,586.1L565.7,585.6L565.8,585.4L566.0,586.4L566.2,585.4L566.3,583.2L566.5,584.0L566.6,584.4L566.8,584.2L566.9,582.8L567.1,580.5L567.3,580.8L567.4,581.4L567.6,583.1L567.7,578.6L567.9,578.6L568.0,579.1L568.2,576.7L568.4,576.8L568.5,577.4L568.7,578.6L568.8,576.8L569.0,576.4L569.1,572.4L569.3,575.1L569.5,573.5L569.6,572.5L569.8,573.4L569.9,573.3L570.1,570.3L570.2,571.5L570.4,569.5L570.6,571.1L570.7,572.5L570.9,572.1L571.0,566.8L571.2,564.2L571.4,562.8L571.5,564.4L571.7,564.7L571.8,564.5L572.0,569.5L572.1,567.9L572.3,568.0L572.5,567.5L572.6,568.2L572.8,566.3L572.9,565.4L573.1,564.1L573.2,564.7L573.4,560.8L573.6,562.0L573.7,564.0L573.9,565.0L574.0,564.9L574.2,560.8L574.3,560.9L574.5,563.3L574.7,564.4L574.8,564.2L575.0,565.4L575.1,565.6L575.3,564.9L575.4,564.7L575.6,567.0L575.8,567.9L575.9,563.9L576.1,567.5L576.2,567.9L576.4,566.3L576.5,566.4L576.7,566.2L576.9,565.0L577.0,566.9L577.2,569.0L577.3,569.2L577.5,569.2L577.6,565.7L577.8,566.3L578.0,565.8L578.1,568.7L578.3,567.6L578.4,567.5L578.6,567.2L578.8,569.1L578.9,567.6L579.1,568.3L579.2,567.7L579.4,569.1L579.5,568.5L579.7,566.2L579.9,566.9L580.0,568.0L580.2,566.7L580.3,566.6L580.5,567.8L580.6,569.1L580.8,568.0L581.0,568.4L581.1,565.9L581.3,567.4L581.4,568.2L581.6,567.5L581.7,566.7L581.9,568.4L582.1,567.5L582.2,568.3L582.4,570.0L582.5,570.4L582.7,569.4L582.8,568.9L583.0,571.2L583.2,571.9L583.3,572.2L583.5,570.1L583.6,571.3L583.8,572.0L584.0,574.4L584.1,574.3L584.3,574.0L584.4,582.5L584.6,580.9L584.7,579.3L584.9,582.1L585.0,580.7L585.2,582.4L585.4,589.7L585.5,587.7L585.7,586.5L585.8,586.2L586.0,585.9L586.1,585.3L586.3,585.0L586.5,585.4L586.6,585.1L586.8,583.6L586.9,581.8L587.1,581.1L587.2,581.6L587.4,582.0L587.6,581.7L587.7,580.2L587.9,578.5L588.0,578.7L588.2,580.0L588.4,580.3L588.5,578.0L588.7,578.3L588.8,578.6L589.0,578.0L589.1,578.0L589.3,576.8L589.5,579.3L589.6,576.2L589.8,574.1L589.9,573.3L590.1,574.2L590.2,575.8L590.4,576.7L590.6,576.1L590.7,572.8L590.9,572.6L591.0,571.8L591.2,575.0L591.3,573.3L591.5,576.4L591.7,574.3L591.8,574.2L592.0,569.5L592.1,569.4L592.3,569.2L592.5,569.2L592.6,573.0L592.8,573.2L592.9,572.1L593.1,570.8L593.2,572.6L593.4,570.9L593.5,572.2L593.7,570.7L593.9,567.8L594.0,571.2L594.2,571.9L594.3,572.5L594.5,570.7L594.6,567.2L594.8,566.9L595.0,569.0L595.1,567.9L595.3,569.7L595.4,568.9L595.6,569.9L595.8,568.1L595.9,568.2L596.1,566.5L596.2,566.9L596.4,567.8L596.5,568.0L596.7,569.2L596.9,566.8L597.0,566.1L597.2,568.3L597.3,568.6L597.5,568.2L597.6,568.9L597.8,568.7L598.0,568.1L598.1,566.0L598.3,567.3L598.4,568.3L598.6,568.3L598.7,569.5L598.9,570.9L599.1,568.9L599.2,569.6L599.4,569.5L599.5,569.7L599.7,568.3L599.8,569.0L600.0,568.1L600.2,566.8L600.3,565.0L600.5,565.9L600.6,567.1L600.8,566.1L601.0,563.7L601.1,564.9L601.3,564.0L601.4,564.8L601.6,561.8L601.7,561.8L601.9,561.8L602.0,561.8L602.2,565.5L602.4,565.5L602.5,567.3L602.7,563.1L602.8,564.2L603.0,565.5L603.1,563.8L603.3,566.4L603.5,565.8L603.6,565.2L603.8,568.3L603.9,568.5L604.1,568.7L604.2,566.5L604.4,565.3L604.6,567.1L604.7,565.4L604.9,565.9L605.0,564.3L605.2,563.3L605.4,564.8L605.5,564.3L605.7,564.2L605.8,562.1L606.0,560.9L606.1,560.1L606.3,563.3L606.5,562.8L606.6,562.6L606.8,560.7L606.9,560.4L607.1,561.8L607.2,561.3L607.4,557.9L607.6,560.7L607.7,556.0L607.9,555.6L608.0,557.6L608.2,557.5L608.3,557.4L608.5,555.4L608.7,554.2L608.8,555.5L609.0,556.4L609.1,554.4L609.3,554.8L609.5,554.9L609.6,556.9L609.8,557.5L609.9,555.6L610.1,553.6L610.2,553.7L610.4,555.7L610.5,556.7L610.7,555.3L610.9,554.0L611.0,556.5L611.2,555.0L611.3,555.5L611.5,557.8L611.6,559.6L611.8,557.8L612.0,559.8L612.1,559.4L612.3,558.6L612.4,560.7L612.6,563.9L612.8,563.0L612.9,563.2L613.1,561.5L613.2,563.3L613.4,562.8L613.5,562.2L613.7,560.4L613.9,561.9L614.0,563.8L614.2,561.5L614.3,558.9L614.5,559.7L614.6,562.5L614.8,562.3L615.0,557.2L615.1,554.9L615.3,557.0L615.4,554.7L615.6,552.7L615.7,549.5L615.9,550.4L616.1,552.9L616.2,547.7L616.4,545.1L616.5,546.2L616.7,548.8L616.9,545.5L617.0,540.3L617.2,544.0L617.3,543.0L617.5,544.1L617.6,540.2L617.8,541.9L618.0,541.7L618.1,543.2L618.3,544.4L618.4,545.6L618.6,546.3L618.7,546.7L618.9,549.4L619.0,547.9L619.2,546.3L619.4,546.4L619.5,547.5L619.7,551.3L619.8,553.0L620.0,553.2L620.1,554.5L620.3,554.6L620.5,552.5L620.6,553.9L620.8,553.2L620.9,554.0L621.1,553.9L621.2,554.9L621.4,557.2L621.6,556.5L621.7,554.1L621.9,556.0L622.0,557.4L622.2,558.2L622.4,560.8L622.5,559.1L622.7,557.7L622.8,560.0L623.0,559.9L623.1,558.8L623.3,560.2L623.5,559.6L623.6,559.9L623.8,560.6L623.9,560.1L624.1,560.8L624.2,563.3L624.4,562.9L624.6,561.9L624.7,560.0L624.9,561.6L625.0,559.5L625.2,560.6L625.4,560.7L625.5,560.8L625.7,560.0L625.8,557.5L626.0,556.6L626.1,558.3L626.3,555.8L626.5,554.6L626.6,554.9L626.8,557.5L626.9,556.5L627.1,555.1L627.2,554.9L627.4,554.2L627.5,553.7L627.7,555.5L627.9,555.7L628.0,556.8L628.2,558.1L628.3,554.9L628.5,553.3L628.6,558.5L628.8,557.3L629.0,556.1L629.1,556.2L629.3,555.5L629.4,556.0L629.6,558.1L629.8,559.6L629.9,555.3L630.1,558.8L630.2,559.9L630.4,558.4L630.5,556.5L630.7,559.8L630.9,560.0L631.0,559.8L631.2,558.5L631.3,559.0L631.5,561.5L631.6,561.5L631.8,559.4L632.0,558.4L632.1,558.5L632.3,559.4L632.4,558.1L632.6,557.2L632.7,561.1L632.9,558.5L633.1,559.2L633.2,559.7L633.4,557.6L633.5,553.7L633.7,556.0L633.9,553.0L634.0,552.7L634.2,552.7L634.3,553.7L634.5,551.1L634.6,549.1L634.8,551.0L635.0,553.3L635.1,554.0L635.3,552.2L635.4,547.0L635.6,549.3L635.7,549.8L635.9,548.2L636.0,551.6L636.2,552.9L636.4,548.9L636.5,546.9L636.7,546.4L636.8,545.1L637.0,541.2L637.1,541.0L637.3,538.9L637.5,540.8L637.6,543.8L637.8,541.6L637.9,535.6L638.1,534.7L638.2,533.9L638.4,535.8L638.6,535.6L638.7,531.6L638.9,532.4L639.0,534.2L639.2,533.2L639.4,531.5L639.5,530.5L639.7,530.3L639.8,533.6L640.0,534.9L640.1,531.1L640.3,534.8L640.5,536.6L640.6,535.4L640.8,535.7L640.9,533.5L641.1,538.6L641.2,537.7L641.4,540.3L641.6,541.0L641.7,543.4L641.9,544.0L642.0,544.7L642.2,540.9L642.4,538.7L642.5,537.5L642.7,540.8L642.8,540.9L643.0,539.2L643.1,540.2L643.3,538.8L643.5,539.1L643.6,536.8L643.8,534.6L643.9,536.6L644.1,538.9L644.2,539.1L644.4,536.7L644.5,534.8L644.7,532.7L644.9,532.6L645.0,534.6L645.2,535.8L645.3,530.6L645.5,528.8L645.6,525.9L645.8,530.9L646.0,527.4L646.1,530.0L646.3,532.4L646.4,529.1L646.6,527.0L646.8,525.6L646.9,522.8L647.1,524.8L647.2,524.0L647.4,527.0L647.5,526.1L647.7,525.6L647.9,526.5L648.0,522.0L648.2,523.0L648.3,521.5L648.5,521.9L648.6,521.6L648.8,523.0L649.0,526.4L649.1,523.5L649.3,523.3L649.4,524.9L649.6,523.0L649.8,524.8L649.9,523.0L650.1,522.7L650.2,518.3L650.4,522.0L650.5,514.3L650.7,513.8L650.9,510.5L651.0,510.2L651.2,517.4L651.3,516.3L651.5,511.1L651.6,508.6L651.8,512.2L652.0,511.6L652.1,508.3L652.3,507.3L652.4,511.0L652.6,505.2L652.7,508.0L652.9,505.7L653.0,502.7L653.2,506.4L653.4,509.1L653.5,505.1L653.7,505.9L653.8,504.3L654.0,504.4L654.1,501.5L654.3,500.8L654.5,503.9L654.6,505.0L654.8,505.2L654.9,503.1L655.1,501.8L655.2,502.7L655.4,504.0L655.6,504.2L655.7,503.3L655.9,503.7L656.0,504.5L656.2,501.9L656.4,503.0L656.5,504.7L656.7,506.4L656.8,504.1L657.0,506.5L657.1,504.6L657.3,504.6L657.5,502.2L657.6,506.1L657.8,503.5L657.9,502.6L658.1,506.4L658.2,505.0L658.4,504.4L658.6,500.8L658.7,502.7L658.9,500.1L659.0,501.6L659.2,504.1L659.4,503.8L659.5,501.2L659.7,498.8L659.8,499.7L660.0,500.6L660.1,502.4L660.3,493.8L660.5,494.4L660.6,497.3L660.8,492.2L660.9,498.9L661.1,498.1L661.2,495.8L661.4,496.3L661.5,500.0L661.7,497.7L661.9,496.1L662.0,489.3L662.2,495.0L662.3,493.0L662.5,489.9L662.6,493.1L662.8,494.2L663.0,490.8L663.1,488.8L663.3,488.8L663.4,497.6L663.6,506.5L663.8,510.9L663.9,512.4L664.1,509.2L664.2,507.8L664.4,509.6L664.5,510.4L664.7,512.8L664.9,514.9L665.0,516.3L665.2,511.5L665.3,510.6L665.5,514.4L665.6,517.1L665.8,515.1L666.0,521.8L666.1,522.1L666.3,524.4L666.4,520.3L666.6,520.2L666.8,524.4L666.9,528.4L667.1,527.9L667.2,526.0L667.4,527.4L667.5,522.3L667.7,523.0L667.9,521.8L668.0,517.1L668.2,516.4L668.3,521.2L668.5,525.0L668.6,522.3L668.8,518.1L669.0,516.2L669.1,515.9L669.3,514.0L669.4,515.9L669.6,520.0L669.7,512.3L669.9,512.8L670.0,514.0L670.2,513.5L670.4,514.1L670.5,510.6L670.7,516.2L670.8,511.3L671.0,509.0L671.1,510.2L671.3,510.0L671.5,508.7L671.6,506.7L671.8,506.4L671.9,507.6L672.1,507.0L672.3,512.1L672.4,506.4L672.6,511.8L672.7,506.4L672.9,510.1L673.0,510.4L673.2,510.7L673.4,509.6L673.5,509.0L673.7,506.4L673.8,506.4L674.0,506.4L674.1,509.1L674.3,509.9L674.5,510.4L674.6,511.7L674.8,509.8L674.9,510.3L675.1,509.3L675.2,507.9L675.4,509.3L675.6,511.5L675.7,510.1L675.9,514.1L676.0,511.1L676.2,507.8L676.4,515.4L676.5,515.9L676.7,512.6L676.8,514.5L677.0,511.3L677.1,518.6L677.3,515.2L677.5,516.8L677.6,514.2L677.8,516.0L677.9,517.0L678.1,516.4L678.2,516.4L678.4,518.0L678.5,517.9L678.7,511.5L678.9,512.0L679.0,512.6L679.2,510.6L679.3,513.5L679.5,507.6L679.6,503.3L679.8,504.7L680.0,503.4L680.1,502.4L680.3,504.3L680.4,503.0L680.6,502.3L680.8,500.4L680.9,503.9L681.1,499.1L681.2,498.5L681.4,495.4L681.5,497.5L681.7,499.6L681.9,500.9L682.0,498.2L682.2,497.4L682.3,493.1L682.5,490.1L682.6,493.4L682.8,494.1L683.0,495.3L683.1,494.4L683.3,491.3L683.4,487.9L683.6,489.2L683.8,495.0L683.9,492.2L684.1,489.4L684.2,490.9L684.4,487.4L684.5,488.3L684.7,486.6L684.9,487.2L685.0,493.6L685.2,486.5L685.3,487.5L685.5,486.0L685.6,489.6L685.8,485.7L686.0,481.5L686.1,481.9L686.3,484.5L686.4,482.5L686.6,484.9L686.7,484.3L686.9,485.1L687.0,482.6L687.2,479.5L687.4,478.9L687.5,474.8L687.7,477.5L687.8,481.3L688.0,478.1L688.1,475.0L688.3,480.8L688.5,480.5L688.6,475.5L688.8,474.8L688.9,475.9L689.1,483.1L689.3,485.7L689.4,480.6L689.6,482.2L689.7,485.1L689.9,483.5L690.0,480.4L690.2,484.3L690.4,488.8L690.5,488.8L690.7,485.2L690.8,486.8L691.0,483.6L691.1,482.1L691.3,475.8L691.5,481.7L691.6,480.9L691.8,482.1L691.9,481.6L692.1,479.1L692.2,477.0L692.4,479.2L692.6,478.2L692.7,480.4L692.9,473.5L693.0,473.6L693.2,479.5L693.4,477.7L693.5,474.6L693.7,471.3L693.8,474.8L694.0,472.3L694.1,470.1L694.3,473.9L694.5,474.6L694.6,477.9L694.8,478.5L694.9,478.7L695.1,481.3L695.2,484.4L695.4,487.8L695.5,486.0L695.7,492.6L695.9,491.4L696.0,485.3L696.2,486.6L696.3,481.9L696.5,481.1L696.7,480.4L696.8,481.6L697.0,474.5L697.1,484.0L697.3,480.3L697.4,471.3L697.6,473.6L697.8,473.6L697.9,475.8L698.1,473.7L698.2,474.2L698.4,472.3L698.5,474.3L698.7,468.2L698.9,466.1L699.0,466.6L699.2,466.8L699.3,466.5L699.5,463.8L699.6,462.6L699.8,461.9L700.0,464.1L700.1,465.8L700.3,460.9L700.4,460.7L700.6,464.4L700.8,460.7L700.9,460.1L701.1,456.6L701.2,455.9L701.4,455.2L701.5,456.3L701.7,456.5L701.9,454.7L702.0,448.4L702.2,454.6L702.3,453.4L702.5,451.8L702.6,452.9L702.8,457.4L703.0,449.7L703.1,455.9L703.3,446.4L703.4,449.9L703.6,446.7L703.7,448.3L703.9,450.1L704.0,446.4L704.2,447.7L704.4,447.3L704.5,446.9L704.7,438.8L704.8,442.2L705.0,441.1L705.2,446.0L705.3,441.4L705.5,440.2L705.6,440.5L705.8,443.4L705.9,444.4L706.1,442.9L706.3,439.5L706.4,440.4L706.6,440.6L706.7,442.6L706.9,434.4L707.0,431.2L707.2,428.8L707.4,427.3L707.5,435.8L707.7,435.9L707.8,438.6L708.0,427.9L708.1,436.4L708.3,425.8L708.5,425.0L708.6,423.5L708.8,430.9L708.9,430.6L709.1,433.1L709.2,428.5L709.4,424.8L709.6,428.9L709.7,425.4L709.9,427.4L710.0,425.9L710.2,423.1L710.4,423.1L710.5,423.1L710.7,430.0L710.8,433.8L711.0,431.3L711.1,430.1L711.3,435.1L711.5,437.4L711.6,442.1L711.8,444.8L711.9,444.9L712.1,451.0L712.2,444.0L712.4,443.9L712.5,449.8L712.7,453.4L712.9,460.4L713.0,456.4L713.2,463.5L713.3,458.5L713.5,456.4L713.7,454.6L713.8,455.4L714.0,452.9L714.1,447.0L714.3,439.4L714.4,441.7L714.6,440.7L714.8,436.7L714.9,435.0L715.1,439.6L715.2,438.2L715.4,437.3L715.5,432.0L715.7,434.9L715.9,426.0L716.0,426.5L716.2,421.3L716.3,424.2L716.5,422.7L716.6,421.5L716.8,414.5L717.0,412.7L717.1,406.1L717.3,407.5L717.4,411.9L717.6,413.6L717.8,414.1L717.9,408.2L718.1,405.3L718.2,410.9L718.4,405.2L718.5,402.4L718.7,395.3L718.9,402.3L719.0,401.9L719.2,400.7L719.3,408.2L719.5,401.7L719.6,400.6L719.8,398.0L720.0,394.6L720.1,394.6L720.3,399.1L720.4,397.8L720.6,402.0L720.7,400.6L720.9,404.7L721.0,401.3L721.2,398.1L721.4,398.6L721.5,395.2L721.7,406.7L721.8,407.4L722.0,410.1L722.2,409.8L722.3,411.8L722.5,407.8L722.6,409.8L722.8,409.9L722.9,410.8L723.1,414.8L723.3,416.7L723.4,411.2L723.6,411.9L723.7,412.2L723.9,398.2L724.0,397.6L724.2,397.4L724.4,400.4L724.5,403.6L724.7,398.0L724.8,397.3L725.0,401.5L725.1,392.2L725.3,391.9L725.5,397.5L725.6,395.2L725.8,397.5L725.9,398.0L726.1,399.8L726.2,404.3L726.4,401.1L726.6,401.8L726.7,400.5L726.9,402.9L727.0,402.7L727.2,404.8L727.4,404.9L727.5,397.5L727.7,402.5L727.8,400.8L728.0,407.5L728.1,410.8L728.3,413.2L728.5,415.8L728.6,411.1L728.8,421.1L728.9,422.9L729.1,417.0L729.2,421.0L729.4,427.9L729.6,430.8L729.7,434.1L729.9,439.6L730.0,439.0L730.2,434.5L730.3,433.0L730.5,421.5L730.7,417.7L730.8,417.2L731.0,417.5L731.1,420.1L731.3,415.5L731.4,421.4L731.6,417.6L731.8,410.3L731.9,408.2L732.1,401.5L732.2,406.8L732.4,403.2L732.5,406.3L732.7,401.2L732.9,400.0L733.0,404.9L733.2,398.8L733.3,399.8L733.5,392.3L733.6,392.3L733.8,396.8L734.0,392.3L734.1,395.5L734.3,402.6L734.4,407.3L734.6,406.6L734.8,408.8L734.9,410.8L735.1,411.6L735.2,404.9L735.4,414.0L735.5,419.1L735.7,413.0L735.9,414.1L736.0,405.2L736.2,418.9L736.3,419.0L736.5,413.6L736.6,418.0L736.8,409.4L737.0,408.7L737.1,410.3L737.3,413.6L737.4,407.1L737.6,405.1L737.7,398.9L737.9,401.1L738.1,405.5L738.2,407.8L738.4,407.6L738.5,408.2L738.7,403.6L738.8,393.2L739.0,397.2L739.2,400.2L739.3,398.9L739.5,402.1L739.6,396.0L739.8,394.9L739.9,389.5L740.1,386.6L740.3,390.9L740.4,393.1L740.6,398.7L740.7,388.9L740.9,381.9L741.0,380.5L741.2,387.1L741.4,366.9L741.5,370.7L741.7,367.0L741.8,360.1L742.0,368.8L742.1,371.1L742.3,366.9L742.5,360.1L742.6,370.2L742.8,364.4L742.9,364.1L743.1,360.1L743.2,370.4L743.4,366.6L743.6,360.1L743.7,371.8L743.9,364.9L744.0,374.3L744.2,367.7L744.4,367.5L744.5,367.7L744.7,369.1L744.8,372.4L745.0,370.1L745.1,374.1L745.3,382.9L745.5,387.7L745.6,383.1L745.8,386.2L745.9,398.9L746.1,393.4L746.2,393.0L746.4,402.0L746.6,392.8L746.7,398.8L746.9,400.1L747.0,407.1L747.2,409.5L747.3,417.5L747.5,408.3L747.7,414.7L747.8,415.3L748.0,413.2L748.1,416.8L748.3,417.5L748.5,415.0L748.6,408.6L748.8,408.5L748.9,411.1L749.1,413.5L749.2,409.0L749.4,421.3L749.5,415.2L749.7,416.4L749.9,421.0L750.0,417.8L750.2,420.3L750.3,422.6L750.5,418.7L750.6,425.3L750.8,429.6L751.0,423.7L751.1,426.2L751.3,428.2L751.4,433.6L751.6,430.3L751.8,424.7L751.9,430.1L752.1,432.0L752.2,437.6L752.4,428.6L752.5,429.4L752.7,433.1L752.9,436.1L753.0,429.2L753.2,435.7L753.3,431.6L753.5,433.1L753.6,432.5L753.8,441.9L754.0,442.2L754.1,449.8L754.3,443.1L754.4,454.7L754.6,447.3L754.7,449.1L754.9,455.6L755.1,451.3L755.2,455.8L755.4,462.3L755.5,463.4L755.7,466.8L755.8,459.1L756.0,463.8L756.2,474.9L756.3,483.0L756.5,471.4L756.6,479.5L756.8,478.1L757.0,483.6L757.1,492.5L757.3,497.4L757.4,494.3L757.6,500.6L757.7,494.1L757.9,499.5L758.0,509.6L758.2,515.3L758.4,521.3L758.5,518.9L758.7,522.5L758.8,525.7L759.0,531.4L759.1,536.5L759.3,525.8L759.5,537.8L759.6,540.8L759.8,540.2L759.9,540.8L760.1,528.1L760.2,532.0L760.4,529.9L760.6,526.0L760.7,529.5L760.9,533.5L761.0,525.1L761.2,518.6L761.4,520.2L761.5,530.3L761.7,520.6L761.8,518.6L762.0,522.6L762.1,532.8L762.3,530.8L762.5,530.0L762.6,528.5L762.8,528.3L762.9,532.8L763.1,534.0L763.2,521.6L763.4,510.2L763.6,523.8L763.7,529.4L763.9,508.2L764.0,511.8L764.2,521.2L764.3,520.3L764.5,518.6L764.7,508.9L764.8,503.4L765.0,511.1L765.1,508.1L765.3,509.8L765.5,505.8L765.6,511.4L765.8,512.2L765.9,501.3L766.1,497.5L766.2,501.2L766.4,504.3L766.5,506.6L766.7,503.1L766.9,505.3L767.0,487.3L767.2,487.3L767.3,487.3L767.5,493.1L767.6,487.3L767.8,487.3L768.0,487.3L768.1,488.7L768.3,496.8L768.4,499.3L768.6,489.9L768.8,491.7L768.9,500.0L769.1,497.6L769.2,498.0L769.4,490.4L769.5,487.9L769.7,485.8L769.9,485.3L770.0,489.2L770.2,488.1L770.3,495.3L770.5,488.4L770.6,490.9L770.8,487.9L771.0,486.6L771.1,490.5L771.3,496.0L771.4,500.3L771.6,497.9L771.7,497.1L771.9,503.5L772.1,504.8L772.2,511.3L772.4,508.8L772.5,508.9L772.7,505.3L772.8,503.1L773.0,506.8L773.2,512.0L773.3,512.3L773.5,504.2L773.6,511.1L773.8,510.1L774.0,498.6L774.1,500.7L774.3,501.1L774.4,500.6L774.6,499.0L774.7,499.1L774.9,501.0L775.0,492.3L775.2,486.6L775.4,486.0L775.5,487.3L775.7,491.0L775.8,487.4L776.0,481.7L776.1,489.2L776.3,487.8L776.5,476.4L776.6,470.4L776.8,477.0L776.9,475.8L777.1,487.8L777.2,478.0L777.4,476.9L777.6,468.1L777.7,469.7L777.9,472.1L778.0,474.6L778.2,467.2L778.4,470.3L778.5,470.5L778.7,458.1L778.8,459.7L779.0,464.7L779.1,469.5L779.3,472.5L779.5,459.4L779.6,457.4L779.8,460.0L779.9,458.4L780.1,451.0L780.2,457.6L780.4,460.2L780.6,463.8L780.7,464.3L780.9,454.4L781.0,458.9L781.2,459.0L781.4,458.0L781.5,453.1L781.7,452.8L781.8,438.1L782.0,441.8L782.1,441.7L782.3,447.2L782.5,455.0L782.6,445.7L782.8,437.9L782.9,438.4L783.1,440.4L783.2,441.9L783.4,446.1L783.5,449.6L783.7,449.0L783.9,448.3L784.0,447.8L784.2,447.4L784.3,453.6L784.5,453.8L784.6,453.0L784.8,452.1L785.0,456.6L785.1,458.7L785.3,454.7L785.4,453.8L785.6,459.4L785.8,458.7L785.9,452.7L786.1,451.0L786.2,453.0L786.4,452.5L786.5,454.2L786.7,444.1L786.9,448.9L787.0,448.0L787.2,449.4L787.3,447.5L787.5,446.8L787.6,441.4L787.8,439.7L788.0,444.5L788.1,441.4L788.3,440.1L788.4,437.4L788.6,438.3L788.7,436.6L788.9,438.9L789.1,437.0L789.2,438.9L789.4,433.7L789.5,431.9L789.7,433.2L789.9,432.1L790.0,432.1L790.2,426.0L790.3,432.6L790.5,430.9L790.6,433.1L790.8,431.6L791.0,428.4L791.1,429.9L791.3,427.3L791.4,432.8L791.6,427.1L791.7,425.4L791.9,425.4L792.0,429.9L792.2,431.7L792.4,428.6L792.5,426.1L792.7,430.2L792.8,428.9L793.0,432.0L793.1,431.0L793.3,430.0L793.5,425.0L793.6,429.1L793.8,423.8L793.9,425.9L794.1,419.7L794.2,419.3L794.4,414.4L794.6,410.4L794.7,410.6L794.9,417.9L795.0,412.6L795.2,411.7L795.4,405.9L795.5,406.7L795.7,409.6L795.8,411.3L796.0,408.4L796.1,403.1L796.3,405.4L796.5,411.9L796.6,404.5L796.8,406.8L796.9,398.1L797.1,398.4L797.2,397.5L797.4,390.9L797.6,385.3L797.7,388.6L797.9,389.1L798.0,388.4L798.2,385.3L798.4,385.4L798.5,393.3L798.7,395.1L798.8,398.4L799.0,393.6L799.1,394.4L799.3,403.5L799.5,408.8L799.6,406.2L799.8,399.9L799.9,397.4L800.1,391.4L800.2,397.1L800.4,399.7L800.5,397.6L800.7,391.0L800.9,388.9L801.0,388.8L801.2,387.0L801.3,386.5L801.5,386.4L801.6,393.7L801.8,385.6L802.0,382.5L802.1,386.7L802.3,387.0L802.4,382.5L802.6,380.9L802.8,379.5L802.9,382.6L803.1,381.8L803.2,381.9L803.4,377.9L803.5,381.2L803.7,384.1L803.9,384.4L804.0,387.1L804.2,383.4L804.3,386.2L804.5,387.5L804.6,380.4L804.8,383.9L805.0,380.9L805.1,386.4L805.3,385.3L805.4,385.3L805.6,381.6L805.8,382.9L805.9,373.1L806.1,375.5L806.2,374.3L806.4,371.5L806.5,373.7L806.7,372.8L806.9,376.7L807.0,373.4L807.2,378.7L807.3,377.5L807.5,382.9L807.6,378.8L807.8,378.3L808.0,377.1L808.1,388.3L808.3,389.6L808.4,387.5L808.6,394.7L808.7,387.9L808.9,390.4L809.0,402.6L809.2,400.3L809.4,396.7L809.5,401.1L809.7,400.3L809.8,400.7L810.0,401.2L810.1,398.8L810.3,397.1L810.5,387.3L810.6,393.6L810.8,386.8L810.9,383.1L811.1,382.6L811.2,393.8L811.4,388.1L811.6,387.6L811.7,385.0L811.9,379.2L812.0,376.5L812.2,382.0L812.4,388.0L812.5,383.7L812.7,384.7L812.8,381.6L813.0,377.4L813.1,386.9L813.3,380.2L813.5,375.6L813.6,371.6L813.8,375.7L813.9,376.5L814.1,375.7L814.2,375.5L814.4,378.0L814.6,373.2L814.7,376.0L814.9,370.1L815.0,375.2L815.2,367.1L815.4,367.1L815.5,375.8L815.7,377.3L815.8,371.7L816.0,369.4L816.1,370.0L816.3,367.1L816.5,371.5L816.6,367.1L816.8,367.9L816.9,372.4L817.1,375.9L817.2,372.3L817.4,377.7L817.5,381.8L817.7,380.0L817.9,384.9L818.0,386.2L818.2,393.3L818.3,388.1L818.5,387.6L818.6,399.8L818.8,401.3L819.0,406.2L819.1,403.9L819.3,405.7L819.4,402.6L819.6,403.5L819.8,411.1L819.9,412.0L820.1,411.2L820.2,413.8L820.4,415.4L820.5,414.6L820.7,415.4L820.9,423.6L821.0,417.9L821.2,421.4L821.3,420.9L821.5,410.7L821.6,406.4L821.8,406.8L822.0,411.0L822.1,410.1L822.3,401.0L822.4,398.0L822.6,398.4L822.8,403.0L822.9,407.8L823.1,410.0L823.2,405.5L823.4,402.0L823.5,404.1L823.7,406.3L823.9,407.8L824.0,411.1L824.2,411.1L824.3,405.1L824.5,402.2L824.6,399.8L824.8,401.4L825.0,400.8L825.1,407.8L825.3,407.1L825.4,406.2L825.6,397.9L825.7,395.5L825.9,395.0L826.0,397.2L826.2,399.3L826.4,398.2L826.5,400.0L826.7,398.8L826.8,395.9L827.0,399.8L827.1,400.2L827.3,403.0L827.5,402.2L827.6,399.9L827.8,392.2L827.9,391.8L828.1,391.9L828.3,383.7L828.4,380.8L828.6,380.7L828.7,380.7L828.9,382.1L829.0,384.2L829.2,380.7L829.4,388.3L829.5,388.4L829.7,388.0L829.8,386.6L830.0,388.2L830.1,391.7L830.3,391.6L830.5,385.6L830.6,386.6L830.8,385.8L830.9,390.2L831.1,391.5L831.2,391.8L831.4,393.9L831.6,395.8L831.7,392.9L831.9,397.1L832.0,395.5L832.2,396.0L832.4,389.5L832.5,388.0L832.7,387.9L832.8,387.2L833.0,389.2L833.1,388.4L833.3,392.5L833.5,383.1L833.6,383.6L833.8,378.7L833.9,384.8L834.1,381.3L834.2,382.9L834.4,376.0L834.5,374.7L834.7,380.3L834.9,380.1L835.0,384.7L835.2,370.5L835.3,372.7L835.5,367.9L835.6,371.5L835.8,370.2L836.0,377.3L836.1,372.8L836.3,371.2L836.4,367.0L836.6,375.2L836.8,371.4L836.9,365.5L837.1,370.4L837.2,374.3L837.4,368.4L837.5,373.2L837.7,373.7L837.9,365.3L838.0,372.7L838.2,369.6L838.3,375.6L838.5,367.3L838.6,362.6L838.8,362.6L839.0,365.1L839.1,374.9L839.3,369.9L839.4,368.1L839.6,374.6L839.8,368.7L839.9,376.2L840.1,382.3L840.2,383.6L840.4,381.8L840.5,379.4L840.7,377.8L840.9,380.9L841.0,373.5L841.2,383.6L841.3,382.9L841.5,377.7L841.6,377.3L841.8,379.8L842.0,377.4L842.1,383.1L842.3,385.5L842.4,380.5L842.6,380.1L842.7,377.9L842.9,382.0L843.0,385.4L843.2,385.5L843.4,384.4L843.5,379.0L843.7,375.8L843.8,384.6L844.0,380.8L844.1,375.1L844.3,375.4L844.5,381.5L844.6,385.5L844.8,379.1L844.9,377.5L845.1,379.0L845.3,380.1L845.4,374.4L845.6,374.3L845.7,375.5L845.9,378.7L846.0,372.8L846.2,368.2L846.4,368.2L846.5,375.0L846.7,376.0L846.8,376.5L847.0,382.6L847.1,379.1L847.3,384.2L847.5,380.4L847.6,380.6L847.8,381.6L847.9,385.5L848.1,387.8L848.2,385.0L848.4,393.1L848.6,392.3L848.7,393.9L848.9,389.6L849.0,394.9L849.2,397.6L849.4,396.4L849.5,390.1L849.7,386.6L849.8,389.0L850.0,383.9L850.1,386.8L850.3,389.4L850.5,390.2L850.6,390.8L850.8,389.9L850.9,385.8L851.1,389.7L851.2,383.7L851.4,385.6L851.5,390.0L851.7,388.0L851.9,389.6L852.0,390.3L852.2,385.8L852.3,385.6L852.5,383.8L852.7,382.5L852.8,382.8L853.0,386.1L853.1,385.1L853.3,384.3L853.4,382.1L853.6,383.5L853.8,376.2L853.9,385.9L854.1,386.6L854.2,387.5L854.4,380.1L854.5,383.1L854.7,378.3L854.9,379.0L855.0,376.2L855.2,377.6L855.3,383.5L855.5,390.2L855.6,390.4L855.8,387.1L856.0,384.8L856.1,386.5L856.3,391.1L856.4,386.9L856.6,385.3L856.8,387.6L856.9,384.5L857.1,388.2L857.2,390.8L857.4,388.4L857.5,390.9L857.7,387.1L857.9,395.3L858.0,388.2L858.2,393.7L858.3,393.8L858.5,395.3L858.6,402.6L858.8,404.1L859.0,396.8L859.1,396.3L859.3,401.8L859.4,402.3L859.6,401.2L859.7,399.2L859.9,400.7L860.0,406.7L860.2,406.0L860.4,403.9L860.5,402.6L860.7,400.6L860.8,406.7L861.0,406.5L861.2,399.1L861.3,397.8L861.5,398.4L861.6,403.5L861.8,400.5L861.9,404.2L862.1,403.5L862.3,404.6L862.4,402.5L862.6,397.9L862.7,404.6L862.9,402.1L863.0,405.8L863.2,408.8L863.4,411.4L863.5,409.5L863.7,406.1L863.8,411.8L864.0,412.5L864.1,401.1L864.3,401.1L864.5,401.0L864.6,401.5L864.8,408.8L864.9,405.2L865.1,413.8L865.2,413.5L865.4,409.6L865.6,412.1L865.7,413.7L865.9,409.8L866.0,415.0L866.2,419.4L866.4,418.5L866.5,423.7L866.7,420.3L866.8,422.0L867.0,419.2L867.1,420.1L867.3,425.3L867.5,427.9L867.6,431.1L867.8,435.2L867.9,441.6L868.1,461.0L868.2,457.9L868.4,457.2L868.5,449.8L868.7,445.7L868.9,446.7L869.0,442.1L869.2,443.6L869.3,441.6L869.5,440.7L869.7,436.6L869.8,435.5L870.0,430.1L870.1,428.6L870.3,432.6L870.4,428.6L870.6,430.8L870.8,431.3L870.9,430.4L871.1,436.1L871.2,432.9L871.4,429.7L871.5,427.2L871.7,437.8L871.9,436.7L872.0,438.4L872.2,435.6L872.3,437.9L872.5,438.5L872.6,431.9L872.8,434.7L873.0,435.0L873.1,434.6L873.3,431.9L873.4,435.0L873.6,439.4L873.8,442.9L873.9,444.8L874.1,446.7L874.2,448.9L874.4,448.4L874.5,449.9L874.7,446.5L874.9,443.2L875.0,443.0L875.2,431.7L875.3,436.0L875.5,439.0L875.6,438.5L875.8,437.5L876.0,436.6L876.1,431.8L876.3,430.9L876.4,422.9L876.6,422.6L876.7,421.6L876.9,424.2L877.0,418.0L877.2,425.6L877.4,427.1L877.5,425.1L877.7,420.8L877.8,427.3L878.0,430.5L878.2,427.6L878.3,425.1L878.5,431.0L878.6,430.4L878.8,431.0L878.9,431.1L879.1,430.5L879.3,433.1L879.4,434.8L879.6,436.4L879.7,429.3L879.9,429.3L880.0,428.4L880.2,422.8L880.4,429.7L880.5,425.8L880.7,424.4L880.8,426.4L881.0,424.2L881.1,418.4L881.3,419.7L881.5,419.0L881.6,423.3L881.8,419.3L881.9,424.7L882.1,424.0L882.2,428.7L882.4,432.8L882.6,432.4L882.7,430.5L882.9,430.8L883.0,423.6L883.2,424.5L883.4,430.7L883.5,427.0L883.7,421.9L883.8,415.4L884.0,417.5L884.1,423.2L884.3,427.1L884.5,426.2L884.6,420.9L884.8,418.7L884.9,420.5L885.1,420.6L885.2,415.8L885.4,413.8L885.6,407.9L885.7,403.5L885.9,410.4L886.0,412.1L886.2,402.6L886.3,404.7L886.5,404.9L886.7,401.4L886.8,406.4L887.0,397.5L887.1,394.3L887.3,390.5L887.4,400.7L887.6,395.5L887.8,400.3L887.9,403.3L888.1,395.0L888.2,390.0L888.4,397.7L888.5,393.7L888.7,390.2L888.9,387.6L889.0,383.4L889.2,386.5L889.3,387.6L889.5,391.4L889.6,389.7L889.8,384.3L890.0,387.6L890.1,388.5L890.3,389.2L890.4,386.5L890.6,383.9L890.8,383.6L890.9,382.4L891.1,384.5L891.2,387.2L891.4,383.9L891.5,387.7L891.7,388.4L891.9,380.8L892.0,387.5L892.2,384.7L892.3,382.7L892.5,386.2L892.6,390.0L892.8,394.4L893.0,393.0L893.1,390.1L893.3,396.2L893.4,392.5L893.6,389.9L893.7,386.9L893.9,398.0L894.1,402.7L894.2,400.0L894.4,397.0L894.5,398.1L894.7,402.9L894.8,404.6L895.0,410.1L895.2,410.2L895.3,405.2L895.5,405.4L895.6,404.4L895.8,403.6L895.9,409.5L896.1,410.0L896.3,403.4L896.4,407.6L896.6,403.4L896.7,407.8L896.9,406.4L897.0,411.1L897.2,413.5L897.4,415.0L897.5,412.9L897.7,417.7L897.8,422.7L898.0,426.4L898.1,428.2L898.3,429.6L898.5,432.8L898.6,436.2L898.8,439.6L898.9,440.1L899.1,441.4L899.2,440.2L899.4,439.5L899.6,435.8L899.7,440.1L899.9,443.2L900.0,445.6L900.2,443.9L900.4,440.5L900.5,438.0L900.7,438.0L900.8,438.9L901.0,439.8L901.1,440.0L901.3,436.4L901.5,430.4L901.6,428.5L901.8,428.5L901.9,433.4L902.1,435.9L902.2,436.9L902.4,435.1L902.6,438.9L902.7,440.7L902.9,442.0L903.0,443.4L903.2,439.8L903.3,436.5L903.5,435.7L903.7,438.6L903.8,441.1L904.0,441.6L904.1,436.2L904.3,432.2L904.5,434.8L904.6,432.3L904.8,434.4L904.9,440.5L905.1,444.0L905.2,440.8L905.4,439.2L905.5,441.6L905.7,441.5L905.9,440.4L906.0,440.3L906.2,443.7L906.3,442.6L906.5,440.7L906.6,433.7L906.8,430.9L907.0,429.8L907.1,420.3L907.3,420.5L907.4,419.1L907.6,422.7L907.8,422.1L907.9,419.3L908.1,419.4L908.2,419.1L908.4,425.7L908.5,418.4L908.7,418.7L908.9,421.6L909.0,419.4L909.2,424.6L909.3,422.9L909.5,427.7L909.6,428.7L909.8,428.3L910.0,430.0L910.1,427.7L910.3,427.6L910.4,425.9L910.6,425.1L910.7,429.3L910.9,424.8L911.1,425.5L911.2,422.8L911.4,414.6L911.5,411.3L911.7,409.2L911.8,409.0L912.0,406.9L912.2,409.9L912.3,410.1L912.5,411.8L912.6,410.2L912.8,413.3L913.0,408.7L913.1,409.3L913.3,412.9L913.4,413.8L913.6,419.2L913.7,419.3L913.9,416.2L914.0,414.5L914.2,419.8L914.4,420.5L914.5,419.7L914.7,419.9L914.8,414.5L915.0,419.3L915.1,421.1L915.3,422.3L915.5,423.8L915.6,424.7L915.8,423.8L915.9,423.5L916.1,422.9L916.2,422.8L916.4,427.1L916.6,423.9L916.7,419.3L916.9,422.7L917.0,426.5L917.2,430.6L917.4,426.2L917.5,424.8L917.7,422.8L917.8,431.3L918.0,432.2L918.1,431.3L918.3,430.5L918.5,429.7L918.6,432.5L918.8,423.2L918.9,421.3L919.1,420.5L919.2,428.5L919.4,423.0L919.6,424.5L919.7,422.7L919.9,417.1L920.0,422.5L920.2,419.1L920.3,422.3L920.5,419.7L920.7,420.9L920.8,417.7L921.0,413.3L921.1,413.0L921.3,414.6L921.5,415.5L921.6,415.8L921.8,407.9L921.9,412.2L922.1,406.3L922.2,405.8L922.4,409.1L922.5,415.5L922.7,405.5L922.9,402.4L923.0,402.7L923.2,402.4L923.3,409.1L923.5,412.0L923.6,412.4L923.8,402.7L924.0,403.1L924.1,406.1L924.3,412.4L924.4,408.3L924.6,412.5L924.8,409.9L924.9,409.1L925.1,405.9L925.2,407.0L925.4,410.6L925.5,411.8L925.7,410.7L925.9,413.5L926.0,415.1L926.2,417.4L926.3,421.6L926.5,420.2L926.6,419.0L926.8,417.5L927.0,419.7L927.1,420.9L927.3,420.3L927.4,425.5L927.6,426.1L927.7,429.3L927.9,431.4L928.1,429.8L928.2,431.4L928.4,420.9L928.5,421.7L928.7,428.1L928.8,431.0L929.0,426.4L929.2,421.5L929.3,420.0L929.5,420.0L929.6,425.4L929.8,428.3L930.0,425.4L930.1,420.0L930.3,422.9L930.4,423.2L930.6,422.1L930.7,428.4L930.9,436.2L931.0,433.1L931.2,426.1L931.4,429.9L931.5,429.3L931.7,433.2L931.8,433.7L932.0,438.2L932.1,436.2L932.3,436.9L932.5,431.1L932.6,431.6L932.8,431.1L932.9,439.1L933.1,433.5L933.2,435.6L933.4,436.6L933.6,443.6L933.7,442.7L933.9,441.7L934.0,441.2L934.2,440.8L934.4,440.4L934.5,437.9L934.7,436.2L934.8,432.5L935.0,432.4L935.1,433.9L935.3,433.9L935.5,441.0L935.6,440.6L935.8,437.7L935.9,431.4L936.1,433.1L936.2,431.1L936.4,437.2L936.6,438.0L936.7,433.1L936.9,433.5L937.0,436.7L937.2,436.7L937.4,429.9L937.5,429.9L937.7,429.9L937.8,432.0L938.0,436.7L938.1,433.4L938.3,430.7L938.5,430.6L938.6,433.1L938.8,438.2L938.9,435.8L939.1,434.8L939.2,433.2L939.4,442.2L939.5,442.2L939.7,443.0L939.9,443.1L940.0,448.2L940.2,447.6L940.3,447.9L940.5,451.1L940.6,456.3L940.8,459.4L941.0,461.7L941.1,463.7L941.3,465.8L941.4,468.0L941.6,463.9L941.8,468.2L941.9,470.4L942.1,473.9L942.2,475.0L942.4,473.2L942.5,473.6L942.7,477.8L942.9,472.9L943.0,472.7L943.2,473.6L943.3,472.1L943.5,475.3L943.6,473.7L943.8,470.6L944.0,465.9L944.1,464.2L944.3,468.0L944.4,467.1L944.6,471.0L944.7,463.4L944.9,466.0L945.1,462.6L945.2,465.6L945.4,464.0L945.5,461.2L945.7,461.5L945.9,467.4L946.0,466.8L946.2,466.8L946.3,465.2L946.5,462.8L946.6,460.4L946.8,459.8L947.0,459.1L947.1,458.8L947.3,456.8L947.4,456.6L947.6,455.1L947.7,452.3L947.9,451.1L948.0,452.0L948.2,447.4L948.4,451.5L948.5,456.1L948.7,451.1L948.8,454.7L949.0,457.7L949.1,449.4L949.3,445.6L949.5,445.9L949.6,442.1L949.8,442.3L949.9,444.4L950.1,438.2L950.2,437.4L950.4,438.6L950.6,436.3L950.7,436.9L950.9,436.9L951.0,436.6L951.2,435.8L951.4,435.8L951.5,441.1L951.7,443.1L951.8,446.8L952.0,443.9L952.1,439.7L952.3,442.2L952.5,436.9L952.6,441.0L952.8,437.2L952.9,438.1L953.1,436.7L953.2,431.2L953.4,432.4L953.6,431.0L953.7,439.4L953.9,439.0L954.0,438.9L954.2,429.4L954.4,429.4L954.5,429.4L954.7,434.0L954.8,429.4L955.0,434.6L955.1,436.4L955.3,441.9L955.5,442.3L955.6,438.8L955.8,436.8L955.9,437.5L956.1,442.1L956.2,448.1L956.4,448.5L956.5,448.5L956.7,443.2L956.9,444.7L957.0,443.5L957.2,446.2L957.3,443.2L957.5,447.2L957.6,446.0L957.8,443.1L958.0,440.3L958.1,447.4L958.3,448.1L958.4,448.4L958.6,446.3L958.8,447.0L958.9,450.1L959.1,451.3L959.2,447.9L959.4,454.2L959.5,451.8L959.7,456.2L959.9,448.1L960.0,451.3L960.2,456.2L960.3,454.5L960.5,449.8L960.6,449.9L960.8,450.9L961.0,451.2L961.1,453.8L961.3,455.4L961.4,451.1L961.6,454.3L961.7,453.9L961.9,458.2L962.1,455.9L962.2,451.3L962.4,453.9L962.5,456.6L962.7,454.9L962.9,458.4L963.0,463.2L963.2,462.9L963.3,460.1L963.5,458.7L963.6,456.9L963.8,463.4L964.0,464.0L964.1,459.1L964.3,462.6L964.4,466.0L964.6,469.1L964.7,471.1L964.9,465.5L965.0,465.6L965.2,469.4L965.4,469.0L965.5,467.6L965.7,465.7L965.8,464.2L966.0,462.7L966.1,466.9L966.3,471.3L966.5,466.5L966.6,462.5L966.8,468.2L966.9,467.3L967.1,467.7L967.2,470.4L967.4,470.9L967.6,470.4L967.7,469.4L967.9,468.5L968.0,465.9L968.2,469.4L968.4,468.0L968.5,468.9L968.7,471.1L968.8,472.7L969.0,470.3L969.1,474.3L969.3,472.6L969.5,473.1L969.6,474.7L969.8,475.6L969.9,473.7L970.1,470.1L970.2,471.5L970.4,473.0L970.6,471.2L970.7,465.1L970.9,462.1L971.0,458.8L971.2,462.3L971.4,459.0L971.5,455.1L971.7,452.6L971.8,448.5L972.0,453.2L972.1,452.3L972.3,448.5L972.5,453.9L972.6,455.5L972.8,455.0L972.9,454.6L973.1,450.0L973.2,454.0L973.4,453.0L973.5,452.4L973.7,446.0L973.9,450.6L974.0,447.2L974.2,444.9L974.3,441.7L974.5,445.2L974.6,449.5L974.8,447.3L975.0,441.2L975.1,437.7L975.3,444.7L975.4,445.1L975.6,441.1L975.8,445.5L975.9,444.2L976.1,439.3L976.2,437.7L976.4,441.3L976.5,441.4L976.7,439.1L976.9,441.4L977.0,442.8L977.2,441.2L977.3,443.0L977.5,448.9L977.6,444.7L977.8,444.7L978.0,441.6L978.1,442.7L978.3,451.4L978.4,452.4L978.6,450.6L978.8,449.1L978.9,444.4L979.1,445.6L979.2,441.0L979.4,445.1L979.5,440.9L979.7,436.1L979.9,440.6L980.0,436.1L980.2,443.3L980.3,446.3L980.5,443.9L980.6,444.5L980.8,442.1L981.0,442.3L981.1,445.5L981.3,437.6L981.4,442.9L981.6,437.0L981.7,445.5L981.9,445.5L982.0,442.9L982.2,441.1L982.4,436.5L982.5,436.6L982.7,434.1L982.8,433.4L983.0,429.0L983.1,428.1L983.3,429.3L983.5,426.9L983.6,427.9L983.8,431.4L983.9,425.6L984.1,425.7L984.3,424.2L984.4,431.1L984.6,425.2L984.7,429.1L984.9,426.4L985.0,424.3L985.2,424.3L985.4,423.5L985.5,421.2L985.7,431.9L985.8,433.9L986.0,431.3L986.1,430.0L986.3,429.1L986.5,426.8L986.6,420.7L986.8,424.7L986.9,420.1L987.1,415.0L987.2,419.7L987.4,416.7L987.6,414.2L987.7,414.3L987.9,417.0L988.0,413.7L988.2,418.3L988.4,411.6L988.5,412.2L988.7,408.1L988.8,412.4L989.0,415.7L989.1,419.8L989.3,418.4L989.5,425.6L989.6,417.0L989.8,424.7L989.9,428.5L990.1,425.9L990.2,424.3L990.4,427.9L990.5,430.6L990.7,431.4L990.9,434.2L991.0,435.5L991.2,442.1L991.3,440.6L991.5,435.5L991.6,430.9L991.8,436.9L992.0,434.0L992.1,434.9L992.3,433.0L992.4,430.4L992.6,427.9L992.8,425.1L992.9,433.0L993.1,431.1L993.2,433.4L993.4,439.1L993.5,438.6L993.7,438.3L993.9,437.6L994.0,448.5L994.2,450.6L994.3,453.6L994.5,454.4L994.6,452.7L994.8,453.3L995.0,451.1L995.1,450.0L995.3,449.1L995.4,449.1L995.6,450.1L995.8,442.8L995.9,444.9L996.1,443.9L996.2,441.4L996.4,442.5L996.5,445.6L996.7,439.7L996.9,437.5L997.0,434.6L997.2,434.0L997.3,435.6L997.5,437.4L997.6,440.2L997.8,445.6L998.0,446.0L998.1,447.7L998.3,447.3L998.4,454.6L998.6,460.6L998.7,460.9L998.9,463.4L999.0,466.5L999.2,462.6L999.4,460.9L999.5,458.6L999.7,462.0L999.8,461.1L1000.0,458.5L1000.1,456.1L1000.3,455.4L1000.5,456.9L1000.6,454.9L1000.8,455.1L1000.9,460.7L1001.1,462.5L1001.3,462.0L1001.4,456.9L1001.6,456.6L1001.7,462.7L1001.9,464.2L1002.0,460.2L1002.2,457.8L1002.4,457.8L1002.5,457.8L1002.7,463.4L1002.8,459.6L1003.0,463.6L1003.1,464.9L1003.3,459.6L1003.5,465.7L1003.6,463.8L1003.8,461.3L1003.9,464.7L1004.1,467.7L1004.2,468.2L1004.4,466.9L1004.6,466.0L1004.7,468.8L1004.9,467.1L1005.0,464.4L1005.2,462.1L1005.4,457.7L1005.5,455.5L1005.7,452.6L1005.8,455.7L1006.0,451.3L1006.1,448.4L1006.3,450.9L1006.5,450.3L1006.6,452.9L1006.8,449.6L1006.9,454.3L1007.1,450.6L1007.2,450.9L1007.4,448.5L1007.5,457.9L1007.7,460.4L1007.9,456.3L1008.0,460.4L1008.2,459.8L1008.3,460.1L1008.5,457.8L1008.6,458.1L1008.8,456.3L1009.0,455.8L1009.1,454.5L1009.3,448.9L1009.4,450.5L1009.6,451.4L1009.8,450.8L1009.9,449.7L1010.1,455.5L1010.2,456.9L1010.4,456.9L1010.5,457.1L1010.7,452.5L1010.9,451.3L1011.0,448.1L1011.2,444.4L1011.3,440.7L1011.5,442.1L1011.6,441.2L1011.8,441.3L1012.0,439.0L1012.1,436.5L1012.3,435.2L1012.4,435.6L1012.6,437.8L1012.8,438.2L1012.9,433.6L1013.1,431.9L1013.2,430.5L1013.4,427.8L1013.5,431.6L1013.7,429.5L1013.9,428.3L1014.0,425.9L1014.2,429.7L1014.3,426.3L1014.5,425.4L1014.6,425.4L1014.8,423.1L1015.0,424.2L1015.1,425.5L1015.3,431.2L1015.4,429.2L1015.6,427.7L1015.7,430.6L1015.9,431.2L1016.0,429.0L1016.2,437.0L1016.4,439.8L1016.5,444.4L1016.7,442.2L1016.8,439.2L1017.0,437.2L1017.2,444.7L1017.3,443.1L1017.5,443.1L1017.6,444.8L1017.8,443.9L1017.9,441.2L1018.1,443.5L1018.3,441.5L1018.4,442.6L1018.6,439.2L1018.7,440.6L1018.9,444.7L1019.0,444.9L1019.2,445.2L1019.4,445.3L1019.5,445.9L1019.7,441.6L1019.8,439.4L1020.0,443.0L1020.1,447.1L1020.3,441.4L1020.5,445.9L1020.6,442.4L1020.8,440.0L1020.9,440.9L1021.1,442.6L1021.2,443.8L1021.4,446.6L1021.6,448.5L1021.7,448.7L1021.9,445.9L1022.0,447.7L1022.2,448.0L1022.4,450.6L1022.5,450.9L1022.7,447.7L1022.8,456.4L1023.0,456.3L1023.1,460.5L1023.3,458.8L1023.5,459.3L1023.6,456.5L1023.8,461.9L1023.9,455.0L1024.1,462.8L1024.2,460.3L1024.4,457.9L1024.5,459.1L1024.7,456.9L1024.9,455.2L1025.0,458.4L1025.2,459.3L1025.3,465.3L1025.5,467.5L1025.7,472.8L1025.8,477.2L1026.0,475.7L1026.1,471.5L1026.3,471.7L1026.4,469.3L1026.6,468.5L1026.8,465.2L1026.9,466.8L1027.1,462.7L1027.2,466.1L1027.4,462.8L1027.5,464.6L1027.7,468.6L1027.9,467.4L1028.0,469.9L1028.2,466.1L1028.3,469.7L1028.5,470.2L1028.7,474.8L1028.8,472.3L1029.0,472.1L1029.1,470.9L1029.3,476.8L1029.4,479.7L1029.6,477.6L1029.8,473.6L1029.9,467.7L1030.1,465.4L1030.2,468.5L1030.4,465.3L1030.5,462.7L1030.7,461.0L1030.8,463.3L1031.0,463.8L1031.2,461.4L1031.3,459.9L1031.5,464.0L1031.6,466.5L1031.8,464.8L1032.0,466.6L1032.1,471.9L1032.3,471.5L1032.4,472.3L1032.6,473.1L1032.7,473.9L1032.9,466.2L1033.0,465.7L1033.2,466.8L1033.4,469.2L1033.5,465.3L1033.7,467.7L1033.8,466.9L1034.0,467.7L1034.2,467.6L1034.3,466.6L1034.5,472.4L1034.6,471.1L1034.8,474.5L1034.9,473.5L1035.1,467.4L1035.3,468.5L1035.4,467.8L1035.6,467.8L1035.7,466.3L1035.9,466.6L1036.0,463.1L1036.2,465.3L1036.4,465.4L1036.5,464.8L1036.7,470.8L1036.8,471.7L1037.0,473.2L1037.2,470.5L1037.3,477.8L1037.5,474.2L1037.6,472.3L1037.8,474.5L1037.9,476.5L1038.1,478.0L1038.2,475.6L1038.4,475.3L1038.6,480.0L1038.7,481.8L1038.9,485.6L1039.0,485.7L1039.2,483.2L1039.3,484.1L1039.5,484.5L1039.7,486.6L1039.8,485.3L1040.0,488.7L1040.1,489.1L1040.3,492.5L1040.5,494.3L1040.6,493.8L1040.8,491.5L1040.9,493.4L1041.1,495.7L1041.2,502.1L1041.4,502.3L1041.5,501.4L1041.7,501.4L1041.9,505.0L1042.0,507.4L1042.2,505.6L1042.3,505.9L1042.5,506.8L1042.7,507.9L1042.8,507.0L1043.0,506.6L1043.1,502.4L1043.3,501.1L1043.4,500.6L1043.6,496.6L1043.8,494.6L1043.9,497.1L1044.1,497.2L1044.2,499.4L1044.4,498.2L1044.5,498.5L1044.7,497.3L1044.9,496.5L1045.0,500.3L1045.2,495.9L1045.3,499.1L1045.5,493.8L1045.7,493.8L1045.8,493.5L1046.0,487.3L1046.1,491.4L1046.3,488.5L1046.4,485.8L1046.6,487.3L1046.8,483.5L1046.9,481.3L1047.1,474.6L1047.2,474.4L1047.4,459.7L1047.5,456.1L1047.7,460.1L1047.8,461.6L1048.0,459.8L1048.2,459.3L1048.3,453.5L1048.5,458.4L1048.6,457.9L1048.8,458.2L1049.0,461.7L1049.1,460.3L1049.3,464.2L1049.4,461.5L1049.6,458.4L1049.7,459.2L1049.9,457.7L1050.1,457.2L1050.2,449.1L1050.4,451.8L1050.5,449.8L1050.7,448.9L1050.8,447.7L1051.0,446.9L1051.2,447.0L1051.3,450.1L1051.5,445.1L1051.6,442.0L1051.8,441.2L1051.9,444.6L1052.1,442.5L1052.3,437.9L1052.4,443.3L1052.6,440.4L1052.7,443.8L1052.9,442.8L1053.0,441.5L1053.2,445.3L1053.4,444.2L1053.5,443.7L1053.7,445.3L1053.8,442.3L1054.0,444.1L1054.2,446.4L1054.3,446.2L1054.5,449.4L1054.6,446.6L1054.8,448.1L1054.9,446.3L1055.1,449.3L1055.2,455.8L1055.4,452.1L1055.6,459.3L1055.7,462.1L1055.9,458.3L1056.0,462.1L1056.2,460.5L1056.3,461.9L1056.5,458.8L1056.7,463.2L1056.8,460.7L1057.0,462.1L1057.1,456.4L1057.3,453.1L1057.5,454.0L1057.6,453.4L1057.8,452.1L1057.9,453.4L1058.1,456.4L1058.2,454.7L1058.4,454.4L1058.6,456.6L1058.7,458.6L1058.9,453.5L1059.0,459.6L1059.2,460.7L1059.3,457.2L1059.5,450.9L1059.7,450.8L1059.8,451.1L1060.0,449.4L1060.1,447.1L1060.3,444.6L1060.4,439.7L1060.6,432.0L1060.8,436.1L1060.9,437.1L1061.1,437.1L1061.2,431.2L1061.4,431.0L1061.5,433.4L1061.7,431.9L1061.9,429.3L1062.0,429.5L1062.2,431.5L1062.3,432.6L1062.5,428.6L1062.7,425.6L1062.8,426.2L1063.0,424.7L1063.1,429.9L1063.3,431.6L1063.4,428.8L1063.6,427.2L1063.8,430.1L1063.9,425.0L1064.1,421.7L1064.2,419.4L1064.4,422.7L1064.5,420.4L1064.7,425.2L1064.8,425.8L1065.0,427.8L1065.2,420.9L1065.3,422.5L1065.5,424.7L1065.6,428.6L1065.8,425.2L1066.0,428.4L1066.1,418.4L1066.3,417.2L1066.4,423.0L1066.6,424.8L1066.7,421.0L1066.9,418.6L1067.1,419.1L1067.2,415.2L1067.4,419.4L1067.5,419.2L1067.7,427.8L1067.8,427.2L1068.0,425.8L1068.2,427.9L1068.3,422.0L1068.5,425.2L1068.6,418.3L1068.8,417.8L1069.0,418.4L1069.1,418.2L1069.3,421.1L1069.4,423.5L1069.6,419.6L1069.7,414.9L1069.9,408.0L1070.0,411.4L1070.2,410.3L1070.4,415.6L1070.5,408.8L1070.7,411.5L1070.8,407.6L1071.0,407.7L1071.2,402.4L1071.3,409.5L1071.5,403.1L1071.6,405.5L1071.8,411.1L1071.9,414.1L1072.1,409.9L1072.2,406.2L1072.4,406.2L1072.6,410.9L1072.7,412.8L1072.9,407.4L1073.0,409.9L1073.2,414.7L1073.3,419.1L1073.5,414.8L1073.7,413.4L1073.8,411.2L1074.0,415.4L1074.1,415.8L1074.3,418.6L1074.5,413.3L1074.6,414.1L1074.8,408.6L1074.9,413.2L1075.1,414.4L1075.2,410.2L1075.4,407.0L1075.6,404.2L1075.7,404.2L1075.9,411.0L1076.0,407.4L1076.2,411.3L1076.3,404.4L1076.5,410.9L1076.7,416.1L1076.8,416.4L1077.0,410.6L1077.1,411.4L1077.3,421.5L1077.5,416.1L1077.6,421.6L1077.8,427.3L1077.9,427.4L1078.1,427.4L1078.2,423.4L1078.4,421.9L1078.5,420.4L1078.7,411.5L1078.9,414.1L1079.0,416.0L1079.2,415.4L1079.3,413.9L1079.5,411.7L1079.7,414.4L1079.8,410.8L1080.0,403.8L1080.1,405.8L1080.3,406.6L1080.4,408.3L1080.6,408.0L1080.8,405.8L1080.9,403.3L1081.1,400.3L1081.2,399.2L1081.4,390.7L1081.5,399.5L1081.7,400.2L1081.8,394.8L1082.0,398.5L1082.2,393.9L1082.3,394.4L1082.5,391.2L1082.6,392.4L1082.8,391.6L1083.0,393.0L1083.1,391.1L1083.3,390.8L1083.4,385.9L1083.6,385.0L1083.7,391.4L1083.9,388.7L1084.1,383.3L1084.2,382.3L1084.4,379.6L1084.5,382.7L1084.7,381.2L1084.8,378.9L1085.0,380.9L1085.2,380.7L1085.3,390.8L1085.5,394.5L1085.6,382.2L1085.8,393.1L1086.0,394.2L1086.1,394.8L1086.3,390.8L1086.4,383.4L1086.6,391.6L1086.7,391.8L1086.9,390.8L1087.0,398.7L1087.2,398.7L1087.4,398.4L1087.5,390.8L1087.7,388.8L1087.8,398.7L1088.0,397.8L1088.2,399.5L1088.3,396.7L1088.5,399.3L1088.6,392.4L1088.8,392.4L1088.9,393.1L1089.1,396.1L1089.2,395.0L1089.4,401.2L1089.6,398.9L1089.7,397.9L1089.9,398.8L1090.0,403.3L1090.2,404.8L1090.3,400.4L1090.5,401.3L1090.7,398.0L1090.8,395.0L1091.0,403.1L1091.1,404.8L1091.3,397.1L1091.5,391.5L1091.6,387.4L1091.8,388.6L1091.9,389.1L1092.1,394.5L1092.2,389.1L1092.4,389.8L1092.6,385.1L1092.7,386.3L1092.9,386.3L1093.0,388.5L1093.2,386.4L1093.3,379.5L1093.5,379.5L1093.7,379.5L1093.8,389.8L1094.0,397.6L1094.1,395.1L1094.3,390.4L1094.5,390.4L1094.6,395.2L1094.8,405.5L1094.9,401.4L1095.1,397.1L1095.2,407.1L1095.4,404.7L1095.5,403.1L1095.7,399.7L1095.9,405.9L1096.0,406.3L1096.2,409.5L1096.3,404.0L1096.5,405.3L1096.7,407.2L1096.8,406.7L1097.0,405.6L1097.1,408.3L1097.3,401.4L1097.4,405.3L1097.6,402.9L1097.8,399.2L1097.9,403.9L1098.1,400.3L1098.2,398.3L1098.4,399.8L1098.5,401.5L1098.7,396.1L1098.8,398.1L1099.0,398.5L1099.2,398.4L1099.3,401.4L1099.5,389.1L1099.6,392.9L1099.8,398.8L1100.0,398.1L1100.1,395.6L1100.3,390.7L1100.4,388.5L1100.6,392.0L1100.7,390.4L1100.9,391.9L1101.1,384.7L1101.2,383.2L1101.4,384.5L1101.5,393.2L1101.7,385.2L1101.8,383.6L1102.0,379.2L1102.2,379.6L1102.3,383.2L1102.5,383.7L1102.6,382.0L1102.8,378.1L1103.0,377.5L1103.1,383.9L1103.3,379.6L1103.4,375.4L1103.6,376.0L1103.7,370.1L1103.9,378.7L1104.0,375.8L1104.2,368.8L1104.4,369.1L1104.5,376.1L1104.7,368.3L1104.8,369.1L1105.0,367.8L1105.2,362.9L1105.3,361.9L1105.5,360.7L1105.6,370.0L1105.8,362.8L1105.9,364.1L1106.1,357.5L1106.2,363.3L1106.4,360.0L1106.6,357.0L1106.7,352.2L1106.9,360.2L1107.0,351.6L1107.2,352.5L1107.4,357.4L1107.5,350.9L1107.7,350.7L1107.8,350.1L1108.0,355.7L1108.1,345.2L1108.3,345.4L1108.5,346.6L1108.6,349.9L1108.8,345.2L1108.9,345.2L1109.1,348.1L1109.2,349.2L1109.4,349.1L1109.6,351.9L1109.7,349.5L1109.9,351.9L1110.0,347.3L1110.2,345.2L1110.3,345.2L1110.5,345.8L1110.7,350.5L1110.8,348.4L1111.0,345.5L1111.1,353.5L1111.3,352.9L1111.5,350.2L1111.6,348.3L1111.8,354.8L1111.9,352.4L1112.1,355.1L1112.2,356.8L1112.4,369.1L1112.5,369.0L1112.7,361.2L1112.9,363.7L1113.0,363.7L1113.2,368.6L1113.3,365.6L1113.5,367.3L1113.7,367.3L1113.8,363.9L1114.0,368.1L1114.1,360.7L1114.3,364.9L1114.4,364.7L1114.6,361.2L1114.8,363.6L1114.9,364.1L1115.1,359.2L1115.2,359.4L1115.4,361.5L1115.5,360.2L1115.7,365.0L1115.9,365.2L1116.0,365.4L1116.2,365.2L1116.3,355.1L1116.5,360.3L1116.6,357.8L1116.8,362.1L1117.0,358.3L1117.1,355.7L1117.3,359.0L1117.4,363.3L1117.6,356.0L1117.7,347.6L1117.9,350.7L1118.1,349.2L1118.2,339.6L1118.4,341.5L1118.5,346.2L1118.7,337.1L1118.8,338.3L1119.0,341.2L1119.2,339.0L1119.3,331.8L1119.5,332.0L1119.6,332.4L1119.8,335.3L1120.0,327.8L1120.1,326.2L1120.3,326.1L1120.4,328.0L1120.6,324.8L1120.7,315.9L1120.9,315.1L1121.0,315.6L1121.2,314.4L1121.4,331.2L1121.5,330.0L1121.7,324.0L1121.8,327.1L1122.0,328.0L1122.2,325.2L1122.3,321.5L1122.5,320.6L1122.6,320.4L1122.8,311.9L1122.9,310.0L1123.1,312.8L1123.2,306.7L1123.4,308.3L1123.6,312.3L1123.7,309.4L1123.9,310.5L1124.0,310.3L1124.2,303.5L1124.4,302.3L1124.5,303.9L1124.7,307.8L1124.8,302.5L1125.0,302.3L1125.1,306.7L1125.3,307.1L1125.5,307.9L1125.6,314.7L1125.8,315.4L1125.9,314.8L1126.1,307.7L1126.2,309.4L1126.4,311.1L1126.6,308.9L1126.7,305.6L1126.9,310.5L1127.0,311.3L1127.2,306.1L1127.3,311.6L1127.5,311.7L1127.7,316.1L1127.8,310.6L1128.0,316.6L1128.1,317.0L1128.3,316.9L1128.5,311.0L1128.6,312.3L1128.8,309.8L1128.9,310.2L1129.1,313.9L1129.2,318.6L1129.4,321.9L1129.5,321.9L1129.7,315.5L1129.9,318.8L1130.0,314.7L1130.2,310.6L1130.3,311.9L1130.5,316.0L1130.7,311.3L1130.8,309.7L1131.0,306.7L1131.1,306.5L1131.3,308.2L1131.4,308.0L1131.6,306.8L1131.8,310.3L1131.9,318.7L1132.1,310.6L1132.2,306.9L1132.4,309.1L1132.5,309.8L1132.7,308.5L1132.9,307.6L1133.0,307.0L1133.2,313.5L1133.3,324.0L1133.5,331.3L1133.6,337.4L1133.8,337.2L1134.0,338.1L1134.1,338.1L1134.3,346.2L1134.4,348.5L1134.6,357.3L1134.8,358.4L1134.9,368.5L1135.1,367.1L1135.2,367.2L1135.4,361.9L1135.5,362.2L1135.7,363.1L1135.8,371.1L1136.0,374.7L1136.2,376.1L1136.3,376.1L1136.5,368.5L1136.6,370.7L1136.8,372.4L1137.0,369.4L1137.1,370.3L1137.3,373.8L1137.4,370.9L1137.6,369.3L1137.7,362.2L1137.9,369.9L1138.0,362.9L1138.2,365.6L1138.4,359.5L1138.5,359.5L1138.7,352.8L1138.8,352.7L1139.0,354.6L1139.2,355.2L1139.3,355.7L1139.5,350.4L1139.6,343.5L1139.8,341.8L1139.9,336.2L1140.1,335.8L1140.3,338.0L1140.4,339.1L1140.6,334.7L1140.7,330.5L1140.9,334.0L1141.0,332.6L1141.2,329.8L1141.4,328.3L1141.5,340.2L1141.7,341.2L1141.8,340.8L1142.0,339.7L1142.1,349.1L1142.3,346.9L1142.5,345.1L1142.6,343.8L1142.8,341.3L1142.9,345.0L1143.1,341.1L1143.2,345.0L1143.4,344.2L1143.6,345.3L1143.7,345.1L1143.9,345.8L1144.0,353.5L1144.2,347.9L1144.3,340.2L1144.5,347.7L1144.7,353.8L1144.8,354.9L1145.0,347.5L1145.1,355.2L1145.3,355.3L1145.5,350.1L1145.6,347.2L1145.8,351.4L1145.9,353.4L1146.1,352.2L1146.2,344.7L1146.4,339.0L1146.5,332.6L1146.7,348.5L1146.9,343.8L1147.0,339.1L1147.2,323.6L1147.3,327.2L1147.5,331.9L1147.7,328.5L1147.8,323.8L1148.0,329.9L1148.1,324.6L1148.3,319.5L1148.4,310.9L1148.6,312.7L1148.8,320.4L1148.9,307.9L1149.1,316.6L1149.2,311.8L1149.4,322.0L1149.5,319.5L1149.7,317.2L1149.9,311.7L1150.0,306.7L1150.2,307.5L1150.3,303.8L1150.5,309.8L1150.6,303.7L1150.8,296.2L1151.0,299.4L1151.1,301.7L1151.3,301.3L1151.4,296.8L1151.6,298.5L1151.8,295.5L1151.9,297.6L1152.1,302.6L1152.2,305.7L1152.4,299.9L1152.5,307.6L1152.7,309.1L1152.8,305.0L1153.0,309.9L1153.2,309.0L1153.3,306.1L1153.5,307.2L1153.6,299.8L1153.8,293.9L1154.0,305.2L1154.1,299.7L1154.3,299.7L1154.4,300.1L1154.6,299.1L1154.7,293.8L1154.9,297.8L1155.0,306.1L1155.2,298.9L1155.4,299.2L1155.5,301.9L1155.7,303.0L1155.8,296.9L1156.0,296.6L1156.2,298.3L1156.3,309.6L1156.5,311.5L1156.6,311.5L1156.8,305.0L1156.9,300.8L1157.1,294.4L1157.3,287.3L1157.4,283.8L1157.6,280.2L1157.7,279.1L1157.9,286.0L1158.0,279.5L1158.2,275.8L1158.4,274.2L1158.5,281.4L1158.7,277.6L1158.8,268.8L1159.0,266.9L1159.2,268.5L1159.3,258.2L1159.5,262.8L1159.6,271.8L1159.8,266.3L1159.9,268.0L1160.1,261.8L1160.2,262.6L1160.4,257.0L1160.6,262.6L1160.7,263.4L1160.9,267.1L1161.0,263.9L1161.2,257.0L1161.3,257.0L1161.5,257.0L1161.7,262.7L1161.8,263.7L1162.0,265.0L1162.1,264.6L1162.3,265.9L1162.5,258.4L1162.6,257.0L1162.8,263.2L1162.9,261.0L1163.1,260.9L1163.2,262.7L1163.4,259.6L1163.5,260.0L1163.7,262.9L1163.9,267.7L1164.0,266.7L1164.2,267.7L1164.3,263.1L1164.5,267.1L1164.7,258.9L1164.8,257.4L1165.0,259.7L1165.1,261.8L1165.3,255.3L1165.4,252.0L1165.6,262.4L1165.8,259.9L1165.9,250.9L1166.1,259.2L1166.2,258.9L1166.4,260.6L1166.5,267.1L1166.7,270.1L1166.9,275.3L1167.0,276.4L1167.2,278.5L1167.3,277.9L1167.5,272.5L1167.7,280.7L1167.8,276.4L1168.0,276.8L1168.1,269.7L1168.3,273.0L1168.4,266.9L1168.6,277.4L1168.8,270.1L1168.9,271.3L1169.1,266.4L1169.2,270.5L1169.4,267.4L1169.5,271.0L1169.7,266.4L1169.8,270.6L1170.0,270.2L1170.2,276.9L1170.3,284.3L1170.5,277.3L1170.6,284.8L1170.8,280.3L1171.0,282.1L1171.1,281.1L1171.3,282.4L1171.4,281.5L1171.6,286.0L1171.7,288.0L1171.9,291.8L1172.0,292.2L1172.2,292.2L1172.4,280.1L1172.5,276.2L1172.7,278.3L1172.8,284.8L1173.0,279.9L1173.2,278.2L1173.3,283.0L1173.5,273.8L1173.6,271.3L1173.8,268.2L1173.9,263.1L1174.1,259.1L1174.3,262.6L1174.4,269.3L1174.6,264.9L1174.7,259.3L1174.9,257.5L1175.0,255.6L1175.2,258.7L1175.4,259.0L1175.5,261.5L1175.7,250.6L1175.8,244.0L1176.0,243.4L1176.2,241.0L1176.3,243.6L1176.5,245.4L1176.6,233.2L1176.8,245.3L1176.9,241.8L1177.1,243.5L1177.2,228.8L1177.4,235.2L1177.6,234.6L1177.7,227.5L1177.9,227.5L1178.0,234.4L1178.2,235.8L1178.3,240.8L1178.5,240.3L1178.7,241.7L1178.8,237.8L1179.0,232.2L1179.1,237.2L1179.3,236.5L1179.5,245.8L1179.6,247.0L1179.8,240.2L1179.9,240.8L1180.1,241.7L1180.2,243.1L1180.4,254.9L1180.5,240.2L1180.7,256.2L1180.9,241.9L1181.0,239.8L1181.2,243.7L1181.3,256.8L1181.5,256.7L1181.7,251.1L1181.8,250.6L1182.0,255.7L1182.1,260.7L1182.3,256.5L1182.4,259.2L1182.6,259.8L1182.8,258.5L1182.9,265.7L1183.1,253.5L1183.2,254.7L1183.4,257.3L1183.5,244.3L1183.7,240.8L1183.9,249.6L1184.0,249.0L1184.2,250.4L1184.3,249.3L1184.5,242.2L1184.7,246.3L1184.8,242.6L1185.0,246.7L1185.1,230.9L1185.3,233.1L1185.4,236.4L1185.6,241.0L1185.8,239.9L1185.9,237.9L1186.1,237.8L1186.2,235.3L1186.4,235.4L1186.5,235.6L1186.7,234.6L1186.8,245.2L1187.0,244.8L1187.2,241.2L1187.3,237.4L1187.5,243.2L1187.6,246.2L1187.8,248.8L1188.0,231.9L1188.1,245.8L1188.3,238.5L1188.4,229.8L1188.6,229.9L1188.7,237.6L1188.9,227.7L1189.0,219.3L1189.2,225.3L1189.4,219.0L1189.5,213.2L1189.7,226.0L1189.8,213.2L1190.0,215.9L1190.2,213.2L1190.3,215.4L1190.5,217.2L1190.6,223.3L1190.8,222.2L1190.9,214.4L1191.1,222.2L1191.3,224.5L1191.4,218.0L1191.6,225.2L1191.7,211.8L1191.9,215.9L1192.0,212.4L1192.2,219.9L1192.4,203.2L1192.5,209.7L1192.7,214.2L1192.8,214.8L1193.0,206.3L1193.2,198.7L1193.3,202.9L1193.5,208.8L1193.6,213.0L1193.8,206.5L1193.9,204.9L1194.1,194.8L1194.2,199.3L1194.4,190.3L1194.6,190.6L1194.7,204.1L1194.9,192.4L1195.0,202.0L1195.2,201.3L1195.3,194.9L1195.5,181.7L1195.7,187.7L1195.8,180.7L1196.0,175.5L1196.1,181.0L1196.3,191.1L1196.5,185.8L1196.6,184.8L1196.8,179.0L1196.9,171.5L1197.1,175.1L1197.2,174.5L1197.4,175.9L1197.5,173.8L1197.7,175.1L1197.9,182.4L1198.0,170.9L1198.2,178.1L1198.3,172.9L1198.5,171.9L1198.7,170.9L1198.8,176.3L1199.0,175.2L1199.1,179.2L1199.3,185.6L1199.4,181.7L1199.6,181.3L1199.8,185.0L1199.9,179.9L1200.1,187.7L1200.2,186.4L1200.4,190.0L1200.5,184.5L1200.7,181.1L1200.9,188.8L1201.0,186.6L1201.2,191.0L1201.3,200.1L1201.5,201.1L1201.7,197.1L1201.8,190.6L1202.0,189.0L1202.1,184.6L1202.3,196.7L1202.4,204.7L1202.6,207.7L1202.8,218.1L1202.9,191.7L1203.1,223.7L1203.2,200.4L1203.4,241.8L1203.5,298.9L1203.7,288.5L1203.8,304.5L1204.0,349.5L1204.2,339.7L1204.3,351.3L1204.5,325.0L1204.6,360.3L1204.8,379.4L1205.0,373.9L1205.1,378.9L1205.3,373.7L1205.4,389.5L1205.6,401.4L1205.7,401.4L1205.9,401.4L1206.1,401.4L1206.2,400.1L1206.4,368.3L1206.5,384.5L1206.7,366.9L1206.8,348.9L1207.0,359.5L1207.2,349.2L1207.3,336.8L1207.5,336.7L1207.6,340.6L1207.8,337.5L1207.9,350.2L1208.1,354.8L1208.3,361.1L1208.4,355.3L1208.6,352.2L1208.7,336.8L1208.9,338.8L1209.0,355.3L1209.2,349.2L1209.4,355.1L1209.5,342.9L1209.7,355.3L1209.8,340.4L1210.0,346.4L1210.2,330.4L1210.3,332.4L1210.5,342.9L1210.6,328.0L1210.8,314.3L1210.9,337.8L1211.1,324.5L1211.2,311.6L1211.4,302.0L1211.6,324.1L1211.7,299.8L1211.9,299.2L1212.0,307.3L1212.2,304.4L1212.3,300.4L1212.5,304.4L1212.7,302.3L1212.8,292.9L1213.0,290.7L1213.1,276.4L1213.3,290.8L1213.5,279.7L1213.6,268.9L1213.8,260.4L1213.9,278.6L1214.1,263.4L1214.2,265.2L1214.4,265.8L1214.6,263.9L1214.7,278.5L1214.9,258.8L1215.0,265.4L1215.2,254.4L1215.3,253.8L1215.5,268.2L1215.7,263.8L1215.8,268.2L1216.0,252.1L1216.1,239.0L1216.3,249.8L1216.4,245.2L1216.6,241.2L1216.8,237.4L1216.9,249.2L1217.1,253.5L1217.2,240.9L1217.4,242.8L1217.5,229.8L1217.7,242.2L1217.9,228.6L1218.0,239.5L1218.2,228.6L1218.3,229.0L1218.5,243.5L1218.7,241.4L1218.8,242.0L1219.0,240.7L1219.1,228.6L1219.3,236.8L1219.4,228.6L1219.6,235.8L1219.8,241.6L1219.9,246.6L1220.1,239.2L1220.2,239.3L1220.4,237.0L1220.5,246.8L1220.7,242.5L1220.8,245.6L1221.0,239.1L1221.2,235.3L1221.3,236.0L1221.5,246.2L1221.6,237.9L1221.8,252.2L1222.0,252.2L1222.1,253.4L1222.3,244.5L1222.4,240.6L1222.6,244.7L1222.7,242.9L1222.9,257.3L1223.1,256.9L1223.2,249.4L1223.4,243.3L1223.5,245.3L1223.7,264.6L1223.8,256.4L1224.0,249.4L1224.2,254.3L1224.3,258.2L1224.5,258.0L1224.6,270.2L1224.8,259.8L1225.0,260.2L1225.1,268.6L1225.3,268.3L1225.4,265.6L1225.6,273.8L1225.7,271.0L1225.9,272.8L1226.0,270.2L1226.2,265.4L1226.4,266.3L1226.5,278.2L1226.7,278.2L1226.8,272.0L1227.0,250.0L1227.2,259.8L1227.3,262.5L1227.5,261.9L1227.6,255.6L1227.8,246.4L1227.9,244.3L1228.1,252.4L1228.2,256.3L1228.4,253.0L1228.6,254.5L1228.7,256.4L1228.9,268.0L1229.0,267.7L1229.2,263.1L1229.3,261.0L1229.5,264.2L1229.7,261.7L1229.8,251.9L1230.0,247.8L1230.1,256.6L1230.3,246.2L1230.5,243.6L1230.6,231.6L1230.8,229.6L1230.9,227.3L1231.1,222.4L1231.2,229.4L1231.4,223.0L1231.6,220.5L1231.7,213.7L1231.9,203.4L1232.0,209.9L1232.2,207.0L1232.3,209.8L1232.5,200.9L1232.7,195.5L1232.8,194.1L1233.0,191.1L1233.1,191.4L1233.3,194.4L1233.5,188.7L1233.6,185.9L1233.8,181.6L1233.9,173.2L1234.1,167.1L1234.2,171.2L1234.4,179.6L1234.5,169.4L1234.7,169.1L1234.9,161.6L1235.0,159.6L1235.2,163.1L1235.3,168.5L1235.5,162.9L1235.7,148.2L1235.8,154.8L1236.0,155.9L1236.1,148.2L1236.3,148.2L1236.4,156.7L1236.6,155.9L1236.8,150.8L1236.9,148.2L1237.1,150.6L1237.2,165.3L1237.4,163.0L1237.5,156.6L1237.7,162.4L1237.8,164.4L1238.0,164.0L1238.2,167.9L1238.3,173.5L1238.5,168.7L1238.6,177.8L1238.8,176.2L1239.0,185.1L1239.1,185.0L1239.3,185.3L1239.4,187.9L1239.6,187.1L1239.7,195.5L1239.9,199.3L1240.1,199.3L1240.2,193.8L1240.4,188.4L1240.5,171.5L1240.7,171.1L1240.8,167.1L1241.0,173.7L1241.2,173.5L1241.3,173.7L1241.5,173.7L1241.6,198.9L1241.8,209.4L1242.0,203.2L1242.1,202.9L1242.3,187.8L1242.4,190.6L1242.6,188.9L1242.7,200.1L1242.9,199.9L1243.0,209.4L1243.2,201.1L1243.4,203.1L1243.5,200.3L1243.7,201.7L1243.8,192.3L1244.0,191.9L1244.2,194.7L1244.3,182.9L1244.5,181.3L1244.6,187.3L1244.8,194.3L1244.9,188.1L1245.1,185.9L1245.2,187.4L1245.4,175.3L1245.6,179.4L1245.7,177.4L1245.9,178.7L1246.0,182.9L1246.2,174.3L1246.3,164.2L1246.5,166.3L1246.7,171.8L1246.8,174.9L1247.0,165.7L1247.1,170.5L1247.3,165.2L1247.5,163.9L1247.6,163.9L1247.8,163.9L1247.9,168.6L1248.1,168.6L1248.2,174.4L1248.4,168.5L1248.6,168.1L1248.7,176.7L1248.9,170.8L1249.0,162.9L1249.2,164.6L1249.3,169.0L1249.5,175.2L1249.7,174.3L1249.8,153.7L1250.0,160.3L1250.1,155.2L1250.3,160.7L1250.5,153.2L1250.6,145.8L1250.8,145.6L1250.9,157.4L1251.1,155.3L1251.2,144.0L1251.4,140.6L1251.5,131.0L1251.7,127.7L1251.9,135.0L1252.0,128.5L1252.2,126.4L1252.3,128.9L1252.5,130.1L1252.7,124.6L1252.8,126.5L1253.0,127.4L1253.1,124.6L1253.3,137.5L1253.4,135.3L1253.6,139.3L1253.8,137.0L1253.9,138.9L1254.1,140.8L1254.2,130.9L1254.4,127.3L1254.5,129.9L1254.7,141.5L1254.8,145.3L1255.0,140.2L1255.2,138.0L1255.3,142.4L1255.5,146.5L1255.6,139.9L1255.8,141.3L1256.0,138.5L1256.1,136.2L1256.3,139.3L1256.4,140.4L1256.6,135.3L1256.7,140.8L1256.9,147.8L1257.1,154.9L1257.2,153.6L1257.4,150.7L1257.5,136.8L1257.7,137.0L1257.8,153.8L1258.0,145.4L1258.2,153.8L1258.3,142.8L1258.5,152.9L1258.6,157.2L1258.8,155.3L1259.0,155.8L1259.1,163.8L1259.3,152.4L1259.4,145.6L1259.6,152.0L1259.7,157.7L1259.9,162.5L1260.0,163.2L1260.2,167.4L1260.4,174.3L1260.5,162.6L1260.7,164.2L1260.8,161.2L1261.0,171.5L1261.2,171.2L1261.3,171.3L1261.5,163.7L1261.6,171.3L1261.8,170.5L1261.9,188.6L1262.1,183.7L1262.2,175.1L1262.4,178.2L1262.6,194.4L1262.7,179.8L1262.9,188.2L1263.0,199.3L1263.2,205.2L1263.3,193.7L1263.5,195.3L1263.7,190.8L1263.8,196.1L1264.0,200.6L1264.1,213.4L1264.3,215.4L1264.5,211.8L1264.6,207.7L1264.8,203.9L1264.9,207.1L1265.1,192.4L1265.2,197.2L1265.4,208.0L1265.6,205.2L1265.7,199.9L1265.9,194.5L1266.0,200.8L1266.2,200.4L1266.3,201.3L1266.5,194.5L1266.7,197.0L1266.8,199.4L1267.0,203.7L1267.1,213.8L1267.3,206.3L1267.5,210.0L1267.6,205.2L1267.8,205.9L1267.9,224.5L1268.1,214.1L1268.2,210.7L1268.4,217.3L1268.5,222.8L1268.7,222.9L1268.9,232.2L1269.0,233.0L1269.2,227.8L1269.3,228.7L1269.5,226.0L1269.7,239.2L1269.8,238.5L1270.0,239.1L1270.1,235.1L1270.3,232.7L1270.4,231.2L1270.6,243.1L1270.8,243.4L1270.9,245.2L1271.1,248.7L1271.2,248.8L1271.4,248.8L1271.5,240.2L1271.7,239.5L1271.9,235.7L1272.0,240.6L1272.2,236.4L1272.3,239.2L1272.5,234.9L1272.6,224.6L1272.8,227.7L1273.0,226.9L1273.1,217.8L1273.3,224.2L1273.4,220.6L1273.6,231.3L1273.7,226.8L1273.9,217.9L1274.1,226.2L1274.2,231.9L1274.4,244.9L1274.5,246.7L1274.7,247.7L1274.8,236.6L1275.0,242.2L1275.2,240.8L1275.3,241.3L1275.5,245.2L1275.6,246.8L1275.8,235.6L1276.0,228.6L1276.1,223.9L1276.3,222.5L1276.4,227.4L1276.6,222.5L1276.7,216.6L1276.9,207.8L1277.0,205.6L1277.2,203.0L1277.4,200.9L1277.5,206.2L1277.7,198.1L1277.8,197.8L1278.0,193.6L1278.2,203.1L1278.3,205.0L1278.5,203.2L1278.6,205.7L1278.8,200.8L1278.9,207.3L1279.1,198.7L1279.2,193.2L1279.4,195.0L1279.6,200.7L1279.7,202.8L1279.9,199.2L1280.0,188.8L1280.2,192.7L1280.4,193.7L1280.5,194.5L1280.7,190.6L1280.8,188.8L1281.0,204.6L1281.1,190.1L1281.3,190.0L1281.5,188.8L1281.6,197.3L1281.8,201.9L1281.9,206.5L1282.1,201.7L1282.2,202.8L1282.4,210.5L1282.6,214.0L1282.7,207.1L1282.9,198.6L1283.0,189.7L1283.2,178.3L1283.3,186.1L1283.5,193.0L1283.7,192.7L1283.8,187.5L1284.0,181.7L1284.1,163.5L1284.3,169.1L1284.5,166.6L1284.6,163.2L1284.8,162.4L1284.9,178.6L1285.1,169.7L1285.2,175.7L1285.4,192.7L1285.5,198.2L1285.7,169.7L1285.9,167.3L1286.0,184.2L1286.2,187.5L1286.3,180.6L1286.5,201.8L1286.7,209.5L1286.8,216.8L1287.0,203.1L1287.1,205.2L1287.3,212.2L1287.4,221.6L1287.6,235.0L1287.8,228.9L1287.9,227.8L1288.1,231.2L1288.2,227.7L1288.4,226.1L1288.5,220.9L1288.7,223.0L1288.9,218.6L1289.0,213.6L1289.2,216.5L1289.3,215.1L1289.5,212.1L1289.6,212.4L1289.8,206.0L1290.0,213.7L1290.1,208.7L1290.3,209.4L1290.4,219.7L1290.6,210.7L1290.8,201.1L1290.9,200.7L1291.1,204.1L1291.2,200.7L1291.4,202.3L1291.5,218.2L1291.7,228.1L1291.8,233.6L1292.0,230.0L1292.2,229.5L1292.3,238.4L1292.5,243.7L1292.6,252.1L1292.8,250.6L1293.0,239.9L1293.1,246.7L1293.3,247.5L1293.4,252.5L1293.6,257.2L1293.7,253.9L1293.9,256.5L1294.0,263.1L1294.2,264.5L1294.4,262.5L1294.5,256.4L1294.7,255.5L1294.8,267.2L1295.0,264.6L1295.2,254.8L1295.3,264.4L1295.5,265.8L1295.6,266.6L1295.8,261.5L1295.9,266.2L1296.1,257.4L1296.2,249.0L1296.4,254.1L1296.6,249.2L1296.7,248.7L1296.9,237.1L1297.0,229.3L1297.2,235.6L1297.4,238.4L1297.5,232.2L1297.7,228.3L1297.8,217.3L1298.0,221.9L1298.1,205.9L1298.3,212.0L1298.5,208.9L1298.6,207.5L1298.8,200.8L1298.9,196.6L1299.1,197.9L1299.2,195.9L1299.4,199.5L1299.6,195.6L1299.7,195.6L1299.9,206.8L1300.0,214.8L1300.2,204.3L1300.3,202.3L1300.5,212.6L1300.7,215.4L1300.8,215.3L1301.0,204.4L1301.1,199.0L1301.3,215.4L1301.5,214.2L1301.6,210.2L1301.8,210.7L1301.9,201.3L1302.1,196.8L1302.2,195.6L1302.4,203.8L1302.5,208.1L1302.7,207.8L1302.9,197.7L1303.0,201.9L1303.2,201.7L1303.3,207.0L1303.5,218.0L1303.7,207.1L1303.8,199.5L1304.0,190.4L1304.1,183.1L1304.3,182.9L1304.4,188.8L1304.6,192.2L1304.8,199.5L1304.9,190.8L1305.1,183.8L1305.2,183.6L1305.4,185.6L1305.5,179.1L1305.7,172.7L1305.9,171.1L1306.0,170.3L1306.2,171.5L1306.3,170.3L1306.5,174.8L1306.6,177.5L1306.8,171.0L1307.0,180.4L1307.1,176.4L1307.3,179.1L1307.4,184.1L1307.6,187.9L1307.8,187.0L1307.9,192.6L1308.1,192.0L1308.2,198.5L1308.4,187.8L1308.5,194.8L1308.7,190.7L1308.8,200.2L1309.0,200.6L1309.2,201.7L1309.3,215.6L1309.5,214.0L1309.6,215.6L1309.8,204.7L1310.0,213.5L1310.1,215.6L1310.3,215.6L1310.4,201.7L1310.6,198.2L1310.7,198.2L1310.9,198.2L1311.0,199.7L1311.2,203.2L1311.4,203.6L1311.5,210.1L1311.7,217.0L1311.8,224.2L1312.0,226.2L1312.2,226.1L1312.3,240.1L1312.5,239.4L1312.6,234.1L1312.8,231.2L1312.9,230.8L1313.1,237.9L1313.3,231.5L1313.4,217.3L1313.6,225.3L1313.7,220.4L1313.9,214.2L1314.0,212.0L1314.2,222.2L1314.4,222.9L1314.5,218.1L1314.7,202.0L1314.8,203.7L1315.0,211.9L1315.1,212.7L1315.3,208.0L1315.5,204.0L1315.6,192.5L1315.8,203.3L1315.9,208.6L1316.1,200.7L1316.2,199.3L1316.4,192.5L1316.6,192.5L1316.7,204.2L1316.9,200.2L1317.0,207.8L1317.2,198.2L1317.3,201.5L1317.5,194.8L1317.7,203.9L1317.8,204.8L1318.0,210.9L1318.1,215.0L1318.3,212.0L1318.5,216.4L1318.6,213.9L1318.8,213.0L1318.9,216.1L1319.1,218.0L1319.2,226.1L1319.4,218.0L1319.5,221.9L1319.7,225.0L1319.9,226.6L1320.0,234.3L1320.2,230.9L1320.3,240.4L1320.5,235.5L1320.7,238.1L1320.8,229.6L1321.0,229.4L1321.1,246.9L1321.3,250.4L1321.4,244.3L1321.6,240.4L1321.8,250.6L1321.9,258.6L1322.1,255.6L1322.2,258.5L1322.4,252.2L1322.5,245.2L1322.7,246.0L1322.9,240.0L1323.0,235.1L1323.2,236.7L1323.3,244.7L1323.5,243.0L1323.7,236.5L1323.8,235.6L1324.0,229.4L1324.1,230.0L1324.3,226.8L1324.4,224.0L1324.6,225.4L1324.8,233.1L1324.9,233.7L1325.1,232.5L1325.2,240.3L1325.4,240.8L1325.5,239.3L1325.7,233.3L1325.8,242.3L1326.0,243.2L1326.2,234.4L1326.3,232.6L1326.5,229.3L1326.6,240.0L1326.8,230.4L1327.0,230.4L1327.1,235.0L1327.3,233.2L1327.4,226.5L1327.6,222.8L1327.7,213.7L1327.9,211.0L1328.0,218.3L1328.2,217.4L1328.4,218.4L1328.5,213.3L1328.7,218.7L1328.8,216.1L1329.0,217.1L1329.2,214.9L1329.3,212.1L1329.5,200.0L1329.6,206.2L1329.8,210.8L1329.9,202.3L1330.1,201.5L1330.3,184.6L1330.4,192.4L1330.6,199.3L1330.7,208.3L1330.9,182.2L1331.0,178.8L1331.2,181.6L1331.4,176.2L1331.5,171.1L1331.7,170.5L1331.8,167.7L1332.0,179.0L1332.2,169.4L1332.3,183.5L1332.5,180.3L1332.6,168.8L1332.8,180.1L1332.9,174.7L1333.1,184.0L1333.2,174.1L1333.4,170.1L1333.6,178.0L1333.7,180.2L1333.9,179.3L1334.0,175.4L1334.2,177.1L1334.3,171.4L1334.5,172.2L1334.7,169.8L1334.8,162.1L1335.0,169.1L1335.1,161.2L1335.3,163.6L1335.5,169.5L1335.6,172.0L1335.8,165.5L1335.9,159.9L1336.1,169.3L1336.2,173.0L1336.4,171.8L1336.5,168.7L1336.7,171.5L1336.9,168.8L1337.0,181.6L1337.2,185.5L1337.3,180.0L1337.5,175.8L1337.7,184.9L1337.8,190.4L1338.0,190.3L1338.1,184.7L1338.3,188.1L1338.4,188.7L1338.6,189.4" stroke="#52a040"/>
</g>
<path d="M416.19,681.7v5.8M611.46,681.7v5.8M806.73,681.7v5.8M1002.00,681.7v5.8M1197.27,681.7v5.8M221.1,681.7v5.8M1338.6,681.7v5.8M221.1,661.82h-5.8M221.1,573.53h-5.8M221.1,485.24h-5.8M221.1,396.95h-5.8M221.1,308.65h-5.8M221.1,220.36h-5.8M221.1,132.07h-5.8" fill="none" stroke="#3c3c3c" stroke-width="1.35"/>
<path d="M259.97,681.7v3.5M299.03,681.7v3.5M338.08,681.7v3.5M377.14,681.7v3.5M455.24,681.7v3.5M494.30,681.7v3.5M533.35,681.7v3.5M572.41,681.7v3.5M650.51,681.7v3.5M689.57,681.7v3.5M728.62,681.7v3.5M767.68,681.7v3.5M845.78,681.7v3.5M884.84,681.7v3.5M923.89,681.7v3.5M962.95,681.7v3.5M1041.05,681.7v3.5M1080.11,681.7v3.5M1119.16,681.7v3.5M1158.22,681.7v3.5M1236.32,681.7v3.5M1275.38,681.7v3.5M1314.43,681.7v3.5" fill="none" stroke="#3c3c3c" stroke-width="1.15"/>
<rect x="221.1" y="99.6" width="1117.50" height="582.10" fill="none" stroke="#3c3c3c" stroke-width="1.4"/>
<text transform="matrix(1.01713,0.0005,0,1,199.85,668.20)" font-size="15.76">0</text>
<text transform="matrix(1.01713,0.0005,0,1,156.62,579.74)" font-size="15.76">50000</text>
<text transform="matrix(1.01713,0.0005,0,1,147.56,490.44)" font-size="15.76">100000</text>
<text transform="matrix(1.01713,0.0005,0,1,147.56,401.97)" font-size="15.76">150000</text>
<text transform="matrix(1.01713,0.0005,0,1,148.30,313.49)" font-size="15.76">200000</text>
<text transform="matrix(1.01713,0.0005,0,1,148.30,225.33)" font-size="15.76">250000</text>
<text transform="matrix(1.01713,0.0005,0,1,147.68,137.01)" font-size="15.76">300000</text>
<text transform="matrix(1.01713,0.0005,0,1,199.27,703.82)" font-size="15.76">1995</text>
<text transform="matrix(1.01713,0.0005,0,1,395.13,703.82)" font-size="15.76">2000</text>
<text transform="matrix(1.01713,0.0005,0,1,590.30,703.82)" font-size="15.76">2005</text>
<text transform="matrix(1.01713,0.0005,0,1,785.65,703.82)" font-size="15.76">2010</text>
<text transform="matrix(1.01713,0.0005,0,1,980.92,703.82)" font-size="15.76">2015</text>
<text transform="matrix(1.01713,0.0005,0,1,1176.10,703.82)" font-size="15.76">2020</text>
<text transform="matrix(1.01713,0.0005,0,1,759.87,726.75)" font-size="15.76">Data</text>
<text transform="translate(136.55,449.27) rotate(-90) matrix(1.01713,0.0005,0,1,0,0)" font-size="15.76">Montante (R$)</text>
<text transform="matrix(1.03096,0.0005,0,1,540.75,89.80)" font-size="18.55">Performance dos Investidores ao Longo do Tempo</text>
<text transform="matrix(1.01713,0.0005,0,1,1350.60,195.60)" font-size="15.76">R$ 266,224.36</text>
<text transform="matrix(1.01713,0.0005,0,1,1350.60,247.30)" font-size="15.76">R$ 236,742.90</text>
<text transform="matrix(1.01713,0.0005,0,1,1350.60,554.50)" font-size="15.76">R$ 62,971.37</text>
<rect x="228.1" y="107.6" width="144.8" height="100.9" rx="3.3" fill="#ffffff" fill-opacity="0.8" stroke="#e3e3e3" stroke-width="1.9"/>
<text transform="matrix(0.99746,0.0005,0,1,259.89,126.90)" font-size="15.76">Investidor</text>
<path d="M233.0,145.19H267.6" stroke="#3a76b1" stroke-width="2.7" fill="none"/>
<text transform="matrix(0.99492,0.0005,0,1,279.40,150.80)" font-size="15.76">Azarado</text>
<path d="M233.0,169.2H267.6" stroke="#ef852d" stroke-width="2.7" fill="none"/>
<text transform="matrix(0.99492,0.0005,0,1,279.40,174.90)" font-size="15.76">Aleatório</text>
<path d="M233.0,193.34H267.6" stroke="#52a040" stroke-width="2.7" fill="none"/>
<text transform="matrix(0.99492,0.0005,0,1,279.40,198.80)" font-size="15.76">Preguiçoso</text>
</svg>
</body></html>
